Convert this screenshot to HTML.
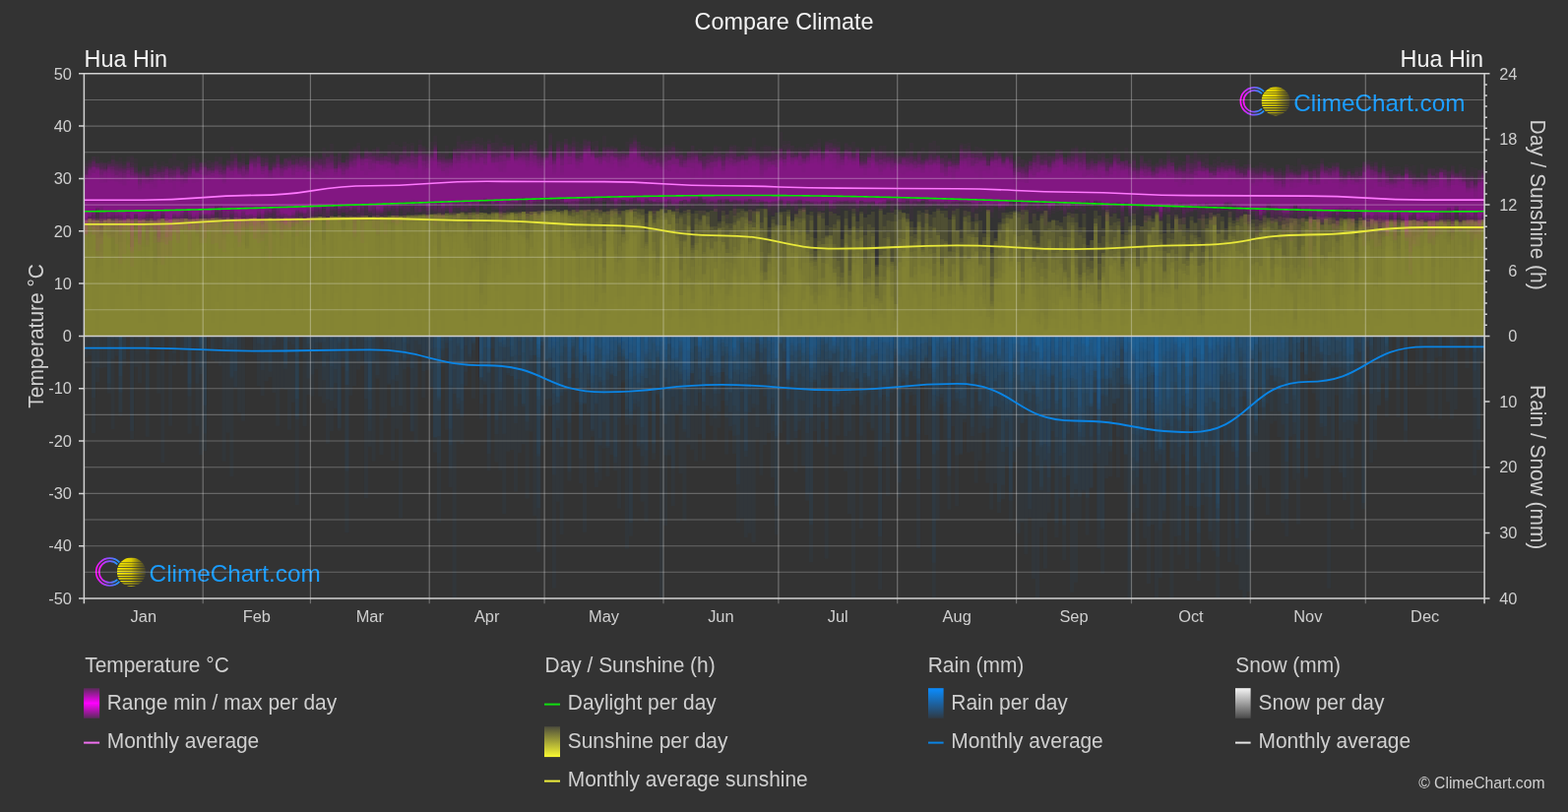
<!DOCTYPE html>
<html><head><meta charset="utf-8"><title>Compare Climate - Hua Hin</title>
<style>html,body{margin:0;padding:0;background:#333;width:1593px;height:825px;overflow:hidden}svg{display:block}</style>
</head><body>
<svg width="1593" height="825" viewBox="0 0 1593 825" font-family="'Liberation Sans', Arial, sans-serif">
<defs>
<clipPath id="pc"><rect x="85.4" y="74.8" width="1422.7" height="533.2"/></clipPath>
<linearGradient id="gRange" x1="0" y1="0" x2="0" y2="1"><stop offset="0" stop-color="#5a2a5a"/><stop offset="0.5" stop-color="#ff00ff"/><stop offset="1" stop-color="#5a2a5a"/></linearGradient>
<linearGradient id="gSun" x1="0" y1="0" x2="0" y2="1"><stop offset="0" stop-color="#4d4d3c"/><stop offset="1" stop-color="#fafa32"/></linearGradient>
<linearGradient id="gRain" x1="0" y1="0" x2="0" y2="1"><stop offset="0" stop-color="#0a8cff"/><stop offset="1" stop-color="#2f3a45"/></linearGradient>
<linearGradient id="gSnow" x1="0" y1="0" x2="0" y2="1"><stop offset="0" stop-color="#f4f4f4"/><stop offset="1" stop-color="#4a4a4a"/></linearGradient>
<linearGradient id="gRing" x1="0" y1="0" x2="1" y2="0"><stop offset="0" stop-color="#ff10ff"/><stop offset="0.5" stop-color="#8c50ff"/><stop offset="1" stop-color="#1a9cff"/></linearGradient>
<linearGradient id="gSunL" x1="0" y1="0" x2="1" y2="0"><stop offset="0" stop-color="#fff200"/><stop offset="0.5" stop-color="#d8c800"/><stop offset="1" stop-color="#b0a000" stop-opacity="0.15"/></linearGradient>
</defs>
<rect width="1593" height="825" fill="#333"/>
<g clip-path="url(#pc)">
<g fill="#8d8b36" fill-opacity="0.18">
<path d="M85.4 341.4V232h3.9V222h3.9V225h3.9V224h3.9V315h3.9V224h3.9V222h3.9V255h3.9V225h3.9V314h3.9V225h3.9V249h3.9V223h3.9V223h3.9V248h3.9V299h3.9V225h3.9V235h3.9V225h3.9V222h3.9V222h3.9V224h3.9V223h3.9V225h3.9V222h3.9V224h3.9V222h3.9V309h3.9V223h3.9V224h3.9V224h3.9V227h3.9V223h3.9V222h3.9V224h3.9V223h3.9V223h3.9V224h3.9V223h3.9V223h3.9V222h3.9V249h3.9V223h3.9V222h3.9V221h3.9V222h3.9V272h3.9V222h3.9V223h3.9V298h3.9V231h3.9V221h3.9V252h3.9V223h3.9V224h3.9V222h3.9V222h3.9V252h3.9V292h3.9V220h3.9V227h3.9V221h3.9V249h3.9V221h3.9V335h3.9V220h3.9V221h3.9V222h3.9V254h3.9V220h3.9V220h3.9V221h3.9V220h3.9V219h3.9V220h3.9V221h3.9V221h3.9V222h3.9V285h3.9V269h3.9V224h3.9V229h3.9V295h3.9V219h3.9V220h3.9V219h3.9V221h3.9V218h3.9V220h3.9V219h3.9V322h3.9V218h3.9V325h3.9V338h3.9V232h3.9V218h3.9V218h3.9V248h3.9V232h3.9V326h3.9V216h3.9V219h3.9V266h3.9V218h3.9V217h3.9V218h3.9V216h3.9V217h3.9V225h3.9V216h3.9V244h3.9V218h3.9V217h3.9V219h3.9V215h3.9V217h3.9V319h3.9V307h3.9V261h3.9V215h3.9V227h3.9V264h3.9V213h3.9V222h3.9V241h3.9V232h3.9V217h3.9V220h3.9V340h3.9V214h3.9V281h3.9V247h3.9V336h3.9V233h3.9V222h3.9V330h3.9V231h3.9V309h3.9V290h3.9V219h3.9V247h3.9V277h3.9V214h3.9V220h3.9V280h3.9V300h3.9V285h3.9V258h3.9V217h3.9V301h3.9V334h3.9V307h3.9V228h3.9V214h3.9V252h3.9V316h3.9V284h3.9V216h3.9V333h3.9V279h3.9V288h3.9V218h3.9V269h3.9V315h3.9V230h3.9V227h3.9V292h3.9V257h3.9V303h3.9V299h3.9V254h3.9V248h3.9V290h3.9V246h3.9V275h3.9V215h3.9V304h3.9V305h3.9V316h3.9V271h3.9V264h3.9V238h3.9V215h3.9V323h3.9V230h3.9V232h3.9V236h3.9V213h3.9V249h3.9V267h3.9V255h3.9V333h3.9V222h3.9V253h3.9V231h3.9V285h3.9V223h3.9V302h3.9V229h3.9V311h3.9V258h3.9V264h3.9V317h3.9V239h3.9V281h3.9V309h3.9V303h3.9V341h3.9V341h3.9V224h3.9V336h3.9V333h3.9V242h3.9V312h3.9V244h3.9V250h3.9V263h3.9V218h3.9V310h3.9V335h3.9V248h3.9V339h3.9V332h3.9V270h3.9V262h3.9V331h3.9V223h3.9V234h3.9V286h3.9V249h3.9V269h3.9V241h3.9V333h3.9V270h3.9V261h3.9V213h3.9V306h3.9V245h3.9V282h3.9V285h3.9V216h3.9V223h3.9V252h3.9V266h3.9V276h3.9V274h3.9V272h3.9V324h3.9V305h3.9V253h3.9V273h3.9V250h3.9V288h3.9V324h3.9V300h3.9V333h3.9V304h3.9V287h3.9V322h3.9V303h3.9V217h3.9V310h3.9V319h3.9V306h3.9V268h3.9V232h3.9V213h3.9V255h3.9V235h3.9V235h3.9V268h3.9V239h3.9V233h3.9V230h3.9V271h3.9V313h3.9V265h3.9V275h3.9V266h3.9V252h3.9V332h3.9V329h3.9V292h3.9V247h3.9V324h3.9V334h3.9V278h3.9V236h3.9V269h3.9V252h3.9V222h3.9V300h3.9V289h3.9V288h3.9V220h3.9V277h3.9V260h3.9V246h3.9V248h3.9V249h3.9V270h3.9V300h3.9V275h3.9V218h3.9V247h3.9V288h3.9V236h3.9V219h3.9V331h3.9V264h3.9V226h3.9V328h3.9V221h3.9V222h3.9V227h3.9V222h3.9V260h3.9V324h3.9V239h3.9V307h3.9V223h3.9V225h3.9V259h3.9V340h3.9V272h3.9V234h3.9V228h3.9V230h3.9V302h3.9V222h3.9V223h3.9V224h3.9V227h3.9V322h3.9V236h3.9V290h3.9V292h3.9V238h3.9V262h3.9V224h3.9V226h3.9V289h3.9V262h3.9V226h3.9V275h3.9V224h3.9V224h3.9V260h3.9V226h3.9V226h3.9V279h3.9V226h3.9V244h3.9V295h3.9V224h3.9V223h3.9V312h3.9V223h3.9V261h3.9V227h3.9V223h3.9V223h3.9V226h3.9V227h3.9V232h3.9V341.4Z"/>
<path d="M85.4 341.4V224h3.9V237h3.9V238h3.9V224h3.9V240h3.9V224h3.9V241h3.9V233h3.9V313h3.9V224h3.9V224h3.9V301h3.9V222h3.9V224h3.9V310h3.9V328h3.9V244h3.9V230h3.9V240h3.9V264h3.9V229h3.9V225h3.9V224h3.9V225h3.9V223h3.9V233h3.9V224h3.9V319h3.9V223h3.9V222h3.9V223h3.9V227h3.9V225h3.9V223h3.9V223h3.9V222h3.9V223h3.9V224h3.9V226h3.9V224h3.9V223h3.9V224h3.9V312h3.9V222h3.9V221h3.9V223h3.9V284h3.9V223h3.9V222h3.9V223h3.9V292h3.9V223h3.9V268h3.9V222h3.9V265h3.9V296h3.9V222h3.9V224h3.9V222h3.9V222h3.9V222h3.9V225h3.9V307h3.9V222h3.9V222h3.9V222h3.9V222h3.9V220h3.9V222h3.9V224h3.9V245h3.9V220h3.9V266h3.9V220h3.9V220h3.9V220h3.9V220h3.9V259h3.9V227h3.9V227h3.9V220h3.9V222h3.9V220h3.9V221h3.9V259h3.9V225h3.9V240h3.9V221h3.9V220h3.9V327h3.9V219h3.9V250h3.9V218h3.9V288h3.9V290h3.9V219h3.9V220h3.9V217h3.9V218h3.9V219h3.9V218h3.9V233h3.9V218h3.9V298h3.9V265h3.9V269h3.9V217h3.9V218h3.9V217h3.9V219h3.9V217h3.9V216h3.9V229h3.9V230h3.9V248h3.9V272h3.9V218h3.9V282h3.9V219h3.9V217h3.9V216h3.9V214h3.9V215h3.9V216h3.9V307h3.9V215h3.9V313h3.9V288h3.9V338h3.9V225h3.9V213h3.9V282h3.9V264h3.9V307h3.9V235h3.9V298h3.9V214h3.9V214h3.9V216h3.9V301h3.9V274h3.9V215h3.9V216h3.9V237h3.9V319h3.9V291h3.9V226h3.9V219h3.9V322h3.9V280h3.9V260h3.9V223h3.9V306h3.9V216h3.9V212h3.9V322h3.9V217h3.9V213h3.9V309h3.9V254h3.9V323h3.9V256h3.9V274h3.9V257h3.9V277h3.9V225h3.9V219h3.9V253h3.9V257h3.9V276h3.9V216h3.9V232h3.9V216h3.9V213h3.9V335h3.9V216h3.9V232h3.9V277h3.9V275h3.9V243h3.9V216h3.9V335h3.9V340h3.9V245h3.9V293h3.9V223h3.9V284h3.9V236h3.9V287h3.9V334h3.9V321h3.9V258h3.9V327h3.9V303h3.9V294h3.9V248h3.9V326h3.9V251h3.9V236h3.9V297h3.9V217h3.9V311h3.9V242h3.9V324h3.9V251h3.9V298h3.9V306h3.9V317h3.9V255h3.9V216h3.9V333h3.9V274h3.9V328h3.9V259h3.9V241h3.9V252h3.9V303h3.9V226h3.9V295h3.9V261h3.9V281h3.9V319h3.9V212h3.9V301h3.9V280h3.9V256h3.9V214h3.9V327h3.9V291h3.9V341h3.9V279h3.9V273h3.9V277h3.9V336h3.9V255h3.9V338h3.9V281h3.9V254h3.9V260h3.9V278h3.9V233h3.9V222h3.9V235h3.9V217h3.9V313h3.9V324h3.9V252h3.9V217h3.9V307h3.9V273h3.9V234h3.9V333h3.9V294h3.9V315h3.9V232h3.9V277h3.9V286h3.9V266h3.9V321h3.9V295h3.9V316h3.9V280h3.9V277h3.9V272h3.9V247h3.9V287h3.9V304h3.9V233h3.9V309h3.9V280h3.9V309h3.9V236h3.9V307h3.9V229h3.9V274h3.9V334h3.9V307h3.9V249h3.9V327h3.9V219h3.9V224h3.9V319h3.9V257h3.9V304h3.9V223h3.9V222h3.9V246h3.9V263h3.9V312h3.9V279h3.9V329h3.9V218h3.9V266h3.9V298h3.9V218h3.9V319h3.9V300h3.9V259h3.9V286h3.9V230h3.9V255h3.9V222h3.9V218h3.9V228h3.9V296h3.9V237h3.9V276h3.9V318h3.9V224h3.9V292h3.9V244h3.9V271h3.9V322h3.9V300h3.9V309h3.9V324h3.9V299h3.9V251h3.9V329h3.9V273h3.9V294h3.9V238h3.9V327h3.9V280h3.9V221h3.9V233h3.9V224h3.9V319h3.9V223h3.9V228h3.9V267h3.9V231h3.9V310h3.9V224h3.9V231h3.9V222h3.9V279h3.9V243h3.9V264h3.9V229h3.9V224h3.9V230h3.9V253h3.9V317h3.9V225h3.9V234h3.9V231h3.9V226h3.9V231h3.9V233h3.9V253h3.9V227h3.9V226h3.9V229h3.9V304h3.9V232h3.9V240h3.9V225h3.9V261h3.9V225h3.9V224h3.9V264h3.9V224h3.9V281h3.9V225h3.9V341.4Z"/>
<path d="M85.4 341.4V230h3.9V224h3.9V223h3.9V222h3.9V276h3.9V224h3.9V225h3.9V314h3.9V223h3.9V225h3.9V225h3.9V223h3.9V230h3.9V222h3.9V224h3.9V229h3.9V224h3.9V285h3.9V289h3.9V241h3.9V341h3.9V227h3.9V224h3.9V237h3.9V238h3.9V224h3.9V225h3.9V226h3.9V223h3.9V222h3.9V224h3.9V223h3.9V222h3.9V224h3.9V222h3.9V224h3.9V223h3.9V222h3.9V223h3.9V221h3.9V223h3.9V224h3.9V223h3.9V275h3.9V231h3.9V252h3.9V222h3.9V222h3.9V222h3.9V223h3.9V223h3.9V223h3.9V223h3.9V224h3.9V241h3.9V221h3.9V223h3.9V222h3.9V221h3.9V221h3.9V221h3.9V220h3.9V244h3.9V237h3.9V222h3.9V298h3.9V222h3.9V241h3.9V220h3.9V262h3.9V227h3.9V222h3.9V220h3.9V221h3.9V273h3.9V232h3.9V222h3.9V222h3.9V242h3.9V219h3.9V219h3.9V219h3.9V221h3.9V220h3.9V248h3.9V303h3.9V221h3.9V220h3.9V229h3.9V277h3.9V287h3.9V237h3.9V219h3.9V227h3.9V219h3.9V219h3.9V219h3.9V217h3.9V228h3.9V220h3.9V232h3.9V227h3.9V217h3.9V230h3.9V309h3.9V219h3.9V225h3.9V216h3.9V222h3.9V284h3.9V217h3.9V218h3.9V217h3.9V282h3.9V216h3.9V217h3.9V226h3.9V335h3.9V217h3.9V215h3.9V218h3.9V235h3.9V320h3.9V216h3.9V214h3.9V229h3.9V214h3.9V234h3.9V216h3.9V222h3.9V256h3.9V250h3.9V312h3.9V261h3.9V221h3.9V217h3.9V225h3.9V248h3.9V215h3.9V328h3.9V320h3.9V225h3.9V226h3.9V215h3.9V212h3.9V218h3.9V276h3.9V214h3.9V336h3.9V320h3.9V240h3.9V216h3.9V336h3.9V221h3.9V257h3.9V324h3.9V236h3.9V231h3.9V337h3.9V289h3.9V225h3.9V220h3.9V216h3.9V230h3.9V266h3.9V287h3.9V225h3.9V238h3.9V339h3.9V212h3.9V320h3.9V255h3.9V284h3.9V228h3.9V263h3.9V238h3.9V226h3.9V287h3.9V247h3.9V227h3.9V282h3.9V276h3.9V229h3.9V213h3.9V336h3.9V218h3.9V239h3.9V280h3.9V291h3.9V335h3.9V310h3.9V249h3.9V242h3.9V268h3.9V215h3.9V340h3.9V325h3.9V329h3.9V214h3.9V322h3.9V230h3.9V243h3.9V334h3.9V263h3.9V302h3.9V249h3.9V279h3.9V319h3.9V334h3.9V272h3.9V302h3.9V213h3.9V215h3.9V316h3.9V217h3.9V334h3.9V320h3.9V311h3.9V331h3.9V295h3.9V253h3.9V215h3.9V303h3.9V214h3.9V335h3.9V298h3.9V268h3.9V235h3.9V315h3.9V334h3.9V334h3.9V300h3.9V256h3.9V322h3.9V297h3.9V317h3.9V309h3.9V313h3.9V307h3.9V244h3.9V222h3.9V266h3.9V215h3.9V269h3.9V282h3.9V293h3.9V294h3.9V284h3.9V291h3.9V330h3.9V214h3.9V324h3.9V277h3.9V274h3.9V253h3.9V283h3.9V219h3.9V323h3.9V257h3.9V338h3.9V314h3.9V271h3.9V244h3.9V335h3.9V316h3.9V257h3.9V326h3.9V262h3.9V241h3.9V225h3.9V293h3.9V331h3.9V263h3.9V223h3.9V331h3.9V322h3.9V266h3.9V238h3.9V231h3.9V244h3.9V271h3.9V283h3.9V330h3.9V237h3.9V334h3.9V261h3.9V339h3.9V334h3.9V326h3.9V227h3.9V339h3.9V288h3.9V247h3.9V223h3.9V248h3.9V296h3.9V243h3.9V232h3.9V238h3.9V243h3.9V244h3.9V340h3.9V235h3.9V225h3.9V245h3.9V326h3.9V224h3.9V228h3.9V230h3.9V273h3.9V334h3.9V279h3.9V273h3.9V227h3.9V244h3.9V338h3.9V228h3.9V222h3.9V308h3.9V275h3.9V231h3.9V224h3.9V315h3.9V220h3.9V256h3.9V228h3.9V325h3.9V250h3.9V228h3.9V230h3.9V237h3.9V318h3.9V221h3.9V240h3.9V271h3.9V223h3.9V227h3.9V224h3.9V225h3.9V223h3.9V250h3.9V224h3.9V264h3.9V310h3.9V231h3.9V225h3.9V224h3.9V252h3.9V226h3.9V242h3.9V247h3.9V319h3.9V226h3.9V315h3.9V295h3.9V225h3.9V225h3.9V223h3.9V229h3.9V292h3.9V230h3.9V225h3.9V237h3.9V298h3.9V256h3.9V341.4Z"/>
<path d="M85.4 341.4V314h3.9V223h3.9V224h3.9V224h3.9V242h3.9V225h3.9V225h3.9V258h3.9V225h3.9V223h3.9V225h3.9V223h3.9V228h3.9V254h3.9V222h3.9V223h3.9V225h3.9V246h3.9V223h3.9V222h3.9V247h3.9V222h3.9V227h3.9V222h3.9V224h3.9V224h3.9V224h3.9V222h3.9V222h3.9V240h3.9V222h3.9V222h3.9V223h3.9V223h3.9V223h3.9V223h3.9V326h3.9V222h3.9V222h3.9V223h3.9V222h3.9V222h3.9V223h3.9V222h3.9V223h3.9V223h3.9V224h3.9V223h3.9V227h3.9V264h3.9V221h3.9V232h3.9V221h3.9V226h3.9V313h3.9V222h3.9V223h3.9V222h3.9V289h3.9V222h3.9V221h3.9V222h3.9V221h3.9V237h3.9V220h3.9V220h3.9V220h3.9V238h3.9V220h3.9V245h3.9V220h3.9V221h3.9V232h3.9V219h3.9V270h3.9V220h3.9V255h3.9V221h3.9V222h3.9V222h3.9V258h3.9V220h3.9V231h3.9V221h3.9V332h3.9V220h3.9V226h3.9V220h3.9V224h3.9V220h3.9V218h3.9V217h3.9V271h3.9V219h3.9V219h3.9V264h3.9V229h3.9V226h3.9V224h3.9V247h3.9V281h3.9V216h3.9V216h3.9V305h3.9V289h3.9V217h3.9V253h3.9V221h3.9V228h3.9V282h3.9V218h3.9V240h3.9V216h3.9V341h3.9V218h3.9V323h3.9V215h3.9V215h3.9V219h3.9V216h3.9V218h3.9V217h3.9V223h3.9V215h3.9V218h3.9V213h3.9V221h3.9V213h3.9V261h3.9V258h3.9V237h3.9V252h3.9V263h3.9V314h3.9V300h3.9V319h3.9V215h3.9V229h3.9V276h3.9V264h3.9V241h3.9V217h3.9V332h3.9V212h3.9V213h3.9V252h3.9V246h3.9V273h3.9V214h3.9V322h3.9V268h3.9V265h3.9V300h3.9V233h3.9V235h3.9V275h3.9V244h3.9V213h3.9V264h3.9V301h3.9V239h3.9V219h3.9V310h3.9V340h3.9V272h3.9V237h3.9V238h3.9V227h3.9V322h3.9V219h3.9V224h3.9V279h3.9V237h3.9V314h3.9V297h3.9V214h3.9V277h3.9V212h3.9V325h3.9V324h3.9V262h3.9V218h3.9V302h3.9V319h3.9V305h3.9V234h3.9V273h3.9V307h3.9V297h3.9V301h3.9V274h3.9V245h3.9V326h3.9V264h3.9V239h3.9V228h3.9V330h3.9V252h3.9V249h3.9V239h3.9V323h3.9V257h3.9V262h3.9V312h3.9V228h3.9V285h3.9V335h3.9V323h3.9V281h3.9V250h3.9V266h3.9V248h3.9V302h3.9V216h3.9V318h3.9V231h3.9V242h3.9V315h3.9V279h3.9V277h3.9V218h3.9V297h3.9V320h3.9V217h3.9V310h3.9V281h3.9V256h3.9V306h3.9V233h3.9V259h3.9V289h3.9V281h3.9V255h3.9V269h3.9V270h3.9V322h3.9V257h3.9V306h3.9V228h3.9V216h3.9V306h3.9V271h3.9V284h3.9V275h3.9V322h3.9V321h3.9V273h3.9V324h3.9V327h3.9V281h3.9V336h3.9V225h3.9V277h3.9V279h3.9V240h3.9V233h3.9V282h3.9V217h3.9V333h3.9V341h3.9V231h3.9V253h3.9V325h3.9V319h3.9V306h3.9V282h3.9V310h3.9V270h3.9V306h3.9V229h3.9V330h3.9V329h3.9V268h3.9V267h3.9V270h3.9V322h3.9V330h3.9V298h3.9V328h3.9V313h3.9V251h3.9V250h3.9V302h3.9V266h3.9V294h3.9V247h3.9V221h3.9V279h3.9V224h3.9V265h3.9V294h3.9V333h3.9V253h3.9V299h3.9V240h3.9V249h3.9V329h3.9V271h3.9V255h3.9V247h3.9V292h3.9V264h3.9V333h3.9V318h3.9V223h3.9V267h3.9V331h3.9V290h3.9V221h3.9V224h3.9V269h3.9V321h3.9V301h3.9V295h3.9V298h3.9V234h3.9V239h3.9V230h3.9V333h3.9V222h3.9V223h3.9V245h3.9V328h3.9V245h3.9V256h3.9V256h3.9V265h3.9V225h3.9V321h3.9V286h3.9V223h3.9V244h3.9V273h3.9V235h3.9V225h3.9V223h3.9V224h3.9V282h3.9V253h3.9V225h3.9V223h3.9V255h3.9V230h3.9V225h3.9V226h3.9V226h3.9V239h3.9V238h3.9V309h3.9V238h3.9V225h3.9V228h3.9V248h3.9V311h3.9V257h3.9V305h3.9V236h3.9V226h3.9V236h3.9V332h3.9V276h3.9V263h3.9V237h3.9V237h3.9V223h3.9V341.4Z"/>
<path d="M85.4 341.4V223h3.9V241h3.9V233h3.9V287h3.9V233h3.9V238h3.9V223h3.9V224h3.9V235h3.9V234h3.9V239h3.9V227h3.9V223h3.9V225h3.9V224h3.9V222h3.9V301h3.9V224h3.9V225h3.9V338h3.9V322h3.9V224h3.9V226h3.9V222h3.9V224h3.9V272h3.9V222h3.9V224h3.9V223h3.9V224h3.9V223h3.9V222h3.9V222h3.9V277h3.9V221h3.9V224h3.9V226h3.9V246h3.9V252h3.9V224h3.9V281h3.9V224h3.9V297h3.9V311h3.9V224h3.9V223h3.9V228h3.9V223h3.9V223h3.9V221h3.9V319h3.9V225h3.9V222h3.9V303h3.9V273h3.9V221h3.9V232h3.9V222h3.9V221h3.9V313h3.9V221h3.9V220h3.9V340h3.9V221h3.9V255h3.9V221h3.9V219h3.9V231h3.9V221h3.9V221h3.9V252h3.9V222h3.9V222h3.9V222h3.9V220h3.9V220h3.9V240h3.9V220h3.9V220h3.9V220h3.9V219h3.9V219h3.9V219h3.9V236h3.9V221h3.9V219h3.9V219h3.9V338h3.9V219h3.9V219h3.9V222h3.9V218h3.9V254h3.9V222h3.9V219h3.9V225h3.9V253h3.9V217h3.9V217h3.9V326h3.9V252h3.9V274h3.9V308h3.9V216h3.9V324h3.9V280h3.9V215h3.9V225h3.9V224h3.9V216h3.9V219h3.9V216h3.9V215h3.9V217h3.9V215h3.9V217h3.9V215h3.9V216h3.9V217h3.9V214h3.9V214h3.9V304h3.9V274h3.9V215h3.9V245h3.9V214h3.9V219h3.9V222h3.9V213h3.9V253h3.9V231h3.9V235h3.9V217h3.9V216h3.9V221h3.9V260h3.9V230h3.9V224h3.9V227h3.9V313h3.9V238h3.9V248h3.9V213h3.9V311h3.9V222h3.9V278h3.9V253h3.9V219h3.9V227h3.9V214h3.9V223h3.9V223h3.9V213h3.9V306h3.9V272h3.9V332h3.9V298h3.9V282h3.9V295h3.9V337h3.9V239h3.9V323h3.9V246h3.9V301h3.9V246h3.9V309h3.9V246h3.9V229h3.9V232h3.9V251h3.9V222h3.9V220h3.9V235h3.9V263h3.9V244h3.9V265h3.9V275h3.9V306h3.9V257h3.9V220h3.9V228h3.9V322h3.9V233h3.9V215h3.9V224h3.9V257h3.9V279h3.9V222h3.9V244h3.9V340h3.9V308h3.9V217h3.9V296h3.9V291h3.9V296h3.9V273h3.9V271h3.9V312h3.9V305h3.9V275h3.9V243h3.9V327h3.9V272h3.9V312h3.9V290h3.9V340h3.9V269h3.9V259h3.9V230h3.9V288h3.9V268h3.9V314h3.9V267h3.9V255h3.9V305h3.9V240h3.9V299h3.9V214h3.9V332h3.9V267h3.9V303h3.9V268h3.9V239h3.9V302h3.9V262h3.9V260h3.9V269h3.9V320h3.9V242h3.9V221h3.9V215h3.9V308h3.9V225h3.9V249h3.9V317h3.9V214h3.9V328h3.9V245h3.9V294h3.9V308h3.9V246h3.9V306h3.9V273h3.9V254h3.9V321h3.9V255h3.9V227h3.9V271h3.9V259h3.9V281h3.9V291h3.9V275h3.9V333h3.9V291h3.9V226h3.9V241h3.9V296h3.9V226h3.9V294h3.9V324h3.9V313h3.9V284h3.9V303h3.9V227h3.9V309h3.9V271h3.9V297h3.9V260h3.9V264h3.9V299h3.9V312h3.9V310h3.9V226h3.9V339h3.9V279h3.9V254h3.9V268h3.9V282h3.9V312h3.9V217h3.9V299h3.9V294h3.9V257h3.9V243h3.9V222h3.9V329h3.9V275h3.9V308h3.9V220h3.9V287h3.9V241h3.9V320h3.9V309h3.9V321h3.9V229h3.9V282h3.9V234h3.9V329h3.9V252h3.9V227h3.9V273h3.9V265h3.9V303h3.9V301h3.9V268h3.9V235h3.9V270h3.9V231h3.9V245h3.9V225h3.9V310h3.9V249h3.9V260h3.9V234h3.9V305h3.9V328h3.9V260h3.9V277h3.9V233h3.9V222h3.9V285h3.9V223h3.9V268h3.9V329h3.9V239h3.9V277h3.9V225h3.9V222h3.9V223h3.9V223h3.9V227h3.9V285h3.9V221h3.9V256h3.9V247h3.9V222h3.9V226h3.9V297h3.9V227h3.9V240h3.9V255h3.9V261h3.9V229h3.9V226h3.9V224h3.9V224h3.9V226h3.9V225h3.9V292h3.9V237h3.9V301h3.9V293h3.9V225h3.9V224h3.9V285h3.9V249h3.9V224h3.9V325h3.9V228h3.9V224h3.9V223h3.9V223h3.9V253h3.9V225h3.9V226h3.9V341.4Z"/>
<path d="M85.4 341.4V229h3.9V262h3.9V224h3.9V224h3.9V225h3.9V223h3.9V223h3.9V315h3.9V238h3.9V246h3.9V228h3.9V222h3.9V225h3.9V289h3.9V224h3.9V251h3.9V224h3.9V224h3.9V225h3.9V224h3.9V224h3.9V224h3.9V235h3.9V224h3.9V295h3.9V222h3.9V222h3.9V224h3.9V225h3.9V300h3.9V242h3.9V224h3.9V222h3.9V279h3.9V223h3.9V221h3.9V244h3.9V224h3.9V222h3.9V247h3.9V222h3.9V223h3.9V223h3.9V222h3.9V224h3.9V223h3.9V228h3.9V223h3.9V221h3.9V258h3.9V242h3.9V265h3.9V223h3.9V222h3.9V221h3.9V221h3.9V222h3.9V222h3.9V222h3.9V224h3.9V220h3.9V220h3.9V221h3.9V221h3.9V220h3.9V220h3.9V221h3.9V222h3.9V219h3.9V221h3.9V338h3.9V303h3.9V220h3.9V221h3.9V222h3.9V222h3.9V270h3.9V222h3.9V229h3.9V219h3.9V220h3.9V221h3.9V221h3.9V222h3.9V221h3.9V219h3.9V220h3.9V220h3.9V217h3.9V220h3.9V218h3.9V219h3.9V217h3.9V217h3.9V217h3.9V240h3.9V237h3.9V216h3.9V261h3.9V227h3.9V234h3.9V272h3.9V221h3.9V216h3.9V225h3.9V231h3.9V229h3.9V215h3.9V215h3.9V272h3.9V256h3.9V215h3.9V331h3.9V217h3.9V233h3.9V244h3.9V215h3.9V217h3.9V237h3.9V214h3.9V214h3.9V215h3.9V214h3.9V241h3.9V329h3.9V313h3.9V242h3.9V255h3.9V224h3.9V330h3.9V213h3.9V213h3.9V253h3.9V291h3.9V214h3.9V277h3.9V252h3.9V215h3.9V222h3.9V265h3.9V287h3.9V253h3.9V212h3.9V212h3.9V223h3.9V219h3.9V279h3.9V224h3.9V282h3.9V285h3.9V230h3.9V318h3.9V216h3.9V215h3.9V277h3.9V300h3.9V246h3.9V293h3.9V249h3.9V254h3.9V261h3.9V283h3.9V243h3.9V328h3.9V273h3.9V294h3.9V214h3.9V339h3.9V312h3.9V228h3.9V281h3.9V241h3.9V215h3.9V264h3.9V245h3.9V279h3.9V280h3.9V331h3.9V268h3.9V223h3.9V230h3.9V332h3.9V299h3.9V304h3.9V257h3.9V246h3.9V222h3.9V267h3.9V317h3.9V300h3.9V321h3.9V215h3.9V315h3.9V310h3.9V262h3.9V232h3.9V292h3.9V288h3.9V294h3.9V315h3.9V297h3.9V253h3.9V299h3.9V289h3.9V235h3.9V240h3.9V325h3.9V214h3.9V270h3.9V284h3.9V314h3.9V309h3.9V275h3.9V216h3.9V225h3.9V282h3.9V255h3.9V269h3.9V259h3.9V213h3.9V273h3.9V324h3.9V266h3.9V251h3.9V250h3.9V334h3.9V218h3.9V257h3.9V290h3.9V283h3.9V294h3.9V238h3.9V217h3.9V224h3.9V290h3.9V284h3.9V320h3.9V277h3.9V235h3.9V261h3.9V218h3.9V222h3.9V214h3.9V266h3.9V319h3.9V243h3.9V316h3.9V294h3.9V247h3.9V219h3.9V214h3.9V321h3.9V262h3.9V252h3.9V304h3.9V276h3.9V294h3.9V251h3.9V278h3.9V325h3.9V242h3.9V260h3.9V244h3.9V222h3.9V338h3.9V291h3.9V218h3.9V248h3.9V274h3.9V280h3.9V322h3.9V220h3.9V239h3.9V256h3.9V236h3.9V230h3.9V261h3.9V221h3.9V225h3.9V215h3.9V255h3.9V275h3.9V242h3.9V299h3.9V295h3.9V315h3.9V303h3.9V321h3.9V237h3.9V245h3.9V305h3.9V281h3.9V232h3.9V216h3.9V228h3.9V287h3.9V296h3.9V297h3.9V226h3.9V262h3.9V221h3.9V317h3.9V304h3.9V283h3.9V322h3.9V240h3.9V236h3.9V221h3.9V238h3.9V292h3.9V244h3.9V338h3.9V272h3.9V272h3.9V229h3.9V272h3.9V294h3.9V249h3.9V335h3.9V234h3.9V250h3.9V220h3.9V233h3.9V263h3.9V276h3.9V309h3.9V265h3.9V223h3.9V294h3.9V305h3.9V253h3.9V241h3.9V229h3.9V223h3.9V256h3.9V314h3.9V291h3.9V253h3.9V224h3.9V224h3.9V225h3.9V225h3.9V226h3.9V226h3.9V228h3.9V223h3.9V227h3.9V225h3.9V225h3.9V260h3.9V225h3.9V312h3.9V224h3.9V239h3.9V228h3.9V223h3.9V243h3.9V239h3.9V233h3.9V264h3.9V280h3.9V287h3.9V225h3.9V226h3.9V328h3.9V341.4Z"/>
<path d="M85.4 341.4V224h3.9V222h3.9V224h3.9V224h3.9V232h3.9V224h3.9V224h3.9V224h3.9V299h3.9V253h3.9V223h3.9V225h3.9V227h3.9V231h3.9V224h3.9V265h3.9V224h3.9V234h3.9V291h3.9V223h3.9V243h3.9V335h3.9V259h3.9V223h3.9V268h3.9V222h3.9V223h3.9V223h3.9V307h3.9V222h3.9V223h3.9V224h3.9V316h3.9V222h3.9V225h3.9V222h3.9V224h3.9V222h3.9V224h3.9V224h3.9V225h3.9V222h3.9V221h3.9V224h3.9V222h3.9V224h3.9V223h3.9V299h3.9V316h3.9V223h3.9V224h3.9V223h3.9V221h3.9V223h3.9V221h3.9V223h3.9V220h3.9V223h3.9V221h3.9V221h3.9V223h3.9V220h3.9V268h3.9V221h3.9V220h3.9V220h3.9V234h3.9V221h3.9V236h3.9V221h3.9V321h3.9V222h3.9V221h3.9V224h3.9V235h3.9V220h3.9V269h3.9V312h3.9V222h3.9V308h3.9V300h3.9V223h3.9V219h3.9V296h3.9V219h3.9V221h3.9V219h3.9V219h3.9V220h3.9V218h3.9V218h3.9V253h3.9V276h3.9V226h3.9V236h3.9V227h3.9V231h3.9V218h3.9V221h3.9V227h3.9V216h3.9V225h3.9V221h3.9V216h3.9V221h3.9V217h3.9V241h3.9V268h3.9V221h3.9V221h3.9V280h3.9V219h3.9V217h3.9V232h3.9V243h3.9V242h3.9V282h3.9V217h3.9V246h3.9V309h3.9V214h3.9V257h3.9V219h3.9V215h3.9V313h3.9V214h3.9V294h3.9V214h3.9V261h3.9V275h3.9V300h3.9V336h3.9V214h3.9V257h3.9V217h3.9V215h3.9V255h3.9V221h3.9V279h3.9V304h3.9V215h3.9V244h3.9V223h3.9V227h3.9V224h3.9V213h3.9V217h3.9V215h3.9V223h3.9V223h3.9V213h3.9V217h3.9V289h3.9V266h3.9V252h3.9V245h3.9V327h3.9V283h3.9V322h3.9V222h3.9V285h3.9V279h3.9V262h3.9V214h3.9V234h3.9V245h3.9V330h3.9V266h3.9V295h3.9V274h3.9V302h3.9V244h3.9V289h3.9V225h3.9V231h3.9V215h3.9V212h3.9V297h3.9V308h3.9V288h3.9V229h3.9V260h3.9V279h3.9V239h3.9V249h3.9V261h3.9V334h3.9V335h3.9V218h3.9V215h3.9V305h3.9V263h3.9V290h3.9V301h3.9V333h3.9V325h3.9V265h3.9V277h3.9V308h3.9V311h3.9V212h3.9V225h3.9V313h3.9V268h3.9V328h3.9V275h3.9V300h3.9V306h3.9V315h3.9V293h3.9V270h3.9V338h3.9V316h3.9V255h3.9V233h3.9V332h3.9V286h3.9V243h3.9V271h3.9V251h3.9V324h3.9V280h3.9V249h3.9V276h3.9V339h3.9V281h3.9V291h3.9V263h3.9V340h3.9V225h3.9V238h3.9V316h3.9V227h3.9V286h3.9V245h3.9V238h3.9V332h3.9V242h3.9V259h3.9V267h3.9V227h3.9V257h3.9V253h3.9V329h3.9V218h3.9V300h3.9V234h3.9V253h3.9V224h3.9V240h3.9V283h3.9V232h3.9V223h3.9V229h3.9V230h3.9V330h3.9V312h3.9V270h3.9V292h3.9V231h3.9V329h3.9V298h3.9V308h3.9V334h3.9V327h3.9V280h3.9V317h3.9V313h3.9V327h3.9V320h3.9V252h3.9V319h3.9V312h3.9V217h3.9V271h3.9V319h3.9V286h3.9V253h3.9V222h3.9V314h3.9V302h3.9V255h3.9V313h3.9V338h3.9V340h3.9V275h3.9V268h3.9V270h3.9V257h3.9V335h3.9V270h3.9V321h3.9V250h3.9V331h3.9V268h3.9V217h3.9V225h3.9V244h3.9V329h3.9V292h3.9V260h3.9V258h3.9V305h3.9V235h3.9V331h3.9V274h3.9V280h3.9V330h3.9V256h3.9V312h3.9V244h3.9V269h3.9V262h3.9V221h3.9V222h3.9V222h3.9V283h3.9V272h3.9V225h3.9V325h3.9V338h3.9V326h3.9V221h3.9V280h3.9V221h3.9V223h3.9V247h3.9V277h3.9V222h3.9V238h3.9V222h3.9V227h3.9V242h3.9V329h3.9V245h3.9V223h3.9V225h3.9V247h3.9V241h3.9V225h3.9V225h3.9V247h3.9V235h3.9V228h3.9V292h3.9V259h3.9V231h3.9V224h3.9V224h3.9V225h3.9V226h3.9V271h3.9V266h3.9V272h3.9V228h3.9V226h3.9V324h3.9V224h3.9V225h3.9V226h3.9V311h3.9V339h3.9V249h3.9V223h3.9V224h3.9V341.4Z"/>
<path d="M85.4 341.4V225h3.9V273h3.9V315h3.9V272h3.9V223h3.9V224h3.9V312h3.9V277h3.9V224h3.9V230h3.9V234h3.9V248h3.9V225h3.9V242h3.9V224h3.9V229h3.9V229h3.9V224h3.9V233h3.9V289h3.9V223h3.9V225h3.9V311h3.9V279h3.9V225h3.9V222h3.9V237h3.9V226h3.9V222h3.9V223h3.9V222h3.9V222h3.9V223h3.9V222h3.9V224h3.9V336h3.9V224h3.9V223h3.9V232h3.9V221h3.9V222h3.9V223h3.9V224h3.9V222h3.9V222h3.9V223h3.9V331h3.9V257h3.9V221h3.9V224h3.9V223h3.9V298h3.9V274h3.9V222h3.9V260h3.9V237h3.9V290h3.9V293h3.9V244h3.9V242h3.9V223h3.9V236h3.9V236h3.9V223h3.9V221h3.9V222h3.9V220h3.9V235h3.9V221h3.9V220h3.9V221h3.9V220h3.9V219h3.9V247h3.9V222h3.9V286h3.9V221h3.9V220h3.9V221h3.9V221h3.9V332h3.9V219h3.9V220h3.9V314h3.9V220h3.9V238h3.9V282h3.9V218h3.9V315h3.9V219h3.9V227h3.9V219h3.9V258h3.9V219h3.9V246h3.9V271h3.9V246h3.9V217h3.9V231h3.9V218h3.9V216h3.9V276h3.9V217h3.9V332h3.9V267h3.9V284h3.9V225h3.9V216h3.9V216h3.9V333h3.9V220h3.9V216h3.9V220h3.9V239h3.9V215h3.9V328h3.9V251h3.9V220h3.9V219h3.9V219h3.9V285h3.9V215h3.9V215h3.9V216h3.9V217h3.9V218h3.9V228h3.9V252h3.9V215h3.9V323h3.9V215h3.9V213h3.9V216h3.9V213h3.9V252h3.9V293h3.9V218h3.9V217h3.9V214h3.9V214h3.9V214h3.9V213h3.9V214h3.9V238h3.9V286h3.9V293h3.9V234h3.9V217h3.9V300h3.9V221h3.9V241h3.9V224h3.9V325h3.9V274h3.9V240h3.9V258h3.9V251h3.9V280h3.9V285h3.9V214h3.9V285h3.9V318h3.9V230h3.9V340h3.9V260h3.9V232h3.9V284h3.9V257h3.9V227h3.9V226h3.9V257h3.9V236h3.9V230h3.9V299h3.9V215h3.9V278h3.9V311h3.9V212h3.9V338h3.9V328h3.9V298h3.9V299h3.9V229h3.9V220h3.9V336h3.9V234h3.9V226h3.9V304h3.9V259h3.9V271h3.9V270h3.9V331h3.9V282h3.9V239h3.9V243h3.9V291h3.9V311h3.9V314h3.9V252h3.9V289h3.9V234h3.9V278h3.9V264h3.9V283h3.9V338h3.9V264h3.9V317h3.9V235h3.9V285h3.9V271h3.9V266h3.9V326h3.9V246h3.9V271h3.9V223h3.9V283h3.9V283h3.9V326h3.9V278h3.9V320h3.9V258h3.9V331h3.9V253h3.9V336h3.9V245h3.9V309h3.9V261h3.9V254h3.9V294h3.9V316h3.9V226h3.9V225h3.9V246h3.9V300h3.9V312h3.9V324h3.9V340h3.9V283h3.9V329h3.9V333h3.9V221h3.9V266h3.9V238h3.9V315h3.9V299h3.9V256h3.9V249h3.9V302h3.9V250h3.9V329h3.9V338h3.9V287h3.9V308h3.9V255h3.9V268h3.9V296h3.9V216h3.9V233h3.9V317h3.9V308h3.9V293h3.9V316h3.9V286h3.9V327h3.9V329h3.9V240h3.9V216h3.9V229h3.9V335h3.9V222h3.9V294h3.9V307h3.9V293h3.9V229h3.9V293h3.9V230h3.9V219h3.9V239h3.9V231h3.9V260h3.9V243h3.9V324h3.9V258h3.9V254h3.9V320h3.9V291h3.9V278h3.9V244h3.9V340h3.9V262h3.9V247h3.9V267h3.9V275h3.9V294h3.9V219h3.9V238h3.9V220h3.9V243h3.9V248h3.9V281h3.9V229h3.9V236h3.9V218h3.9V239h3.9V339h3.9V304h3.9V270h3.9V240h3.9V222h3.9V281h3.9V283h3.9V252h3.9V228h3.9V333h3.9V302h3.9V276h3.9V223h3.9V264h3.9V233h3.9V255h3.9V296h3.9V226h3.9V290h3.9V223h3.9V223h3.9V227h3.9V314h3.9V300h3.9V333h3.9V256h3.9V250h3.9V320h3.9V229h3.9V258h3.9V249h3.9V238h3.9V223h3.9V236h3.9V316h3.9V255h3.9V226h3.9V226h3.9V239h3.9V227h3.9V286h3.9V224h3.9V337h3.9V268h3.9V236h3.9V230h3.9V228h3.9V224h3.9V226h3.9V225h3.9V225h3.9V228h3.9V228h3.9V272h3.9V243h3.9V225h3.9V225h3.9V223h3.9V225h3.9V223h3.9V226h3.9V341.4Z"/>
<path d="M85.4 341.4V333h3.9V224h3.9V224h3.9V242h3.9V270h3.9V222h3.9V239h3.9V223h3.9V234h3.9V224h3.9V224h3.9V224h3.9V318h3.9V223h3.9V224h3.9V224h3.9V286h3.9V225h3.9V266h3.9V269h3.9V222h3.9V224h3.9V222h3.9V225h3.9V225h3.9V222h3.9V233h3.9V233h3.9V224h3.9V224h3.9V223h3.9V222h3.9V227h3.9V222h3.9V222h3.9V222h3.9V221h3.9V224h3.9V223h3.9V223h3.9V224h3.9V222h3.9V223h3.9V221h3.9V223h3.9V277h3.9V263h3.9V222h3.9V237h3.9V224h3.9V224h3.9V227h3.9V221h3.9V223h3.9V234h3.9V223h3.9V221h3.9V235h3.9V313h3.9V220h3.9V221h3.9V222h3.9V220h3.9V221h3.9V221h3.9V221h3.9V219h3.9V220h3.9V221h3.9V222h3.9V220h3.9V224h3.9V222h3.9V239h3.9V223h3.9V219h3.9V222h3.9V252h3.9V221h3.9V334h3.9V228h3.9V315h3.9V220h3.9V283h3.9V227h3.9V218h3.9V220h3.9V220h3.9V220h3.9V218h3.9V224h3.9V217h3.9V219h3.9V219h3.9V217h3.9V216h3.9V218h3.9V227h3.9V239h3.9V338h3.9V238h3.9V219h3.9V270h3.9V224h3.9V310h3.9V219h3.9V275h3.9V218h3.9V254h3.9V331h3.9V218h3.9V216h3.9V259h3.9V216h3.9V271h3.9V223h3.9V254h3.9V215h3.9V215h3.9V216h3.9V238h3.9V220h3.9V232h3.9V216h3.9V219h3.9V220h3.9V223h3.9V213h3.9V293h3.9V323h3.9V331h3.9V311h3.9V215h3.9V310h3.9V253h3.9V245h3.9V215h3.9V224h3.9V212h3.9V267h3.9V214h3.9V221h3.9V313h3.9V221h3.9V218h3.9V234h3.9V324h3.9V215h3.9V229h3.9V215h3.9V212h3.9V217h3.9V278h3.9V233h3.9V248h3.9V300h3.9V245h3.9V320h3.9V257h3.9V217h3.9V294h3.9V219h3.9V333h3.9V299h3.9V233h3.9V232h3.9V231h3.9V301h3.9V242h3.9V268h3.9V259h3.9V293h3.9V320h3.9V231h3.9V285h3.9V228h3.9V232h3.9V284h3.9V286h3.9V231h3.9V334h3.9V339h3.9V310h3.9V287h3.9V322h3.9V238h3.9V275h3.9V305h3.9V290h3.9V265h3.9V266h3.9V327h3.9V248h3.9V240h3.9V240h3.9V295h3.9V219h3.9V295h3.9V303h3.9V338h3.9V332h3.9V232h3.9V245h3.9V252h3.9V283h3.9V215h3.9V311h3.9V308h3.9V316h3.9V263h3.9V338h3.9V321h3.9V253h3.9V243h3.9V321h3.9V225h3.9V246h3.9V245h3.9V252h3.9V217h3.9V235h3.9V231h3.9V278h3.9V243h3.9V263h3.9V262h3.9V220h3.9V248h3.9V302h3.9V266h3.9V295h3.9V236h3.9V315h3.9V268h3.9V237h3.9V241h3.9V311h3.9V323h3.9V275h3.9V332h3.9V227h3.9V271h3.9V216h3.9V275h3.9V213h3.9V213h3.9V233h3.9V266h3.9V277h3.9V341h3.9V235h3.9V243h3.9V323h3.9V310h3.9V306h3.9V220h3.9V226h3.9V315h3.9V226h3.9V295h3.9V263h3.9V298h3.9V290h3.9V310h3.9V341h3.9V315h3.9V291h3.9V326h3.9V226h3.9V256h3.9V339h3.9V265h3.9V230h3.9V284h3.9V249h3.9V330h3.9V253h3.9V285h3.9V316h3.9V216h3.9V337h3.9V277h3.9V279h3.9V253h3.9V220h3.9V331h3.9V236h3.9V270h3.9V255h3.9V270h3.9V277h3.9V341h3.9V232h3.9V264h3.9V316h3.9V291h3.9V316h3.9V265h3.9V260h3.9V236h3.9V245h3.9V219h3.9V304h3.9V280h3.9V241h3.9V230h3.9V278h3.9V232h3.9V251h3.9V238h3.9V225h3.9V233h3.9V259h3.9V260h3.9V222h3.9V331h3.9V308h3.9V281h3.9V225h3.9V287h3.9V331h3.9V296h3.9V270h3.9V295h3.9V228h3.9V303h3.9V230h3.9V229h3.9V288h3.9V222h3.9V222h3.9V256h3.9V294h3.9V238h3.9V250h3.9V224h3.9V228h3.9V319h3.9V231h3.9V228h3.9V225h3.9V224h3.9V292h3.9V226h3.9V318h3.9V284h3.9V223h3.9V253h3.9V223h3.9V250h3.9V255h3.9V225h3.9V241h3.9V226h3.9V226h3.9V225h3.9V227h3.9V281h3.9V226h3.9V278h3.9V229h3.9V224h3.9V225h3.9V334h3.9V230h3.9V341.4Z"/>
<path d="M85.4 341.4V226h3.9V309h3.9V258h3.9V224h3.9V238h3.9V224h3.9V239h3.9V225h3.9V224h3.9V224h3.9V224h3.9V226h3.9V225h3.9V261h3.9V223h3.9V225h3.9V234h3.9V222h3.9V327h3.9V224h3.9V223h3.9V225h3.9V224h3.9V224h3.9V223h3.9V227h3.9V287h3.9V223h3.9V223h3.9V223h3.9V312h3.9V224h3.9V224h3.9V222h3.9V224h3.9V296h3.9V223h3.9V225h3.9V222h3.9V222h3.9V224h3.9V224h3.9V223h3.9V224h3.9V221h3.9V222h3.9V242h3.9V250h3.9V230h3.9V315h3.9V223h3.9V222h3.9V233h3.9V223h3.9V224h3.9V223h3.9V221h3.9V222h3.9V222h3.9V221h3.9V220h3.9V221h3.9V299h3.9V221h3.9V280h3.9V221h3.9V220h3.9V220h3.9V231h3.9V219h3.9V220h3.9V219h3.9V236h3.9V221h3.9V222h3.9V221h3.9V223h3.9V301h3.9V258h3.9V228h3.9V235h3.9V221h3.9V247h3.9V322h3.9V220h3.9V220h3.9V218h3.9V218h3.9V218h3.9V221h3.9V218h3.9V218h3.9V217h3.9V218h3.9V219h3.9V257h3.9V217h3.9V223h3.9V216h3.9V252h3.9V218h3.9V258h3.9V260h3.9V218h3.9V223h3.9V260h3.9V220h3.9V217h3.9V273h3.9V233h3.9V277h3.9V218h3.9V223h3.9V227h3.9V215h3.9V316h3.9V253h3.9V217h3.9V327h3.9V230h3.9V268h3.9V318h3.9V220h3.9V218h3.9V215h3.9V213h3.9V215h3.9V220h3.9V282h3.9V252h3.9V214h3.9V275h3.9V274h3.9V314h3.9V213h3.9V308h3.9V228h3.9V214h3.9V238h3.9V221h3.9V263h3.9V216h3.9V213h3.9V259h3.9V306h3.9V278h3.9V250h3.9V228h3.9V258h3.9V214h3.9V263h3.9V216h3.9V241h3.9V215h3.9V215h3.9V274h3.9V261h3.9V234h3.9V217h3.9V284h3.9V214h3.9V258h3.9V335h3.9V254h3.9V239h3.9V298h3.9V283h3.9V273h3.9V267h3.9V272h3.9V328h3.9V279h3.9V221h3.9V256h3.9V261h3.9V314h3.9V314h3.9V213h3.9V241h3.9V244h3.9V232h3.9V215h3.9V290h3.9V218h3.9V243h3.9V298h3.9V334h3.9V211h3.9V236h3.9V313h3.9V297h3.9V283h3.9V283h3.9V332h3.9V248h3.9V217h3.9V281h3.9V340h3.9V222h3.9V329h3.9V231h3.9V236h3.9V234h3.9V291h3.9V339h3.9V339h3.9V291h3.9V269h3.9V290h3.9V275h3.9V306h3.9V218h3.9V213h3.9V221h3.9V222h3.9V293h3.9V279h3.9V264h3.9V250h3.9V238h3.9V274h3.9V296h3.9V214h3.9V290h3.9V288h3.9V326h3.9V300h3.9V273h3.9V246h3.9V300h3.9V263h3.9V241h3.9V258h3.9V272h3.9V334h3.9V256h3.9V312h3.9V291h3.9V307h3.9V257h3.9V241h3.9V233h3.9V241h3.9V240h3.9V307h3.9V215h3.9V234h3.9V239h3.9V338h3.9V322h3.9V258h3.9V245h3.9V315h3.9V264h3.9V305h3.9V302h3.9V310h3.9V221h3.9V272h3.9V279h3.9V277h3.9V328h3.9V308h3.9V227h3.9V284h3.9V320h3.9V308h3.9V220h3.9V217h3.9V275h3.9V331h3.9V260h3.9V238h3.9V261h3.9V293h3.9V314h3.9V233h3.9V219h3.9V327h3.9V336h3.9V296h3.9V237h3.9V250h3.9V273h3.9V218h3.9V228h3.9V268h3.9V280h3.9V288h3.9V282h3.9V330h3.9V251h3.9V301h3.9V313h3.9V301h3.9V325h3.9V250h3.9V328h3.9V263h3.9V243h3.9V334h3.9V257h3.9V324h3.9V251h3.9V282h3.9V240h3.9V237h3.9V263h3.9V336h3.9V293h3.9V268h3.9V235h3.9V312h3.9V231h3.9V278h3.9V325h3.9V333h3.9V304h3.9V273h3.9V228h3.9V223h3.9V223h3.9V336h3.9V222h3.9V282h3.9V276h3.9V224h3.9V232h3.9V227h3.9V239h3.9V302h3.9V264h3.9V231h3.9V226h3.9V295h3.9V263h3.9V232h3.9V227h3.9V223h3.9V223h3.9V240h3.9V225h3.9V320h3.9V224h3.9V225h3.9V250h3.9V244h3.9V224h3.9V275h3.9V234h3.9V248h3.9V225h3.9V224h3.9V226h3.9V265h3.9V248h3.9V228h3.9V308h3.9V225h3.9V224h3.9V226h3.9V332h3.9V329h3.9V224h3.9V240h3.9V341.4Z"/>
<path d="M85.4 341.4V223h3.9V224h3.9V230h3.9V339h3.9V222h3.9V228h3.9V222h3.9V226h3.9V225h3.9V225h3.9V246h3.9V224h3.9V251h3.9V274h3.9V261h3.9V224h3.9V282h3.9V320h3.9V285h3.9V225h3.9V222h3.9V225h3.9V223h3.9V224h3.9V222h3.9V226h3.9V222h3.9V268h3.9V223h3.9V237h3.9V222h3.9V224h3.9V223h3.9V223h3.9V223h3.9V260h3.9V223h3.9V223h3.9V228h3.9V222h3.9V224h3.9V286h3.9V252h3.9V238h3.9V222h3.9V223h3.9V225h3.9V223h3.9V222h3.9V223h3.9V223h3.9V224h3.9V222h3.9V221h3.9V222h3.9V222h3.9V232h3.9V229h3.9V221h3.9V284h3.9V223h3.9V221h3.9V223h3.9V223h3.9V222h3.9V222h3.9V222h3.9V283h3.9V221h3.9V222h3.9V221h3.9V220h3.9V221h3.9V220h3.9V222h3.9V314h3.9V221h3.9V221h3.9V220h3.9V222h3.9V219h3.9V220h3.9V221h3.9V222h3.9V221h3.9V221h3.9V220h3.9V250h3.9V219h3.9V218h3.9V259h3.9V226h3.9V316h3.9V219h3.9V241h3.9V219h3.9V223h3.9V217h3.9V215h3.9V218h3.9V241h3.9V216h3.9V218h3.9V300h3.9V216h3.9V306h3.9V218h3.9V296h3.9V217h3.9V219h3.9V216h3.9V308h3.9V220h3.9V216h3.9V216h3.9V262h3.9V228h3.9V215h3.9V222h3.9V252h3.9V241h3.9V214h3.9V328h3.9V215h3.9V221h3.9V258h3.9V336h3.9V255h3.9V215h3.9V214h3.9V232h3.9V213h3.9V213h3.9V313h3.9V248h3.9V237h3.9V245h3.9V226h3.9V258h3.9V221h3.9V301h3.9V213h3.9V243h3.9V215h3.9V226h3.9V212h3.9V236h3.9V231h3.9V226h3.9V280h3.9V243h3.9V245h3.9V213h3.9V218h3.9V244h3.9V216h3.9V291h3.9V219h3.9V271h3.9V236h3.9V270h3.9V316h3.9V251h3.9V252h3.9V273h3.9V233h3.9V314h3.9V218h3.9V237h3.9V229h3.9V286h3.9V221h3.9V297h3.9V320h3.9V231h3.9V334h3.9V237h3.9V285h3.9V245h3.9V234h3.9V296h3.9V295h3.9V318h3.9V253h3.9V239h3.9V217h3.9V214h3.9V236h3.9V256h3.9V293h3.9V264h3.9V301h3.9V300h3.9V241h3.9V278h3.9V281h3.9V310h3.9V328h3.9V247h3.9V328h3.9V220h3.9V245h3.9V286h3.9V221h3.9V218h3.9V257h3.9V323h3.9V308h3.9V323h3.9V241h3.9V301h3.9V225h3.9V233h3.9V223h3.9V230h3.9V323h3.9V231h3.9V230h3.9V231h3.9V217h3.9V330h3.9V221h3.9V251h3.9V311h3.9V263h3.9V295h3.9V299h3.9V234h3.9V285h3.9V220h3.9V263h3.9V262h3.9V324h3.9V321h3.9V313h3.9V340h3.9V338h3.9V286h3.9V328h3.9V326h3.9V278h3.9V265h3.9V216h3.9V319h3.9V317h3.9V285h3.9V340h3.9V266h3.9V329h3.9V303h3.9V289h3.9V317h3.9V224h3.9V338h3.9V326h3.9V256h3.9V302h3.9V242h3.9V313h3.9V236h3.9V287h3.9V249h3.9V324h3.9V214h3.9V336h3.9V295h3.9V246h3.9V315h3.9V245h3.9V254h3.9V271h3.9V266h3.9V315h3.9V271h3.9V273h3.9V317h3.9V330h3.9V225h3.9V310h3.9V268h3.9V238h3.9V329h3.9V335h3.9V282h3.9V265h3.9V233h3.9V286h3.9V322h3.9V268h3.9V226h3.9V244h3.9V328h3.9V255h3.9V221h3.9V265h3.9V251h3.9V257h3.9V234h3.9V240h3.9V247h3.9V290h3.9V290h3.9V218h3.9V242h3.9V227h3.9V266h3.9V284h3.9V284h3.9V262h3.9V244h3.9V223h3.9V233h3.9V235h3.9V286h3.9V296h3.9V240h3.9V283h3.9V221h3.9V318h3.9V223h3.9V256h3.9V325h3.9V235h3.9V228h3.9V229h3.9V303h3.9V258h3.9V319h3.9V224h3.9V246h3.9V259h3.9V311h3.9V272h3.9V277h3.9V225h3.9V262h3.9V331h3.9V234h3.9V294h3.9V251h3.9V223h3.9V260h3.9V223h3.9V234h3.9V223h3.9V225h3.9V287h3.9V227h3.9V279h3.9V247h3.9V226h3.9V229h3.9V225h3.9V225h3.9V228h3.9V265h3.9V230h3.9V225h3.9V249h3.9V264h3.9V225h3.9V255h3.9V228h3.9V224h3.9V223h3.9V341.4Z"/>
<path d="M85.4 341.4V224h3.9V253h3.9V223h3.9V325h3.9V225h3.9V231h3.9V226h3.9V238h3.9V223h3.9V224h3.9V223h3.9V297h3.9V224h3.9V246h3.9V238h3.9V223h3.9V237h3.9V224h3.9V224h3.9V224h3.9V222h3.9V224h3.9V223h3.9V224h3.9V222h3.9V327h3.9V225h3.9V229h3.9V256h3.9V223h3.9V223h3.9V223h3.9V223h3.9V328h3.9V224h3.9V232h3.9V222h3.9V224h3.9V223h3.9V328h3.9V223h3.9V222h3.9V227h3.9V223h3.9V222h3.9V223h3.9V221h3.9V274h3.9V223h3.9V224h3.9V223h3.9V239h3.9V223h3.9V221h3.9V231h3.9V238h3.9V222h3.9V265h3.9V222h3.9V222h3.9V274h3.9V287h3.9V222h3.9V222h3.9V220h3.9V221h3.9V227h3.9V220h3.9V221h3.9V224h3.9V221h3.9V278h3.9V226h3.9V221h3.9V226h3.9V222h3.9V219h3.9V220h3.9V223h3.9V220h3.9V244h3.9V222h3.9V220h3.9V221h3.9V219h3.9V222h3.9V224h3.9V220h3.9V218h3.9V263h3.9V217h3.9V340h3.9V286h3.9V218h3.9V217h3.9V228h3.9V272h3.9V217h3.9V216h3.9V216h3.9V279h3.9V215h3.9V215h3.9V226h3.9V217h3.9V228h3.9V217h3.9V324h3.9V218h3.9V217h3.9V244h3.9V217h3.9V247h3.9V276h3.9V329h3.9V232h3.9V237h3.9V215h3.9V214h3.9V216h3.9V219h3.9V272h3.9V218h3.9V257h3.9V314h3.9V226h3.9V304h3.9V216h3.9V218h3.9V233h3.9V254h3.9V219h3.9V314h3.9V225h3.9V298h3.9V215h3.9V231h3.9V251h3.9V288h3.9V250h3.9V235h3.9V282h3.9V215h3.9V227h3.9V265h3.9V301h3.9V295h3.9V263h3.9V255h3.9V296h3.9V214h3.9V315h3.9V228h3.9V218h3.9V241h3.9V222h3.9V268h3.9V229h3.9V254h3.9V289h3.9V223h3.9V279h3.9V228h3.9V311h3.9V212h3.9V257h3.9V249h3.9V299h3.9V301h3.9V329h3.9V327h3.9V322h3.9V227h3.9V248h3.9V226h3.9V238h3.9V325h3.9V276h3.9V231h3.9V263h3.9V262h3.9V229h3.9V262h3.9V220h3.9V252h3.9V246h3.9V212h3.9V224h3.9V291h3.9V241h3.9V309h3.9V299h3.9V248h3.9V340h3.9V271h3.9V310h3.9V290h3.9V341h3.9V238h3.9V232h3.9V309h3.9V287h3.9V301h3.9V336h3.9V251h3.9V231h3.9V303h3.9V281h3.9V329h3.9V340h3.9V336h3.9V325h3.9V305h3.9V337h3.9V340h3.9V290h3.9V250h3.9V252h3.9V270h3.9V298h3.9V322h3.9V281h3.9V286h3.9V335h3.9V247h3.9V314h3.9V276h3.9V212h3.9V262h3.9V250h3.9V219h3.9V252h3.9V241h3.9V250h3.9V253h3.9V213h3.9V324h3.9V319h3.9V286h3.9V222h3.9V231h3.9V292h3.9V219h3.9V221h3.9V233h3.9V267h3.9V291h3.9V245h3.9V340h3.9V317h3.9V320h3.9V330h3.9V324h3.9V224h3.9V288h3.9V274h3.9V241h3.9V263h3.9V217h3.9V239h3.9V277h3.9V274h3.9V289h3.9V335h3.9V285h3.9V257h3.9V264h3.9V261h3.9V267h3.9V260h3.9V276h3.9V298h3.9V258h3.9V309h3.9V315h3.9V289h3.9V325h3.9V317h3.9V333h3.9V329h3.9V268h3.9V288h3.9V298h3.9V232h3.9V293h3.9V332h3.9V240h3.9V265h3.9V256h3.9V290h3.9V308h3.9V269h3.9V273h3.9V224h3.9V229h3.9V237h3.9V274h3.9V245h3.9V215h3.9V301h3.9V226h3.9V220h3.9V261h3.9V218h3.9V280h3.9V336h3.9V318h3.9V299h3.9V231h3.9V331h3.9V248h3.9V229h3.9V224h3.9V287h3.9V269h3.9V222h3.9V254h3.9V222h3.9V233h3.9V223h3.9V329h3.9V222h3.9V229h3.9V222h3.9V313h3.9V300h3.9V321h3.9V244h3.9V226h3.9V221h3.9V274h3.9V296h3.9V232h3.9V224h3.9V235h3.9V341h3.9V231h3.9V233h3.9V226h3.9V225h3.9V231h3.9V319h3.9V277h3.9V224h3.9V253h3.9V224h3.9V223h3.9V239h3.9V225h3.9V224h3.9V224h3.9V321h3.9V327h3.9V306h3.9V223h3.9V230h3.9V254h3.9V225h3.9V226h3.9V223h3.9V224h3.9V270h3.9V226h3.9V230h3.9V225h3.9V341.4Z"/>
<path d="M85.4 341.4V247h3.9V223h3.9V318h3.9V225h3.9V224h3.9V240h3.9V222h3.9V225h3.9V222h3.9V283h3.9V289h3.9V223h3.9V251h3.9V225h3.9V225h3.9V224h3.9V251h3.9V224h3.9V226h3.9V224h3.9V225h3.9V290h3.9V223h3.9V288h3.9V227h3.9V225h3.9V222h3.9V226h3.9V226h3.9V222h3.9V249h3.9V222h3.9V224h3.9V222h3.9V221h3.9V224h3.9V243h3.9V221h3.9V226h3.9V222h3.9V221h3.9V230h3.9V250h3.9V229h3.9V307h3.9V223h3.9V222h3.9V223h3.9V222h3.9V224h3.9V224h3.9V224h3.9V222h3.9V223h3.9V224h3.9V227h3.9V223h3.9V223h3.9V227h3.9V221h3.9V222h3.9V220h3.9V220h3.9V256h3.9V220h3.9V220h3.9V222h3.9V233h3.9V224h3.9V220h3.9V221h3.9V222h3.9V222h3.9V222h3.9V222h3.9V223h3.9V219h3.9V220h3.9V221h3.9V222h3.9V219h3.9V221h3.9V220h3.9V240h3.9V219h3.9V219h3.9V218h3.9V219h3.9V218h3.9V220h3.9V218h3.9V221h3.9V216h3.9V225h3.9V230h3.9V217h3.9V221h3.9V218h3.9V235h3.9V230h3.9V290h3.9V218h3.9V218h3.9V220h3.9V217h3.9V225h3.9V221h3.9V217h3.9V221h3.9V218h3.9V300h3.9V217h3.9V230h3.9V279h3.9V239h3.9V247h3.9V239h3.9V270h3.9V232h3.9V253h3.9V215h3.9V214h3.9V213h3.9V240h3.9V340h3.9V213h3.9V238h3.9V247h3.9V219h3.9V218h3.9V224h3.9V272h3.9V221h3.9V219h3.9V219h3.9V297h3.9V227h3.9V223h3.9V302h3.9V281h3.9V238h3.9V245h3.9V215h3.9V329h3.9V235h3.9V270h3.9V287h3.9V277h3.9V278h3.9V285h3.9V219h3.9V249h3.9V323h3.9V233h3.9V317h3.9V335h3.9V322h3.9V324h3.9V304h3.9V228h3.9V247h3.9V296h3.9V290h3.9V242h3.9V316h3.9V264h3.9V268h3.9V320h3.9V292h3.9V281h3.9V337h3.9V234h3.9V281h3.9V224h3.9V298h3.9V218h3.9V290h3.9V337h3.9V259h3.9V280h3.9V334h3.9V331h3.9V290h3.9V226h3.9V233h3.9V259h3.9V250h3.9V305h3.9V267h3.9V224h3.9V242h3.9V330h3.9V267h3.9V268h3.9V239h3.9V277h3.9V291h3.9V243h3.9V322h3.9V322h3.9V290h3.9V275h3.9V215h3.9V336h3.9V325h3.9V310h3.9V314h3.9V329h3.9V338h3.9V305h3.9V216h3.9V339h3.9V223h3.9V271h3.9V265h3.9V312h3.9V296h3.9V276h3.9V216h3.9V227h3.9V242h3.9V257h3.9V329h3.9V335h3.9V214h3.9V223h3.9V311h3.9V287h3.9V328h3.9V303h3.9V322h3.9V233h3.9V312h3.9V252h3.9V304h3.9V292h3.9V235h3.9V247h3.9V237h3.9V251h3.9V246h3.9V275h3.9V239h3.9V327h3.9V239h3.9V244h3.9V278h3.9V287h3.9V256h3.9V222h3.9V335h3.9V262h3.9V264h3.9V292h3.9V272h3.9V295h3.9V301h3.9V229h3.9V303h3.9V335h3.9V248h3.9V331h3.9V300h3.9V230h3.9V315h3.9V306h3.9V260h3.9V331h3.9V297h3.9V300h3.9V238h3.9V285h3.9V320h3.9V239h3.9V229h3.9V250h3.9V273h3.9V253h3.9V245h3.9V255h3.9V322h3.9V303h3.9V227h3.9V272h3.9V258h3.9V236h3.9V228h3.9V285h3.9V257h3.9V246h3.9V270h3.9V256h3.9V320h3.9V233h3.9V247h3.9V276h3.9V269h3.9V251h3.9V273h3.9V245h3.9V284h3.9V245h3.9V217h3.9V277h3.9V253h3.9V223h3.9V227h3.9V232h3.9V226h3.9V232h3.9V272h3.9V246h3.9V293h3.9V237h3.9V236h3.9V334h3.9V269h3.9V323h3.9V222h3.9V323h3.9V223h3.9V223h3.9V259h3.9V274h3.9V234h3.9V227h3.9V245h3.9V266h3.9V225h3.9V225h3.9V222h3.9V317h3.9V241h3.9V224h3.9V230h3.9V253h3.9V224h3.9V331h3.9V303h3.9V230h3.9V245h3.9V304h3.9V294h3.9V226h3.9V224h3.9V322h3.9V240h3.9V224h3.9V235h3.9V230h3.9V224h3.9V224h3.9V225h3.9V223h3.9V225h3.9V246h3.9V321h3.9V226h3.9V227h3.9V224h3.9V257h3.9V224h3.9V239h3.9V224h3.9V223h3.9V341.4Z"/>
<path d="M85.4 341.4V292h3.9V222h3.9V230h3.9V223h3.9V256h3.9V295h3.9V239h3.9V277h3.9V231h3.9V273h3.9V223h3.9V224h3.9V290h3.9V240h3.9V225h3.9V276h3.9V279h3.9V222h3.9V224h3.9V259h3.9V246h3.9V222h3.9V291h3.9V222h3.9V300h3.9V225h3.9V222h3.9V223h3.9V223h3.9V241h3.9V266h3.9V223h3.9V222h3.9V221h3.9V307h3.9V223h3.9V224h3.9V222h3.9V222h3.9V315h3.9V222h3.9V247h3.9V253h3.9V223h3.9V223h3.9V222h3.9V223h3.9V306h3.9V221h3.9V237h3.9V227h3.9V224h3.9V221h3.9V221h3.9V224h3.9V222h3.9V318h3.9V222h3.9V222h3.9V223h3.9V244h3.9V222h3.9V244h3.9V222h3.9V219h3.9V221h3.9V222h3.9V222h3.9V221h3.9V220h3.9V220h3.9V221h3.9V286h3.9V222h3.9V222h3.9V221h3.9V222h3.9V220h3.9V221h3.9V220h3.9V219h3.9V221h3.9V220h3.9V226h3.9V220h3.9V239h3.9V322h3.9V235h3.9V220h3.9V232h3.9V218h3.9V218h3.9V219h3.9V219h3.9V237h3.9V218h3.9V240h3.9V281h3.9V223h3.9V244h3.9V225h3.9V217h3.9V226h3.9V320h3.9V245h3.9V278h3.9V257h3.9V216h3.9V307h3.9V237h3.9V215h3.9V216h3.9V218h3.9V215h3.9V241h3.9V261h3.9V218h3.9V231h3.9V223h3.9V216h3.9V253h3.9V338h3.9V216h3.9V236h3.9V216h3.9V216h3.9V248h3.9V241h3.9V239h3.9V213h3.9V248h3.9V242h3.9V250h3.9V279h3.9V340h3.9V216h3.9V319h3.9V316h3.9V309h3.9V217h3.9V291h3.9V314h3.9V240h3.9V240h3.9V284h3.9V266h3.9V259h3.9V318h3.9V314h3.9V262h3.9V213h3.9V240h3.9V213h3.9V301h3.9V292h3.9V218h3.9V228h3.9V230h3.9V308h3.9V247h3.9V229h3.9V278h3.9V220h3.9V234h3.9V331h3.9V231h3.9V314h3.9V330h3.9V214h3.9V259h3.9V212h3.9V302h3.9V223h3.9V259h3.9V271h3.9V259h3.9V290h3.9V318h3.9V266h3.9V282h3.9V292h3.9V216h3.9V335h3.9V297h3.9V225h3.9V221h3.9V250h3.9V234h3.9V238h3.9V299h3.9V314h3.9V219h3.9V216h3.9V229h3.9V293h3.9V332h3.9V309h3.9V337h3.9V315h3.9V234h3.9V267h3.9V255h3.9V217h3.9V318h3.9V329h3.9V237h3.9V304h3.9V322h3.9V300h3.9V274h3.9V276h3.9V270h3.9V291h3.9V257h3.9V236h3.9V260h3.9V327h3.9V338h3.9V256h3.9V243h3.9V286h3.9V304h3.9V239h3.9V268h3.9V221h3.9V251h3.9V321h3.9V269h3.9V296h3.9V314h3.9V240h3.9V259h3.9V241h3.9V262h3.9V241h3.9V252h3.9V333h3.9V263h3.9V233h3.9V228h3.9V245h3.9V218h3.9V256h3.9V324h3.9V298h3.9V232h3.9V259h3.9V330h3.9V285h3.9V267h3.9V334h3.9V226h3.9V224h3.9V333h3.9V290h3.9V281h3.9V247h3.9V334h3.9V284h3.9V314h3.9V294h3.9V286h3.9V265h3.9V260h3.9V219h3.9V259h3.9V225h3.9V341h3.9V258h3.9V290h3.9V274h3.9V244h3.9V291h3.9V274h3.9V276h3.9V249h3.9V314h3.9V235h3.9V298h3.9V302h3.9V335h3.9V276h3.9V218h3.9V335h3.9V308h3.9V317h3.9V317h3.9V293h3.9V262h3.9V242h3.9V321h3.9V335h3.9V228h3.9V314h3.9V220h3.9V335h3.9V247h3.9V274h3.9V311h3.9V224h3.9V229h3.9V244h3.9V263h3.9V338h3.9V231h3.9V298h3.9V229h3.9V226h3.9V251h3.9V284h3.9V272h3.9V237h3.9V228h3.9V328h3.9V221h3.9V251h3.9V309h3.9V274h3.9V279h3.9V220h3.9V223h3.9V313h3.9V228h3.9V265h3.9V339h3.9V251h3.9V311h3.9V292h3.9V223h3.9V223h3.9V226h3.9V277h3.9V224h3.9V223h3.9V233h3.9V235h3.9V323h3.9V222h3.9V328h3.9V225h3.9V300h3.9V226h3.9V240h3.9V224h3.9V224h3.9V226h3.9V245h3.9V235h3.9V294h3.9V226h3.9V224h3.9V303h3.9V227h3.9V223h3.9V243h3.9V240h3.9V332h3.9V224h3.9V292h3.9V251h3.9V230h3.9V226h3.9V226h3.9V226h3.9V311h3.9V341.4Z"/>
<path d="M85.4 341.4V229h3.9V223h3.9V222h3.9V232h3.9V288h3.9V223h3.9V223h3.9V224h3.9V260h3.9V222h3.9V224h3.9V222h3.9V223h3.9V222h3.9V306h3.9V223h3.9V225h3.9V224h3.9V305h3.9V247h3.9V238h3.9V224h3.9V224h3.9V223h3.9V225h3.9V299h3.9V224h3.9V223h3.9V224h3.9V234h3.9V280h3.9V223h3.9V276h3.9V260h3.9V224h3.9V223h3.9V228h3.9V293h3.9V242h3.9V276h3.9V223h3.9V224h3.9V223h3.9V224h3.9V233h3.9V242h3.9V223h3.9V221h3.9V222h3.9V239h3.9V221h3.9V250h3.9V233h3.9V223h3.9V320h3.9V226h3.9V251h3.9V223h3.9V222h3.9V251h3.9V315h3.9V220h3.9V226h3.9V222h3.9V221h3.9V258h3.9V221h3.9V221h3.9V221h3.9V222h3.9V221h3.9V240h3.9V219h3.9V219h3.9V221h3.9V234h3.9V225h3.9V220h3.9V221h3.9V248h3.9V220h3.9V219h3.9V225h3.9V219h3.9V218h3.9V227h3.9V263h3.9V220h3.9V224h3.9V251h3.9V254h3.9V219h3.9V218h3.9V239h3.9V251h3.9V226h3.9V216h3.9V318h3.9V216h3.9V217h3.9V288h3.9V227h3.9V323h3.9V216h3.9V216h3.9V218h3.9V216h3.9V262h3.9V240h3.9V241h3.9V219h3.9V286h3.9V244h3.9V239h3.9V218h3.9V220h3.9V218h3.9V228h3.9V229h3.9V216h3.9V217h3.9V315h3.9V217h3.9V213h3.9V252h3.9V221h3.9V219h3.9V254h3.9V333h3.9V213h3.9V214h3.9V317h3.9V232h3.9V212h3.9V337h3.9V340h3.9V238h3.9V213h3.9V212h3.9V230h3.9V246h3.9V213h3.9V213h3.9V291h3.9V216h3.9V222h3.9V308h3.9V215h3.9V246h3.9V267h3.9V212h3.9V221h3.9V214h3.9V274h3.9V222h3.9V315h3.9V214h3.9V337h3.9V252h3.9V249h3.9V291h3.9V214h3.9V323h3.9V253h3.9V245h3.9V324h3.9V246h3.9V305h3.9V234h3.9V281h3.9V225h3.9V212h3.9V336h3.9V288h3.9V214h3.9V241h3.9V256h3.9V285h3.9V329h3.9V238h3.9V296h3.9V325h3.9V249h3.9V224h3.9V272h3.9V276h3.9V329h3.9V213h3.9V328h3.9V258h3.9V341h3.9V300h3.9V305h3.9V242h3.9V287h3.9V277h3.9V303h3.9V282h3.9V252h3.9V280h3.9V269h3.9V269h3.9V241h3.9V307h3.9V297h3.9V341h3.9V281h3.9V262h3.9V218h3.9V236h3.9V289h3.9V333h3.9V315h3.9V217h3.9V226h3.9V256h3.9V238h3.9V225h3.9V317h3.9V278h3.9V262h3.9V328h3.9V289h3.9V300h3.9V278h3.9V301h3.9V287h3.9V276h3.9V290h3.9V297h3.9V263h3.9V328h3.9V305h3.9V321h3.9V338h3.9V215h3.9V291h3.9V294h3.9V226h3.9V277h3.9V268h3.9V261h3.9V283h3.9V246h3.9V305h3.9V308h3.9V251h3.9V313h3.9V332h3.9V318h3.9V324h3.9V235h3.9V236h3.9V257h3.9V246h3.9V334h3.9V314h3.9V269h3.9V236h3.9V337h3.9V281h3.9V303h3.9V273h3.9V238h3.9V312h3.9V277h3.9V215h3.9V271h3.9V278h3.9V303h3.9V282h3.9V253h3.9V274h3.9V325h3.9V322h3.9V250h3.9V224h3.9V249h3.9V226h3.9V218h3.9V225h3.9V297h3.9V316h3.9V261h3.9V313h3.9V249h3.9V309h3.9V232h3.9V316h3.9V335h3.9V330h3.9V302h3.9V222h3.9V283h3.9V329h3.9V233h3.9V296h3.9V315h3.9V221h3.9V240h3.9V298h3.9V265h3.9V226h3.9V241h3.9V308h3.9V253h3.9V238h3.9V244h3.9V265h3.9V221h3.9V222h3.9V253h3.9V283h3.9V318h3.9V334h3.9V224h3.9V222h3.9V232h3.9V223h3.9V221h3.9V279h3.9V226h3.9V272h3.9V222h3.9V273h3.9V243h3.9V333h3.9V221h3.9V232h3.9V299h3.9V278h3.9V294h3.9V282h3.9V224h3.9V330h3.9V318h3.9V224h3.9V281h3.9V244h3.9V225h3.9V224h3.9V223h3.9V224h3.9V224h3.9V224h3.9V224h3.9V255h3.9V225h3.9V223h3.9V226h3.9V225h3.9V224h3.9V237h3.9V224h3.9V226h3.9V290h3.9V237h3.9V225h3.9V229h3.9V230h3.9V224h3.9V224h3.9V224h3.9V224h3.9V224h3.9V341.4Z"/>
<path d="M85.4 341.4V225h3.9V222h3.9V224h3.9V278h3.9V225h3.9V229h3.9V223h3.9V222h3.9V222h3.9V224h3.9V225h3.9V222h3.9V224h3.9V233h3.9V328h3.9V224h3.9V222h3.9V255h3.9V224h3.9V223h3.9V222h3.9V246h3.9V287h3.9V223h3.9V223h3.9V227h3.9V239h3.9V225h3.9V315h3.9V252h3.9V222h3.9V313h3.9V316h3.9V222h3.9V222h3.9V239h3.9V241h3.9V221h3.9V223h3.9V222h3.9V226h3.9V224h3.9V253h3.9V239h3.9V221h3.9V223h3.9V228h3.9V224h3.9V222h3.9V223h3.9V224h3.9V288h3.9V222h3.9V260h3.9V221h3.9V230h3.9V248h3.9V223h3.9V252h3.9V290h3.9V246h3.9V223h3.9V223h3.9V221h3.9V306h3.9V222h3.9V320h3.9V265h3.9V298h3.9V221h3.9V232h3.9V221h3.9V220h3.9V220h3.9V221h3.9V220h3.9V340h3.9V223h3.9V219h3.9V221h3.9V274h3.9V222h3.9V220h3.9V219h3.9V289h3.9V279h3.9V220h3.9V298h3.9V219h3.9V221h3.9V223h3.9V237h3.9V219h3.9V218h3.9V216h3.9V314h3.9V219h3.9V238h3.9V273h3.9V221h3.9V230h3.9V321h3.9V284h3.9V313h3.9V310h3.9V228h3.9V290h3.9V236h3.9V247h3.9V223h3.9V279h3.9V218h3.9V224h3.9V237h3.9V215h3.9V215h3.9V274h3.9V217h3.9V218h3.9V218h3.9V220h3.9V217h3.9V213h3.9V322h3.9V214h3.9V284h3.9V219h3.9V280h3.9V233h3.9V291h3.9V306h3.9V230h3.9V229h3.9V213h3.9V268h3.9V272h3.9V235h3.9V212h3.9V266h3.9V238h3.9V302h3.9V214h3.9V237h3.9V227h3.9V301h3.9V228h3.9V248h3.9V214h3.9V319h3.9V215h3.9V321h3.9V212h3.9V228h3.9V322h3.9V227h3.9V220h3.9V318h3.9V297h3.9V238h3.9V321h3.9V242h3.9V327h3.9V215h3.9V231h3.9V312h3.9V306h3.9V305h3.9V337h3.9V278h3.9V234h3.9V240h3.9V214h3.9V214h3.9V320h3.9V231h3.9V212h3.9V326h3.9V221h3.9V284h3.9V261h3.9V246h3.9V229h3.9V288h3.9V310h3.9V271h3.9V338h3.9V331h3.9V295h3.9V244h3.9V219h3.9V261h3.9V255h3.9V307h3.9V248h3.9V338h3.9V263h3.9V225h3.9V290h3.9V328h3.9V296h3.9V320h3.9V292h3.9V230h3.9V312h3.9V327h3.9V314h3.9V271h3.9V212h3.9V242h3.9V243h3.9V225h3.9V309h3.9V266h3.9V243h3.9V246h3.9V281h3.9V271h3.9V328h3.9V254h3.9V272h3.9V230h3.9V232h3.9V236h3.9V282h3.9V318h3.9V255h3.9V313h3.9V250h3.9V261h3.9V214h3.9V265h3.9V266h3.9V315h3.9V302h3.9V309h3.9V322h3.9V263h3.9V283h3.9V283h3.9V227h3.9V274h3.9V215h3.9V262h3.9V215h3.9V263h3.9V228h3.9V289h3.9V263h3.9V253h3.9V217h3.9V336h3.9V305h3.9V257h3.9V234h3.9V302h3.9V319h3.9V337h3.9V236h3.9V259h3.9V282h3.9V267h3.9V292h3.9V278h3.9V274h3.9V294h3.9V282h3.9V293h3.9V269h3.9V265h3.9V233h3.9V244h3.9V315h3.9V325h3.9V286h3.9V263h3.9V287h3.9V268h3.9V237h3.9V296h3.9V284h3.9V246h3.9V250h3.9V269h3.9V267h3.9V276h3.9V273h3.9V340h3.9V321h3.9V239h3.9V239h3.9V318h3.9V222h3.9V246h3.9V266h3.9V221h3.9V247h3.9V233h3.9V244h3.9V230h3.9V289h3.9V223h3.9V230h3.9V249h3.9V230h3.9V270h3.9V327h3.9V271h3.9V306h3.9V319h3.9V298h3.9V254h3.9V220h3.9V331h3.9V293h3.9V226h3.9V278h3.9V286h3.9V312h3.9V225h3.9V220h3.9V317h3.9V310h3.9V228h3.9V334h3.9V261h3.9V221h3.9V292h3.9V300h3.9V222h3.9V284h3.9V233h3.9V238h3.9V224h3.9V224h3.9V222h3.9V235h3.9V310h3.9V324h3.9V237h3.9V250h3.9V245h3.9V223h3.9V261h3.9V249h3.9V280h3.9V333h3.9V224h3.9V225h3.9V252h3.9V226h3.9V226h3.9V225h3.9V275h3.9V225h3.9V227h3.9V294h3.9V225h3.9V322h3.9V306h3.9V257h3.9V266h3.9V225h3.9V223h3.9V307h3.9V223h3.9V341.4Z"/>
</g>
<g fill="#ff00ff" fill-opacity="0.029">
<path d="M85.4 222V174h3.9V171h3.9V164h3.9V173h3.9V173h3.9V173h3.9V166h3.9V162h3.9V163h3.9V164h3.9V173h3.9V171h3.9V182h3.9V176h3.9V188h3.9V179h3.9V182h3.9V179h3.9V171h3.9V180h3.9V183h3.9V172h3.9V171h3.9V156h3.9V163h3.9V166h3.9V174h3.9V167h3.9V163h3.9V161h3.9V165h3.9V161h3.9V163h3.9V170h3.9V164h3.9V169h3.9V185h3.9V171h3.9V173h3.9V174h3.9V177h3.9V166h3.9V170h3.9V158h3.9V156h3.9V159h3.9V160h3.9V168h3.9V172h3.9V170h3.9V167h3.9V165h3.9V161h3.9V160h3.9V166h3.9V164h3.9V170h3.9V168h3.9V168h3.9V172h3.9V166h3.9V167h3.9V156h3.9V159h3.9V162h3.9V169h3.9V154h3.9V166h3.9V167h3.9V162h3.9V163h3.9V158h3.9V173h3.9V162h3.9V172h3.9V162h3.9V166h3.9V157h3.9V164h3.9V160h3.9V156h3.9V153h3.9V165h3.9V160h3.9V165h3.9V153h3.9V157h3.9V155h3.9V163h3.9V162h3.9V159h3.9V150h3.9V156h3.9V174h3.9V167h3.9V166h3.9V156h3.9V164h3.9V161h3.9V164h3.9V163h3.9V162h3.9V162h3.9V156h3.9V156h3.9V152h3.9V145h3.9V145h3.9V148h3.9V145h3.9V147h3.9V156h3.9V162h3.9V154h3.9V155h3.9V168h3.9V167h3.9V166h3.9V171h3.9V178h3.9V170h3.9V168h3.9V175h3.9V155h3.9V168h3.9V158h3.9V159h3.9V153h3.9V161h3.9V157h3.9V154h3.9V143h3.9V152h3.9V162h3.9V162h3.9V157h3.9V162h3.9V159h3.9V163h3.9V174h3.9V168h3.9V170h3.9V155h3.9V153h3.9V144h3.9V159h3.9V166h3.9V160h3.9V155h3.9V161h3.9V166h3.9V164h3.9V162h3.9V160h3.9V162h3.9V157h3.9V163h3.9V160h3.9V165h3.9V165h3.9V165h3.9V175h3.9V162h3.9V156h3.9V161h3.9V160h3.9V172h3.9V155h3.9V152h3.9V154h3.9V160h3.9V158h3.9V149h3.9V149h3.9V158h3.9V158h3.9V168h3.9V165h3.9V164h3.9V164h3.9V170h3.9V156h3.9V157h3.9V163h3.9V166h3.9V162h3.9V168h3.9V175h3.9V158h3.9V157h3.9V161h3.9V152h3.9V163h3.9V160h3.9V154h3.9V157h3.9V157h3.9V155h3.9V155h3.9V160h3.9V162h3.9V164h3.9V171h3.9V171h3.9V166h3.9V158h3.9V167h3.9V162h3.9V171h3.9V170h3.9V176h3.9V172h3.9V171h3.9V168h3.9V173h3.9V166h3.9V166h3.9V166h3.9V175h3.9V168h3.9V175h3.9V165h3.9V166h3.9V169h3.9V173h3.9V170h3.9V157h3.9V166h3.9V147h3.9V151h3.9V153h3.9V161h3.9V149h3.9V150h3.9V163h3.9V168h3.9V161h3.9V162h3.9V156h3.9V167h3.9V162h3.9V166h3.9V164h3.9V175h3.9V185h3.9V177h3.9V172h3.9V163h3.9V172h3.9V173h3.9V167h3.9V166h3.9V167h3.9V163h3.9V160h3.9V168h3.9V165h3.9V164h3.9V165h3.9V159h3.9V170h3.9V167h3.9V168h3.9V168h3.9V166h3.9V164h3.9V170h3.9V168h3.9V161h3.9V155h3.9V164h3.9V161h3.9V178h3.9V175h3.9V181h3.9V178h3.9V169h3.9V166h3.9V180h3.9V170h3.9V172h3.9V162h3.9V153h3.9V169h3.9V174h3.9V174h3.9V172h3.9V166h3.9V166h3.9V174h3.9V163h3.9V175h3.9V173h3.9V173h3.9V170h3.9V170h3.9V170h3.9V174h3.9V174h3.9V169h3.9V177h3.9V169h3.9V171h3.9V172h3.9V179h3.9V176h3.9V180h3.9V178h3.9V179h3.9V174h3.9V193h3.9V184h3.9V194h3.9V187h3.9V190h3.9V191h3.9V186h3.9V184h3.9V178h3.9V189h3.9V177h3.9V180h3.9V176h3.9V178h3.9V179h3.9V175h3.9V172h3.9V174h3.9V179h3.9V181h3.9V180h3.9V182h3.9V179h3.9V164h3.9V165h3.9V169h3.9V172h3.9V178h3.9V177h3.9V176h3.9V184h3.9V180h3.9V179h3.9V178h3.9V172h3.9V187h3.9V187h3.9V188h3.9V182h3.9V194h3.9V189h3.9V191h3.9V188h3.9V177h3.9V172h3.9V189h3.9V177h3.9V181h3.9V189h3.9V189h3.9V195h3.9V191h3.9V183h3.9V188h3.9V173h3.9V225h-3.9V238h-3.9V220h-3.9V216h-3.9V215h-3.9V211h-3.9V218h-3.9V216h-3.9V232h-3.9V211h-3.9V213h-3.9V221h-3.9V234h-3.9V226h-3.9V223h-3.9V222h-3.9V230h-3.9V231h-3.9V215h-3.9V214h-3.9V245h-3.9V221h-3.9V217h-3.9V232h-3.9V213h-3.9V236h-3.9V223h-3.9V232h-3.9V229h-3.9V230h-3.9V218h-3.9V221h-3.9V217h-3.9V212h-3.9V213h-3.9V214h-3.9V215h-3.9V219h-3.9V212h-3.9V215h-3.9V216h-3.9V215h-3.9V229h-3.9V232h-3.9V214h-3.9V236h-3.9V211h-3.9V215h-3.9V216h-3.9V217h-3.9V235h-3.9V217h-3.9V216h-3.9V219h-3.9V213h-3.9V213h-3.9V208h-3.9V212h-3.9V218h-3.9V240h-3.9V211h-3.9V211h-3.9V212h-3.9V212h-3.9V211h-3.9V208h-3.9V212h-3.9V205h-3.9V216h-3.9V208h-3.9V214h-3.9V207h-3.9V212h-3.9V207h-3.9V215h-3.9V209h-3.9V208h-3.9V209h-3.9V214h-3.9V208h-3.9V209h-3.9V209h-3.9V208h-3.9V207h-3.9V215h-3.9V209h-3.9V206h-3.9V209h-3.9V207h-3.9V209h-3.9V209h-3.9V208h-3.9V212h-3.9V206h-3.9V230h-3.9V210h-3.9V217h-3.9V206h-3.9V212h-3.9V206h-3.9V206h-3.9V214h-3.9V207h-3.9V203h-3.9V215h-3.9V215h-3.9V209h-3.9V206h-3.9V213h-3.9V221h-3.9V206h-3.9V207h-3.9V208h-3.9V218h-3.9V209h-3.9V204h-3.9V211h-3.9V210h-3.9V207h-3.9V210h-3.9V215h-3.9V204h-3.9V203h-3.9V205h-3.9V209h-3.9V211h-3.9V209h-3.9V206h-3.9V207h-3.9V207h-3.9V206h-3.9V206h-3.9V213h-3.9V205h-3.9V205h-3.9V204h-3.9V204h-3.9V208h-3.9V204h-3.9V204h-3.9V204h-3.9V206h-3.9V209h-3.9V206h-3.9V209h-3.9V222h-3.9V204h-3.9V204h-3.9V203h-3.9V223h-3.9V209h-3.9V213h-3.9V205h-3.9V204h-3.9V205h-3.9V202h-3.9V206h-3.9V207h-3.9V206h-3.9V205h-3.9V207h-3.9V208h-3.9V204h-3.9V211h-3.9V204h-3.9V204h-3.9V204h-3.9V205h-3.9V204h-3.9V212h-3.9V208h-3.9V205h-3.9V210h-3.9V208h-3.9V205h-3.9V207h-3.9V207h-3.9V210h-3.9V207h-3.9V203h-3.9V209h-3.9V206h-3.9V209h-3.9V203h-3.9V204h-3.9V210h-3.9V206h-3.9V212h-3.9V203h-3.9V206h-3.9V208h-3.9V202h-3.9V203h-3.9V208h-3.9V203h-3.9V214h-3.9V203h-3.9V203h-3.9V206h-3.9V202h-3.9V206h-3.9V202h-3.9V202h-3.9V202h-3.9V201h-3.9V202h-3.9V202h-3.9V204h-3.9V208h-3.9V204h-3.9V216h-3.9V207h-3.9V204h-3.9V204h-3.9V206h-3.9V205h-3.9V205h-3.9V206h-3.9V202h-3.9V211h-3.9V207h-3.9V203h-3.9V216h-3.9V205h-3.9V203h-3.9V205h-3.9V205h-3.9V204h-3.9V201h-3.9V201h-3.9V216h-3.9V203h-3.9V214h-3.9V202h-3.9V202h-3.9V202h-3.9V204h-3.9V205h-3.9V212h-3.9V209h-3.9V207h-3.9V203h-3.9V202h-3.9V201h-3.9V211h-3.9V202h-3.9V205h-3.9V206h-3.9V203h-3.9V202h-3.9V201h-3.9V203h-3.9V209h-3.9V207h-3.9V204h-3.9V206h-3.9V213h-3.9V213h-3.9V208h-3.9V204h-3.9V202h-3.9V204h-3.9V207h-3.9V205h-3.9V208h-3.9V206h-3.9V206h-3.9V212h-3.9V207h-3.9V208h-3.9V207h-3.9V207h-3.9V206h-3.9V229h-3.9V216h-3.9V214h-3.9V206h-3.9V216h-3.9V211h-3.9V208h-3.9V215h-3.9V207h-3.9V211h-3.9V207h-3.9V206h-3.9V213h-3.9V209h-3.9V213h-3.9V212h-3.9V213h-3.9V214h-3.9V209h-3.9V221h-3.9V216h-3.9V210h-3.9V213h-3.9V211h-3.9V209h-3.9V214h-3.9V208h-3.9V214h-3.9V209h-3.9V207h-3.9V213h-3.9V209h-3.9V214h-3.9V215h-3.9V221h-3.9V217h-3.9V227h-3.9V230h-3.9V219h-3.9V217h-3.9V219h-3.9V212h-3.9V217h-3.9V212h-3.9V219h-3.9V215h-3.9V213h-3.9V224h-3.9V225h-3.9V218h-3.9V215h-3.9V223h-3.9V216h-3.9V213h-3.9V224h-3.9V219h-3.9V217h-3.9V215h-3.9V214h-3.9V235h-3.9V218h-3.9V212h-3.9V223h-3.9V220h-3.9V230h-3.9V218h-3.9V216h-3.9V220h-3.9V220h-3.9V220h-3.9V228h-3.9V222h-3.9V225h-3.9V216h-3.9V216h-3.9V223h-3.9V229h-3.9V231h-3.9V225h-3.9V257h-3.9V227h-3.9V220h-3.9V231h-3.9V221h-3.9V215h-3.9V233h-3.9V216h-3.9V215h-3.9V211h-3.9V215h-3.9V219h-3.9V222Z"/>
<path d="M85.4 238V186h3.9V166h3.9V165h3.9V166h3.9V169h3.9V168h3.9V171h3.9V173h3.9V182h3.9V173h3.9V182h3.9V173h3.9V175h3.9V178h3.9V175h3.9V180h3.9V183h3.9V183h3.9V183h3.9V174h3.9V175h3.9V178h3.9V173h3.9V173h3.9V172h3.9V178h3.9V183h3.9V180h3.9V169h3.9V174h3.9V173h3.9V165h3.9V171h3.9V179h3.9V177h3.9V175h3.9V173h3.9V171h3.9V174h3.9V170h3.9V171h3.9V181h3.9V174h3.9V169h3.9V175h3.9V170h3.9V171h3.9V169h3.9V176h3.9V171h3.9V162h3.9V179h3.9V172h3.9V159h3.9V158h3.9V161h3.9V172h3.9V167h3.9V175h3.9V175h3.9V165h3.9V161h3.9V155h3.9V154h3.9V154h3.9V159h3.9V163h3.9V166h3.9V174h3.9V164h3.9V151h3.9V157h3.9V162h3.9V161h3.9V162h3.9V159h3.9V149h3.9V167h3.9V152h3.9V147h3.9V161h3.9V162h3.9V158h3.9V148h3.9V160h3.9V154h3.9V159h3.9V150h3.9V156h3.9V156h3.9V163h3.9V160h3.9V172h3.9V171h3.9V166h3.9V162h3.9V155h3.9V138h3.9V146h3.9V154h3.9V155h3.9V165h3.9V165h3.9V166h3.9V166h3.9V157h3.9V166h3.9V164h3.9V158h3.9V175h3.9V159h3.9V149h3.9V158h3.9V160h3.9V145h3.9V158h3.9V142h3.9V146h3.9V156h3.9V160h3.9V163h3.9V158h3.9V172h3.9V161h3.9V162h3.9V147h3.9V155h3.9V161h3.9V164h3.9V159h3.9V157h3.9V157h3.9V160h3.9V159h3.9V154h3.9V149h3.9V150h3.9V148h3.9V160h3.9V154h3.9V160h3.9V160h3.9V155h3.9V164h3.9V155h3.9V158h3.9V148h3.9V166h3.9V152h3.9V160h3.9V156h3.9V169h3.9V163h3.9V169h3.9V167h3.9V169h3.9V171h3.9V160h3.9V160h3.9V159h3.9V156h3.9V159h3.9V159h3.9V165h3.9V163h3.9V155h3.9V167h3.9V168h3.9V171h3.9V167h3.9V164h3.9V162h3.9V161h3.9V149h3.9V162h3.9V170h3.9V179h3.9V173h3.9V164h3.9V163h3.9V168h3.9V165h3.9V168h3.9V165h3.9V155h3.9V160h3.9V151h3.9V166h3.9V160h3.9V152h3.9V153h3.9V156h3.9V155h3.9V147h3.9V145h3.9V150h3.9V149h3.9V154h3.9V152h3.9V155h3.9V160h3.9V152h3.9V158h3.9V164h3.9V163h3.9V161h3.9V165h3.9V162h3.9V153h3.9V158h3.9V152h3.9V157h3.9V155h3.9V159h3.9V162h3.9V173h3.9V172h3.9V167h3.9V172h3.9V162h3.9V156h3.9V159h3.9V148h3.9V161h3.9V165h3.9V164h3.9V168h3.9V165h3.9V158h3.9V151h3.9V155h3.9V169h3.9V176h3.9V183h3.9V174h3.9V176h3.9V161h3.9V162h3.9V158h3.9V164h3.9V164h3.9V161h3.9V167h3.9V159h3.9V162h3.9V176h3.9V174h3.9V165h3.9V176h3.9V174h3.9V173h3.9V176h3.9V164h3.9V170h3.9V169h3.9V167h3.9V159h3.9V168h3.9V155h3.9V161h3.9V159h3.9V167h3.9V172h3.9V169h3.9V170h3.9V165h3.9V161h3.9V160h3.9V160h3.9V166h3.9V164h3.9V165h3.9V169h3.9V174h3.9V174h3.9V174h3.9V172h3.9V169h3.9V181h3.9V169h3.9V163h3.9V165h3.9V166h3.9V159h3.9V175h3.9V180h3.9V186h3.9V177h3.9V176h3.9V170h3.9V173h3.9V176h3.9V177h3.9V181h3.9V176h3.9V174h3.9V165h3.9V163h3.9V168h3.9V168h3.9V178h3.9V180h3.9V178h3.9V170h3.9V176h3.9V180h3.9V171h3.9V177h3.9V173h3.9V178h3.9V186h3.9V181h3.9V190h3.9V186h3.9V192h3.9V185h3.9V181h3.9V178h3.9V175h3.9V174h3.9V176h3.9V176h3.9V161h3.9V168h3.9V175h3.9V182h3.9V177h3.9V179h3.9V183h3.9V174h3.9V188h3.9V180h3.9V185h3.9V170h3.9V173h3.9V172h3.9V180h3.9V190h3.9V185h3.9V186h3.9V187h3.9V177h3.9V174h3.9V179h3.9V179h3.9V181h3.9V184h3.9V180h3.9V184h3.9V186h3.9V176h3.9V179h3.9V169h3.9V171h3.9V173h3.9V180h3.9V180h3.9V176h3.9V167h3.9V180h3.9V190h3.9V184h3.9V188h3.9V180h3.9V176h3.9V225h-3.9V234h-3.9V217h-3.9V217h-3.9V224h-3.9V216h-3.9V216h-3.9V220h-3.9V226h-3.9V221h-3.9V215h-3.9V238h-3.9V222h-3.9V221h-3.9V223h-3.9V225h-3.9V228h-3.9V223h-3.9V222h-3.9V220h-3.9V235h-3.9V232h-3.9V213h-3.9V225h-3.9V226h-3.9V220h-3.9V222h-3.9V216h-3.9V227h-3.9V220h-3.9V218h-3.9V250h-3.9V213h-3.9V211h-3.9V212h-3.9V234h-3.9V212h-3.9V217h-3.9V214h-3.9V214h-3.9V217h-3.9V224h-3.9V214h-3.9V219h-3.9V212h-3.9V212h-3.9V212h-3.9V213h-3.9V215h-3.9V213h-3.9V214h-3.9V217h-3.9V243h-3.9V213h-3.9V226h-3.9V208h-3.9V206h-3.9V212h-3.9V218h-3.9V213h-3.9V213h-3.9V214h-3.9V212h-3.9V210h-3.9V206h-3.9V217h-3.9V210h-3.9V205h-3.9V207h-3.9V208h-3.9V208h-3.9V222h-3.9V212h-3.9V211h-3.9V224h-3.9V215h-3.9V208h-3.9V215h-3.9V207h-3.9V215h-3.9V208h-3.9V207h-3.9V214h-3.9V210h-3.9V216h-3.9V212h-3.9V211h-3.9V210h-3.9V208h-3.9V207h-3.9V207h-3.9V213h-3.9V210h-3.9V209h-3.9V211h-3.9V205h-3.9V209h-3.9V207h-3.9V209h-3.9V214h-3.9V204h-3.9V204h-3.9V208h-3.9V205h-3.9V207h-3.9V205h-3.9V210h-3.9V206h-3.9V206h-3.9V207h-3.9V213h-3.9V205h-3.9V212h-3.9V210h-3.9V206h-3.9V205h-3.9V207h-3.9V205h-3.9V206h-3.9V210h-3.9V209h-3.9V206h-3.9V204h-3.9V205h-3.9V209h-3.9V213h-3.9V208h-3.9V208h-3.9V208h-3.9V214h-3.9V209h-3.9V206h-3.9V223h-3.9V221h-3.9V205h-3.9V205h-3.9V205h-3.9V204h-3.9V210h-3.9V206h-3.9V209h-3.9V204h-3.9V204h-3.9V211h-3.9V204h-3.9V203h-3.9V203h-3.9V205h-3.9V204h-3.9V203h-3.9V205h-3.9V213h-3.9V213h-3.9V202h-3.9V203h-3.9V205h-3.9V205h-3.9V214h-3.9V209h-3.9V205h-3.9V206h-3.9V205h-3.9V211h-3.9V205h-3.9V205h-3.9V204h-3.9V204h-3.9V205h-3.9V204h-3.9V203h-3.9V211h-3.9V203h-3.9V204h-3.9V207h-3.9V209h-3.9V206h-3.9V206h-3.9V215h-3.9V205h-3.9V214h-3.9V207h-3.9V204h-3.9V208h-3.9V204h-3.9V213h-3.9V204h-3.9V205h-3.9V208h-3.9V205h-3.9V203h-3.9V203h-3.9V208h-3.9V207h-3.9V203h-3.9V208h-3.9V204h-3.9V204h-3.9V202h-3.9V216h-3.9V204h-3.9V205h-3.9V203h-3.9V201h-3.9V207h-3.9V200h-3.9V202h-3.9V201h-3.9V204h-3.9V215h-3.9V205h-3.9V206h-3.9V209h-3.9V205h-3.9V204h-3.9V202h-3.9V205h-3.9V204h-3.9V214h-3.9V200h-3.9V205h-3.9V205h-3.9V207h-3.9V201h-3.9V206h-3.9V203h-3.9V206h-3.9V204h-3.9V203h-3.9V202h-3.9V200h-3.9V202h-3.9V201h-3.9V206h-3.9V204h-3.9V205h-3.9V201h-3.9V216h-3.9V204h-3.9V215h-3.9V205h-3.9V201h-3.9V202h-3.9V207h-3.9V201h-3.9V207h-3.9V201h-3.9V215h-3.9V208h-3.9V205h-3.9V222h-3.9V206h-3.9V206h-3.9V205h-3.9V205h-3.9V207h-3.9V206h-3.9V207h-3.9V208h-3.9V206h-3.9V205h-3.9V201h-3.9V206h-3.9V205h-3.9V205h-3.9V209h-3.9V214h-3.9V207h-3.9V208h-3.9V206h-3.9V206h-3.9V208h-3.9V212h-3.9V216h-3.9V212h-3.9V206h-3.9V208h-3.9V211h-3.9V205h-3.9V220h-3.9V205h-3.9V215h-3.9V205h-3.9V208h-3.9V208h-3.9V206h-3.9V208h-3.9V211h-3.9V212h-3.9V214h-3.9V209h-3.9V213h-3.9V218h-3.9V208h-3.9V223h-3.9V212h-3.9V212h-3.9V211h-3.9V208h-3.9V209h-3.9V216h-3.9V208h-3.9V228h-3.9V211h-3.9V209h-3.9V211h-3.9V212h-3.9V222h-3.9V230h-3.9V214h-3.9V219h-3.9V221h-3.9V226h-3.9V217h-3.9V221h-3.9V211h-3.9V215h-3.9V222h-3.9V213h-3.9V221h-3.9V215h-3.9V227h-3.9V230h-3.9V219h-3.9V214h-3.9V246h-3.9V233h-3.9V223h-3.9V218h-3.9V214h-3.9V209h-3.9V212h-3.9V248h-3.9V217h-3.9V217h-3.9V219h-3.9V219h-3.9V223h-3.9V213h-3.9V238h-3.9V214h-3.9V244h-3.9V228h-3.9V221h-3.9V248h-3.9V216h-3.9V246h-3.9V224h-3.9V228h-3.9V215h-3.9V218h-3.9V237h-3.9V220h-3.9V235h-3.9V226h-3.9V223h-3.9V220h-3.9V216h-3.9V214h-3.9V242h-3.9V220h-3.9V263h-3.9V216h-3.9V233h-3.9V236h-3.9V238Z"/>
<path d="M85.4 228V178h3.9V175h3.9V170h3.9V172h3.9V171h3.9V172h3.9V167h3.9V181h3.9V174h3.9V167h3.9V172h3.9V174h3.9V179h3.9V177h3.9V185h3.9V175h3.9V178h3.9V169h3.9V163h3.9V175h3.9V169h3.9V174h3.9V185h3.9V179h3.9V170h3.9V164h3.9V170h3.9V159h3.9V158h3.9V166h3.9V164h3.9V170h3.9V178h3.9V173h3.9V168h3.9V170h3.9V166h3.9V169h3.9V168h3.9V164h3.9V178h3.9V179h3.9V175h3.9V167h3.9V166h3.9V169h3.9V169h3.9V170h3.9V175h3.9V173h3.9V166h3.9V170h3.9V174h3.9V169h3.9V167h3.9V167h3.9V159h3.9V162h3.9V171h3.9V173h3.9V178h3.9V173h3.9V174h3.9V160h3.9V159h3.9V164h3.9V171h3.9V183h3.9V172h3.9V170h3.9V161h3.9V158h3.9V162h3.9V153h3.9V155h3.9V151h3.9V163h3.9V162h3.9V167h3.9V170h3.9V171h3.9V167h3.9V157h3.9V166h3.9V159h3.9V159h3.9V157h3.9V163h3.9V168h3.9V170h3.9V158h3.9V150h3.9V165h3.9V165h3.9V173h3.9V165h3.9V160h3.9V166h3.9V156h3.9V165h3.9V170h3.9V167h3.9V164h3.9V160h3.9V157h3.9V146h3.9V145h3.9V152h3.9V162h3.9V164h3.9V149h3.9V159h3.9V153h3.9V149h3.9V155h3.9V164h3.9V153h3.9V150h3.9V153h3.9V165h3.9V157h3.9V154h3.9V163h3.9V152h3.9V163h3.9V157h3.9V151h3.9V145h3.9V158h3.9V162h3.9V143h3.9V157h3.9V154h3.9V168h3.9V169h3.9V164h3.9V149h3.9V158h3.9V156h3.9V167h3.9V156h3.9V160h3.9V149h3.9V151h3.9V149h3.9V147h3.9V154h3.9V158h3.9V162h3.9V165h3.9V167h3.9V147h3.9V147h3.9V144h3.9V161h3.9V166h3.9V170h3.9V164h3.9V155h3.9V158h3.9V164h3.9V172h3.9V169h3.9V177h3.9V170h3.9V166h3.9V174h3.9V159h3.9V149h3.9V157h3.9V156h3.9V159h3.9V158h3.9V151h3.9V159h3.9V166h3.9V181h3.9V167h3.9V170h3.9V167h3.9V156h3.9V151h3.9V162h3.9V143h3.9V148h3.9V158h3.9V155h3.9V167h3.9V165h3.9V162h3.9V160h3.9V151h3.9V165h3.9V159h3.9V157h3.9V148h3.9V154h3.9V153h3.9V159h3.9V163h3.9V164h3.9V156h3.9V164h3.9V162h3.9V154h3.9V162h3.9V160h3.9V154h3.9V161h3.9V165h3.9V173h3.9V162h3.9V161h3.9V159h3.9V160h3.9V159h3.9V168h3.9V175h3.9V171h3.9V163h3.9V157h3.9V162h3.9V166h3.9V167h3.9V175h3.9V169h3.9V175h3.9V171h3.9V168h3.9V164h3.9V163h3.9V169h3.9V157h3.9V163h3.9V157h3.9V169h3.9V163h3.9V170h3.9V166h3.9V166h3.9V159h3.9V163h3.9V175h3.9V174h3.9V176h3.9V175h3.9V164h3.9V165h3.9V164h3.9V166h3.9V170h3.9V170h3.9V161h3.9V156h3.9V159h3.9V170h3.9V166h3.9V165h3.9V157h3.9V165h3.9V162h3.9V164h3.9V169h3.9V166h3.9V156h3.9V155h3.9V167h3.9V170h3.9V174h3.9V167h3.9V172h3.9V172h3.9V181h3.9V180h3.9V179h3.9V173h3.9V168h3.9V169h3.9V178h3.9V176h3.9V175h3.9V173h3.9V162h3.9V165h3.9V178h3.9V178h3.9V184h3.9V177h3.9V177h3.9V171h3.9V160h3.9V169h3.9V161h3.9V168h3.9V173h3.9V168h3.9V171h3.9V173h3.9V171h3.9V174h3.9V174h3.9V176h3.9V179h3.9V171h3.9V173h3.9V169h3.9V176h3.9V171h3.9V178h3.9V182h3.9V174h3.9V182h3.9V183h3.9V172h3.9V185h3.9V182h3.9V186h3.9V185h3.9V181h3.9V185h3.9V179h3.9V177h3.9V168h3.9V173h3.9V180h3.9V173h3.9V180h3.9V187h3.9V180h3.9V179h3.9V183h3.9V182h3.9V185h3.9V187h3.9V178h3.9V179h3.9V169h3.9V175h3.9V163h3.9V174h3.9V185h3.9V186h3.9V191h3.9V185h3.9V177h3.9V181h3.9V190h3.9V184h3.9V178h3.9V181h3.9V171h3.9V185h3.9V179h3.9V182h3.9V180h3.9V181h3.9V174h3.9V179h3.9V174h3.9V183h3.9V193h3.9V184h3.9V189h3.9V186h3.9V178h3.9V216h-3.9V231h-3.9V222h-3.9V220h-3.9V217h-3.9V220h-3.9V224h-3.9V210h-3.9V217h-3.9V222h-3.9V218h-3.9V217h-3.9V217h-3.9V223h-3.9V219h-3.9V219h-3.9V223h-3.9V220h-3.9V233h-3.9V223h-3.9V235h-3.9V224h-3.9V216h-3.9V223h-3.9V218h-3.9V219h-3.9V226h-3.9V224h-3.9V217h-3.9V227h-3.9V217h-3.9V231h-3.9V215h-3.9V213h-3.9V222h-3.9V222h-3.9V211h-3.9V216h-3.9V229h-3.9V216h-3.9V217h-3.9V221h-3.9V214h-3.9V222h-3.9V216h-3.9V213h-3.9V218h-3.9V215h-3.9V211h-3.9V209h-3.9V223h-3.9V215h-3.9V219h-3.9V218h-3.9V210h-3.9V227h-3.9V214h-3.9V210h-3.9V218h-3.9V212h-3.9V213h-3.9V208h-3.9V209h-3.9V209h-3.9V216h-3.9V209h-3.9V214h-3.9V207h-3.9V208h-3.9V210h-3.9V209h-3.9V209h-3.9V210h-3.9V211h-3.9V223h-3.9V213h-3.9V209h-3.9V212h-3.9V211h-3.9V210h-3.9V210h-3.9V209h-3.9V218h-3.9V211h-3.9V220h-3.9V212h-3.9V215h-3.9V208h-3.9V209h-3.9V211h-3.9V206h-3.9V215h-3.9V211h-3.9V208h-3.9V209h-3.9V208h-3.9V208h-3.9V210h-3.9V214h-3.9V209h-3.9V205h-3.9V207h-3.9V208h-3.9V205h-3.9V206h-3.9V206h-3.9V208h-3.9V206h-3.9V213h-3.9V208h-3.9V206h-3.9V210h-3.9V208h-3.9V215h-3.9V206h-3.9V207h-3.9V206h-3.9V205h-3.9V205h-3.9V205h-3.9V213h-3.9V215h-3.9V212h-3.9V205h-3.9V210h-3.9V210h-3.9V209h-3.9V206h-3.9V206h-3.9V208h-3.9V208h-3.9V205h-3.9V208h-3.9V213h-3.9V205h-3.9V205h-3.9V206h-3.9V205h-3.9V204h-3.9V208h-3.9V212h-3.9V205h-3.9V204h-3.9V205h-3.9V207h-3.9V203h-3.9V204h-3.9V207h-3.9V207h-3.9V204h-3.9V208h-3.9V202h-3.9V204h-3.9V208h-3.9V202h-3.9V202h-3.9V206h-3.9V205h-3.9V208h-3.9V204h-3.9V204h-3.9V205h-3.9V203h-3.9V205h-3.9V205h-3.9V205h-3.9V208h-3.9V207h-3.9V207h-3.9V206h-3.9V207h-3.9V212h-3.9V204h-3.9V205h-3.9V208h-3.9V206h-3.9V204h-3.9V206h-3.9V207h-3.9V204h-3.9V206h-3.9V204h-3.9V212h-3.9V203h-3.9V205h-3.9V207h-3.9V213h-3.9V204h-3.9V205h-3.9V217h-3.9V202h-3.9V203h-3.9V203h-3.9V207h-3.9V205h-3.9V203h-3.9V203h-3.9V203h-3.9V205h-3.9V203h-3.9V206h-3.9V205h-3.9V209h-3.9V206h-3.9V199h-3.9V203h-3.9V210h-3.9V204h-3.9V203h-3.9V204h-3.9V206h-3.9V208h-3.9V205h-3.9V206h-3.9V208h-3.9V205h-3.9V204h-3.9V207h-3.9V201h-3.9V205h-3.9V210h-3.9V202h-3.9V202h-3.9V204h-3.9V202h-3.9V218h-3.9V206h-3.9V201h-3.9V201h-3.9V201h-3.9V204h-3.9V201h-3.9V202h-3.9V203h-3.9V204h-3.9V205h-3.9V204h-3.9V204h-3.9V204h-3.9V206h-3.9V205h-3.9V201h-3.9V203h-3.9V201h-3.9V202h-3.9V200h-3.9V201h-3.9V203h-3.9V208h-3.9V206h-3.9V201h-3.9V202h-3.9V208h-3.9V211h-3.9V206h-3.9V206h-3.9V206h-3.9V205h-3.9V207h-3.9V203h-3.9V207h-3.9V209h-3.9V207h-3.9V207h-3.9V207h-3.9V206h-3.9V206h-3.9V205h-3.9V208h-3.9V216h-3.9V215h-3.9V220h-3.9V207h-3.9V207h-3.9V210h-3.9V210h-3.9V215h-3.9V206h-3.9V212h-3.9V217h-3.9V206h-3.9V205h-3.9V210h-3.9V229h-3.9V209h-3.9V208h-3.9V213h-3.9V214h-3.9V212h-3.9V212h-3.9V216h-3.9V207h-3.9V219h-3.9V211h-3.9V224h-3.9V214h-3.9V211h-3.9V209h-3.9V221h-3.9V207h-3.9V212h-3.9V209h-3.9V207h-3.9V218h-3.9V221h-3.9V219h-3.9V219h-3.9V219h-3.9V235h-3.9V214h-3.9V223h-3.9V222h-3.9V220h-3.9V218h-3.9V223h-3.9V222h-3.9V217h-3.9V216h-3.9V229h-3.9V216h-3.9V234h-3.9V222h-3.9V218h-3.9V231h-3.9V223h-3.9V237h-3.9V212h-3.9V218h-3.9V235h-3.9V253h-3.9V210h-3.9V217h-3.9V219h-3.9V235h-3.9V215h-3.9V237h-3.9V220h-3.9V234h-3.9V224h-3.9V223h-3.9V218h-3.9V216h-3.9V221h-3.9V223h-3.9V220h-3.9V262h-3.9V220h-3.9V220h-3.9V249h-3.9V221h-3.9V220h-3.9V217h-3.9V223h-3.9V219h-3.9V224h-3.9V224h-3.9V219h-3.9V222h-3.9V221h-3.9V224h-3.9V248h-3.9V212h-3.9V218h-3.9V219h-3.9V228Z"/>
<path d="M85.4 237V166h3.9V171h3.9V170h3.9V170h3.9V180h3.9V175h3.9V170h3.9V170h3.9V169h3.9V174h3.9V172h3.9V173h3.9V158h3.9V166h3.9V176h3.9V180h3.9V178h3.9V171h3.9V168h3.9V170h3.9V184h3.9V180h3.9V186h3.9V182h3.9V177h3.9V176h3.9V173h3.9V179h3.9V166h3.9V168h3.9V173h3.9V176h3.9V178h3.9V176h3.9V177h3.9V177h3.9V173h3.9V175h3.9V167h3.9V160h3.9V164h3.9V166h3.9V172h3.9V166h3.9V170h3.9V167h3.9V169h3.9V168h3.9V170h3.9V167h3.9V170h3.9V179h3.9V173h3.9V170h3.9V167h3.9V170h3.9V168h3.9V166h3.9V159h3.9V161h3.9V162h3.9V160h3.9V150h3.9V153h3.9V146h3.9V159h3.9V167h3.9V174h3.9V182h3.9V176h3.9V169h3.9V161h3.9V159h3.9V157h3.9V154h3.9V152h3.9V164h3.9V153h3.9V163h3.9V160h3.9V167h3.9V163h3.9V158h3.9V167h3.9V159h3.9V154h3.9V163h3.9V147h3.9V157h3.9V163h3.9V161h3.9V138h3.9V159h3.9V163h3.9V163h3.9V163h3.9V158h3.9V156h3.9V158h3.9V148h3.9V156h3.9V156h3.9V157h3.9V156h3.9V151h3.9V147h3.9V160h3.9V166h3.9V167h3.9V157h3.9V162h3.9V150h3.9V152h3.9V160h3.9V152h3.9V154h3.9V151h3.9V149h3.9V152h3.9V155h3.9V162h3.9V160h3.9V160h3.9V164h3.9V158h3.9V147h3.9V154h3.9V150h3.9V155h3.9V151h3.9V142h3.9V150h3.9V154h3.9V160h3.9V166h3.9V163h3.9V166h3.9V157h3.9V150h3.9V154h3.9V153h3.9V163h3.9V146h3.9V154h3.9V156h3.9V151h3.9V162h3.9V157h3.9V162h3.9V165h3.9V170h3.9V160h3.9V163h3.9V156h3.9V156h3.9V172h3.9V170h3.9V170h3.9V171h3.9V167h3.9V160h3.9V163h3.9V166h3.9V164h3.9V165h3.9V174h3.9V177h3.9V156h3.9V157h3.9V172h3.9V173h3.9V163h3.9V163h3.9V155h3.9V158h3.9V159h3.9V177h3.9V172h3.9V165h3.9V153h3.9V156h3.9V159h3.9V154h3.9V152h3.9V160h3.9V162h3.9V156h3.9V150h3.9V152h3.9V149h3.9V153h3.9V155h3.9V161h3.9V152h3.9V156h3.9V157h3.9V157h3.9V160h3.9V153h3.9V165h3.9V161h3.9V162h3.9V167h3.9V168h3.9V155h3.9V151h3.9V163h3.9V168h3.9V161h3.9V161h3.9V153h3.9V162h3.9V167h3.9V163h3.9V164h3.9V166h3.9V164h3.9V154h3.9V166h3.9V163h3.9V167h3.9V161h3.9V162h3.9V172h3.9V169h3.9V170h3.9V163h3.9V168h3.9V166h3.9V164h3.9V166h3.9V173h3.9V166h3.9V164h3.9V159h3.9V168h3.9V165h3.9V166h3.9V159h3.9V161h3.9V162h3.9V153h3.9V162h3.9V171h3.9V162h3.9V167h3.9V164h3.9V163h3.9V153h3.9V157h3.9V156h3.9V170h3.9V163h3.9V152h3.9V161h3.9V165h3.9V169h3.9V150h3.9V150h3.9V155h3.9V155h3.9V166h3.9V171h3.9V169h3.9V173h3.9V160h3.9V170h3.9V170h3.9V159h3.9V168h3.9V166h3.9V168h3.9V181h3.9V173h3.9V182h3.9V166h3.9V178h3.9V178h3.9V177h3.9V177h3.9V174h3.9V177h3.9V164h3.9V171h3.9V170h3.9V172h3.9V174h3.9V165h3.9V170h3.9V162h3.9V157h3.9V168h3.9V171h3.9V176h3.9V179h3.9V173h3.9V183h3.9V174h3.9V171h3.9V175h3.9V184h3.9V180h3.9V183h3.9V175h3.9V185h3.9V181h3.9V182h3.9V171h3.9V185h3.9V178h3.9V178h3.9V187h3.9V182h3.9V182h3.9V177h3.9V178h3.9V172h3.9V167h3.9V168h3.9V178h3.9V171h3.9V181h3.9V178h3.9V172h3.9V171h3.9V168h3.9V165h3.9V184h3.9V178h3.9V174h3.9V182h3.9V181h3.9V197h3.9V180h3.9V174h3.9V192h3.9V186h3.9V185h3.9V175h3.9V176h3.9V187h3.9V179h3.9V169h3.9V178h3.9V170h3.9V173h3.9V177h3.9V182h3.9V191h3.9V187h3.9V182h3.9V191h3.9V190h3.9V175h3.9V191h3.9V195h3.9V184h3.9V184h3.9V183h3.9V184h3.9V188h3.9V186h3.9V194h3.9V183h3.9V176h3.9V225h-3.9V220h-3.9V232h-3.9V227h-3.9V218h-3.9V220h-3.9V219h-3.9V222h-3.9V232h-3.9V214h-3.9V223h-3.9V214h-3.9V224h-3.9V241h-3.9V219h-3.9V225h-3.9V228h-3.9V233h-3.9V216h-3.9V218h-3.9V229h-3.9V229h-3.9V222h-3.9V221h-3.9V215h-3.9V240h-3.9V236h-3.9V222h-3.9V218h-3.9V221h-3.9V226h-3.9V223h-3.9V214h-3.9V222h-3.9V215h-3.9V221h-3.9V219h-3.9V215h-3.9V213h-3.9V217h-3.9V227h-3.9V226h-3.9V225h-3.9V223h-3.9V218h-3.9V216h-3.9V216h-3.9V215h-3.9V222h-3.9V236h-3.9V213h-3.9V222h-3.9V213h-3.9V212h-3.9V208h-3.9V208h-3.9V212h-3.9V217h-3.9V214h-3.9V214h-3.9V215h-3.9V212h-3.9V215h-3.9V222h-3.9V209h-3.9V208h-3.9V207h-3.9V206h-3.9V210h-3.9V207h-3.9V208h-3.9V209h-3.9V210h-3.9V211h-3.9V208h-3.9V209h-3.9V207h-3.9V207h-3.9V207h-3.9V207h-3.9V213h-3.9V207h-3.9V210h-3.9V209h-3.9V219h-3.9V212h-3.9V219h-3.9V208h-3.9V212h-3.9V207h-3.9V208h-3.9V210h-3.9V210h-3.9V205h-3.9V215h-3.9V205h-3.9V206h-3.9V210h-3.9V208h-3.9V209h-3.9V213h-3.9V203h-3.9V210h-3.9V203h-3.9V204h-3.9V208h-3.9V211h-3.9V207h-3.9V206h-3.9V214h-3.9V205h-3.9V209h-3.9V208h-3.9V212h-3.9V211h-3.9V214h-3.9V206h-3.9V205h-3.9V204h-3.9V208h-3.9V223h-3.9V214h-3.9V204h-3.9V205h-3.9V206h-3.9V208h-3.9V211h-3.9V207h-3.9V209h-3.9V208h-3.9V209h-3.9V210h-3.9V211h-3.9V206h-3.9V207h-3.9V206h-3.9V204h-3.9V203h-3.9V204h-3.9V205h-3.9V205h-3.9V206h-3.9V207h-3.9V207h-3.9V205h-3.9V203h-3.9V202h-3.9V204h-3.9V205h-3.9V206h-3.9V204h-3.9V204h-3.9V205h-3.9V207h-3.9V203h-3.9V203h-3.9V213h-3.9V211h-3.9V207h-3.9V204h-3.9V203h-3.9V209h-3.9V204h-3.9V208h-3.9V215h-3.9V212h-3.9V204h-3.9V210h-3.9V205h-3.9V205h-3.9V209h-3.9V204h-3.9V205h-3.9V211h-3.9V211h-3.9V204h-3.9V204h-3.9V208h-3.9V204h-3.9V202h-3.9V210h-3.9V206h-3.9V209h-3.9V204h-3.9V216h-3.9V207h-3.9V206h-3.9V205h-3.9V206h-3.9V209h-3.9V208h-3.9V202h-3.9V205h-3.9V203h-3.9V209h-3.9V202h-3.9V205h-3.9V202h-3.9V203h-3.9V210h-3.9V208h-3.9V203h-3.9V209h-3.9V206h-3.9V204h-3.9V203h-3.9V203h-3.9V205h-3.9V204h-3.9V203h-3.9V212h-3.9V207h-3.9V213h-3.9V205h-3.9V203h-3.9V205h-3.9V207h-3.9V204h-3.9V201h-3.9V203h-3.9V206h-3.9V201h-3.9V202h-3.9V204h-3.9V203h-3.9V206h-3.9V204h-3.9V201h-3.9V200h-3.9V205h-3.9V202h-3.9V203h-3.9V204h-3.9V202h-3.9V203h-3.9V201h-3.9V216h-3.9V208h-3.9V209h-3.9V204h-3.9V207h-3.9V204h-3.9V205h-3.9V201h-3.9V201h-3.9V200h-3.9V203h-3.9V203h-3.9V206h-3.9V203h-3.9V201h-3.9V201h-3.9V205h-3.9V209h-3.9V206h-3.9V208h-3.9V217h-3.9V205h-3.9V204h-3.9V205h-3.9V202h-3.9V210h-3.9V206h-3.9V207h-3.9V208h-3.9V205h-3.9V207h-3.9V222h-3.9V206h-3.9V215h-3.9V211h-3.9V221h-3.9V206h-3.9V214h-3.9V208h-3.9V221h-3.9V210h-3.9V209h-3.9V207h-3.9V204h-3.9V205h-3.9V205h-3.9V206h-3.9V207h-3.9V207h-3.9V207h-3.9V221h-3.9V214h-3.9V213h-3.9V220h-3.9V216h-3.9V226h-3.9V214h-3.9V210h-3.9V210h-3.9V213h-3.9V211h-3.9V211h-3.9V210h-3.9V213h-3.9V223h-3.9V221h-3.9V209h-3.9V214h-3.9V209h-3.9V225h-3.9V213h-3.9V215h-3.9V217h-3.9V225h-3.9V225h-3.9V234h-3.9V227h-3.9V225h-3.9V225h-3.9V215h-3.9V215h-3.9V218h-3.9V220h-3.9V232h-3.9V219h-3.9V223h-3.9V220h-3.9V229h-3.9V219h-3.9V228h-3.9V234h-3.9V220h-3.9V211h-3.9V219h-3.9V216h-3.9V218h-3.9V222h-3.9V218h-3.9V229h-3.9V224h-3.9V233h-3.9V230h-3.9V222h-3.9V233h-3.9V219h-3.9V216h-3.9V226h-3.9V228h-3.9V221h-3.9V222h-3.9V233h-3.9V227h-3.9V217h-3.9V225h-3.9V224h-3.9V226h-3.9V223h-3.9V219h-3.9V258h-3.9V218h-3.9V216h-3.9V215h-3.9V225h-3.9V214h-3.9V209h-3.9V217h-3.9V228h-3.9V217h-3.9V237Z"/>
<path d="M85.4 226V178h3.9V170h3.9V176h3.9V166h3.9V170h3.9V171h3.9V172h3.9V174h3.9V169h3.9V169h3.9V168h3.9V171h3.9V170h3.9V183h3.9V187h3.9V191h3.9V185h3.9V176h3.9V177h3.9V175h3.9V170h3.9V171h3.9V170h3.9V183h3.9V171h3.9V177h3.9V186h3.9V181h3.9V172h3.9V176h3.9V170h3.9V165h3.9V173h3.9V170h3.9V170h3.9V166h3.9V167h3.9V163h3.9V173h3.9V161h3.9V170h3.9V178h3.9V168h3.9V169h3.9V154h3.9V160h3.9V158h3.9V165h3.9V176h3.9V169h3.9V167h3.9V170h3.9V160h3.9V169h3.9V167h3.9V167h3.9V169h3.9V171h3.9V174h3.9V171h3.9V172h3.9V181h3.9V183h3.9V168h3.9V176h3.9V172h3.9V172h3.9V177h3.9V169h3.9V164h3.9V156h3.9V145h3.9V158h3.9V154h3.9V161h3.9V175h3.9V174h3.9V164h3.9V166h3.9V165h3.9V166h3.9V164h3.9V165h3.9V158h3.9V158h3.9V162h3.9V171h3.9V162h3.9V173h3.9V171h3.9V157h3.9V149h3.9V160h3.9V165h3.9V155h3.9V171h3.9V161h3.9V151h3.9V152h3.9V159h3.9V165h3.9V151h3.9V155h3.9V159h3.9V156h3.9V154h3.9V165h3.9V152h3.9V158h3.9V158h3.9V159h3.9V151h3.9V161h3.9V157h3.9V155h3.9V149h3.9V148h3.9V152h3.9V163h3.9V163h3.9V150h3.9V135h3.9V162h3.9V155h3.9V153h3.9V148h3.9V159h3.9V157h3.9V171h3.9V166h3.9V154h3.9V148h3.9V157h3.9V157h3.9V157h3.9V150h3.9V152h3.9V159h3.9V156h3.9V157h3.9V159h3.9V157h3.9V140h3.9V140h3.9V147h3.9V159h3.9V164h3.9V162h3.9V162h3.9V158h3.9V158h3.9V154h3.9V149h3.9V160h3.9V159h3.9V168h3.9V159h3.9V162h3.9V162h3.9V160h3.9V166h3.9V172h3.9V156h3.9V157h3.9V148h3.9V149h3.9V157h3.9V156h3.9V161h3.9V157h3.9V162h3.9V163h3.9V163h3.9V162h3.9V161h3.9V156h3.9V155h3.9V161h3.9V161h3.9V162h3.9V170h3.9V164h3.9V165h3.9V150h3.9V153h3.9V161h3.9V169h3.9V166h3.9V157h3.9V156h3.9V153h3.9V149h3.9V162h3.9V153h3.9V150h3.9V154h3.9V157h3.9V156h3.9V156h3.9V162h3.9V167h3.9V162h3.9V169h3.9V168h3.9V160h3.9V152h3.9V154h3.9V163h3.9V155h3.9V155h3.9V161h3.9V157h3.9V160h3.9V156h3.9V168h3.9V163h3.9V171h3.9V170h3.9V168h3.9V164h3.9V166h3.9V163h3.9V159h3.9V167h3.9V158h3.9V164h3.9V170h3.9V172h3.9V158h3.9V161h3.9V158h3.9V153h3.9V160h3.9V163h3.9V169h3.9V163h3.9V160h3.9V154h3.9V159h3.9V168h3.9V173h3.9V173h3.9V178h3.9V177h3.9V170h3.9V180h3.9V173h3.9V170h3.9V154h3.9V162h3.9V154h3.9V156h3.9V159h3.9V155h3.9V164h3.9V168h3.9V174h3.9V169h3.9V167h3.9V173h3.9V160h3.9V165h3.9V165h3.9V166h3.9V169h3.9V165h3.9V161h3.9V171h3.9V161h3.9V168h3.9V166h3.9V167h3.9V174h3.9V181h3.9V177h3.9V169h3.9V179h3.9V175h3.9V181h3.9V183h3.9V169h3.9V171h3.9V174h3.9V179h3.9V185h3.9V190h3.9V186h3.9V182h3.9V188h3.9V178h3.9V174h3.9V174h3.9V171h3.9V182h3.9V178h3.9V171h3.9V172h3.9V176h3.9V169h3.9V162h3.9V171h3.9V176h3.9V176h3.9V173h3.9V178h3.9V177h3.9V179h3.9V178h3.9V178h3.9V177h3.9V189h3.9V184h3.9V192h3.9V177h3.9V178h3.9V177h3.9V177h3.9V180h3.9V172h3.9V183h3.9V179h3.9V184h3.9V175h3.9V174h3.9V171h3.9V179h3.9V170h3.9V172h3.9V186h3.9V175h3.9V180h3.9V180h3.9V187h3.9V185h3.9V181h3.9V183h3.9V184h3.9V190h3.9V184h3.9V186h3.9V183h3.9V182h3.9V176h3.9V183h3.9V173h3.9V174h3.9V182h3.9V190h3.9V182h3.9V193h3.9V194h3.9V183h3.9V177h3.9V179h3.9V178h3.9V180h3.9V175h3.9V179h3.9V176h3.9V172h3.9V180h3.9V185h3.9V189h3.9V181h3.9V191h3.9V218h-3.9V221h-3.9V225h-3.9V219h-3.9V230h-3.9V217h-3.9V220h-3.9V209h-3.9V214h-3.9V224h-3.9V217h-3.9V222h-3.9V223h-3.9V224h-3.9V247h-3.9V226h-3.9V236h-3.9V231h-3.9V221h-3.9V219h-3.9V225h-3.9V224h-3.9V215h-3.9V221h-3.9V214h-3.9V238h-3.9V220h-3.9V218h-3.9V216h-3.9V222h-3.9V237h-3.9V219h-3.9V213h-3.9V212h-3.9V218h-3.9V211h-3.9V218h-3.9V216h-3.9V219h-3.9V213h-3.9V219h-3.9V231h-3.9V227h-3.9V215h-3.9V223h-3.9V226h-3.9V220h-3.9V212h-3.9V217h-3.9V208h-3.9V216h-3.9V214h-3.9V219h-3.9V212h-3.9V210h-3.9V210h-3.9V209h-3.9V213h-3.9V219h-3.9V223h-3.9V211h-3.9V214h-3.9V211h-3.9V214h-3.9V212h-3.9V214h-3.9V206h-3.9V215h-3.9V207h-3.9V209h-3.9V207h-3.9V206h-3.9V206h-3.9V232h-3.9V210h-3.9V208h-3.9V213h-3.9V207h-3.9V211h-3.9V206h-3.9V213h-3.9V206h-3.9V211h-3.9V210h-3.9V213h-3.9V210h-3.9V208h-3.9V209h-3.9V210h-3.9V207h-3.9V206h-3.9V208h-3.9V219h-3.9V205h-3.9V210h-3.9V205h-3.9V206h-3.9V211h-3.9V208h-3.9V207h-3.9V205h-3.9V203h-3.9V205h-3.9V204h-3.9V206h-3.9V209h-3.9V208h-3.9V205h-3.9V211h-3.9V213h-3.9V207h-3.9V206h-3.9V208h-3.9V208h-3.9V206h-3.9V206h-3.9V212h-3.9V204h-3.9V205h-3.9V207h-3.9V210h-3.9V202h-3.9V208h-3.9V204h-3.9V211h-3.9V208h-3.9V211h-3.9V207h-3.9V206h-3.9V208h-3.9V205h-3.9V215h-3.9V211h-3.9V210h-3.9V210h-3.9V208h-3.9V205h-3.9V213h-3.9V214h-3.9V207h-3.9V207h-3.9V206h-3.9V204h-3.9V204h-3.9V210h-3.9V210h-3.9V204h-3.9V205h-3.9V203h-3.9V208h-3.9V202h-3.9V201h-3.9V203h-3.9V203h-3.9V215h-3.9V205h-3.9V204h-3.9V206h-3.9V207h-3.9V204h-3.9V208h-3.9V206h-3.9V204h-3.9V211h-3.9V207h-3.9V205h-3.9V203h-3.9V204h-3.9V203h-3.9V206h-3.9V207h-3.9V209h-3.9V209h-3.9V207h-3.9V206h-3.9V206h-3.9V208h-3.9V207h-3.9V203h-3.9V207h-3.9V206h-3.9V206h-3.9V211h-3.9V208h-3.9V210h-3.9V210h-3.9V209h-3.9V204h-3.9V204h-3.9V209h-3.9V205h-3.9V207h-3.9V202h-3.9V204h-3.9V203h-3.9V203h-3.9V204h-3.9V204h-3.9V207h-3.9V207h-3.9V205h-3.9V206h-3.9V208h-3.9V206h-3.9V199h-3.9V207h-3.9V207h-3.9V204h-3.9V202h-3.9V204h-3.9V208h-3.9V206h-3.9V202h-3.9V207h-3.9V202h-3.9V203h-3.9V205h-3.9V207h-3.9V204h-3.9V203h-3.9V207h-3.9V201h-3.9V206h-3.9V205h-3.9V204h-3.9V202h-3.9V207h-3.9V201h-3.9V199h-3.9V200h-3.9V202h-3.9V203h-3.9V202h-3.9V202h-3.9V203h-3.9V202h-3.9V204h-3.9V211h-3.9V205h-3.9V207h-3.9V208h-3.9V207h-3.9V203h-3.9V201h-3.9V201h-3.9V205h-3.9V207h-3.9V203h-3.9V214h-3.9V205h-3.9V200h-3.9V201h-3.9V203h-3.9V205h-3.9V216h-3.9V209h-3.9V206h-3.9V205h-3.9V205h-3.9V210h-3.9V205h-3.9V205h-3.9V222h-3.9V205h-3.9V233h-3.9V207h-3.9V214h-3.9V206h-3.9V207h-3.9V216h-3.9V210h-3.9V211h-3.9V207h-3.9V212h-3.9V206h-3.9V209h-3.9V205h-3.9V208h-3.9V219h-3.9V206h-3.9V206h-3.9V205h-3.9V212h-3.9V215h-3.9V210h-3.9V215h-3.9V208h-3.9V212h-3.9V217h-3.9V209h-3.9V211h-3.9V210h-3.9V208h-3.9V208h-3.9V237h-3.9V211h-3.9V209h-3.9V208h-3.9V210h-3.9V206h-3.9V214h-3.9V216h-3.9V210h-3.9V213h-3.9V212h-3.9V212h-3.9V213h-3.9V222h-3.9V217h-3.9V217h-3.9V219h-3.9V222h-3.9V216h-3.9V218h-3.9V219h-3.9V210h-3.9V212h-3.9V216h-3.9V238h-3.9V226h-3.9V223h-3.9V230h-3.9V227h-3.9V223h-3.9V251h-3.9V225h-3.9V226h-3.9V214h-3.9V238h-3.9V222h-3.9V209h-3.9V223h-3.9V221h-3.9V218h-3.9V225h-3.9V222h-3.9V225h-3.9V220h-3.9V221h-3.9V216h-3.9V219h-3.9V236h-3.9V225h-3.9V224h-3.9V223h-3.9V224h-3.9V247h-3.9V222h-3.9V221h-3.9V222h-3.9V217h-3.9V217h-3.9V222h-3.9V216h-3.9V226h-3.9V218h-3.9V219h-3.9V226h-3.9V231h-3.9V218h-3.9V212h-3.9V214h-3.9V214h-3.9V228h-3.9V226Z"/>
<path d="M85.4 221V181h3.9V172h3.9V170h3.9V168h3.9V176h3.9V175h3.9V176h3.9V177h3.9V185h3.9V187h3.9V188h3.9V184h3.9V178h3.9V180h3.9V192h3.9V183h3.9V180h3.9V185h3.9V184h3.9V183h3.9V184h3.9V183h3.9V177h3.9V172h3.9V168h3.9V172h3.9V171h3.9V170h3.9V166h3.9V170h3.9V167h3.9V177h3.9V177h3.9V174h3.9V173h3.9V178h3.9V169h3.9V169h3.9V157h3.9V164h3.9V170h3.9V176h3.9V178h3.9V166h3.9V168h3.9V166h3.9V164h3.9V157h3.9V160h3.9V166h3.9V174h3.9V176h3.9V176h3.9V171h3.9V168h3.9V168h3.9V173h3.9V168h3.9V164h3.9V171h3.9V167h3.9V162h3.9V162h3.9V162h3.9V164h3.9V171h3.9V170h3.9V165h3.9V166h3.9V153h3.9V157h3.9V162h3.9V160h3.9V162h3.9V159h3.9V165h3.9V167h3.9V166h3.9V167h3.9V166h3.9V168h3.9V170h3.9V166h3.9V169h3.9V166h3.9V172h3.9V172h3.9V168h3.9V167h3.9V167h3.9V144h3.9V152h3.9V154h3.9V156h3.9V148h3.9V160h3.9V152h3.9V161h3.9V152h3.9V150h3.9V152h3.9V159h3.9V166h3.9V159h3.9V167h3.9V157h3.9V154h3.9V161h3.9V150h3.9V156h3.9V161h3.9V156h3.9V159h3.9V160h3.9V153h3.9V152h3.9V153h3.9V157h3.9V161h3.9V160h3.9V158h3.9V154h3.9V167h3.9V161h3.9V158h3.9V156h3.9V156h3.9V155h3.9V153h3.9V173h3.9V157h3.9V155h3.9V160h3.9V151h3.9V157h3.9V152h3.9V157h3.9V154h3.9V160h3.9V162h3.9V158h3.9V158h3.9V149h3.9V143h3.9V152h3.9V155h3.9V164h3.9V150h3.9V150h3.9V153h3.9V158h3.9V155h3.9V164h3.9V159h3.9V167h3.9V170h3.9V166h3.9V170h3.9V165h3.9V162h3.9V170h3.9V158h3.9V158h3.9V156h3.9V161h3.9V167h3.9V172h3.9V173h3.9V168h3.9V169h3.9V159h3.9V157h3.9V162h3.9V151h3.9V155h3.9V162h3.9V163h3.9V162h3.9V167h3.9V167h3.9V163h3.9V162h3.9V162h3.9V160h3.9V164h3.9V165h3.9V160h3.9V161h3.9V163h3.9V166h3.9V159h3.9V158h3.9V157h3.9V152h3.9V163h3.9V163h3.9V168h3.9V168h3.9V146h3.9V147h3.9V163h3.9V155h3.9V169h3.9V166h3.9V170h3.9V166h3.9V169h3.9V167h3.9V168h3.9V170h3.9V173h3.9V168h3.9V176h3.9V169h3.9V167h3.9V167h3.9V164h3.9V171h3.9V173h3.9V171h3.9V161h3.9V162h3.9V159h3.9V161h3.9V170h3.9V162h3.9V168h3.9V168h3.9V162h3.9V159h3.9V160h3.9V160h3.9V162h3.9V163h3.9V163h3.9V164h3.9V159h3.9V163h3.9V170h3.9V170h3.9V168h3.9V166h3.9V178h3.9V184h3.9V176h3.9V170h3.9V169h3.9V178h3.9V167h3.9V173h3.9V157h3.9V168h3.9V173h3.9V162h3.9V166h3.9V165h3.9V170h3.9V175h3.9V166h3.9V174h3.9V162h3.9V173h3.9V177h3.9V179h3.9V163h3.9V163h3.9V179h3.9V169h3.9V174h3.9V176h3.9V174h3.9V169h3.9V167h3.9V174h3.9V181h3.9V158h3.9V164h3.9V170h3.9V173h3.9V175h3.9V169h3.9V168h3.9V164h3.9V169h3.9V174h3.9V170h3.9V175h3.9V166h3.9V181h3.9V178h3.9V176h3.9V174h3.9V167h3.9V176h3.9V178h3.9V169h3.9V165h3.9V176h3.9V166h3.9V168h3.9V174h3.9V171h3.9V172h3.9V173h3.9V176h3.9V168h3.9V170h3.9V177h3.9V178h3.9V180h3.9V187h3.9V190h3.9V182h3.9V176h3.9V175h3.9V169h3.9V177h3.9V177h3.9V177h3.9V187h3.9V188h3.9V186h3.9V181h3.9V173h3.9V177h3.9V169h3.9V175h3.9V176h3.9V182h3.9V172h3.9V178h3.9V178h3.9V173h3.9V164h3.9V162h3.9V170h3.9V173h3.9V177h3.9V174h3.9V182h3.9V183h3.9V191h3.9V181h3.9V192h3.9V187h3.9V186h3.9V194h3.9V185h3.9V184h3.9V193h3.9V186h3.9V184h3.9V185h3.9V170h3.9V178h3.9V188h3.9V188h3.9V181h3.9V177h3.9V187h3.9V192h3.9V191h3.9V187h3.9V185h3.9V178h3.9V216h-3.9V224h-3.9V215h-3.9V216h-3.9V218h-3.9V231h-3.9V218h-3.9V208h-3.9V244h-3.9V217h-3.9V232h-3.9V226h-3.9V220h-3.9V221h-3.9V228h-3.9V217h-3.9V233h-3.9V221h-3.9V217h-3.9V241h-3.9V223h-3.9V218h-3.9V228h-3.9V219h-3.9V228h-3.9V218h-3.9V220h-3.9V238h-3.9V216h-3.9V234h-3.9V241h-3.9V220h-3.9V220h-3.9V215h-3.9V225h-3.9V216h-3.9V215h-3.9V213h-3.9V218h-3.9V216h-3.9V216h-3.9V222h-3.9V215h-3.9V221h-3.9V213h-3.9V216h-3.9V211h-3.9V220h-3.9V223h-3.9V215h-3.9V212h-3.9V215h-3.9V216h-3.9V219h-3.9V224h-3.9V209h-3.9V209h-3.9V219h-3.9V219h-3.9V210h-3.9V215h-3.9V236h-3.9V216h-3.9V212h-3.9V221h-3.9V208h-3.9V209h-3.9V214h-3.9V208h-3.9V215h-3.9V212h-3.9V212h-3.9V208h-3.9V207h-3.9V211h-3.9V213h-3.9V211h-3.9V206h-3.9V217h-3.9V207h-3.9V213h-3.9V209h-3.9V214h-3.9V208h-3.9V223h-3.9V219h-3.9V214h-3.9V214h-3.9V213h-3.9V208h-3.9V206h-3.9V207h-3.9V211h-3.9V207h-3.9V219h-3.9V207h-3.9V205h-3.9V207h-3.9V209h-3.9V206h-3.9V206h-3.9V204h-3.9V206h-3.9V207h-3.9V210h-3.9V205h-3.9V205h-3.9V205h-3.9V210h-3.9V206h-3.9V206h-3.9V206h-3.9V217h-3.9V209h-3.9V205h-3.9V206h-3.9V206h-3.9V210h-3.9V206h-3.9V208h-3.9V205h-3.9V203h-3.9V210h-3.9V204h-3.9V206h-3.9V207h-3.9V208h-3.9V206h-3.9V206h-3.9V217h-3.9V209h-3.9V206h-3.9V212h-3.9V206h-3.9V205h-3.9V205h-3.9V205h-3.9V204h-3.9V205h-3.9V211h-3.9V207h-3.9V204h-3.9V213h-3.9V204h-3.9V205h-3.9V201h-3.9V202h-3.9V206h-3.9V210h-3.9V207h-3.9V207h-3.9V202h-3.9V206h-3.9V202h-3.9V206h-3.9V204h-3.9V204h-3.9V207h-3.9V209h-3.9V213h-3.9V205h-3.9V205h-3.9V204h-3.9V207h-3.9V203h-3.9V206h-3.9V213h-3.9V204h-3.9V203h-3.9V205h-3.9V205h-3.9V211h-3.9V214h-3.9V208h-3.9V204h-3.9V208h-3.9V204h-3.9V215h-3.9V202h-3.9V204h-3.9V205h-3.9V208h-3.9V205h-3.9V206h-3.9V208h-3.9V204h-3.9V205h-3.9V205h-3.9V205h-3.9V206h-3.9V203h-3.9V203h-3.9V202h-3.9V205h-3.9V205h-3.9V204h-3.9V203h-3.9V203h-3.9V202h-3.9V223h-3.9V215h-3.9V208h-3.9V202h-3.9V202h-3.9V199h-3.9V213h-3.9V203h-3.9V206h-3.9V210h-3.9V204h-3.9V214h-3.9V205h-3.9V213h-3.9V210h-3.9V206h-3.9V203h-3.9V208h-3.9V204h-3.9V211h-3.9V206h-3.9V203h-3.9V203h-3.9V204h-3.9V209h-3.9V203h-3.9V202h-3.9V208h-3.9V203h-3.9V203h-3.9V202h-3.9V203h-3.9V213h-3.9V203h-3.9V203h-3.9V211h-3.9V200h-3.9V209h-3.9V204h-3.9V205h-3.9V209h-3.9V202h-3.9V202h-3.9V204h-3.9V203h-3.9V208h-3.9V201h-3.9V203h-3.9V202h-3.9V206h-3.9V203h-3.9V209h-3.9V202h-3.9V206h-3.9V206h-3.9V203h-3.9V206h-3.9V207h-3.9V212h-3.9V209h-3.9V211h-3.9V213h-3.9V204h-3.9V215h-3.9V212h-3.9V211h-3.9V209h-3.9V206h-3.9V211h-3.9V205h-3.9V207h-3.9V212h-3.9V209h-3.9V222h-3.9V208h-3.9V210h-3.9V219h-3.9V208h-3.9V216h-3.9V206h-3.9V211h-3.9V205h-3.9V208h-3.9V213h-3.9V227h-3.9V214h-3.9V211h-3.9V208h-3.9V210h-3.9V223h-3.9V209h-3.9V210h-3.9V206h-3.9V220h-3.9V221h-3.9V241h-3.9V209h-3.9V210h-3.9V211h-3.9V212h-3.9V209h-3.9V210h-3.9V218h-3.9V219h-3.9V212h-3.9V218h-3.9V214h-3.9V214h-3.9V226h-3.9V218h-3.9V214h-3.9V230h-3.9V231h-3.9V218h-3.9V216h-3.9V223h-3.9V227h-3.9V214h-3.9V234h-3.9V224h-3.9V220h-3.9V224h-3.9V227h-3.9V218h-3.9V218h-3.9V227h-3.9V221h-3.9V222h-3.9V213h-3.9V221h-3.9V211h-3.9V228h-3.9V218h-3.9V216h-3.9V219h-3.9V219h-3.9V224h-3.9V233h-3.9V222h-3.9V219h-3.9V216h-3.9V237h-3.9V223h-3.9V233h-3.9V224h-3.9V246h-3.9V246h-3.9V224h-3.9V218h-3.9V224h-3.9V229h-3.9V228h-3.9V217h-3.9V220h-3.9V231h-3.9V226h-3.9V239h-3.9V219h-3.9V218h-3.9V227h-3.9V222h-3.9V227h-3.9V210h-3.9V227h-3.9V217h-3.9V221Z"/>
<path d="M85.4 221V176h3.9V162h3.9V159h3.9V172h3.9V166h3.9V166h3.9V169h3.9V163h3.9V164h3.9V166h3.9V164h3.9V163h3.9V165h3.9V170h3.9V176h3.9V169h3.9V169h3.9V171h3.9V175h3.9V179h3.9V180h3.9V180h3.9V179h3.9V176h3.9V174h3.9V179h3.9V179h3.9V172h3.9V171h3.9V176h3.9V165h3.9V170h3.9V172h3.9V176h3.9V174h3.9V178h3.9V186h3.9V170h3.9V169h3.9V174h3.9V169h3.9V168h3.9V167h3.9V164h3.9V165h3.9V160h3.9V177h3.9V168h3.9V172h3.9V173h3.9V159h3.9V167h3.9V163h3.9V163h3.9V170h3.9V172h3.9V169h3.9V168h3.9V161h3.9V168h3.9V177h3.9V178h3.9V171h3.9V166h3.9V166h3.9V171h3.9V156h3.9V161h3.9V172h3.9V166h3.9V163h3.9V155h3.9V161h3.9V165h3.9V172h3.9V166h3.9V160h3.9V163h3.9V159h3.9V154h3.9V158h3.9V166h3.9V163h3.9V170h3.9V161h3.9V158h3.9V166h3.9V156h3.9V157h3.9V173h3.9V160h3.9V148h3.9V165h3.9V157h3.9V165h3.9V164h3.9V174h3.9V172h3.9V163h3.9V152h3.9V152h3.9V149h3.9V149h3.9V152h3.9V153h3.9V153h3.9V154h3.9V137h3.9V140h3.9V145h3.9V148h3.9V147h3.9V163h3.9V158h3.9V167h3.9V166h3.9V147h3.9V164h3.9V157h3.9V168h3.9V160h3.9V150h3.9V158h3.9V144h3.9V153h3.9V146h3.9V159h3.9V154h3.9V162h3.9V153h3.9V156h3.9V151h3.9V159h3.9V162h3.9V159h3.9V160h3.9V165h3.9V151h3.9V163h3.9V153h3.9V156h3.9V163h3.9V150h3.9V149h3.9V144h3.9V164h3.9V155h3.9V159h3.9V163h3.9V159h3.9V150h3.9V155h3.9V157h3.9V158h3.9V161h3.9V158h3.9V163h3.9V166h3.9V162h3.9V153h3.9V157h3.9V169h3.9V166h3.9V164h3.9V155h3.9V153h3.9V157h3.9V152h3.9V149h3.9V147h3.9V159h3.9V162h3.9V152h3.9V160h3.9V164h3.9V159h3.9V165h3.9V168h3.9V172h3.9V167h3.9V173h3.9V160h3.9V165h3.9V153h3.9V160h3.9V160h3.9V164h3.9V164h3.9V159h3.9V160h3.9V156h3.9V141h3.9V152h3.9V152h3.9V154h3.9V151h3.9V156h3.9V162h3.9V157h3.9V162h3.9V164h3.9V160h3.9V169h3.9V173h3.9V171h3.9V166h3.9V168h3.9V175h3.9V164h3.9V166h3.9V170h3.9V164h3.9V165h3.9V170h3.9V175h3.9V174h3.9V170h3.9V158h3.9V170h3.9V168h3.9V167h3.9V163h3.9V158h3.9V173h3.9V179h3.9V163h3.9V164h3.9V166h3.9V152h3.9V154h3.9V167h3.9V168h3.9V163h3.9V174h3.9V173h3.9V170h3.9V167h3.9V164h3.9V160h3.9V166h3.9V160h3.9V172h3.9V170h3.9V179h3.9V173h3.9V180h3.9V168h3.9V158h3.9V155h3.9V155h3.9V160h3.9V159h3.9V154h3.9V152h3.9V158h3.9V159h3.9V163h3.9V159h3.9V160h3.9V164h3.9V170h3.9V174h3.9V176h3.9V173h3.9V173h3.9V169h3.9V179h3.9V156h3.9V164h3.9V161h3.9V163h3.9V174h3.9V166h3.9V161h3.9V176h3.9V162h3.9V175h3.9V173h3.9V175h3.9V181h3.9V170h3.9V174h3.9V170h3.9V165h3.9V159h3.9V168h3.9V164h3.9V158h3.9V165h3.9V166h3.9V164h3.9V170h3.9V167h3.9V174h3.9V162h3.9V178h3.9V173h3.9V173h3.9V170h3.9V174h3.9V178h3.9V177h3.9V178h3.9V181h3.9V187h3.9V178h3.9V177h3.9V182h3.9V186h3.9V183h3.9V172h3.9V178h3.9V181h3.9V175h3.9V172h3.9V178h3.9V183h3.9V174h3.9V174h3.9V182h3.9V186h3.9V181h3.9V180h3.9V177h3.9V184h3.9V186h3.9V186h3.9V185h3.9V184h3.9V181h3.9V180h3.9V185h3.9V170h3.9V165h3.9V167h3.9V179h3.9V181h3.9V189h3.9V171h3.9V183h3.9V189h3.9V187h3.9V184h3.9V180h3.9V178h3.9V182h3.9V180h3.9V182h3.9V185h3.9V184h3.9V181h3.9V183h3.9V182h3.9V175h3.9V175h3.9V174h3.9V169h3.9V180h3.9V185h3.9V180h3.9V181h3.9V180h3.9V180h3.9V173h3.9V181h3.9V216h-3.9V222h-3.9V214h-3.9V236h-3.9V231h-3.9V215h-3.9V235h-3.9V212h-3.9V236h-3.9V214h-3.9V229h-3.9V216h-3.9V226h-3.9V222h-3.9V221h-3.9V225h-3.9V223h-3.9V241h-3.9V227h-3.9V220h-3.9V232h-3.9V228h-3.9V213h-3.9V231h-3.9V213h-3.9V234h-3.9V217h-3.9V217h-3.9V219h-3.9V223h-3.9V218h-3.9V221h-3.9V216h-3.9V217h-3.9V216h-3.9V221h-3.9V215h-3.9V213h-3.9V218h-3.9V215h-3.9V215h-3.9V215h-3.9V219h-3.9V215h-3.9V218h-3.9V212h-3.9V213h-3.9V216h-3.9V221h-3.9V210h-3.9V210h-3.9V218h-3.9V220h-3.9V212h-3.9V214h-3.9V210h-3.9V216h-3.9V215h-3.9V222h-3.9V215h-3.9V214h-3.9V211h-3.9V209h-3.9V212h-3.9V209h-3.9V207h-3.9V210h-3.9V206h-3.9V210h-3.9V221h-3.9V228h-3.9V206h-3.9V206h-3.9V211h-3.9V211h-3.9V213h-3.9V214h-3.9V207h-3.9V206h-3.9V206h-3.9V215h-3.9V210h-3.9V210h-3.9V215h-3.9V220h-3.9V210h-3.9V211h-3.9V208h-3.9V208h-3.9V207h-3.9V208h-3.9V211h-3.9V210h-3.9V210h-3.9V212h-3.9V206h-3.9V212h-3.9V207h-3.9V208h-3.9V206h-3.9V206h-3.9V203h-3.9V206h-3.9V211h-3.9V204h-3.9V209h-3.9V212h-3.9V206h-3.9V207h-3.9V206h-3.9V206h-3.9V207h-3.9V214h-3.9V211h-3.9V216h-3.9V203h-3.9V209h-3.9V206h-3.9V207h-3.9V209h-3.9V212h-3.9V207h-3.9V206h-3.9V204h-3.9V206h-3.9V207h-3.9V208h-3.9V210h-3.9V208h-3.9V209h-3.9V206h-3.9V205h-3.9V208h-3.9V206h-3.9V210h-3.9V209h-3.9V203h-3.9V208h-3.9V217h-3.9V206h-3.9V211h-3.9V208h-3.9V206h-3.9V207h-3.9V209h-3.9V201h-3.9V203h-3.9V210h-3.9V205h-3.9V203h-3.9V204h-3.9V205h-3.9V203h-3.9V203h-3.9V204h-3.9V202h-3.9V210h-3.9V213h-3.9V206h-3.9V205h-3.9V205h-3.9V210h-3.9V211h-3.9V212h-3.9V204h-3.9V204h-3.9V205h-3.9V205h-3.9V208h-3.9V208h-3.9V210h-3.9V205h-3.9V205h-3.9V205h-3.9V205h-3.9V205h-3.9V204h-3.9V207h-3.9V206h-3.9V212h-3.9V204h-3.9V204h-3.9V207h-3.9V209h-3.9V204h-3.9V205h-3.9V206h-3.9V208h-3.9V204h-3.9V205h-3.9V203h-3.9V203h-3.9V206h-3.9V208h-3.9V204h-3.9V202h-3.9V204h-3.9V202h-3.9V204h-3.9V203h-3.9V204h-3.9V203h-3.9V204h-3.9V203h-3.9V200h-3.9V201h-3.9V203h-3.9V206h-3.9V209h-3.9V204h-3.9V204h-3.9V206h-3.9V203h-3.9V210h-3.9V204h-3.9V209h-3.9V206h-3.9V203h-3.9V206h-3.9V206h-3.9V205h-3.9V214h-3.9V207h-3.9V209h-3.9V203h-3.9V202h-3.9V211h-3.9V211h-3.9V208h-3.9V199h-3.9V201h-3.9V205h-3.9V201h-3.9V202h-3.9V207h-3.9V209h-3.9V204h-3.9V208h-3.9V208h-3.9V209h-3.9V209h-3.9V201h-3.9V207h-3.9V204h-3.9V205h-3.9V201h-3.9V202h-3.9V223h-3.9V219h-3.9V211h-3.9V204h-3.9V201h-3.9V210h-3.9V205h-3.9V209h-3.9V222h-3.9V223h-3.9V206h-3.9V205h-3.9V209h-3.9V206h-3.9V205h-3.9V210h-3.9V208h-3.9V206h-3.9V210h-3.9V206h-3.9V206h-3.9V206h-3.9V207h-3.9V212h-3.9V216h-3.9V221h-3.9V210h-3.9V205h-3.9V208h-3.9V217h-3.9V210h-3.9V205h-3.9V211h-3.9V205h-3.9V210h-3.9V208h-3.9V211h-3.9V226h-3.9V210h-3.9V219h-3.9V226h-3.9V213h-3.9V210h-3.9V210h-3.9V209h-3.9V208h-3.9V208h-3.9V210h-3.9V220h-3.9V209h-3.9V212h-3.9V217h-3.9V218h-3.9V218h-3.9V233h-3.9V212h-3.9V211h-3.9V209h-3.9V210h-3.9V212h-3.9V224h-3.9V216h-3.9V215h-3.9V218h-3.9V220h-3.9V228h-3.9V243h-3.9V220h-3.9V229h-3.9V217h-3.9V237h-3.9V217h-3.9V218h-3.9V243h-3.9V222h-3.9V224h-3.9V216h-3.9V226h-3.9V215h-3.9V213h-3.9V213h-3.9V215h-3.9V214h-3.9V215h-3.9V219h-3.9V219h-3.9V217h-3.9V220h-3.9V223h-3.9V218h-3.9V219h-3.9V214h-3.9V228h-3.9V221h-3.9V220h-3.9V261h-3.9V218h-3.9V218h-3.9V232h-3.9V235h-3.9V232h-3.9V237h-3.9V220h-3.9V224h-3.9V218h-3.9V231h-3.9V216h-3.9V219h-3.9V219h-3.9V223h-3.9V220h-3.9V215h-3.9V231h-3.9V212h-3.9V212h-3.9V229h-3.9V217h-3.9V221Z"/>
<path d="M85.4 222V164h3.9V169h3.9V162h3.9V170h3.9V165h3.9V165h3.9V172h3.9V172h3.9V173h3.9V176h3.9V178h3.9V165h3.9V170h3.9V175h3.9V173h3.9V175h3.9V186h3.9V178h3.9V177h3.9V167h3.9V173h3.9V172h3.9V173h3.9V173h3.9V179h3.9V181h3.9V184h3.9V173h3.9V165h3.9V176h3.9V170h3.9V171h3.9V174h3.9V173h3.9V164h3.9V159h3.9V174h3.9V168h3.9V170h3.9V158h3.9V165h3.9V182h3.9V184h3.9V168h3.9V164h3.9V158h3.9V166h3.9V165h3.9V173h3.9V172h3.9V157h3.9V167h3.9V170h3.9V171h3.9V180h3.9V175h3.9V172h3.9V180h3.9V166h3.9V158h3.9V160h3.9V165h3.9V163h3.9V161h3.9V166h3.9V175h3.9V168h3.9V170h3.9V165h3.9V163h3.9V149h3.9V148h3.9V158h3.9V165h3.9V156h3.9V163h3.9V152h3.9V156h3.9V159h3.9V155h3.9V144h3.9V147h3.9V149h3.9V144h3.9V146h3.9V152h3.9V159h3.9V159h3.9V163h3.9V159h3.9V161h3.9V152h3.9V162h3.9V161h3.9V161h3.9V162h3.9V157h3.9V158h3.9V158h3.9V155h3.9V164h3.9V161h3.9V158h3.9V161h3.9V162h3.9V162h3.9V159h3.9V162h3.9V156h3.9V154h3.9V151h3.9V153h3.9V164h3.9V168h3.9V158h3.9V159h3.9V147h3.9V143h3.9V166h3.9V163h3.9V157h3.9V148h3.9V162h3.9V154h3.9V159h3.9V154h3.9V152h3.9V154h3.9V164h3.9V162h3.9V154h3.9V160h3.9V158h3.9V160h3.9V159h3.9V150h3.9V154h3.9V161h3.9V161h3.9V162h3.9V151h3.9V157h3.9V147h3.9V150h3.9V166h3.9V160h3.9V167h3.9V171h3.9V169h3.9V154h3.9V172h3.9V167h3.9V163h3.9V166h3.9V176h3.9V166h3.9V161h3.9V153h3.9V148h3.9V157h3.9V161h3.9V159h3.9V166h3.9V158h3.9V155h3.9V165h3.9V173h3.9V171h3.9V165h3.9V165h3.9V161h3.9V157h3.9V161h3.9V158h3.9V156h3.9V153h3.9V160h3.9V149h3.9V155h3.9V153h3.9V162h3.9V151h3.9V156h3.9V158h3.9V168h3.9V158h3.9V158h3.9V156h3.9V158h3.9V152h3.9V157h3.9V154h3.9V163h3.9V154h3.9V146h3.9V149h3.9V147h3.9V159h3.9V152h3.9V149h3.9V144h3.9V149h3.9V150h3.9V166h3.9V160h3.9V155h3.9V164h3.9V174h3.9V172h3.9V160h3.9V168h3.9V159h3.9V166h3.9V164h3.9V151h3.9V154h3.9V158h3.9V167h3.9V163h3.9V162h3.9V158h3.9V152h3.9V163h3.9V160h3.9V164h3.9V169h3.9V160h3.9V172h3.9V161h3.9V163h3.9V171h3.9V171h3.9V163h3.9V155h3.9V158h3.9V168h3.9V171h3.9V179h3.9V170h3.9V170h3.9V158h3.9V155h3.9V163h3.9V170h3.9V172h3.9V182h3.9V169h3.9V170h3.9V157h3.9V168h3.9V163h3.9V171h3.9V165h3.9V161h3.9V164h3.9V167h3.9V171h3.9V159h3.9V161h3.9V155h3.9V150h3.9V178h3.9V179h3.9V178h3.9V171h3.9V174h3.9V174h3.9V177h3.9V167h3.9V173h3.9V163h3.9V172h3.9V170h3.9V157h3.9V166h3.9V172h3.9V164h3.9V169h3.9V167h3.9V169h3.9V161h3.9V167h3.9V179h3.9V174h3.9V181h3.9V172h3.9V174h3.9V179h3.9V182h3.9V174h3.9V170h3.9V171h3.9V171h3.9V169h3.9V166h3.9V159h3.9V165h3.9V172h3.9V172h3.9V162h3.9V171h3.9V176h3.9V180h3.9V183h3.9V182h3.9V189h3.9V178h3.9V177h3.9V168h3.9V171h3.9V180h3.9V177h3.9V178h3.9V176h3.9V175h3.9V174h3.9V161h3.9V168h3.9V176h3.9V175h3.9V171h3.9V187h3.9V163h3.9V176h3.9V170h3.9V172h3.9V173h3.9V181h3.9V179h3.9V179h3.9V171h3.9V185h3.9V181h3.9V172h3.9V171h3.9V167h3.9V169h3.9V177h3.9V173h3.9V179h3.9V185h3.9V188h3.9V185h3.9V183h3.9V176h3.9V183h3.9V187h3.9V182h3.9V182h3.9V183h3.9V179h3.9V179h3.9V176h3.9V175h3.9V168h3.9V186h3.9V178h3.9V181h3.9V173h3.9V169h3.9V185h3.9V192h3.9V181h3.9V172h3.9V179h3.9V233h-3.9V220h-3.9V242h-3.9V224h-3.9V228h-3.9V217h-3.9V229h-3.9V212h-3.9V216h-3.9V224h-3.9V217h-3.9V216h-3.9V218h-3.9V230h-3.9V243h-3.9V217h-3.9V221h-3.9V220h-3.9V215h-3.9V225h-3.9V241h-3.9V223h-3.9V212h-3.9V244h-3.9V220h-3.9V218h-3.9V230h-3.9V225h-3.9V251h-3.9V225h-3.9V232h-3.9V221h-3.9V214h-3.9V214h-3.9V214h-3.9V217h-3.9V215h-3.9V213h-3.9V211h-3.9V218h-3.9V221h-3.9V215h-3.9V223h-3.9V215h-3.9V212h-3.9V214h-3.9V211h-3.9V211h-3.9V210h-3.9V208h-3.9V212h-3.9V216h-3.9V215h-3.9V229h-3.9V213h-3.9V222h-3.9V217h-3.9V211h-3.9V214h-3.9V224h-3.9V220h-3.9V217h-3.9V212h-3.9V213h-3.9V208h-3.9V209h-3.9V206h-3.9V211h-3.9V208h-3.9V211h-3.9V211h-3.9V215h-3.9V213h-3.9V207h-3.9V206h-3.9V214h-3.9V210h-3.9V206h-3.9V208h-3.9V213h-3.9V208h-3.9V206h-3.9V216h-3.9V217h-3.9V224h-3.9V215h-3.9V213h-3.9V218h-3.9V211h-3.9V210h-3.9V211h-3.9V219h-3.9V216h-3.9V206h-3.9V209h-3.9V208h-3.9V216h-3.9V206h-3.9V225h-3.9V209h-3.9V204h-3.9V204h-3.9V207h-3.9V203h-3.9V205h-3.9V206h-3.9V206h-3.9V206h-3.9V207h-3.9V207h-3.9V208h-3.9V205h-3.9V208h-3.9V207h-3.9V212h-3.9V205h-3.9V206h-3.9V206h-3.9V213h-3.9V205h-3.9V211h-3.9V207h-3.9V205h-3.9V209h-3.9V210h-3.9V207h-3.9V207h-3.9V210h-3.9V207h-3.9V207h-3.9V207h-3.9V207h-3.9V206h-3.9V208h-3.9V205h-3.9V206h-3.9V211h-3.9V205h-3.9V205h-3.9V204h-3.9V205h-3.9V205h-3.9V209h-3.9V204h-3.9V208h-3.9V202h-3.9V212h-3.9V204h-3.9V203h-3.9V207h-3.9V212h-3.9V207h-3.9V205h-3.9V209h-3.9V204h-3.9V203h-3.9V204h-3.9V205h-3.9V209h-3.9V204h-3.9V205h-3.9V205h-3.9V205h-3.9V207h-3.9V203h-3.9V206h-3.9V204h-3.9V209h-3.9V205h-3.9V203h-3.9V206h-3.9V204h-3.9V206h-3.9V206h-3.9V205h-3.9V204h-3.9V204h-3.9V204h-3.9V203h-3.9V203h-3.9V209h-3.9V204h-3.9V208h-3.9V202h-3.9V210h-3.9V209h-3.9V209h-3.9V208h-3.9V205h-3.9V205h-3.9V206h-3.9V206h-3.9V204h-3.9V203h-3.9V211h-3.9V210h-3.9V206h-3.9V209h-3.9V210h-3.9V203h-3.9V207h-3.9V204h-3.9V213h-3.9V217h-3.9V199h-3.9V201h-3.9V201h-3.9V207h-3.9V203h-3.9V204h-3.9V205h-3.9V209h-3.9V202h-3.9V213h-3.9V207h-3.9V206h-3.9V205h-3.9V206h-3.9V206h-3.9V212h-3.9V204h-3.9V212h-3.9V202h-3.9V205h-3.9V204h-3.9V203h-3.9V204h-3.9V205h-3.9V202h-3.9V200h-3.9V201h-3.9V204h-3.9V204h-3.9V202h-3.9V203h-3.9V205h-3.9V205h-3.9V204h-3.9V204h-3.9V210h-3.9V205h-3.9V201h-3.9V201h-3.9V204h-3.9V200h-3.9V206h-3.9V204h-3.9V214h-3.9V207h-3.9V217h-3.9V203h-3.9V206h-3.9V207h-3.9V207h-3.9V203h-3.9V205h-3.9V225h-3.9V206h-3.9V217h-3.9V204h-3.9V210h-3.9V204h-3.9V208h-3.9V209h-3.9V206h-3.9V205h-3.9V208h-3.9V214h-3.9V206h-3.9V217h-3.9V214h-3.9V209h-3.9V206h-3.9V206h-3.9V205h-3.9V210h-3.9V211h-3.9V206h-3.9V204h-3.9V205h-3.9V212h-3.9V206h-3.9V212h-3.9V208h-3.9V208h-3.9V207h-3.9V208h-3.9V213h-3.9V213h-3.9V222h-3.9V215h-3.9V209h-3.9V214h-3.9V216h-3.9V209h-3.9V211h-3.9V218h-3.9V213h-3.9V210h-3.9V204h-3.9V212h-3.9V212h-3.9V212h-3.9V209h-3.9V213h-3.9V227h-3.9V223h-3.9V221h-3.9V213h-3.9V215h-3.9V216h-3.9V221h-3.9V221h-3.9V233h-3.9V215h-3.9V214h-3.9V223h-3.9V225h-3.9V224h-3.9V213h-3.9V220h-3.9V218h-3.9V228h-3.9V220h-3.9V219h-3.9V230h-3.9V214h-3.9V237h-3.9V220h-3.9V209h-3.9V211h-3.9V214h-3.9V233h-3.9V222h-3.9V218h-3.9V233h-3.9V221h-3.9V233h-3.9V213h-3.9V216h-3.9V225h-3.9V218h-3.9V244h-3.9V249h-3.9V269h-3.9V219h-3.9V227h-3.9V215h-3.9V220h-3.9V221h-3.9V222h-3.9V225h-3.9V227h-3.9V216h-3.9V225h-3.9V222h-3.9V227h-3.9V215h-3.9V220h-3.9V225h-3.9V210h-3.9V233h-3.9V232h-3.9V225h-3.9V222Z"/>
<path d="M85.4 222V177h3.9V173h3.9V169h3.9V172h3.9V186h3.9V186h3.9V173h3.9V176h3.9V173h3.9V174h3.9V182h3.9V166h3.9V172h3.9V171h3.9V174h3.9V170h3.9V180h3.9V176h3.9V177h3.9V174h3.9V187h3.9V173h3.9V171h3.9V168h3.9V173h3.9V177h3.9V176h3.9V176h3.9V174h3.9V175h3.9V172h3.9V168h3.9V167h3.9V173h3.9V174h3.9V177h3.9V177h3.9V174h3.9V174h3.9V169h3.9V172h3.9V172h3.9V174h3.9V159h3.9V160h3.9V160h3.9V177h3.9V181h3.9V174h3.9V170h3.9V158h3.9V163h3.9V161h3.9V165h3.9V163h3.9V165h3.9V160h3.9V172h3.9V174h3.9V172h3.9V172h3.9V168h3.9V168h3.9V179h3.9V172h3.9V179h3.9V160h3.9V165h3.9V159h3.9V151h3.9V163h3.9V157h3.9V160h3.9V160h3.9V154h3.9V156h3.9V150h3.9V156h3.9V159h3.9V164h3.9V166h3.9V168h3.9V154h3.9V149h3.9V155h3.9V156h3.9V155h3.9V147h3.9V151h3.9V150h3.9V164h3.9V158h3.9V163h3.9V166h3.9V170h3.9V176h3.9V167h3.9V158h3.9V151h3.9V161h3.9V163h3.9V158h3.9V152h3.9V148h3.9V151h3.9V146h3.9V168h3.9V165h3.9V175h3.9V171h3.9V163h3.9V159h3.9V157h3.9V155h3.9V158h3.9V162h3.9V159h3.9V161h3.9V159h3.9V157h3.9V160h3.9V158h3.9V168h3.9V151h3.9V160h3.9V145h3.9V157h3.9V149h3.9V165h3.9V165h3.9V152h3.9V151h3.9V152h3.9V143h3.9V155h3.9V153h3.9V160h3.9V154h3.9V159h3.9V162h3.9V169h3.9V160h3.9V160h3.9V152h3.9V153h3.9V159h3.9V154h3.9V154h3.9V161h3.9V166h3.9V173h3.9V165h3.9V163h3.9V149h3.9V155h3.9V168h3.9V170h3.9V176h3.9V183h3.9V162h3.9V162h3.9V173h3.9V162h3.9V155h3.9V154h3.9V157h3.9V163h3.9V160h3.9V161h3.9V159h3.9V159h3.9V161h3.9V156h3.9V159h3.9V140h3.9V152h3.9V149h3.9V147h3.9V148h3.9V153h3.9V152h3.9V163h3.9V162h3.9V158h3.9V162h3.9V163h3.9V155h3.9V161h3.9V160h3.9V155h3.9V158h3.9V153h3.9V156h3.9V143h3.9V142h3.9V141h3.9V144h3.9V159h3.9V145h3.9V155h3.9V155h3.9V156h3.9V168h3.9V178h3.9V160h3.9V163h3.9V165h3.9V158h3.9V164h3.9V160h3.9V164h3.9V166h3.9V166h3.9V162h3.9V170h3.9V169h3.9V171h3.9V170h3.9V165h3.9V162h3.9V145h3.9V143h3.9V157h3.9V156h3.9V155h3.9V160h3.9V171h3.9V172h3.9V154h3.9V146h3.9V154h3.9V158h3.9V160h3.9V161h3.9V159h3.9V166h3.9V164h3.9V151h3.9V162h3.9V165h3.9V160h3.9V164h3.9V174h3.9V166h3.9V180h3.9V182h3.9V183h3.9V180h3.9V175h3.9V169h3.9V178h3.9V175h3.9V170h3.9V159h3.9V157h3.9V160h3.9V158h3.9V154h3.9V156h3.9V163h3.9V173h3.9V179h3.9V173h3.9V168h3.9V165h3.9V171h3.9V173h3.9V166h3.9V157h3.9V161h3.9V168h3.9V163h3.9V179h3.9V171h3.9V175h3.9V174h3.9V166h3.9V175h3.9V176h3.9V173h3.9V167h3.9V171h3.9V175h3.9V168h3.9V173h3.9V163h3.9V173h3.9V172h3.9V177h3.9V168h3.9V173h3.9V169h3.9V170h3.9V176h3.9V173h3.9V171h3.9V174h3.9V166h3.9V168h3.9V171h3.9V173h3.9V170h3.9V167h3.9V167h3.9V170h3.9V177h3.9V184h3.9V170h3.9V176h3.9V178h3.9V181h3.9V192h3.9V187h3.9V180h3.9V172h3.9V180h3.9V178h3.9V172h3.9V175h3.9V182h3.9V172h3.9V185h3.9V173h3.9V176h3.9V171h3.9V170h3.9V171h3.9V179h3.9V190h3.9V182h3.9V183h3.9V175h3.9V179h3.9V174h3.9V168h3.9V164h3.9V174h3.9V171h3.9V169h3.9V186h3.9V186h3.9V179h3.9V180h3.9V179h3.9V167h3.9V181h3.9V180h3.9V187h3.9V188h3.9V197h3.9V183h3.9V185h3.9V190h3.9V172h3.9V179h3.9V184h3.9V177h3.9V176h3.9V179h3.9V184h3.9V191h3.9V184h3.9V188h3.9V182h3.9V176h3.9V218h-3.9V227h-3.9V216h-3.9V217h-3.9V223h-3.9V214h-3.9V214h-3.9V213h-3.9V224h-3.9V209h-3.9V212h-3.9V218h-3.9V219h-3.9V223h-3.9V218h-3.9V219h-3.9V216h-3.9V234h-3.9V215h-3.9V214h-3.9V223h-3.9V226h-3.9V222h-3.9V228h-3.9V217h-3.9V226h-3.9V219h-3.9V226h-3.9V218h-3.9V219h-3.9V219h-3.9V222h-3.9V213h-3.9V212h-3.9V228h-3.9V216h-3.9V220h-3.9V218h-3.9V217h-3.9V216h-3.9V213h-3.9V223h-3.9V215h-3.9V214h-3.9V216h-3.9V221h-3.9V214h-3.9V216h-3.9V212h-3.9V209h-3.9V219h-3.9V215h-3.9V222h-3.9V213h-3.9V211h-3.9V227h-3.9V215h-3.9V216h-3.9V214h-3.9V211h-3.9V211h-3.9V212h-3.9V210h-3.9V219h-3.9V207h-3.9V207h-3.9V206h-3.9V207h-3.9V214h-3.9V209h-3.9V215h-3.9V209h-3.9V206h-3.9V208h-3.9V208h-3.9V211h-3.9V220h-3.9V207h-3.9V209h-3.9V206h-3.9V208h-3.9V208h-3.9V208h-3.9V207h-3.9V225h-3.9V209h-3.9V213h-3.9V223h-3.9V210h-3.9V208h-3.9V207h-3.9V210h-3.9V220h-3.9V211h-3.9V209h-3.9V208h-3.9V207h-3.9V206h-3.9V211h-3.9V208h-3.9V206h-3.9V205h-3.9V207h-3.9V209h-3.9V208h-3.9V206h-3.9V212h-3.9V205h-3.9V209h-3.9V207h-3.9V214h-3.9V206h-3.9V207h-3.9V213h-3.9V208h-3.9V204h-3.9V215h-3.9V213h-3.9V205h-3.9V212h-3.9V213h-3.9V206h-3.9V205h-3.9V207h-3.9V209h-3.9V207h-3.9V211h-3.9V210h-3.9V210h-3.9V207h-3.9V205h-3.9V209h-3.9V206h-3.9V206h-3.9V208h-3.9V205h-3.9V205h-3.9V205h-3.9V204h-3.9V205h-3.9V204h-3.9V204h-3.9V205h-3.9V205h-3.9V214h-3.9V211h-3.9V203h-3.9V206h-3.9V209h-3.9V203h-3.9V206h-3.9V206h-3.9V207h-3.9V203h-3.9V203h-3.9V203h-3.9V207h-3.9V213h-3.9V206h-3.9V206h-3.9V206h-3.9V207h-3.9V204h-3.9V206h-3.9V206h-3.9V203h-3.9V206h-3.9V207h-3.9V209h-3.9V212h-3.9V205h-3.9V206h-3.9V209h-3.9V221h-3.9V216h-3.9V214h-3.9V205h-3.9V204h-3.9V202h-3.9V205h-3.9V210h-3.9V203h-3.9V209h-3.9V202h-3.9V204h-3.9V218h-3.9V206h-3.9V205h-3.9V207h-3.9V203h-3.9V203h-3.9V202h-3.9V202h-3.9V207h-3.9V203h-3.9V205h-3.9V207h-3.9V202h-3.9V203h-3.9V215h-3.9V203h-3.9V205h-3.9V206h-3.9V203h-3.9V198h-3.9V202h-3.9V202h-3.9V205h-3.9V210h-3.9V204h-3.9V206h-3.9V214h-3.9V203h-3.9V211h-3.9V211h-3.9V206h-3.9V205h-3.9V203h-3.9V204h-3.9V205h-3.9V203h-3.9V201h-3.9V202h-3.9V212h-3.9V203h-3.9V202h-3.9V203h-3.9V200h-3.9V200h-3.9V204h-3.9V210h-3.9V201h-3.9V205h-3.9V202h-3.9V203h-3.9V201h-3.9V205h-3.9V204h-3.9V206h-3.9V205h-3.9V202h-3.9V208h-3.9V203h-3.9V206h-3.9V202h-3.9V206h-3.9V206h-3.9V203h-3.9V209h-3.9V203h-3.9V213h-3.9V202h-3.9V206h-3.9V205h-3.9V204h-3.9V209h-3.9V219h-3.9V210h-3.9V207h-3.9V204h-3.9V202h-3.9V205h-3.9V208h-3.9V211h-3.9V211h-3.9V215h-3.9V210h-3.9V207h-3.9V211h-3.9V216h-3.9V215h-3.9V214h-3.9V213h-3.9V206h-3.9V207h-3.9V215h-3.9V206h-3.9V205h-3.9V205h-3.9V205h-3.9V210h-3.9V209h-3.9V207h-3.9V210h-3.9V210h-3.9V211h-3.9V215h-3.9V216h-3.9V212h-3.9V217h-3.9V210h-3.9V210h-3.9V212h-3.9V214h-3.9V210h-3.9V211h-3.9V216h-3.9V212h-3.9V210h-3.9V207h-3.9V208h-3.9V210h-3.9V210h-3.9V215h-3.9V219h-3.9V214h-3.9V213h-3.9V216h-3.9V213h-3.9V227h-3.9V226h-3.9V217h-3.9V226h-3.9V215h-3.9V234h-3.9V212h-3.9V216h-3.9V237h-3.9V218h-3.9V230h-3.9V218h-3.9V220h-3.9V219h-3.9V223h-3.9V219h-3.9V219h-3.9V219h-3.9V216h-3.9V211h-3.9V209h-3.9V210h-3.9V218h-3.9V227h-3.9V216h-3.9V216h-3.9V233h-3.9V224h-3.9V233h-3.9V212h-3.9V226h-3.9V219h-3.9V220h-3.9V236h-3.9V241h-3.9V214h-3.9V222h-3.9V215h-3.9V216h-3.9V217h-3.9V231h-3.9V220h-3.9V216h-3.9V240h-3.9V224h-3.9V232h-3.9V268h-3.9V228h-3.9V221h-3.9V222h-3.9V213h-3.9V234h-3.9V260h-3.9V214h-3.9V225h-3.9V222Z"/>
<path d="M85.4 240V183h3.9V169h3.9V164h3.9V166h3.9V177h3.9V176h3.9V184h3.9V175h3.9V184h3.9V185h3.9V173h3.9V173h3.9V179h3.9V182h3.9V194h3.9V182h3.9V187h3.9V169h3.9V172h3.9V182h3.9V175h3.9V169h3.9V180h3.9V172h3.9V172h3.9V179h3.9V186h3.9V170h3.9V174h3.9V173h3.9V177h3.9V179h3.9V173h3.9V176h3.9V171h3.9V175h3.9V178h3.9V173h3.9V180h3.9V171h3.9V174h3.9V161h3.9V173h3.9V165h3.9V162h3.9V166h3.9V177h3.9V173h3.9V173h3.9V158h3.9V161h3.9V166h3.9V161h3.9V164h3.9V178h3.9V166h3.9V160h3.9V160h3.9V174h3.9V170h3.9V163h3.9V168h3.9V156h3.9V164h3.9V171h3.9V172h3.9V171h3.9V169h3.9V171h3.9V159h3.9V167h3.9V159h3.9V168h3.9V162h3.9V160h3.9V166h3.9V166h3.9V167h3.9V163h3.9V164h3.9V166h3.9V163h3.9V162h3.9V162h3.9V167h3.9V157h3.9V160h3.9V158h3.9V148h3.9V166h3.9V157h3.9V157h3.9V168h3.9V155h3.9V165h3.9V168h3.9V151h3.9V163h3.9V166h3.9V164h3.9V171h3.9V166h3.9V168h3.9V174h3.9V168h3.9V149h3.9V165h3.9V156h3.9V152h3.9V149h3.9V159h3.9V157h3.9V162h3.9V153h3.9V153h3.9V173h3.9V170h3.9V168h3.9V171h3.9V159h3.9V152h3.9V137h3.9V153h3.9V146h3.9V144h3.9V141h3.9V147h3.9V139h3.9V144h3.9V157h3.9V141h3.9V144h3.9V156h3.9V158h3.9V160h3.9V154h3.9V151h3.9V163h3.9V156h3.9V159h3.9V156h3.9V171h3.9V167h3.9V155h3.9V162h3.9V163h3.9V158h3.9V164h3.9V163h3.9V165h3.9V163h3.9V149h3.9V157h3.9V148h3.9V169h3.9V151h3.9V167h3.9V155h3.9V158h3.9V166h3.9V167h3.9V170h3.9V170h3.9V158h3.9V150h3.9V156h3.9V169h3.9V167h3.9V167h3.9V168h3.9V163h3.9V163h3.9V162h3.9V172h3.9V155h3.9V163h3.9V159h3.9V161h3.9V159h3.9V159h3.9V152h3.9V151h3.9V158h3.9V152h3.9V162h3.9V159h3.9V159h3.9V154h3.9V158h3.9V155h3.9V152h3.9V167h3.9V155h3.9V161h3.9V167h3.9V171h3.9V165h3.9V173h3.9V159h3.9V159h3.9V155h3.9V160h3.9V165h3.9V167h3.9V161h3.9V165h3.9V167h3.9V178h3.9V173h3.9V164h3.9V162h3.9V165h3.9V164h3.9V160h3.9V164h3.9V165h3.9V171h3.9V161h3.9V162h3.9V164h3.9V163h3.9V155h3.9V159h3.9V166h3.9V171h3.9V164h3.9V151h3.9V163h3.9V148h3.9V167h3.9V169h3.9V169h3.9V171h3.9V167h3.9V168h3.9V168h3.9V159h3.9V154h3.9V161h3.9V171h3.9V163h3.9V165h3.9V174h3.9V169h3.9V177h3.9V165h3.9V172h3.9V165h3.9V158h3.9V158h3.9V164h3.9V170h3.9V171h3.9V166h3.9V162h3.9V163h3.9V155h3.9V151h3.9V148h3.9V156h3.9V154h3.9V172h3.9V173h3.9V180h3.9V180h3.9V179h3.9V176h3.9V170h3.9V162h3.9V169h3.9V173h3.9V172h3.9V171h3.9V180h3.9V181h3.9V170h3.9V180h3.9V175h3.9V180h3.9V177h3.9V177h3.9V170h3.9V166h3.9V176h3.9V173h3.9V167h3.9V164h3.9V171h3.9V175h3.9V173h3.9V165h3.9V174h3.9V173h3.9V170h3.9V183h3.9V177h3.9V169h3.9V175h3.9V188h3.9V183h3.9V185h3.9V181h3.9V181h3.9V177h3.9V186h3.9V185h3.9V185h3.9V174h3.9V177h3.9V184h3.9V179h3.9V171h3.9V176h3.9V167h3.9V176h3.9V175h3.9V182h3.9V173h3.9V178h3.9V172h3.9V183h3.9V188h3.9V172h3.9V176h3.9V171h3.9V166h3.9V165h3.9V176h3.9V174h3.9V174h3.9V176h3.9V171h3.9V179h3.9V169h3.9V163h3.9V172h3.9V175h3.9V180h3.9V169h3.9V179h3.9V178h3.9V185h3.9V180h3.9V184h3.9V177h3.9V178h3.9V180h3.9V180h3.9V191h3.9V185h3.9V170h3.9V171h3.9V176h3.9V175h3.9V175h3.9V174h3.9V173h3.9V178h3.9V180h3.9V189h3.9V196h3.9V195h3.9V203h3.9V195h3.9V187h3.9V222h-3.9V227h-3.9V215h-3.9V223h-3.9V227h-3.9V219h-3.9V216h-3.9V223h-3.9V214h-3.9V220h-3.9V216h-3.9V214h-3.9V224h-3.9V249h-3.9V229h-3.9V221h-3.9V216h-3.9V223h-3.9V216h-3.9V228h-3.9V238h-3.9V220h-3.9V218h-3.9V219h-3.9V219h-3.9V222h-3.9V224h-3.9V219h-3.9V224h-3.9V228h-3.9V219h-3.9V231h-3.9V217h-3.9V217h-3.9V215h-3.9V216h-3.9V216h-3.9V211h-3.9V212h-3.9V221h-3.9V229h-3.9V215h-3.9V215h-3.9V236h-3.9V222h-3.9V230h-3.9V212h-3.9V225h-3.9V239h-3.9V219h-3.9V214h-3.9V229h-3.9V232h-3.9V215h-3.9V219h-3.9V213h-3.9V213h-3.9V224h-3.9V222h-3.9V212h-3.9V213h-3.9V215h-3.9V228h-3.9V212h-3.9V205h-3.9V212h-3.9V210h-3.9V208h-3.9V209h-3.9V213h-3.9V211h-3.9V208h-3.9V207h-3.9V209h-3.9V209h-3.9V209h-3.9V214h-3.9V211h-3.9V218h-3.9V213h-3.9V228h-3.9V208h-3.9V212h-3.9V208h-3.9V221h-3.9V211h-3.9V207h-3.9V210h-3.9V207h-3.9V208h-3.9V207h-3.9V210h-3.9V212h-3.9V206h-3.9V211h-3.9V211h-3.9V205h-3.9V205h-3.9V212h-3.9V211h-3.9V208h-3.9V206h-3.9V208h-3.9V206h-3.9V205h-3.9V205h-3.9V207h-3.9V205h-3.9V212h-3.9V207h-3.9V208h-3.9V206h-3.9V209h-3.9V208h-3.9V208h-3.9V210h-3.9V208h-3.9V206h-3.9V204h-3.9V207h-3.9V205h-3.9V204h-3.9V205h-3.9V208h-3.9V208h-3.9V209h-3.9V210h-3.9V210h-3.9V207h-3.9V210h-3.9V209h-3.9V205h-3.9V206h-3.9V208h-3.9V205h-3.9V204h-3.9V205h-3.9V210h-3.9V206h-3.9V221h-3.9V211h-3.9V211h-3.9V205h-3.9V204h-3.9V204h-3.9V203h-3.9V204h-3.9V205h-3.9V211h-3.9V203h-3.9V204h-3.9V206h-3.9V205h-3.9V211h-3.9V210h-3.9V204h-3.9V209h-3.9V206h-3.9V208h-3.9V206h-3.9V204h-3.9V204h-3.9V207h-3.9V209h-3.9V205h-3.9V206h-3.9V204h-3.9V203h-3.9V204h-3.9V216h-3.9V210h-3.9V204h-3.9V214h-3.9V206h-3.9V207h-3.9V214h-3.9V204h-3.9V209h-3.9V203h-3.9V206h-3.9V204h-3.9V206h-3.9V209h-3.9V205h-3.9V204h-3.9V204h-3.9V205h-3.9V205h-3.9V205h-3.9V202h-3.9V202h-3.9V203h-3.9V204h-3.9V204h-3.9V210h-3.9V203h-3.9V205h-3.9V203h-3.9V206h-3.9V203h-3.9V202h-3.9V205h-3.9V205h-3.9V204h-3.9V199h-3.9V204h-3.9V212h-3.9V203h-3.9V203h-3.9V206h-3.9V211h-3.9V209h-3.9V204h-3.9V205h-3.9V206h-3.9V203h-3.9V205h-3.9V203h-3.9V206h-3.9V210h-3.9V202h-3.9V203h-3.9V202h-3.9V206h-3.9V203h-3.9V202h-3.9V213h-3.9V205h-3.9V211h-3.9V203h-3.9V214h-3.9V204h-3.9V202h-3.9V207h-3.9V209h-3.9V213h-3.9V203h-3.9V212h-3.9V207h-3.9V204h-3.9V201h-3.9V201h-3.9V206h-3.9V212h-3.9V202h-3.9V203h-3.9V205h-3.9V205h-3.9V205h-3.9V208h-3.9V204h-3.9V210h-3.9V205h-3.9V214h-3.9V209h-3.9V208h-3.9V205h-3.9V205h-3.9V207h-3.9V205h-3.9V203h-3.9V204h-3.9V210h-3.9V205h-3.9V212h-3.9V208h-3.9V213h-3.9V210h-3.9V222h-3.9V215h-3.9V207h-3.9V211h-3.9V206h-3.9V208h-3.9V214h-3.9V209h-3.9V207h-3.9V206h-3.9V206h-3.9V202h-3.9V213h-3.9V224h-3.9V207h-3.9V209h-3.9V208h-3.9V214h-3.9V211h-3.9V209h-3.9V215h-3.9V220h-3.9V210h-3.9V213h-3.9V247h-3.9V224h-3.9V211h-3.9V224h-3.9V222h-3.9V208h-3.9V221h-3.9V205h-3.9V208h-3.9V220h-3.9V221h-3.9V216h-3.9V208h-3.9V224h-3.9V231h-3.9V215h-3.9V213h-3.9V213h-3.9V218h-3.9V219h-3.9V229h-3.9V217h-3.9V219h-3.9V212h-3.9V217h-3.9V214h-3.9V226h-3.9V215h-3.9V220h-3.9V217h-3.9V231h-3.9V214h-3.9V217h-3.9V227h-3.9V212h-3.9V212h-3.9V223h-3.9V215h-3.9V210h-3.9V213h-3.9V218h-3.9V217h-3.9V226h-3.9V229h-3.9V220h-3.9V222h-3.9V213h-3.9V233h-3.9V221h-3.9V217h-3.9V224h-3.9V223h-3.9V218h-3.9V223h-3.9V223h-3.9V216h-3.9V215h-3.9V225h-3.9V220h-3.9V218h-3.9V222h-3.9V235h-3.9V226h-3.9V232h-3.9V215h-3.9V222h-3.9V228h-3.9V216h-3.9V217h-3.9V216h-3.9V238h-3.9V220h-3.9V240Z"/>
<path d="M85.4 238V187h3.9V179h3.9V176h3.9V177h3.9V178h3.9V185h3.9V174h3.9V169h3.9V178h3.9V182h3.9V176h3.9V177h3.9V173h3.9V177h3.9V179h3.9V177h3.9V180h3.9V183h3.9V179h3.9V179h3.9V175h3.9V169h3.9V171h3.9V174h3.9V169h3.9V178h3.9V175h3.9V172h3.9V161h3.9V175h3.9V166h3.9V178h3.9V177h3.9V180h3.9V175h3.9V172h3.9V183h3.9V177h3.9V175h3.9V170h3.9V165h3.9V168h3.9V172h3.9V162h3.9V169h3.9V154h3.9V169h3.9V159h3.9V165h3.9V168h3.9V170h3.9V168h3.9V169h3.9V173h3.9V171h3.9V159h3.9V166h3.9V158h3.9V160h3.9V169h3.9V165h3.9V170h3.9V166h3.9V162h3.9V156h3.9V171h3.9V164h3.9V165h3.9V162h3.9V168h3.9V169h3.9V161h3.9V161h3.9V157h3.9V159h3.9V155h3.9V157h3.9V159h3.9V163h3.9V164h3.9V170h3.9V168h3.9V169h3.9V162h3.9V164h3.9V172h3.9V181h3.9V158h3.9V156h3.9V156h3.9V156h3.9V144h3.9V171h3.9V176h3.9V176h3.9V170h3.9V169h3.9V165h3.9V155h3.9V152h3.9V149h3.9V147h3.9V153h3.9V150h3.9V156h3.9V141h3.9V154h3.9V154h3.9V164h3.9V159h3.9V163h3.9V147h3.9V159h3.9V154h3.9V160h3.9V160h3.9V156h3.9V169h3.9V166h3.9V171h3.9V160h3.9V147h3.9V159h3.9V143h3.9V154h3.9V141h3.9V146h3.9V152h3.9V161h3.9V165h3.9V156h3.9V151h3.9V154h3.9V163h3.9V159h3.9V160h3.9V156h3.9V157h3.9V149h3.9V165h3.9V162h3.9V156h3.9V157h3.9V148h3.9V155h3.9V166h3.9V153h3.9V149h3.9V155h3.9V161h3.9V154h3.9V156h3.9V153h3.9V150h3.9V159h3.9V170h3.9V166h3.9V163h3.9V163h3.9V159h3.9V152h3.9V155h3.9V155h3.9V159h3.9V159h3.9V159h3.9V164h3.9V162h3.9V159h3.9V162h3.9V158h3.9V152h3.9V155h3.9V159h3.9V163h3.9V163h3.9V161h3.9V162h3.9V163h3.9V163h3.9V158h3.9V151h3.9V147h3.9V146h3.9V154h3.9V152h3.9V159h3.9V154h3.9V156h3.9V149h3.9V165h3.9V158h3.9V160h3.9V153h3.9V153h3.9V161h3.9V163h3.9V162h3.9V154h3.9V163h3.9V168h3.9V152h3.9V158h3.9V157h3.9V163h3.9V154h3.9V155h3.9V154h3.9V160h3.9V164h3.9V166h3.9V168h3.9V170h3.9V168h3.9V167h3.9V158h3.9V160h3.9V160h3.9V163h3.9V167h3.9V170h3.9V166h3.9V171h3.9V167h3.9V164h3.9V165h3.9V166h3.9V166h3.9V163h3.9V159h3.9V154h3.9V160h3.9V160h3.9V155h3.9V163h3.9V169h3.9V162h3.9V156h3.9V154h3.9V160h3.9V154h3.9V167h3.9V170h3.9V166h3.9V172h3.9V166h3.9V164h3.9V168h3.9V158h3.9V165h3.9V167h3.9V169h3.9V167h3.9V164h3.9V164h3.9V174h3.9V170h3.9V165h3.9V158h3.9V160h3.9V157h3.9V156h3.9V151h3.9V154h3.9V163h3.9V159h3.9V165h3.9V167h3.9V163h3.9V166h3.9V176h3.9V177h3.9V170h3.9V176h3.9V173h3.9V171h3.9V172h3.9V163h3.9V175h3.9V170h3.9V171h3.9V168h3.9V161h3.9V161h3.9V168h3.9V174h3.9V168h3.9V158h3.9V158h3.9V153h3.9V162h3.9V171h3.9V174h3.9V176h3.9V174h3.9V178h3.9V172h3.9V171h3.9V175h3.9V169h3.9V176h3.9V173h3.9V174h3.9V173h3.9V186h3.9V181h3.9V186h3.9V174h3.9V175h3.9V170h3.9V183h3.9V188h3.9V189h3.9V179h3.9V184h3.9V174h3.9V190h3.9V175h3.9V177h3.9V166h3.9V173h3.9V168h3.9V174h3.9V173h3.9V178h3.9V174h3.9V176h3.9V192h3.9V182h3.9V183h3.9V176h3.9V175h3.9V174h3.9V165h3.9V167h3.9V173h3.9V165h3.9V180h3.9V180h3.9V191h3.9V188h3.9V186h3.9V185h3.9V184h3.9V175h3.9V181h3.9V178h3.9V184h3.9V184h3.9V189h3.9V177h3.9V179h3.9V182h3.9V184h3.9V182h3.9V175h3.9V168h3.9V180h3.9V180h3.9V185h3.9V194h3.9V192h3.9V191h3.9V189h3.9V171h3.9V218h-3.9V219h-3.9V215h-3.9V226h-3.9V219h-3.9V217h-3.9V222h-3.9V209h-3.9V225h-3.9V217h-3.9V215h-3.9V226h-3.9V224h-3.9V239h-3.9V217h-3.9V218h-3.9V217h-3.9V222h-3.9V218h-3.9V220h-3.9V226h-3.9V226h-3.9V213h-3.9V218h-3.9V218h-3.9V232h-3.9V226h-3.9V231h-3.9V225h-3.9V219h-3.9V226h-3.9V222h-3.9V212h-3.9V219h-3.9V216h-3.9V218h-3.9V211h-3.9V209h-3.9V213h-3.9V212h-3.9V222h-3.9V224h-3.9V222h-3.9V226h-3.9V212h-3.9V214h-3.9V212h-3.9V220h-3.9V212h-3.9V210h-3.9V217h-3.9V213h-3.9V213h-3.9V225h-3.9V214h-3.9V214h-3.9V208h-3.9V216h-3.9V217h-3.9V215h-3.9V213h-3.9V212h-3.9V214h-3.9V217h-3.9V225h-3.9V210h-3.9V205h-3.9V214h-3.9V211h-3.9V208h-3.9V216h-3.9V218h-3.9V206h-3.9V208h-3.9V211h-3.9V211h-3.9V212h-3.9V211h-3.9V227h-3.9V207h-3.9V211h-3.9V206h-3.9V210h-3.9V207h-3.9V215h-3.9V209h-3.9V210h-3.9V210h-3.9V207h-3.9V211h-3.9V206h-3.9V210h-3.9V209h-3.9V206h-3.9V213h-3.9V207h-3.9V208h-3.9V206h-3.9V210h-3.9V220h-3.9V207h-3.9V205h-3.9V205h-3.9V203h-3.9V218h-3.9V207h-3.9V205h-3.9V206h-3.9V210h-3.9V217h-3.9V205h-3.9V207h-3.9V210h-3.9V210h-3.9V208h-3.9V204h-3.9V212h-3.9V206h-3.9V216h-3.9V205h-3.9V213h-3.9V203h-3.9V204h-3.9V212h-3.9V207h-3.9V209h-3.9V210h-3.9V206h-3.9V207h-3.9V208h-3.9V208h-3.9V205h-3.9V207h-3.9V206h-3.9V205h-3.9V206h-3.9V204h-3.9V203h-3.9V207h-3.9V204h-3.9V205h-3.9V206h-3.9V205h-3.9V204h-3.9V204h-3.9V207h-3.9V204h-3.9V205h-3.9V203h-3.9V210h-3.9V202h-3.9V206h-3.9V208h-3.9V204h-3.9V204h-3.9V209h-3.9V212h-3.9V205h-3.9V210h-3.9V204h-3.9V205h-3.9V209h-3.9V209h-3.9V207h-3.9V209h-3.9V207h-3.9V208h-3.9V203h-3.9V204h-3.9V206h-3.9V207h-3.9V206h-3.9V204h-3.9V204h-3.9V204h-3.9V205h-3.9V205h-3.9V203h-3.9V203h-3.9V203h-3.9V203h-3.9V204h-3.9V204h-3.9V202h-3.9V205h-3.9V204h-3.9V205h-3.9V205h-3.9V205h-3.9V203h-3.9V208h-3.9V202h-3.9V208h-3.9V210h-3.9V203h-3.9V217h-3.9V203h-3.9V202h-3.9V213h-3.9V204h-3.9V215h-3.9V209h-3.9V204h-3.9V202h-3.9V208h-3.9V206h-3.9V201h-3.9V207h-3.9V206h-3.9V209h-3.9V208h-3.9V210h-3.9V202h-3.9V214h-3.9V205h-3.9V203h-3.9V205h-3.9V204h-3.9V202h-3.9V204h-3.9V206h-3.9V204h-3.9V204h-3.9V203h-3.9V203h-3.9V203h-3.9V209h-3.9V208h-3.9V199h-3.9V201h-3.9V202h-3.9V216h-3.9V206h-3.9V208h-3.9V201h-3.9V204h-3.9V214h-3.9V216h-3.9V211h-3.9V206h-3.9V206h-3.9V200h-3.9V201h-3.9V204h-3.9V204h-3.9V209h-3.9V205h-3.9V209h-3.9V208h-3.9V204h-3.9V200h-3.9V204h-3.9V207h-3.9V204h-3.9V212h-3.9V210h-3.9V206h-3.9V204h-3.9V205h-3.9V203h-3.9V203h-3.9V203h-3.9V208h-3.9V209h-3.9V206h-3.9V216h-3.9V207h-3.9V211h-3.9V205h-3.9V208h-3.9V208h-3.9V222h-3.9V207h-3.9V216h-3.9V210h-3.9V211h-3.9V206h-3.9V215h-3.9V203h-3.9V204h-3.9V204h-3.9V213h-3.9V207h-3.9V212h-3.9V212h-3.9V212h-3.9V238h-3.9V214h-3.9V220h-3.9V210h-3.9V219h-3.9V207h-3.9V208h-3.9V208h-3.9V212h-3.9V209h-3.9V215h-3.9V217h-3.9V214h-3.9V208h-3.9V208h-3.9V214h-3.9V210h-3.9V221h-3.9V211h-3.9V218h-3.9V213h-3.9V216h-3.9V216h-3.9V240h-3.9V217h-3.9V218h-3.9V228h-3.9V220h-3.9V219h-3.9V225h-3.9V215h-3.9V213h-3.9V222h-3.9V212h-3.9V217h-3.9V220h-3.9V218h-3.9V214h-3.9V228h-3.9V214h-3.9V217h-3.9V212h-3.9V216h-3.9V209h-3.9V231h-3.9V231h-3.9V223h-3.9V217h-3.9V213h-3.9V226h-3.9V225h-3.9V214h-3.9V215h-3.9V229h-3.9V221h-3.9V234h-3.9V232h-3.9V260h-3.9V214h-3.9V218h-3.9V215h-3.9V231h-3.9V228h-3.9V217h-3.9V219h-3.9V218h-3.9V223h-3.9V236h-3.9V227h-3.9V225h-3.9V220h-3.9V219h-3.9V220h-3.9V237h-3.9V224h-3.9V214h-3.9V218h-3.9V223h-3.9V238Z"/>
<path d="M85.4 238V169h3.9V163h3.9V159h3.9V166h3.9V172h3.9V173h3.9V164h3.9V179h3.9V178h3.9V170h3.9V171h3.9V159h3.9V160h3.9V161h3.9V180h3.9V174h3.9V179h3.9V174h3.9V177h3.9V176h3.9V183h3.9V176h3.9V182h3.9V179h3.9V177h3.9V184h3.9V175h3.9V177h3.9V170h3.9V174h3.9V173h3.9V170h3.9V171h3.9V165h3.9V159h3.9V160h3.9V168h3.9V168h3.9V174h3.9V176h3.9V175h3.9V179h3.9V180h3.9V162h3.9V164h3.9V158h3.9V174h3.9V172h3.9V182h3.9V181h3.9V178h3.9V180h3.9V173h3.9V161h3.9V172h3.9V162h3.9V164h3.9V164h3.9V163h3.9V163h3.9V158h3.9V162h3.9V167h3.9V171h3.9V170h3.9V158h3.9V165h3.9V174h3.9V164h3.9V170h3.9V159h3.9V153h3.9V160h3.9V155h3.9V165h3.9V166h3.9V159h3.9V160h3.9V158h3.9V157h3.9V163h3.9V169h3.9V157h3.9V157h3.9V152h3.9V145h3.9V156h3.9V154h3.9V164h3.9V157h3.9V154h3.9V154h3.9V162h3.9V174h3.9V166h3.9V168h3.9V158h3.9V173h3.9V159h3.9V143h3.9V152h3.9V149h3.9V139h3.9V140h3.9V154h3.9V153h3.9V160h3.9V159h3.9V165h3.9V164h3.9V164h3.9V161h3.9V166h3.9V162h3.9V160h3.9V151h3.9V151h3.9V157h3.9V160h3.9V159h3.9V158h3.9V153h3.9V160h3.9V150h3.9V161h3.9V152h3.9V159h3.9V149h3.9V149h3.9V146h3.9V147h3.9V152h3.9V157h3.9V155h3.9V162h3.9V158h3.9V160h3.9V167h3.9V162h3.9V164h3.9V153h3.9V153h3.9V144h3.9V142h3.9V158h3.9V159h3.9V164h3.9V163h3.9V173h3.9V164h3.9V170h3.9V160h3.9V174h3.9V167h3.9V161h3.9V156h3.9V163h3.9V157h3.9V148h3.9V157h3.9V163h3.9V181h3.9V171h3.9V167h3.9V164h3.9V162h3.9V163h3.9V163h3.9V156h3.9V166h3.9V149h3.9V165h3.9V168h3.9V157h3.9V158h3.9V157h3.9V167h3.9V162h3.9V160h3.9V170h3.9V166h3.9V160h3.9V158h3.9V154h3.9V160h3.9V156h3.9V158h3.9V157h3.9V161h3.9V159h3.9V159h3.9V150h3.9V158h3.9V145h3.9V145h3.9V146h3.9V160h3.9V167h3.9V159h3.9V166h3.9V164h3.9V166h3.9V171h3.9V168h3.9V159h3.9V164h3.9V161h3.9V169h3.9V165h3.9V166h3.9V165h3.9V164h3.9V165h3.9V167h3.9V169h3.9V168h3.9V164h3.9V160h3.9V167h3.9V168h3.9V159h3.9V160h3.9V168h3.9V175h3.9V179h3.9V175h3.9V172h3.9V175h3.9V163h3.9V172h3.9V164h3.9V166h3.9V169h3.9V165h3.9V169h3.9V173h3.9V156h3.9V154h3.9V156h3.9V164h3.9V161h3.9V163h3.9V171h3.9V175h3.9V174h3.9V175h3.9V176h3.9V161h3.9V163h3.9V168h3.9V168h3.9V166h3.9V164h3.9V162h3.9V167h3.9V167h3.9V162h3.9V158h3.9V168h3.9V164h3.9V167h3.9V173h3.9V170h3.9V173h3.9V167h3.9V166h3.9V175h3.9V172h3.9V157h3.9V157h3.9V164h3.9V163h3.9V162h3.9V163h3.9V173h3.9V160h3.9V169h3.9V161h3.9V169h3.9V166h3.9V168h3.9V172h3.9V167h3.9V175h3.9V177h3.9V171h3.9V174h3.9V157h3.9V172h3.9V156h3.9V165h3.9V157h3.9V156h3.9V167h3.9V178h3.9V175h3.9V179h3.9V178h3.9V171h3.9V165h3.9V162h3.9V173h3.9V167h3.9V175h3.9V171h3.9V178h3.9V182h3.9V173h3.9V179h3.9V173h3.9V186h3.9V184h3.9V183h3.9V180h3.9V180h3.9V181h3.9V179h3.9V182h3.9V172h3.9V184h3.9V188h3.9V179h3.9V174h3.9V175h3.9V174h3.9V172h3.9V170h3.9V185h3.9V187h3.9V183h3.9V179h3.9V173h3.9V179h3.9V175h3.9V172h3.9V182h3.9V178h3.9V185h3.9V190h3.9V188h3.9V188h3.9V191h3.9V188h3.9V192h3.9V177h3.9V181h3.9V184h3.9V180h3.9V188h3.9V182h3.9V174h3.9V178h3.9V185h3.9V173h3.9V181h3.9V179h3.9V184h3.9V181h3.9V179h3.9V172h3.9V177h3.9V170h3.9V181h3.9V183h3.9V187h3.9V223h-3.9V220h-3.9V238h-3.9V221h-3.9V217h-3.9V224h-3.9V219h-3.9V213h-3.9V219h-3.9V210h-3.9V213h-3.9V223h-3.9V225h-3.9V225h-3.9V220h-3.9V220h-3.9V217h-3.9V224h-3.9V216h-3.9V218h-3.9V223h-3.9V218h-3.9V219h-3.9V222h-3.9V215h-3.9V229h-3.9V226h-3.9V250h-3.9V230h-3.9V222h-3.9V217h-3.9V219h-3.9V218h-3.9V213h-3.9V214h-3.9V210h-3.9V211h-3.9V211h-3.9V219h-3.9V215h-3.9V221h-3.9V214h-3.9V214h-3.9V220h-3.9V212h-3.9V213h-3.9V213h-3.9V212h-3.9V214h-3.9V207h-3.9V213h-3.9V217h-3.9V214h-3.9V213h-3.9V211h-3.9V210h-3.9V210h-3.9V219h-3.9V214h-3.9V214h-3.9V214h-3.9V212h-3.9V212h-3.9V209h-3.9V210h-3.9V206h-3.9V206h-3.9V207h-3.9V214h-3.9V211h-3.9V208h-3.9V212h-3.9V208h-3.9V211h-3.9V213h-3.9V212h-3.9V208h-3.9V207h-3.9V207h-3.9V205h-3.9V210h-3.9V206h-3.9V212h-3.9V210h-3.9V213h-3.9V214h-3.9V207h-3.9V208h-3.9V211h-3.9V206h-3.9V218h-3.9V210h-3.9V214h-3.9V211h-3.9V215h-3.9V214h-3.9V207h-3.9V217h-3.9V208h-3.9V205h-3.9V206h-3.9V204h-3.9V206h-3.9V204h-3.9V206h-3.9V208h-3.9V213h-3.9V207h-3.9V209h-3.9V218h-3.9V208h-3.9V207h-3.9V207h-3.9V213h-3.9V208h-3.9V206h-3.9V212h-3.9V206h-3.9V205h-3.9V213h-3.9V205h-3.9V205h-3.9V205h-3.9V204h-3.9V207h-3.9V209h-3.9V222h-3.9V209h-3.9V209h-3.9V211h-3.9V208h-3.9V205h-3.9V206h-3.9V216h-3.9V207h-3.9V209h-3.9V206h-3.9V205h-3.9V206h-3.9V207h-3.9V202h-3.9V209h-3.9V209h-3.9V204h-3.9V204h-3.9V203h-3.9V204h-3.9V207h-3.9V204h-3.9V209h-3.9V202h-3.9V201h-3.9V205h-3.9V205h-3.9V203h-3.9V203h-3.9V206h-3.9V209h-3.9V206h-3.9V206h-3.9V206h-3.9V204h-3.9V204h-3.9V205h-3.9V203h-3.9V203h-3.9V203h-3.9V203h-3.9V208h-3.9V203h-3.9V207h-3.9V205h-3.9V205h-3.9V209h-3.9V208h-3.9V205h-3.9V205h-3.9V206h-3.9V203h-3.9V204h-3.9V207h-3.9V207h-3.9V204h-3.9V202h-3.9V207h-3.9V205h-3.9V211h-3.9V205h-3.9V203h-3.9V209h-3.9V217h-3.9V202h-3.9V202h-3.9V211h-3.9V204h-3.9V203h-3.9V205h-3.9V204h-3.9V202h-3.9V203h-3.9V204h-3.9V205h-3.9V203h-3.9V206h-3.9V199h-3.9V201h-3.9V204h-3.9V204h-3.9V207h-3.9V204h-3.9V204h-3.9V204h-3.9V205h-3.9V210h-3.9V205h-3.9V207h-3.9V206h-3.9V204h-3.9V202h-3.9V204h-3.9V204h-3.9V204h-3.9V208h-3.9V204h-3.9V206h-3.9V206h-3.9V207h-3.9V220h-3.9V202h-3.9V205h-3.9V201h-3.9V208h-3.9V200h-3.9V207h-3.9V204h-3.9V211h-3.9V215h-3.9V207h-3.9V207h-3.9V206h-3.9V205h-3.9V213h-3.9V203h-3.9V204h-3.9V207h-3.9V208h-3.9V208h-3.9V204h-3.9V219h-3.9V207h-3.9V201h-3.9V210h-3.9V205h-3.9V208h-3.9V214h-3.9V207h-3.9V217h-3.9V205h-3.9V207h-3.9V205h-3.9V205h-3.9V209h-3.9V208h-3.9V208h-3.9V205h-3.9V205h-3.9V215h-3.9V206h-3.9V211h-3.9V214h-3.9V207h-3.9V207h-3.9V206h-3.9V208h-3.9V206h-3.9V208h-3.9V205h-3.9V206h-3.9V215h-3.9V208h-3.9V206h-3.9V209h-3.9V227h-3.9V209h-3.9V226h-3.9V216h-3.9V210h-3.9V216h-3.9V212h-3.9V232h-3.9V212h-3.9V208h-3.9V211h-3.9V213h-3.9V212h-3.9V209h-3.9V215h-3.9V216h-3.9V212h-3.9V213h-3.9V209h-3.9V211h-3.9V222h-3.9V211h-3.9V215h-3.9V211h-3.9V223h-3.9V214h-3.9V214h-3.9V213h-3.9V215h-3.9V219h-3.9V220h-3.9V234h-3.9V212h-3.9V211h-3.9V216h-3.9V218h-3.9V218h-3.9V217h-3.9V218h-3.9V219h-3.9V233h-3.9V216h-3.9V232h-3.9V224h-3.9V213h-3.9V238h-3.9V225h-3.9V225h-3.9V209h-3.9V219h-3.9V222h-3.9V219h-3.9V214h-3.9V224h-3.9V221h-3.9V254h-3.9V216h-3.9V218h-3.9V229h-3.9V233h-3.9V229h-3.9V231h-3.9V214h-3.9V219h-3.9V226h-3.9V215h-3.9V217h-3.9V219h-3.9V244h-3.9V222h-3.9V222h-3.9V218h-3.9V231h-3.9V223h-3.9V234h-3.9V241h-3.9V218h-3.9V223h-3.9V210h-3.9V211h-3.9V216h-3.9V228h-3.9V238Z"/>
<path d="M85.4 226V177h3.9V172h3.9V169h3.9V170h3.9V173h3.9V165h3.9V164h3.9V166h3.9V179h3.9V180h3.9V180h3.9V173h3.9V178h3.9V182h3.9V189h3.9V182h3.9V181h3.9V185h3.9V171h3.9V180h3.9V172h3.9V171h3.9V172h3.9V173h3.9V171h3.9V172h3.9V176h3.9V175h3.9V171h3.9V176h3.9V178h3.9V179h3.9V173h3.9V175h3.9V168h3.9V167h3.9V177h3.9V171h3.9V164h3.9V161h3.9V167h3.9V172h3.9V176h3.9V164h3.9V173h3.9V173h3.9V171h3.9V175h3.9V179h3.9V172h3.9V165h3.9V171h3.9V168h3.9V177h3.9V168h3.9V168h3.9V162h3.9V161h3.9V164h3.9V160h3.9V164h3.9V167h3.9V171h3.9V168h3.9V163h3.9V168h3.9V172h3.9V167h3.9V158h3.9V170h3.9V168h3.9V164h3.9V162h3.9V152h3.9V155h3.9V161h3.9V164h3.9V164h3.9V165h3.9V166h3.9V173h3.9V156h3.9V164h3.9V152h3.9V157h3.9V158h3.9V156h3.9V152h3.9V157h3.9V158h3.9V163h3.9V152h3.9V165h3.9V174h3.9V179h3.9V162h3.9V161h3.9V166h3.9V170h3.9V167h3.9V167h3.9V141h3.9V146h3.9V153h3.9V144h3.9V154h3.9V153h3.9V155h3.9V164h3.9V161h3.9V166h3.9V160h3.9V162h3.9V163h3.9V162h3.9V158h3.9V164h3.9V143h3.9V155h3.9V162h3.9V161h3.9V159h3.9V167h3.9V157h3.9V175h3.9V155h3.9V159h3.9V167h3.9V158h3.9V158h3.9V148h3.9V142h3.9V155h3.9V149h3.9V157h3.9V138h3.9V153h3.9V159h3.9V152h3.9V157h3.9V158h3.9V158h3.9V151h3.9V144h3.9V159h3.9V164h3.9V164h3.9V161h3.9V154h3.9V155h3.9V151h3.9V159h3.9V158h3.9V158h3.9V159h3.9V158h3.9V158h3.9V160h3.9V155h3.9V160h3.9V151h3.9V159h3.9V155h3.9V158h3.9V165h3.9V164h3.9V168h3.9V159h3.9V160h3.9V163h3.9V165h3.9V159h3.9V162h3.9V159h3.9V157h3.9V160h3.9V173h3.9V175h3.9V164h3.9V157h3.9V162h3.9V160h3.9V173h3.9V154h3.9V164h3.9V159h3.9V165h3.9V164h3.9V160h3.9V163h3.9V145h3.9V163h3.9V161h3.9V159h3.9V157h3.9V151h3.9V171h3.9V168h3.9V159h3.9V154h3.9V155h3.9V153h3.9V164h3.9V165h3.9V159h3.9V149h3.9V152h3.9V148h3.9V155h3.9V160h3.9V163h3.9V169h3.9V158h3.9V161h3.9V155h3.9V145h3.9V162h3.9V155h3.9V159h3.9V158h3.9V160h3.9V165h3.9V157h3.9V176h3.9V174h3.9V161h3.9V166h3.9V174h3.9V169h3.9V166h3.9V148h3.9V156h3.9V157h3.9V155h3.9V163h3.9V161h3.9V164h3.9V158h3.9V164h3.9V159h3.9V161h3.9V158h3.9V171h3.9V169h3.9V170h3.9V180h3.9V168h3.9V178h3.9V175h3.9V162h3.9V162h3.9V158h3.9V158h3.9V162h3.9V157h3.9V167h3.9V160h3.9V162h3.9V166h3.9V169h3.9V165h3.9V172h3.9V172h3.9V174h3.9V181h3.9V174h3.9V178h3.9V169h3.9V150h3.9V156h3.9V164h3.9V150h3.9V156h3.9V163h3.9V168h3.9V175h3.9V179h3.9V178h3.9V174h3.9V176h3.9V170h3.9V172h3.9V179h3.9V180h3.9V175h3.9V183h3.9V177h3.9V185h3.9V188h3.9V179h3.9V170h3.9V173h3.9V176h3.9V179h3.9V181h3.9V171h3.9V175h3.9V174h3.9V172h3.9V176h3.9V172h3.9V178h3.9V177h3.9V162h3.9V170h3.9V176h3.9V174h3.9V174h3.9V182h3.9V176h3.9V181h3.9V175h3.9V191h3.9V178h3.9V183h3.9V182h3.9V173h3.9V167h3.9V168h3.9V175h3.9V173h3.9V187h3.9V177h3.9V187h3.9V179h3.9V174h3.9V175h3.9V183h3.9V188h3.9V178h3.9V183h3.9V174h3.9V177h3.9V176h3.9V169h3.9V178h3.9V168h3.9V175h3.9V171h3.9V173h3.9V176h3.9V178h3.9V178h3.9V179h3.9V176h3.9V184h3.9V188h3.9V195h3.9V183h3.9V185h3.9V172h3.9V178h3.9V175h3.9V171h3.9V180h3.9V185h3.9V178h3.9V188h3.9V187h3.9V179h3.9V185h3.9V179h3.9V195h3.9V186h3.9V179h3.9V218h-3.9V227h-3.9V215h-3.9V228h-3.9V222h-3.9V216h-3.9V216h-3.9V216h-3.9V212h-3.9V211h-3.9V215h-3.9V215h-3.9V234h-3.9V230h-3.9V230h-3.9V218h-3.9V217h-3.9V223h-3.9V215h-3.9V215h-3.9V225h-3.9V221h-3.9V221h-3.9V222h-3.9V219h-3.9V223h-3.9V218h-3.9V219h-3.9V223h-3.9V243h-3.9V223h-3.9V220h-3.9V216h-3.9V212h-3.9V218h-3.9V217h-3.9V211h-3.9V224h-3.9V215h-3.9V212h-3.9V215h-3.9V216h-3.9V226h-3.9V234h-3.9V214h-3.9V271h-3.9V215h-3.9V219h-3.9V211h-3.9V210h-3.9V209h-3.9V218h-3.9V214h-3.9V212h-3.9V213h-3.9V219h-3.9V207h-3.9V212h-3.9V218h-3.9V220h-3.9V215h-3.9V212h-3.9V210h-3.9V214h-3.9V212h-3.9V215h-3.9V204h-3.9V206h-3.9V214h-3.9V208h-3.9V209h-3.9V208h-3.9V220h-3.9V212h-3.9V207h-3.9V213h-3.9V216h-3.9V205h-3.9V206h-3.9V209h-3.9V208h-3.9V223h-3.9V215h-3.9V209h-3.9V215h-3.9V210h-3.9V213h-3.9V224h-3.9V208h-3.9V208h-3.9V208h-3.9V208h-3.9V219h-3.9V213h-3.9V210h-3.9V206h-3.9V208h-3.9V221h-3.9V208h-3.9V213h-3.9V204h-3.9V205h-3.9V210h-3.9V204h-3.9V210h-3.9V207h-3.9V209h-3.9V205h-3.9V207h-3.9V208h-3.9V205h-3.9V209h-3.9V212h-3.9V209h-3.9V229h-3.9V203h-3.9V204h-3.9V213h-3.9V208h-3.9V210h-3.9V210h-3.9V209h-3.9V203h-3.9V210h-3.9V210h-3.9V214h-3.9V210h-3.9V206h-3.9V209h-3.9V205h-3.9V206h-3.9V206h-3.9V206h-3.9V205h-3.9V211h-3.9V205h-3.9V204h-3.9V212h-3.9V208h-3.9V208h-3.9V205h-3.9V205h-3.9V208h-3.9V207h-3.9V210h-3.9V211h-3.9V204h-3.9V205h-3.9V205h-3.9V212h-3.9V201h-3.9V205h-3.9V213h-3.9V206h-3.9V217h-3.9V209h-3.9V211h-3.9V206h-3.9V212h-3.9V210h-3.9V205h-3.9V205h-3.9V207h-3.9V206h-3.9V211h-3.9V203h-3.9V204h-3.9V205h-3.9V206h-3.9V208h-3.9V212h-3.9V207h-3.9V204h-3.9V205h-3.9V208h-3.9V208h-3.9V206h-3.9V205h-3.9V204h-3.9V206h-3.9V217h-3.9V203h-3.9V203h-3.9V203h-3.9V203h-3.9V205h-3.9V205h-3.9V212h-3.9V207h-3.9V207h-3.9V206h-3.9V202h-3.9V203h-3.9V204h-3.9V203h-3.9V203h-3.9V205h-3.9V204h-3.9V202h-3.9V204h-3.9V204h-3.9V204h-3.9V202h-3.9V203h-3.9V198h-3.9V202h-3.9V201h-3.9V203h-3.9V206h-3.9V205h-3.9V204h-3.9V204h-3.9V207h-3.9V204h-3.9V204h-3.9V208h-3.9V204h-3.9V203h-3.9V208h-3.9V209h-3.9V202h-3.9V201h-3.9V208h-3.9V208h-3.9V206h-3.9V202h-3.9V211h-3.9V203h-3.9V209h-3.9V205h-3.9V206h-3.9V205h-3.9V200h-3.9V215h-3.9V205h-3.9V200h-3.9V202h-3.9V205h-3.9V204h-3.9V205h-3.9V202h-3.9V204h-3.9V202h-3.9V203h-3.9V203h-3.9V204h-3.9V208h-3.9V205h-3.9V207h-3.9V209h-3.9V201h-3.9V209h-3.9V205h-3.9V203h-3.9V204h-3.9V208h-3.9V206h-3.9V209h-3.9V207h-3.9V207h-3.9V204h-3.9V208h-3.9V206h-3.9V209h-3.9V205h-3.9V208h-3.9V214h-3.9V205h-3.9V207h-3.9V207h-3.9V207h-3.9V208h-3.9V207h-3.9V212h-3.9V205h-3.9V222h-3.9V206h-3.9V215h-3.9V211h-3.9V210h-3.9V209h-3.9V211h-3.9V210h-3.9V208h-3.9V212h-3.9V215h-3.9V215h-3.9V215h-3.9V222h-3.9V210h-3.9V214h-3.9V210h-3.9V207h-3.9V216h-3.9V214h-3.9V218h-3.9V211h-3.9V210h-3.9V211h-3.9V215h-3.9V209h-3.9V225h-3.9V208h-3.9V211h-3.9V210h-3.9V210h-3.9V211h-3.9V214h-3.9V224h-3.9V217h-3.9V222h-3.9V219h-3.9V217h-3.9V219h-3.9V211h-3.9V211h-3.9V264h-3.9V222h-3.9V231h-3.9V226h-3.9V229h-3.9V222h-3.9V225h-3.9V225h-3.9V233h-3.9V214h-3.9V218h-3.9V224h-3.9V213h-3.9V209h-3.9V210h-3.9V214h-3.9V218h-3.9V223h-3.9V221h-3.9V216h-3.9V225h-3.9V218h-3.9V212h-3.9V222h-3.9V217h-3.9V218h-3.9V240h-3.9V219h-3.9V218h-3.9V217h-3.9V217h-3.9V236h-3.9V219h-3.9V224h-3.9V234h-3.9V217h-3.9V234h-3.9V228h-3.9V218h-3.9V218h-3.9V217h-3.9V231h-3.9V213h-3.9V225h-3.9V214h-3.9V255h-3.9V216h-3.9V216h-3.9V226Z"/>
<path d="M85.4 223V178h3.9V178h3.9V170h3.9V171h3.9V165h3.9V166h3.9V176h3.9V169h3.9V172h3.9V175h3.9V176h3.9V177h3.9V172h3.9V179h3.9V177h3.9V178h3.9V179h3.9V182h3.9V177h3.9V177h3.9V180h3.9V178h3.9V177h3.9V169h3.9V173h3.9V172h3.9V184h3.9V177h3.9V175h3.9V174h3.9V177h3.9V180h3.9V184h3.9V173h3.9V172h3.9V172h3.9V176h3.9V163h3.9V164h3.9V156h3.9V176h3.9V169h3.9V177h3.9V167h3.9V171h3.9V166h3.9V169h3.9V170h3.9V181h3.9V173h3.9V170h3.9V171h3.9V162h3.9V163h3.9V163h3.9V175h3.9V163h3.9V172h3.9V174h3.9V167h3.9V168h3.9V169h3.9V172h3.9V172h3.9V172h3.9V173h3.9V172h3.9V177h3.9V170h3.9V165h3.9V171h3.9V167h3.9V174h3.9V178h3.9V175h3.9V171h3.9V163h3.9V168h3.9V172h3.9V166h3.9V165h3.9V180h3.9V172h3.9V163h3.9V175h3.9V171h3.9V167h3.9V159h3.9V164h3.9V156h3.9V152h3.9V154h3.9V162h3.9V167h3.9V162h3.9V169h3.9V155h3.9V158h3.9V161h3.9V152h3.9V151h3.9V152h3.9V158h3.9V152h3.9V157h3.9V154h3.9V164h3.9V165h3.9V158h3.9V149h3.9V152h3.9V152h3.9V154h3.9V162h3.9V158h3.9V163h3.9V151h3.9V158h3.9V154h3.9V154h3.9V163h3.9V162h3.9V164h3.9V159h3.9V168h3.9V163h3.9V163h3.9V143h3.9V161h3.9V159h3.9V152h3.9V162h3.9V153h3.9V161h3.9V167h3.9V161h3.9V152h3.9V153h3.9V151h3.9V160h3.9V162h3.9V154h3.9V151h3.9V137h3.9V163h3.9V151h3.9V156h3.9V157h3.9V159h3.9V159h3.9V164h3.9V165h3.9V152h3.9V157h3.9V159h3.9V163h3.9V172h3.9V162h3.9V159h3.9V155h3.9V168h3.9V171h3.9V172h3.9V171h3.9V169h3.9V159h3.9V160h3.9V159h3.9V147h3.9V148h3.9V165h3.9V157h3.9V167h3.9V162h3.9V153h3.9V156h3.9V156h3.9V160h3.9V160h3.9V164h3.9V157h3.9V152h3.9V161h3.9V159h3.9V159h3.9V162h3.9V158h3.9V160h3.9V163h3.9V152h3.9V157h3.9V145h3.9V155h3.9V149h3.9V164h3.9V166h3.9V173h3.9V163h3.9V162h3.9V150h3.9V158h3.9V155h3.9V171h3.9V171h3.9V163h3.9V157h3.9V171h3.9V167h3.9V170h3.9V163h3.9V171h3.9V172h3.9V167h3.9V158h3.9V161h3.9V160h3.9V175h3.9V168h3.9V176h3.9V166h3.9V168h3.9V166h3.9V166h3.9V175h3.9V179h3.9V169h3.9V169h3.9V167h3.9V164h3.9V154h3.9V157h3.9V160h3.9V166h3.9V162h3.9V159h3.9V168h3.9V164h3.9V158h3.9V161h3.9V163h3.9V164h3.9V172h3.9V178h3.9V185h3.9V179h3.9V186h3.9V163h3.9V158h3.9V165h3.9V173h3.9V171h3.9V168h3.9V161h3.9V161h3.9V152h3.9V163h3.9V167h3.9V172h3.9V167h3.9V171h3.9V164h3.9V172h3.9V163h3.9V166h3.9V164h3.9V166h3.9V174h3.9V180h3.9V165h3.9V166h3.9V167h3.9V163h3.9V169h3.9V173h3.9V173h3.9V172h3.9V171h3.9V171h3.9V179h3.9V167h3.9V173h3.9V170h3.9V168h3.9V169h3.9V173h3.9V170h3.9V176h3.9V172h3.9V168h3.9V181h3.9V174h3.9V175h3.9V173h3.9V181h3.9V174h3.9V170h3.9V170h3.9V168h3.9V172h3.9V175h3.9V170h3.9V175h3.9V180h3.9V173h3.9V171h3.9V174h3.9V176h3.9V175h3.9V179h3.9V171h3.9V176h3.9V171h3.9V173h3.9V170h3.9V174h3.9V177h3.9V178h3.9V170h3.9V173h3.9V174h3.9V179h3.9V188h3.9V171h3.9V179h3.9V165h3.9V165h3.9V169h3.9V183h3.9V183h3.9V187h3.9V179h3.9V186h3.9V181h3.9V169h3.9V169h3.9V172h3.9V178h3.9V185h3.9V190h3.9V188h3.9V192h3.9V183h3.9V184h3.9V180h3.9V172h3.9V178h3.9V193h3.9V190h3.9V187h3.9V177h3.9V178h3.9V172h3.9V175h3.9V174h3.9V172h3.9V183h3.9V176h3.9V177h3.9V175h3.9V186h3.9V181h3.9V182h3.9V200h3.9V183h3.9V182h3.9V221h-3.9V230h-3.9V221h-3.9V220h-3.9V217h-3.9V220h-3.9V225h-3.9V210h-3.9V212h-3.9V211h-3.9V221h-3.9V215h-3.9V219h-3.9V222h-3.9V230h-3.9V225h-3.9V221h-3.9V221h-3.9V251h-3.9V230h-3.9V236h-3.9V222h-3.9V220h-3.9V244h-3.9V214h-3.9V219h-3.9V219h-3.9V225h-3.9V226h-3.9V219h-3.9V231h-3.9V217h-3.9V214h-3.9V216h-3.9V212h-3.9V211h-3.9V213h-3.9V214h-3.9V218h-3.9V213h-3.9V216h-3.9V214h-3.9V226h-3.9V216h-3.9V212h-3.9V212h-3.9V217h-3.9V211h-3.9V212h-3.9V229h-3.9V214h-3.9V225h-3.9V218h-3.9V214h-3.9V209h-3.9V220h-3.9V209h-3.9V216h-3.9V225h-3.9V219h-3.9V212h-3.9V217h-3.9V210h-3.9V219h-3.9V208h-3.9V210h-3.9V208h-3.9V213h-3.9V209h-3.9V216h-3.9V207h-3.9V208h-3.9V207h-3.9V224h-3.9V206h-3.9V212h-3.9V215h-3.9V213h-3.9V206h-3.9V206h-3.9V207h-3.9V207h-3.9V220h-3.9V213h-3.9V221h-3.9V209h-3.9V213h-3.9V214h-3.9V214h-3.9V210h-3.9V212h-3.9V209h-3.9V217h-3.9V211h-3.9V226h-3.9V216h-3.9V209h-3.9V206h-3.9V209h-3.9V206h-3.9V210h-3.9V205h-3.9V206h-3.9V210h-3.9V205h-3.9V207h-3.9V205h-3.9V215h-3.9V208h-3.9V210h-3.9V209h-3.9V215h-3.9V207h-3.9V207h-3.9V206h-3.9V204h-3.9V207h-3.9V204h-3.9V203h-3.9V209h-3.9V206h-3.9V202h-3.9V205h-3.9V210h-3.9V209h-3.9V216h-3.9V212h-3.9V208h-3.9V208h-3.9V208h-3.9V208h-3.9V209h-3.9V206h-3.9V206h-3.9V205h-3.9V204h-3.9V205h-3.9V204h-3.9V205h-3.9V207h-3.9V212h-3.9V205h-3.9V203h-3.9V209h-3.9V208h-3.9V205h-3.9V203h-3.9V204h-3.9V208h-3.9V204h-3.9V202h-3.9V203h-3.9V203h-3.9V202h-3.9V214h-3.9V202h-3.9V206h-3.9V207h-3.9V207h-3.9V205h-3.9V204h-3.9V210h-3.9V209h-3.9V215h-3.9V203h-3.9V204h-3.9V205h-3.9V204h-3.9V206h-3.9V203h-3.9V215h-3.9V206h-3.9V214h-3.9V205h-3.9V208h-3.9V206h-3.9V204h-3.9V207h-3.9V208h-3.9V209h-3.9V208h-3.9V204h-3.9V203h-3.9V207h-3.9V204h-3.9V204h-3.9V219h-3.9V209h-3.9V203h-3.9V210h-3.9V212h-3.9V202h-3.9V205h-3.9V204h-3.9V203h-3.9V202h-3.9V211h-3.9V202h-3.9V203h-3.9V203h-3.9V203h-3.9V204h-3.9V201h-3.9V202h-3.9V217h-3.9V206h-3.9V201h-3.9V207h-3.9V203h-3.9V211h-3.9V208h-3.9V208h-3.9V209h-3.9V205h-3.9V205h-3.9V211h-3.9V205h-3.9V204h-3.9V204h-3.9V207h-3.9V204h-3.9V201h-3.9V205h-3.9V209h-3.9V203h-3.9V207h-3.9V204h-3.9V204h-3.9V211h-3.9V205h-3.9V203h-3.9V202h-3.9V201h-3.9V206h-3.9V202h-3.9V204h-3.9V206h-3.9V209h-3.9V206h-3.9V206h-3.9V201h-3.9V204h-3.9V211h-3.9V202h-3.9V200h-3.9V202h-3.9V202h-3.9V205h-3.9V211h-3.9V204h-3.9V204h-3.9V220h-3.9V204h-3.9V212h-3.9V208h-3.9V215h-3.9V206h-3.9V211h-3.9V205h-3.9V203h-3.9V213h-3.9V205h-3.9V205h-3.9V208h-3.9V209h-3.9V205h-3.9V208h-3.9V206h-3.9V212h-3.9V208h-3.9V210h-3.9V210h-3.9V207h-3.9V208h-3.9V205h-3.9V214h-3.9V209h-3.9V215h-3.9V216h-3.9V208h-3.9V205h-3.9V218h-3.9V211h-3.9V208h-3.9V206h-3.9V207h-3.9V209h-3.9V217h-3.9V216h-3.9V210h-3.9V216h-3.9V223h-3.9V222h-3.9V213h-3.9V209h-3.9V213h-3.9V217h-3.9V216h-3.9V212h-3.9V204h-3.9V209h-3.9V214h-3.9V210h-3.9V212h-3.9V215h-3.9V210h-3.9V226h-3.9V235h-3.9V216h-3.9V224h-3.9V219h-3.9V222h-3.9V218h-3.9V217h-3.9V211h-3.9V212h-3.9V220h-3.9V213h-3.9V234h-3.9V219h-3.9V220h-3.9V218h-3.9V233h-3.9V214h-3.9V217h-3.9V240h-3.9V217h-3.9V222h-3.9V213h-3.9V225h-3.9V221h-3.9V217h-3.9V217h-3.9V220h-3.9V217h-3.9V219h-3.9V219h-3.9V216h-3.9V211h-3.9V220h-3.9V221h-3.9V222h-3.9V227h-3.9V225h-3.9V214h-3.9V221h-3.9V233h-3.9V222h-3.9V218h-3.9V219h-3.9V219h-3.9V217h-3.9V222h-3.9V219h-3.9V220h-3.9V217h-3.9V248h-3.9V215h-3.9V224h-3.9V217h-3.9V230h-3.9V211h-3.9V239h-3.9V220h-3.9V223Z"/>
<path d="M85.4 229V169h3.9V173h3.9V169h3.9V167h3.9V172h3.9V177h3.9V168h3.9V169h3.9V178h3.9V180h3.9V175h3.9V171h3.9V180h3.9V176h3.9V182h3.9V173h3.9V177h3.9V171h3.9V169h3.9V177h3.9V164h3.9V183h3.9V182h3.9V177h3.9V178h3.9V178h3.9V182h3.9V179h3.9V174h3.9V173h3.9V166h3.9V167h3.9V163h3.9V163h3.9V163h3.9V167h3.9V173h3.9V167h3.9V173h3.9V171h3.9V174h3.9V156h3.9V167h3.9V151h3.9V162h3.9V160h3.9V168h3.9V166h3.9V173h3.9V171h3.9V171h3.9V171h3.9V173h3.9V162h3.9V157h3.9V158h3.9V170h3.9V168h3.9V170h3.9V171h3.9V177h3.9V162h3.9V175h3.9V159h3.9V165h3.9V171h3.9V167h3.9V172h3.9V173h3.9V160h3.9V155h3.9V155h3.9V156h3.9V150h3.9V153h3.9V158h3.9V163h3.9V171h3.9V167h3.9V171h3.9V172h3.9V166h3.9V162h3.9V166h3.9V170h3.9V148h3.9V153h3.9V142h3.9V149h3.9V153h3.9V159h3.9V163h3.9V164h3.9V164h3.9V164h3.9V165h3.9V154h3.9V151h3.9V147h3.9V155h3.9V151h3.9V146h3.9V162h3.9V160h3.9V161h3.9V158h3.9V162h3.9V171h3.9V174h3.9V168h3.9V163h3.9V154h3.9V163h3.9V159h3.9V164h3.9V153h3.9V151h3.9V156h3.9V162h3.9V169h3.9V163h3.9V152h3.9V157h3.9V149h3.9V157h3.9V155h3.9V167h3.9V160h3.9V163h3.9V159h3.9V151h3.9V148h3.9V144h3.9V160h3.9V164h3.9V163h3.9V170h3.9V171h3.9V166h3.9V169h3.9V163h3.9V156h3.9V156h3.9V151h3.9V161h3.9V165h3.9V161h3.9V167h3.9V160h3.9V169h3.9V172h3.9V173h3.9V168h3.9V167h3.9V162h3.9V170h3.9V162h3.9V154h3.9V166h3.9V153h3.9V164h3.9V167h3.9V171h3.9V161h3.9V168h3.9V161h3.9V157h3.9V163h3.9V169h3.9V162h3.9V165h3.9V163h3.9V163h3.9V165h3.9V158h3.9V158h3.9V170h3.9V159h3.9V157h3.9V149h3.9V157h3.9V149h3.9V162h3.9V161h3.9V157h3.9V159h3.9V149h3.9V159h3.9V158h3.9V152h3.9V147h3.9V158h3.9V168h3.9V153h3.9V156h3.9V158h3.9V158h3.9V158h3.9V168h3.9V154h3.9V162h3.9V156h3.9V166h3.9V159h3.9V171h3.9V157h3.9V171h3.9V162h3.9V157h3.9V168h3.9V170h3.9V161h3.9V159h3.9V160h3.9V165h3.9V162h3.9V168h3.9V153h3.9V166h3.9V160h3.9V168h3.9V168h3.9V158h3.9V166h3.9V158h3.9V163h3.9V167h3.9V168h3.9V154h3.9V161h3.9V160h3.9V168h3.9V153h3.9V152h3.9V156h3.9V157h3.9V173h3.9V163h3.9V165h3.9V169h3.9V171h3.9V171h3.9V183h3.9V180h3.9V181h3.9V178h3.9V177h3.9V173h3.9V161h3.9V167h3.9V166h3.9V174h3.9V163h3.9V152h3.9V152h3.9V162h3.9V164h3.9V164h3.9V161h3.9V170h3.9V179h3.9V166h3.9V166h3.9V166h3.9V157h3.9V168h3.9V165h3.9V171h3.9V167h3.9V172h3.9V170h3.9V163h3.9V166h3.9V170h3.9V171h3.9V171h3.9V166h3.9V173h3.9V178h3.9V176h3.9V176h3.9V177h3.9V180h3.9V176h3.9V181h3.9V177h3.9V183h3.9V176h3.9V182h3.9V174h3.9V184h3.9V181h3.9V171h3.9V175h3.9V180h3.9V164h3.9V167h3.9V170h3.9V180h3.9V170h3.9V176h3.9V176h3.9V183h3.9V169h3.9V181h3.9V171h3.9V165h3.9V166h3.9V174h3.9V179h3.9V183h3.9V182h3.9V190h3.9V167h3.9V176h3.9V178h3.9V181h3.9V186h3.9V183h3.9V188h3.9V174h3.9V166h3.9V166h3.9V179h3.9V176h3.9V183h3.9V182h3.9V185h3.9V177h3.9V171h3.9V184h3.9V185h3.9V182h3.9V175h3.9V172h3.9V173h3.9V174h3.9V175h3.9V176h3.9V174h3.9V173h3.9V177h3.9V177h3.9V182h3.9V170h3.9V187h3.9V181h3.9V185h3.9V190h3.9V186h3.9V192h3.9V182h3.9V181h3.9V183h3.9V185h3.9V193h3.9V188h3.9V180h3.9V183h3.9V184h3.9V182h3.9V179h3.9V185h3.9V177h3.9V184h3.9V227h-3.9V222h-3.9V233h-3.9V221h-3.9V226h-3.9V212h-3.9V220h-3.9V217h-3.9V219h-3.9V237h-3.9V215h-3.9V223h-3.9V218h-3.9V232h-3.9V233h-3.9V228h-3.9V239h-3.9V250h-3.9V217h-3.9V218h-3.9V229h-3.9V220h-3.9V217h-3.9V218h-3.9V223h-3.9V240h-3.9V233h-3.9V228h-3.9V219h-3.9V227h-3.9V221h-3.9V230h-3.9V214h-3.9V212h-3.9V233h-3.9V211h-3.9V221h-3.9V220h-3.9V229h-3.9V220h-3.9V214h-3.9V221h-3.9V221h-3.9V215h-3.9V215h-3.9V215h-3.9V220h-3.9V226h-3.9V210h-3.9V209h-3.9V213h-3.9V236h-3.9V216h-3.9V216h-3.9V211h-3.9V209h-3.9V215h-3.9V233h-3.9V220h-3.9V213h-3.9V212h-3.9V225h-3.9V215h-3.9V209h-3.9V213h-3.9V208h-3.9V220h-3.9V205h-3.9V208h-3.9V211h-3.9V208h-3.9V213h-3.9V208h-3.9V209h-3.9V206h-3.9V209h-3.9V215h-3.9V214h-3.9V228h-3.9V210h-3.9V207h-3.9V219h-3.9V210h-3.9V218h-3.9V215h-3.9V211h-3.9V207h-3.9V213h-3.9V226h-3.9V211h-3.9V206h-3.9V217h-3.9V209h-3.9V206h-3.9V210h-3.9V209h-3.9V205h-3.9V206h-3.9V224h-3.9V205h-3.9V215h-3.9V207h-3.9V205h-3.9V206h-3.9V205h-3.9V210h-3.9V205h-3.9V205h-3.9V210h-3.9V207h-3.9V208h-3.9V205h-3.9V210h-3.9V211h-3.9V207h-3.9V219h-3.9V215h-3.9V208h-3.9V203h-3.9V205h-3.9V207h-3.9V208h-3.9V210h-3.9V205h-3.9V206h-3.9V207h-3.9V208h-3.9V208h-3.9V206h-3.9V210h-3.9V210h-3.9V208h-3.9V210h-3.9V206h-3.9V206h-3.9V211h-3.9V206h-3.9V205h-3.9V205h-3.9V205h-3.9V203h-3.9V207h-3.9V208h-3.9V207h-3.9V205h-3.9V208h-3.9V205h-3.9V205h-3.9V209h-3.9V205h-3.9V202h-3.9V202h-3.9V213h-3.9V203h-3.9V204h-3.9V207h-3.9V204h-3.9V205h-3.9V207h-3.9V205h-3.9V209h-3.9V209h-3.9V207h-3.9V209h-3.9V203h-3.9V205h-3.9V205h-3.9V204h-3.9V204h-3.9V204h-3.9V212h-3.9V204h-3.9V204h-3.9V209h-3.9V204h-3.9V204h-3.9V204h-3.9V204h-3.9V220h-3.9V205h-3.9V204h-3.9V205h-3.9V206h-3.9V204h-3.9V206h-3.9V205h-3.9V207h-3.9V204h-3.9V205h-3.9V206h-3.9V203h-3.9V202h-3.9V204h-3.9V206h-3.9V206h-3.9V204h-3.9V208h-3.9V205h-3.9V205h-3.9V202h-3.9V211h-3.9V205h-3.9V207h-3.9V204h-3.9V202h-3.9V204h-3.9V201h-3.9V205h-3.9V203h-3.9V203h-3.9V206h-3.9V203h-3.9V209h-3.9V210h-3.9V206h-3.9V206h-3.9V219h-3.9V203h-3.9V202h-3.9V205h-3.9V203h-3.9V200h-3.9V215h-3.9V203h-3.9V203h-3.9V209h-3.9V205h-3.9V205h-3.9V205h-3.9V203h-3.9V206h-3.9V204h-3.9V200h-3.9V207h-3.9V202h-3.9V202h-3.9V211h-3.9V207h-3.9V203h-3.9V205h-3.9V201h-3.9V202h-3.9V205h-3.9V200h-3.9V203h-3.9V200h-3.9V203h-3.9V209h-3.9V203h-3.9V208h-3.9V207h-3.9V206h-3.9V204h-3.9V204h-3.9V204h-3.9V206h-3.9V211h-3.9V205h-3.9V211h-3.9V206h-3.9V212h-3.9V208h-3.9V214h-3.9V204h-3.9V208h-3.9V206h-3.9V208h-3.9V205h-3.9V207h-3.9V209h-3.9V206h-3.9V212h-3.9V215h-3.9V207h-3.9V212h-3.9V210h-3.9V207h-3.9V205h-3.9V204h-3.9V225h-3.9V206h-3.9V206h-3.9V205h-3.9V212h-3.9V207h-3.9V208h-3.9V211h-3.9V222h-3.9V211h-3.9V213h-3.9V210h-3.9V209h-3.9V211h-3.9V210h-3.9V218h-3.9V223h-3.9V208h-3.9V216h-3.9V212h-3.9V208h-3.9V213h-3.9V211h-3.9V211h-3.9V218h-3.9V211h-3.9V215h-3.9V216h-3.9V217h-3.9V221h-3.9V213h-3.9V227h-3.9V219h-3.9V227h-3.9V223h-3.9V227h-3.9V210h-3.9V214h-3.9V218h-3.9V226h-3.9V247h-3.9V229h-3.9V217h-3.9V220h-3.9V224h-3.9V223h-3.9V233h-3.9V212h-3.9V221h-3.9V214h-3.9V215h-3.9V208h-3.9V213h-3.9V217h-3.9V247h-3.9V217h-3.9V218h-3.9V218h-3.9V234h-3.9V215h-3.9V218h-3.9V225h-3.9V217h-3.9V234h-3.9V225h-3.9V215h-3.9V223h-3.9V223h-3.9V215h-3.9V244h-3.9V222h-3.9V247h-3.9V224h-3.9V255h-3.9V224h-3.9V234h-3.9V218h-3.9V232h-3.9V214h-3.9V214h-3.9V225h-3.9V229h-3.9V235h-3.9V215h-3.9V220h-3.9V229Z"/>
<path d="M85.4 238V173h3.9V165h3.9V175h3.9V174h3.9V178h3.9V172h3.9V170h3.9V172h3.9V171h3.9V171h3.9V167h3.9V165h3.9V168h3.9V175h3.9V187h3.9V185h3.9V184h3.9V187h3.9V182h3.9V175h3.9V178h3.9V172h3.9V181h3.9V178h3.9V184h3.9V185h3.9V174h3.9V165h3.9V170h3.9V176h3.9V169h3.9V169h3.9V180h3.9V179h3.9V180h3.9V181h3.9V176h3.9V161h3.9V149h3.9V156h3.9V163h3.9V164h3.9V167h3.9V166h3.9V170h3.9V168h3.9V169h3.9V169h3.9V173h3.9V175h3.9V165h3.9V175h3.9V172h3.9V168h3.9V167h3.9V166h3.9V159h3.9V158h3.9V164h3.9V176h3.9V184h3.9V169h3.9V173h3.9V160h3.9V158h3.9V167h3.9V156h3.9V165h3.9V169h3.9V167h3.9V171h3.9V166h3.9V163h3.9V161h3.9V162h3.9V160h3.9V161h3.9V160h3.9V160h3.9V161h3.9V157h3.9V167h3.9V164h3.9V164h3.9V168h3.9V170h3.9V172h3.9V163h3.9V169h3.9V160h3.9V168h3.9V164h3.9V168h3.9V163h3.9V171h3.9V159h3.9V155h3.9V161h3.9V155h3.9V160h3.9V160h3.9V157h3.9V163h3.9V160h3.9V168h3.9V161h3.9V160h3.9V157h3.9V155h3.9V157h3.9V155h3.9V155h3.9V157h3.9V164h3.9V163h3.9V156h3.9V160h3.9V158h3.9V162h3.9V168h3.9V158h3.9V154h3.9V154h3.9V157h3.9V162h3.9V153h3.9V155h3.9V155h3.9V168h3.9V162h3.9V157h3.9V164h3.9V156h3.9V164h3.9V160h3.9V159h3.9V156h3.9V153h3.9V151h3.9V155h3.9V159h3.9V144h3.9V152h3.9V156h3.9V160h3.9V159h3.9V166h3.9V168h3.9V171h3.9V166h3.9V168h3.9V157h3.9V154h3.9V157h3.9V150h3.9V158h3.9V162h3.9V162h3.9V160h3.9V179h3.9V174h3.9V169h3.9V168h3.9V173h3.9V161h3.9V159h3.9V153h3.9V166h3.9V167h3.9V166h3.9V169h3.9V172h3.9V161h3.9V160h3.9V168h3.9V162h3.9V158h3.9V154h3.9V165h3.9V158h3.9V162h3.9V161h3.9V166h3.9V160h3.9V160h3.9V157h3.9V154h3.9V161h3.9V154h3.9V157h3.9V153h3.9V155h3.9V154h3.9V144h3.9V150h3.9V152h3.9V155h3.9V156h3.9V158h3.9V153h3.9V158h3.9V150h3.9V161h3.9V164h3.9V161h3.9V150h3.9V157h3.9V152h3.9V162h3.9V159h3.9V160h3.9V168h3.9V169h3.9V177h3.9V170h3.9V167h3.9V157h3.9V157h3.9V163h3.9V161h3.9V162h3.9V167h3.9V168h3.9V164h3.9V170h3.9V165h3.9V168h3.9V168h3.9V156h3.9V161h3.9V170h3.9V156h3.9V166h3.9V165h3.9V165h3.9V172h3.9V162h3.9V153h3.9V156h3.9V165h3.9V160h3.9V167h3.9V187h3.9V175h3.9V169h3.9V168h3.9V165h3.9V160h3.9V167h3.9V166h3.9V168h3.9V165h3.9V171h3.9V165h3.9V163h3.9V176h3.9V165h3.9V171h3.9V162h3.9V165h3.9V168h3.9V173h3.9V163h3.9V166h3.9V168h3.9V170h3.9V174h3.9V167h3.9V170h3.9V180h3.9V171h3.9V164h3.9V167h3.9V164h3.9V172h3.9V174h3.9V173h3.9V179h3.9V168h3.9V171h3.9V161h3.9V172h3.9V172h3.9V177h3.9V185h3.9V175h3.9V168h3.9V157h3.9V161h3.9V163h3.9V164h3.9V171h3.9V170h3.9V175h3.9V178h3.9V175h3.9V170h3.9V168h3.9V165h3.9V172h3.9V167h3.9V169h3.9V180h3.9V173h3.9V175h3.9V181h3.9V173h3.9V175h3.9V175h3.9V169h3.9V175h3.9V173h3.9V178h3.9V182h3.9V175h3.9V179h3.9V176h3.9V176h3.9V174h3.9V184h3.9V174h3.9V177h3.9V167h3.9V180h3.9V181h3.9V176h3.9V166h3.9V180h3.9V178h3.9V183h3.9V178h3.9V184h3.9V181h3.9V184h3.9V180h3.9V173h3.9V175h3.9V175h3.9V178h3.9V177h3.9V183h3.9V187h3.9V176h3.9V184h3.9V176h3.9V181h3.9V190h3.9V181h3.9V176h3.9V178h3.9V172h3.9V183h3.9V182h3.9V175h3.9V178h3.9V173h3.9V172h3.9V175h3.9V181h3.9V179h3.9V192h3.9V182h3.9V190h3.9V185h3.9V184h3.9V218h-3.9V222h-3.9V214h-3.9V231h-3.9V238h-3.9V222h-3.9V214h-3.9V211h-3.9V217h-3.9V219h-3.9V215h-3.9V220h-3.9V224h-3.9V225h-3.9V220h-3.9V221h-3.9V222h-3.9V223h-3.9V248h-3.9V219h-3.9V226h-3.9V223h-3.9V214h-3.9V240h-3.9V220h-3.9V229h-3.9V218h-3.9V223h-3.9V221h-3.9V219h-3.9V218h-3.9V227h-3.9V233h-3.9V212h-3.9V212h-3.9V211h-3.9V212h-3.9V222h-3.9V211h-3.9V214h-3.9V216h-3.9V217h-3.9V214h-3.9V220h-3.9V224h-3.9V219h-3.9V218h-3.9V214h-3.9V211h-3.9V214h-3.9V210h-3.9V216h-3.9V223h-3.9V212h-3.9V209h-3.9V211h-3.9V207h-3.9V218h-3.9V215h-3.9V214h-3.9V211h-3.9V215h-3.9V213h-3.9V213h-3.9V214h-3.9V213h-3.9V221h-3.9V207h-3.9V208h-3.9V214h-3.9V211h-3.9V213h-3.9V206h-3.9V210h-3.9V207h-3.9V210h-3.9V214h-3.9V216h-3.9V205h-3.9V206h-3.9V210h-3.9V210h-3.9V208h-3.9V209h-3.9V212h-3.9V211h-3.9V207h-3.9V219h-3.9V217h-3.9V209h-3.9V214h-3.9V207h-3.9V213h-3.9V206h-3.9V214h-3.9V209h-3.9V208h-3.9V207h-3.9V214h-3.9V210h-3.9V205h-3.9V205h-3.9V208h-3.9V203h-3.9V206h-3.9V212h-3.9V207h-3.9V207h-3.9V207h-3.9V215h-3.9V205h-3.9V205h-3.9V210h-3.9V211h-3.9V208h-3.9V207h-3.9V210h-3.9V209h-3.9V225h-3.9V206h-3.9V207h-3.9V211h-3.9V205h-3.9V204h-3.9V210h-3.9V208h-3.9V214h-3.9V210h-3.9V216h-3.9V209h-3.9V209h-3.9V205h-3.9V206h-3.9V209h-3.9V205h-3.9V206h-3.9V204h-3.9V209h-3.9V205h-3.9V210h-3.9V203h-3.9V211h-3.9V214h-3.9V205h-3.9V204h-3.9V205h-3.9V203h-3.9V204h-3.9V203h-3.9V204h-3.9V203h-3.9V208h-3.9V212h-3.9V203h-3.9V204h-3.9V204h-3.9V205h-3.9V210h-3.9V209h-3.9V213h-3.9V208h-3.9V206h-3.9V203h-3.9V207h-3.9V206h-3.9V214h-3.9V202h-3.9V212h-3.9V211h-3.9V206h-3.9V205h-3.9V203h-3.9V217h-3.9V214h-3.9V204h-3.9V204h-3.9V210h-3.9V207h-3.9V203h-3.9V204h-3.9V209h-3.9V207h-3.9V204h-3.9V212h-3.9V209h-3.9V207h-3.9V215h-3.9V204h-3.9V204h-3.9V205h-3.9V203h-3.9V227h-3.9V205h-3.9V203h-3.9V204h-3.9V204h-3.9V204h-3.9V205h-3.9V203h-3.9V204h-3.9V215h-3.9V203h-3.9V205h-3.9V202h-3.9V205h-3.9V207h-3.9V202h-3.9V216h-3.9V203h-3.9V204h-3.9V213h-3.9V207h-3.9V202h-3.9V207h-3.9V207h-3.9V208h-3.9V205h-3.9V205h-3.9V201h-3.9V205h-3.9V208h-3.9V204h-3.9V202h-3.9V202h-3.9V209h-3.9V204h-3.9V217h-3.9V202h-3.9V200h-3.9V203h-3.9V204h-3.9V201h-3.9V200h-3.9V205h-3.9V203h-3.9V206h-3.9V207h-3.9V204h-3.9V210h-3.9V205h-3.9V201h-3.9V203h-3.9V201h-3.9V208h-3.9V201h-3.9V200h-3.9V206h-3.9V206h-3.9V204h-3.9V203h-3.9V201h-3.9V208h-3.9V214h-3.9V205h-3.9V203h-3.9V206h-3.9V205h-3.9V213h-3.9V213h-3.9V207h-3.9V201h-3.9V203h-3.9V218h-3.9V211h-3.9V209h-3.9V206h-3.9V215h-3.9V206h-3.9V207h-3.9V206h-3.9V206h-3.9V213h-3.9V206h-3.9V206h-3.9V209h-3.9V214h-3.9V210h-3.9V210h-3.9V205h-3.9V204h-3.9V217h-3.9V214h-3.9V208h-3.9V211h-3.9V219h-3.9V211h-3.9V208h-3.9V220h-3.9V223h-3.9V214h-3.9V214h-3.9V211h-3.9V208h-3.9V217h-3.9V209h-3.9V209h-3.9V221h-3.9V215h-3.9V212h-3.9V210h-3.9V223h-3.9V210h-3.9V208h-3.9V217h-3.9V208h-3.9V217h-3.9V212h-3.9V216h-3.9V215h-3.9V213h-3.9V218h-3.9V223h-3.9V233h-3.9V226h-3.9V211h-3.9V212h-3.9V219h-3.9V213h-3.9V245h-3.9V219h-3.9V220h-3.9V217h-3.9V218h-3.9V239h-3.9V224h-3.9V215h-3.9V217h-3.9V227h-3.9V256h-3.9V214h-3.9V216h-3.9V223h-3.9V222h-3.9V231h-3.9V220h-3.9V219h-3.9V235h-3.9V215h-3.9V213h-3.9V216h-3.9V227h-3.9V218h-3.9V231h-3.9V221h-3.9V218h-3.9V244h-3.9V217h-3.9V216h-3.9V217h-3.9V221h-3.9V241h-3.9V220h-3.9V220h-3.9V222h-3.9V229h-3.9V216h-3.9V228h-3.9V219h-3.9V220h-3.9V214h-3.9V230h-3.9V216h-3.9V218h-3.9V220h-3.9V238Z"/>
<path d="M85.4 226V172h3.9V173h3.9V163h3.9V159h3.9V163h3.9V172h3.9V166h3.9V158h3.9V167h3.9V172h3.9V183h3.9V177h3.9V170h3.9V175h3.9V178h3.9V186h3.9V187h3.9V183h3.9V183h3.9V172h3.9V174h3.9V166h3.9V179h3.9V182h3.9V175h3.9V180h3.9V180h3.9V179h3.9V172h3.9V177h3.9V172h3.9V170h3.9V170h3.9V167h3.9V173h3.9V182h3.9V187h3.9V183h3.9V178h3.9V172h3.9V172h3.9V169h3.9V167h3.9V161h3.9V171h3.9V158h3.9V174h3.9V173h3.9V181h3.9V170h3.9V171h3.9V173h3.9V169h3.9V164h3.9V168h3.9V169h3.9V168h3.9V165h3.9V170h3.9V171h3.9V177h3.9V174h3.9V170h3.9V173h3.9V157h3.9V177h3.9V168h3.9V178h3.9V172h3.9V161h3.9V161h3.9V160h3.9V164h3.9V154h3.9V159h3.9V158h3.9V152h3.9V168h3.9V158h3.9V159h3.9V164h3.9V168h3.9V170h3.9V158h3.9V159h3.9V168h3.9V170h3.9V158h3.9V162h3.9V171h3.9V171h3.9V163h3.9V164h3.9V159h3.9V163h3.9V161h3.9V149h3.9V144h3.9V153h3.9V155h3.9V146h3.9V143h3.9V146h3.9V147h3.9V153h3.9V159h3.9V166h3.9V160h3.9V159h3.9V154h3.9V160h3.9V156h3.9V159h3.9V161h3.9V165h3.9V170h3.9V164h3.9V162h3.9V169h3.9V165h3.9V161h3.9V157h3.9V166h3.9V152h3.9V154h3.9V159h3.9V155h3.9V158h3.9V167h3.9V163h3.9V155h3.9V148h3.9V152h3.9V148h3.9V154h3.9V163h3.9V163h3.9V159h3.9V161h3.9V164h3.9V165h3.9V158h3.9V146h3.9V144h3.9V152h3.9V162h3.9V161h3.9V167h3.9V171h3.9V168h3.9V169h3.9V172h3.9V168h3.9V167h3.9V164h3.9V170h3.9V164h3.9V155h3.9V157h3.9V158h3.9V163h3.9V173h3.9V157h3.9V170h3.9V172h3.9V163h3.9V174h3.9V153h3.9V153h3.9V152h3.9V159h3.9V164h3.9V164h3.9V158h3.9V160h3.9V167h3.9V173h3.9V173h3.9V170h3.9V168h3.9V165h3.9V164h3.9V157h3.9V152h3.9V148h3.9V157h3.9V154h3.9V154h3.9V166h3.9V152h3.9V154h3.9V152h3.9V158h3.9V151h3.9V154h3.9V154h3.9V150h3.9V156h3.9V161h3.9V154h3.9V160h3.9V156h3.9V165h3.9V155h3.9V156h3.9V155h3.9V165h3.9V167h3.9V167h3.9V167h3.9V163h3.9V166h3.9V168h3.9V161h3.9V161h3.9V165h3.9V164h3.9V165h3.9V165h3.9V166h3.9V168h3.9V165h3.9V161h3.9V160h3.9V168h3.9V161h3.9V170h3.9V161h3.9V151h3.9V162h3.9V151h3.9V154h3.9V155h3.9V157h3.9V160h3.9V163h3.9V165h3.9V166h3.9V162h3.9V163h3.9V159h3.9V161h3.9V168h3.9V159h3.9V169h3.9V163h3.9V168h3.9V152h3.9V158h3.9V168h3.9V168h3.9V177h3.9V165h3.9V156h3.9V154h3.9V165h3.9V161h3.9V170h3.9V169h3.9V173h3.9V167h3.9V162h3.9V167h3.9V175h3.9V165h3.9V156h3.9V161h3.9V165h3.9V157h3.9V168h3.9V165h3.9V173h3.9V176h3.9V174h3.9V170h3.9V158h3.9V166h3.9V174h3.9V174h3.9V165h3.9V171h3.9V176h3.9V175h3.9V166h3.9V177h3.9V180h3.9V188h3.9V183h3.9V177h3.9V178h3.9V174h3.9V174h3.9V173h3.9V174h3.9V174h3.9V175h3.9V176h3.9V176h3.9V185h3.9V171h3.9V178h3.9V181h3.9V176h3.9V171h3.9V180h3.9V182h3.9V181h3.9V174h3.9V181h3.9V175h3.9V174h3.9V175h3.9V180h3.9V173h3.9V178h3.9V176h3.9V180h3.9V179h3.9V178h3.9V179h3.9V167h3.9V171h3.9V166h3.9V174h3.9V171h3.9V173h3.9V173h3.9V173h3.9V183h3.9V183h3.9V181h3.9V169h3.9V170h3.9V167h3.9V167h3.9V169h3.9V165h3.9V176h3.9V167h3.9V179h3.9V170h3.9V175h3.9V179h3.9V178h3.9V178h3.9V180h3.9V187h3.9V181h3.9V175h3.9V178h3.9V176h3.9V171h3.9V182h3.9V175h3.9V182h3.9V183h3.9V182h3.9V176h3.9V182h3.9V185h3.9V178h3.9V184h3.9V192h3.9V183h3.9V185h3.9V223h-3.9V227h-3.9V216h-3.9V221h-3.9V219h-3.9V212h-3.9V235h-3.9V210h-3.9V219h-3.9V211h-3.9V227h-3.9V223h-3.9V222h-3.9V222h-3.9V231h-3.9V224h-3.9V216h-3.9V226h-3.9V218h-3.9V218h-3.9V233h-3.9V223h-3.9V219h-3.9V218h-3.9V228h-3.9V218h-3.9V223h-3.9V220h-3.9V215h-3.9V221h-3.9V225h-3.9V221h-3.9V218h-3.9V218h-3.9V230h-3.9V214h-3.9V214h-3.9V212h-3.9V227h-3.9V232h-3.9V224h-3.9V215h-3.9V219h-3.9V214h-3.9V225h-3.9V215h-3.9V209h-3.9V216h-3.9V210h-3.9V208h-3.9V218h-3.9V215h-3.9V216h-3.9V213h-3.9V217h-3.9V215h-3.9V206h-3.9V210h-3.9V231h-3.9V213h-3.9V214h-3.9V213h-3.9V213h-3.9V212h-3.9V224h-3.9V209h-3.9V213h-3.9V205h-3.9V208h-3.9V208h-3.9V208h-3.9V208h-3.9V217h-3.9V220h-3.9V209h-3.9V213h-3.9V208h-3.9V220h-3.9V209h-3.9V210h-3.9V210h-3.9V208h-3.9V210h-3.9V215h-3.9V223h-3.9V209h-3.9V206h-3.9V212h-3.9V217h-3.9V207h-3.9V210h-3.9V208h-3.9V212h-3.9V206h-3.9V211h-3.9V205h-3.9V205h-3.9V211h-3.9V212h-3.9V206h-3.9V203h-3.9V204h-3.9V209h-3.9V208h-3.9V210h-3.9V207h-3.9V207h-3.9V208h-3.9V209h-3.9V209h-3.9V211h-3.9V205h-3.9V209h-3.9V221h-3.9V207h-3.9V206h-3.9V213h-3.9V207h-3.9V204h-3.9V208h-3.9V208h-3.9V204h-3.9V205h-3.9V211h-3.9V207h-3.9V208h-3.9V209h-3.9V206h-3.9V215h-3.9V214h-3.9V211h-3.9V206h-3.9V208h-3.9V209h-3.9V204h-3.9V219h-3.9V205h-3.9V209h-3.9V204h-3.9V204h-3.9V212h-3.9V204h-3.9V208h-3.9V206h-3.9V206h-3.9V206h-3.9V202h-3.9V211h-3.9V203h-3.9V206h-3.9V209h-3.9V211h-3.9V205h-3.9V210h-3.9V202h-3.9V202h-3.9V211h-3.9V207h-3.9V208h-3.9V204h-3.9V206h-3.9V206h-3.9V204h-3.9V205h-3.9V204h-3.9V203h-3.9V211h-3.9V205h-3.9V206h-3.9V217h-3.9V206h-3.9V207h-3.9V204h-3.9V214h-3.9V207h-3.9V206h-3.9V208h-3.9V216h-3.9V204h-3.9V214h-3.9V203h-3.9V207h-3.9V204h-3.9V203h-3.9V206h-3.9V205h-3.9V205h-3.9V205h-3.9V206h-3.9V206h-3.9V203h-3.9V209h-3.9V205h-3.9V205h-3.9V204h-3.9V206h-3.9V205h-3.9V222h-3.9V209h-3.9V202h-3.9V203h-3.9V204h-3.9V212h-3.9V203h-3.9V202h-3.9V201h-3.9V202h-3.9V207h-3.9V203h-3.9V206h-3.9V205h-3.9V208h-3.9V203h-3.9V211h-3.9V205h-3.9V214h-3.9V204h-3.9V206h-3.9V203h-3.9V206h-3.9V204h-3.9V201h-3.9V206h-3.9V204h-3.9V205h-3.9V211h-3.9V205h-3.9V202h-3.9V201h-3.9V200h-3.9V202h-3.9V205h-3.9V201h-3.9V204h-3.9V204h-3.9V202h-3.9V205h-3.9V204h-3.9V206h-3.9V207h-3.9V202h-3.9V212h-3.9V205h-3.9V201h-3.9V200h-3.9V218h-3.9V203h-3.9V207h-3.9V206h-3.9V203h-3.9V203h-3.9V205h-3.9V212h-3.9V209h-3.9V213h-3.9V217h-3.9V208h-3.9V205h-3.9V207h-3.9V203h-3.9V203h-3.9V204h-3.9V205h-3.9V205h-3.9V209h-3.9V206h-3.9V208h-3.9V207h-3.9V207h-3.9V210h-3.9V213h-3.9V211h-3.9V207h-3.9V220h-3.9V217h-3.9V211h-3.9V206h-3.9V208h-3.9V213h-3.9V204h-3.9V205h-3.9V221h-3.9V207h-3.9V215h-3.9V211h-3.9V214h-3.9V210h-3.9V215h-3.9V214h-3.9V211h-3.9V214h-3.9V209h-3.9V207h-3.9V216h-3.9V210h-3.9V209h-3.9V209h-3.9V210h-3.9V226h-3.9V214h-3.9V209h-3.9V216h-3.9V212h-3.9V212h-3.9V215h-3.9V226h-3.9V226h-3.9V225h-3.9V223h-3.9V212h-3.9V226h-3.9V221h-3.9V235h-3.9V227h-3.9V232h-3.9V217h-3.9V211h-3.9V213h-3.9V216h-3.9V233h-3.9V221h-3.9V218h-3.9V222h-3.9V215h-3.9V236h-3.9V239h-3.9V214h-3.9V230h-3.9V230h-3.9V210h-3.9V247h-3.9V223h-3.9V228h-3.9V224h-3.9V247h-3.9V217h-3.9V222h-3.9V215h-3.9V218h-3.9V219h-3.9V219h-3.9V218h-3.9V227h-3.9V224h-3.9V216h-3.9V242h-3.9V223h-3.9V216h-3.9V223h-3.9V219h-3.9V222h-3.9V235h-3.9V271h-3.9V221h-3.9V219h-3.9V230h-3.9V228h-3.9V232h-3.9V220h-3.9V233h-3.9V217h-3.9V213h-3.9V215h-3.9V220h-3.9V226Z"/>
<path d="M85.4 228V181h3.9V167h3.9V167h3.9V165h3.9V182h3.9V171h3.9V169h3.9V162h3.9V165h3.9V171h3.9V171h3.9V164h3.9V170h3.9V173h3.9V174h3.9V182h3.9V174h3.9V178h3.9V190h3.9V182h3.9V181h3.9V170h3.9V182h3.9V184h3.9V169h3.9V176h3.9V175h3.9V167h3.9V172h3.9V172h3.9V165h3.9V169h3.9V171h3.9V176h3.9V165h3.9V175h3.9V179h3.9V164h3.9V171h3.9V167h3.9V171h3.9V170h3.9V177h3.9V160h3.9V160h3.9V162h3.9V160h3.9V161h3.9V177h3.9V169h3.9V176h3.9V178h3.9V172h3.9V167h3.9V174h3.9V170h3.9V175h3.9V172h3.9V174h3.9V164h3.9V155h3.9V166h3.9V169h3.9V175h3.9V172h3.9V175h3.9V170h3.9V165h3.9V163h3.9V154h3.9V161h3.9V157h3.9V162h3.9V161h3.9V168h3.9V173h3.9V163h3.9V163h3.9V158h3.9V165h3.9V156h3.9V167h3.9V161h3.9V167h3.9V171h3.9V165h3.9V164h3.9V157h3.9V177h3.9V158h3.9V152h3.9V147h3.9V156h3.9V160h3.9V161h3.9V161h3.9V165h3.9V151h3.9V144h3.9V143h3.9V143h3.9V155h3.9V160h3.9V156h3.9V160h3.9V147h3.9V165h3.9V165h3.9V153h3.9V148h3.9V153h3.9V142h3.9V164h3.9V154h3.9V162h3.9V163h3.9V153h3.9V165h3.9V174h3.9V172h3.9V163h3.9V166h3.9V177h3.9V161h3.9V168h3.9V160h3.9V167h3.9V163h3.9V172h3.9V165h3.9V149h3.9V144h3.9V160h3.9V161h3.9V167h3.9V153h3.9V149h3.9V151h3.9V160h3.9V170h3.9V174h3.9V157h3.9V154h3.9V150h3.9V159h3.9V165h3.9V163h3.9V171h3.9V166h3.9V169h3.9V165h3.9V162h3.9V162h3.9V150h3.9V152h3.9V154h3.9V157h3.9V154h3.9V153h3.9V156h3.9V163h3.9V173h3.9V173h3.9V184h3.9V170h3.9V165h3.9V161h3.9V161h3.9V161h3.9V156h3.9V164h3.9V158h3.9V164h3.9V167h3.9V169h3.9V162h3.9V161h3.9V160h3.9V149h3.9V153h3.9V150h3.9V134h3.9V143h3.9V152h3.9V160h3.9V160h3.9V155h3.9V162h3.9V146h3.9V150h3.9V151h3.9V161h3.9V164h3.9V159h3.9V154h3.9V161h3.9V150h3.9V165h3.9V153h3.9V154h3.9V160h3.9V151h3.9V167h3.9V162h3.9V156h3.9V152h3.9V158h3.9V154h3.9V158h3.9V166h3.9V160h3.9V166h3.9V167h3.9V160h3.9V158h3.9V159h3.9V162h3.9V167h3.9V168h3.9V165h3.9V162h3.9V172h3.9V167h3.9V165h3.9V162h3.9V169h3.9V166h3.9V159h3.9V152h3.9V155h3.9V156h3.9V156h3.9V160h3.9V160h3.9V151h3.9V157h3.9V159h3.9V162h3.9V159h3.9V168h3.9V167h3.9V157h3.9V180h3.9V175h3.9V171h3.9V174h3.9V172h3.9V166h3.9V174h3.9V168h3.9V163h3.9V172h3.9V159h3.9V164h3.9V161h3.9V167h3.9V161h3.9V163h3.9V159h3.9V156h3.9V153h3.9V169h3.9V161h3.9V171h3.9V167h3.9V169h3.9V173h3.9V177h3.9V166h3.9V166h3.9V173h3.9V169h3.9V172h3.9V178h3.9V182h3.9V178h3.9V176h3.9V179h3.9V179h3.9V177h3.9V169h3.9V174h3.9V169h3.9V165h3.9V172h3.9V174h3.9V174h3.9V167h3.9V166h3.9V172h3.9V174h3.9V169h3.9V182h3.9V181h3.9V176h3.9V173h3.9V169h3.9V162h3.9V168h3.9V174h3.9V172h3.9V181h3.9V171h3.9V178h3.9V189h3.9V182h3.9V183h3.9V181h3.9V185h3.9V190h3.9V194h3.9V184h3.9V179h3.9V180h3.9V177h3.9V186h3.9V185h3.9V177h3.9V170h3.9V174h3.9V173h3.9V178h3.9V170h3.9V169h3.9V181h3.9V176h3.9V174h3.9V179h3.9V180h3.9V178h3.9V183h3.9V188h3.9V178h3.9V175h3.9V176h3.9V181h3.9V177h3.9V181h3.9V182h3.9V188h3.9V193h3.9V190h3.9V187h3.9V185h3.9V180h3.9V176h3.9V168h3.9V185h3.9V167h3.9V179h3.9V177h3.9V178h3.9V180h3.9V176h3.9V173h3.9V181h3.9V180h3.9V182h3.9V181h3.9V181h3.9V180h3.9V175h3.9V171h3.9V173h3.9V170h3.9V221h-3.9V234h-3.9V222h-3.9V219h-3.9V216h-3.9V234h-3.9V216h-3.9V218h-3.9V217h-3.9V211h-3.9V215h-3.9V213h-3.9V217h-3.9V233h-3.9V223h-3.9V223h-3.9V226h-3.9V226h-3.9V215h-3.9V256h-3.9V242h-3.9V219h-3.9V226h-3.9V229h-3.9V217h-3.9V236h-3.9V216h-3.9V216h-3.9V225h-3.9V222h-3.9V217h-3.9V219h-3.9V225h-3.9V224h-3.9V213h-3.9V211h-3.9V224h-3.9V209h-3.9V237h-3.9V213h-3.9V221h-3.9V219h-3.9V221h-3.9V222h-3.9V213h-3.9V226h-3.9V219h-3.9V214h-3.9V222h-3.9V208h-3.9V218h-3.9V223h-3.9V217h-3.9V218h-3.9V223h-3.9V217h-3.9V206h-3.9V211h-3.9V215h-3.9V211h-3.9V218h-3.9V227h-3.9V214h-3.9V211h-3.9V209h-3.9V210h-3.9V207h-3.9V207h-3.9V213h-3.9V216h-3.9V209h-3.9V207h-3.9V217h-3.9V211h-3.9V208h-3.9V210h-3.9V211h-3.9V206h-3.9V224h-3.9V235h-3.9V209h-3.9V210h-3.9V209h-3.9V213h-3.9V215h-3.9V213h-3.9V210h-3.9V210h-3.9V226h-3.9V213h-3.9V208h-3.9V209h-3.9V209h-3.9V210h-3.9V209h-3.9V205h-3.9V216h-3.9V211h-3.9V207h-3.9V212h-3.9V207h-3.9V208h-3.9V205h-3.9V204h-3.9V206h-3.9V206h-3.9V213h-3.9V212h-3.9V216h-3.9V210h-3.9V208h-3.9V213h-3.9V208h-3.9V206h-3.9V208h-3.9V209h-3.9V205h-3.9V205h-3.9V208h-3.9V208h-3.9V206h-3.9V204h-3.9V207h-3.9V204h-3.9V207h-3.9V207h-3.9V210h-3.9V206h-3.9V207h-3.9V207h-3.9V205h-3.9V211h-3.9V209h-3.9V215h-3.9V208h-3.9V205h-3.9V211h-3.9V203h-3.9V205h-3.9V208h-3.9V204h-3.9V206h-3.9V204h-3.9V204h-3.9V204h-3.9V207h-3.9V204h-3.9V204h-3.9V204h-3.9V207h-3.9V204h-3.9V209h-3.9V208h-3.9V207h-3.9V203h-3.9V205h-3.9V210h-3.9V205h-3.9V210h-3.9V207h-3.9V208h-3.9V205h-3.9V204h-3.9V205h-3.9V206h-3.9V212h-3.9V203h-3.9V203h-3.9V217h-3.9V208h-3.9V207h-3.9V204h-3.9V207h-3.9V206h-3.9V208h-3.9V204h-3.9V208h-3.9V203h-3.9V203h-3.9V203h-3.9V204h-3.9V204h-3.9V207h-3.9V203h-3.9V204h-3.9V219h-3.9V210h-3.9V206h-3.9V203h-3.9V203h-3.9V205h-3.9V202h-3.9V204h-3.9V209h-3.9V205h-3.9V220h-3.9V205h-3.9V202h-3.9V202h-3.9V206h-3.9V211h-3.9V213h-3.9V206h-3.9V202h-3.9V202h-3.9V205h-3.9V203h-3.9V206h-3.9V203h-3.9V212h-3.9V206h-3.9V203h-3.9V202h-3.9V205h-3.9V208h-3.9V203h-3.9V204h-3.9V203h-3.9V207h-3.9V207h-3.9V203h-3.9V201h-3.9V205h-3.9V204h-3.9V203h-3.9V203h-3.9V208h-3.9V200h-3.9V200h-3.9V199h-3.9V204h-3.9V202h-3.9V201h-3.9V202h-3.9V221h-3.9V201h-3.9V203h-3.9V210h-3.9V203h-3.9V205h-3.9V205h-3.9V206h-3.9V210h-3.9V212h-3.9V200h-3.9V201h-3.9V202h-3.9V203h-3.9V204h-3.9V203h-3.9V206h-3.9V201h-3.9V206h-3.9V203h-3.9V204h-3.9V214h-3.9V210h-3.9V208h-3.9V205h-3.9V204h-3.9V201h-3.9V209h-3.9V208h-3.9V204h-3.9V218h-3.9V207h-3.9V217h-3.9V209h-3.9V209h-3.9V218h-3.9V207h-3.9V208h-3.9V206h-3.9V207h-3.9V207h-3.9V221h-3.9V208h-3.9V207h-3.9V205h-3.9V206h-3.9V205h-3.9V205h-3.9V205h-3.9V219h-3.9V209h-3.9V213h-3.9V208h-3.9V210h-3.9V216h-3.9V209h-3.9V221h-3.9V207h-3.9V212h-3.9V208h-3.9V210h-3.9V214h-3.9V210h-3.9V208h-3.9V212h-3.9V208h-3.9V211h-3.9V209h-3.9V222h-3.9V223h-3.9V223h-3.9V216h-3.9V229h-3.9V217h-3.9V221h-3.9V214h-3.9V216h-3.9V218h-3.9V229h-3.9V215h-3.9V218h-3.9V211h-3.9V215h-3.9V214h-3.9V217h-3.9V218h-3.9V221h-3.9V224h-3.9V223h-3.9V222h-3.9V220h-3.9V217h-3.9V226h-3.9V212h-3.9V215h-3.9V223h-3.9V209h-3.9V223h-3.9V219h-3.9V218h-3.9V212h-3.9V222h-3.9V223h-3.9V218h-3.9V230h-3.9V225h-3.9V217h-3.9V239h-3.9V245h-3.9V220h-3.9V215h-3.9V240h-3.9V230h-3.9V223h-3.9V217h-3.9V231h-3.9V255h-3.9V218h-3.9V234h-3.9V215h-3.9V223h-3.9V235h-3.9V218h-3.9V221h-3.9V221h-3.9V226h-3.9V214h-3.9V211h-3.9V219h-3.9V220h-3.9V228Z"/>
<path d="M85.4 229V178h3.9V181h3.9V176h3.9V173h3.9V172h3.9V174h3.9V178h3.9V184h3.9V177h3.9V177h3.9V189h3.9V183h3.9V182h3.9V181h3.9V177h3.9V172h3.9V179h3.9V192h3.9V192h3.9V184h3.9V183h3.9V178h3.9V174h3.9V193h3.9V185h3.9V190h3.9V187h3.9V180h3.9V186h3.9V185h3.9V177h3.9V178h3.9V174h3.9V165h3.9V172h3.9V169h3.9V172h3.9V170h3.9V163h3.9V163h3.9V177h3.9V170h3.9V169h3.9V163h3.9V161h3.9V164h3.9V172h3.9V161h3.9V167h3.9V164h3.9V167h3.9V172h3.9V169h3.9V171h3.9V177h3.9V172h3.9V173h3.9V176h3.9V175h3.9V163h3.9V164h3.9V159h3.9V167h3.9V166h3.9V168h3.9V175h3.9V165h3.9V168h3.9V162h3.9V155h3.9V152h3.9V165h3.9V165h3.9V161h3.9V167h3.9V164h3.9V164h3.9V168h3.9V169h3.9V171h3.9V173h3.9V176h3.9V169h3.9V167h3.9V165h3.9V165h3.9V160h3.9V166h3.9V172h3.9V166h3.9V162h3.9V154h3.9V162h3.9V162h3.9V162h3.9V172h3.9V152h3.9V156h3.9V166h3.9V154h3.9V162h3.9V156h3.9V154h3.9V155h3.9V157h3.9V143h3.9V150h3.9V155h3.9V158h3.9V149h3.9V160h3.9V150h3.9V156h3.9V156h3.9V146h3.9V154h3.9V157h3.9V158h3.9V168h3.9V161h3.9V151h3.9V154h3.9V166h3.9V158h3.9V178h3.9V167h3.9V167h3.9V160h3.9V153h3.9V150h3.9V151h3.9V157h3.9V159h3.9V160h3.9V159h3.9V158h3.9V153h3.9V149h3.9V156h3.9V159h3.9V163h3.9V161h3.9V157h3.9V155h3.9V156h3.9V162h3.9V149h3.9V168h3.9V160h3.9V168h3.9V162h3.9V163h3.9V162h3.9V161h3.9V162h3.9V162h3.9V159h3.9V157h3.9V155h3.9V153h3.9V166h3.9V161h3.9V162h3.9V165h3.9V164h3.9V163h3.9V169h3.9V164h3.9V158h3.9V162h3.9V167h3.9V161h3.9V168h3.9V161h3.9V150h3.9V155h3.9V167h3.9V158h3.9V158h3.9V168h3.9V170h3.9V163h3.9V162h3.9V157h3.9V157h3.9V150h3.9V153h3.9V165h3.9V164h3.9V159h3.9V161h3.9V156h3.9V157h3.9V147h3.9V154h3.9V154h3.9V166h3.9V165h3.9V152h3.9V161h3.9V155h3.9V153h3.9V163h3.9V166h3.9V168h3.9V161h3.9V163h3.9V159h3.9V148h3.9V153h3.9V157h3.9V166h3.9V167h3.9V168h3.9V160h3.9V153h3.9V159h3.9V165h3.9V167h3.9V164h3.9V163h3.9V167h3.9V163h3.9V176h3.9V177h3.9V178h3.9V184h3.9V163h3.9V145h3.9V155h3.9V160h3.9V161h3.9V167h3.9V161h3.9V161h3.9V169h3.9V163h3.9V163h3.9V161h3.9V158h3.9V162h3.9V162h3.9V176h3.9V175h3.9V182h3.9V186h3.9V174h3.9V180h3.9V175h3.9V167h3.9V163h3.9V175h3.9V169h3.9V170h3.9V160h3.9V160h3.9V157h3.9V161h3.9V151h3.9V166h3.9V156h3.9V170h3.9V164h3.9V162h3.9V162h3.9V170h3.9V182h3.9V167h3.9V169h3.9V171h3.9V173h3.9V169h3.9V166h3.9V170h3.9V173h3.9V169h3.9V176h3.9V170h3.9V174h3.9V171h3.9V175h3.9V175h3.9V172h3.9V169h3.9V171h3.9V169h3.9V176h3.9V169h3.9V172h3.9V171h3.9V169h3.9V165h3.9V175h3.9V176h3.9V179h3.9V168h3.9V175h3.9V171h3.9V174h3.9V173h3.9V181h3.9V182h3.9V180h3.9V174h3.9V174h3.9V175h3.9V175h3.9V180h3.9V174h3.9V171h3.9V177h3.9V179h3.9V174h3.9V168h3.9V168h3.9V176h3.9V178h3.9V173h3.9V174h3.9V185h3.9V180h3.9V171h3.9V169h3.9V170h3.9V178h3.9V178h3.9V169h3.9V171h3.9V172h3.9V175h3.9V177h3.9V178h3.9V183h3.9V174h3.9V171h3.9V175h3.9V163h3.9V170h3.9V171h3.9V169h3.9V173h3.9V169h3.9V179h3.9V181h3.9V186h3.9V193h3.9V191h3.9V187h3.9V189h3.9V188h3.9V183h3.9V179h3.9V173h3.9V178h3.9V182h3.9V189h3.9V183h3.9V181h3.9V185h3.9V185h3.9V191h3.9V188h3.9V187h3.9V179h3.9V184h3.9V219h-3.9V232h-3.9V213h-3.9V219h-3.9V217h-3.9V213h-3.9V219h-3.9V209h-3.9V233h-3.9V223h-3.9V233h-3.9V225h-3.9V218h-3.9V222h-3.9V220h-3.9V223h-3.9V224h-3.9V223h-3.9V220h-3.9V218h-3.9V239h-3.9V219h-3.9V218h-3.9V225h-3.9V223h-3.9V225h-3.9V240h-3.9V217h-3.9V216h-3.9V236h-3.9V219h-3.9V219h-3.9V220h-3.9V223h-3.9V219h-3.9V219h-3.9V216h-3.9V214h-3.9V219h-3.9V212h-3.9V215h-3.9V219h-3.9V223h-3.9V214h-3.9V216h-3.9V217h-3.9V209h-3.9V220h-3.9V210h-3.9V208h-3.9V210h-3.9V221h-3.9V220h-3.9V212h-3.9V212h-3.9V210h-3.9V209h-3.9V217h-3.9V223h-3.9V214h-3.9V212h-3.9V220h-3.9V216h-3.9V212h-3.9V213h-3.9V208h-3.9V207h-3.9V210h-3.9V209h-3.9V214h-3.9V208h-3.9V228h-3.9V213h-3.9V217h-3.9V212h-3.9V208h-3.9V207h-3.9V208h-3.9V217h-3.9V210h-3.9V211h-3.9V206h-3.9V212h-3.9V211h-3.9V212h-3.9V217h-3.9V208h-3.9V211h-3.9V210h-3.9V208h-3.9V209h-3.9V207h-3.9V210h-3.9V210h-3.9V208h-3.9V209h-3.9V207h-3.9V215h-3.9V216h-3.9V213h-3.9V204h-3.9V204h-3.9V213h-3.9V206h-3.9V203h-3.9V207h-3.9V208h-3.9V205h-3.9V211h-3.9V207h-3.9V214h-3.9V205h-3.9V209h-3.9V209h-3.9V205h-3.9V204h-3.9V205h-3.9V220h-3.9V204h-3.9V205h-3.9V207h-3.9V203h-3.9V203h-3.9V205h-3.9V209h-3.9V210h-3.9V212h-3.9V207h-3.9V221h-3.9V206h-3.9V207h-3.9V206h-3.9V210h-3.9V207h-3.9V205h-3.9V205h-3.9V208h-3.9V211h-3.9V210h-3.9V208h-3.9V204h-3.9V205h-3.9V208h-3.9V205h-3.9V206h-3.9V202h-3.9V205h-3.9V207h-3.9V204h-3.9V208h-3.9V203h-3.9V206h-3.9V205h-3.9V208h-3.9V208h-3.9V205h-3.9V207h-3.9V207h-3.9V208h-3.9V210h-3.9V207h-3.9V217h-3.9V205h-3.9V219h-3.9V210h-3.9V208h-3.9V206h-3.9V208h-3.9V204h-3.9V212h-3.9V219h-3.9V203h-3.9V204h-3.9V208h-3.9V207h-3.9V210h-3.9V205h-3.9V204h-3.9V204h-3.9V206h-3.9V205h-3.9V212h-3.9V208h-3.9V204h-3.9V206h-3.9V209h-3.9V210h-3.9V204h-3.9V203h-3.9V205h-3.9V210h-3.9V215h-3.9V211h-3.9V208h-3.9V207h-3.9V203h-3.9V202h-3.9V203h-3.9V202h-3.9V202h-3.9V205h-3.9V213h-3.9V207h-3.9V202h-3.9V208h-3.9V201h-3.9V212h-3.9V208h-3.9V203h-3.9V204h-3.9V207h-3.9V204h-3.9V206h-3.9V204h-3.9V203h-3.9V203h-3.9V216h-3.9V204h-3.9V208h-3.9V204h-3.9V206h-3.9V206h-3.9V203h-3.9V203h-3.9V203h-3.9V210h-3.9V208h-3.9V207h-3.9V218h-3.9V199h-3.9V204h-3.9V202h-3.9V201h-3.9V214h-3.9V201h-3.9V205h-3.9V204h-3.9V211h-3.9V208h-3.9V206h-3.9V202h-3.9V201h-3.9V201h-3.9V201h-3.9V200h-3.9V200h-3.9V222h-3.9V203h-3.9V203h-3.9V211h-3.9V203h-3.9V202h-3.9V206h-3.9V204h-3.9V206h-3.9V205h-3.9V205h-3.9V204h-3.9V207h-3.9V207h-3.9V203h-3.9V204h-3.9V206h-3.9V208h-3.9V208h-3.9V207h-3.9V206h-3.9V211h-3.9V218h-3.9V207h-3.9V207h-3.9V209h-3.9V210h-3.9V214h-3.9V207h-3.9V208h-3.9V209h-3.9V217h-3.9V206h-3.9V205h-3.9V204h-3.9V205h-3.9V215h-3.9V222h-3.9V207h-3.9V210h-3.9V210h-3.9V217h-3.9V238h-3.9V216h-3.9V210h-3.9V214h-3.9V208h-3.9V214h-3.9V213h-3.9V214h-3.9V210h-3.9V212h-3.9V215h-3.9V208h-3.9V211h-3.9V211h-3.9V212h-3.9V211h-3.9V224h-3.9V220h-3.9V225h-3.9V217h-3.9V215h-3.9V216h-3.9V219h-3.9V234h-3.9V218h-3.9V217h-3.9V226h-3.9V211h-3.9V221h-3.9V213h-3.9V218h-3.9V219h-3.9V235h-3.9V236h-3.9V218h-3.9V220h-3.9V217h-3.9V216h-3.9V218h-3.9V229h-3.9V220h-3.9V209h-3.9V215h-3.9V227h-3.9V217h-3.9V242h-3.9V218h-3.9V235h-3.9V220h-3.9V217h-3.9V213h-3.9V215h-3.9V247h-3.9V219h-3.9V224h-3.9V241h-3.9V214h-3.9V220h-3.9V232h-3.9V219h-3.9V222h-3.9V228h-3.9V249h-3.9V221h-3.9V251h-3.9V215h-3.9V229h-3.9V216h-3.9V216h-3.9V215h-3.9V217h-3.9V213h-3.9V223h-3.9V211h-3.9V223h-3.9V230h-3.9V229Z"/>
<path d="M85.4 229V177h3.9V170h3.9V164h3.9V170h3.9V167h3.9V174h3.9V167h3.9V168h3.9V167h3.9V160h3.9V169h3.9V166h3.9V175h3.9V179h3.9V183h3.9V178h3.9V182h3.9V183h3.9V165h3.9V172h3.9V168h3.9V169h3.9V161h3.9V184h3.9V178h3.9V187h3.9V181h3.9V182h3.9V180h3.9V170h3.9V170h3.9V173h3.9V175h3.9V174h3.9V169h3.9V177h3.9V172h3.9V168h3.9V166h3.9V168h3.9V177h3.9V168h3.9V172h3.9V170h3.9V177h3.9V171h3.9V174h3.9V165h3.9V173h3.9V165h3.9V157h3.9V168h3.9V167h3.9V171h3.9V173h3.9V162h3.9V163h3.9V165h3.9V160h3.9V159h3.9V167h3.9V168h3.9V175h3.9V172h3.9V173h3.9V171h3.9V175h3.9V179h3.9V176h3.9V169h3.9V177h3.9V163h3.9V168h3.9V166h3.9V162h3.9V159h3.9V167h3.9V160h3.9V156h3.9V153h3.9V160h3.9V164h3.9V155h3.9V153h3.9V161h3.9V167h3.9V168h3.9V160h3.9V159h3.9V164h3.9V160h3.9V165h3.9V170h3.9V167h3.9V170h3.9V166h3.9V166h3.9V163h3.9V157h3.9V161h3.9V162h3.9V156h3.9V166h3.9V164h3.9V166h3.9V158h3.9V158h3.9V159h3.9V155h3.9V158h3.9V161h3.9V153h3.9V154h3.9V154h3.9V157h3.9V160h3.9V162h3.9V158h3.9V159h3.9V161h3.9V160h3.9V168h3.9V164h3.9V155h3.9V150h3.9V147h3.9V148h3.9V151h3.9V160h3.9V154h3.9V155h3.9V155h3.9V158h3.9V161h3.9V165h3.9V159h3.9V165h3.9V152h3.9V159h3.9V156h3.9V156h3.9V162h3.9V155h3.9V165h3.9V170h3.9V161h3.9V172h3.9V167h3.9V158h3.9V166h3.9V170h3.9V172h3.9V174h3.9V162h3.9V161h3.9V157h3.9V156h3.9V165h3.9V171h3.9V173h3.9V166h3.9V165h3.9V163h3.9V165h3.9V160h3.9V159h3.9V162h3.9V157h3.9V165h3.9V169h3.9V182h3.9V168h3.9V175h3.9V170h3.9V164h3.9V165h3.9V162h3.9V156h3.9V168h3.9V169h3.9V157h3.9V162h3.9V169h3.9V165h3.9V167h3.9V164h3.9V168h3.9V166h3.9V167h3.9V153h3.9V158h3.9V165h3.9V173h3.9V163h3.9V158h3.9V151h3.9V154h3.9V162h3.9V154h3.9V155h3.9V158h3.9V164h3.9V168h3.9V167h3.9V159h3.9V157h3.9V153h3.9V162h3.9V165h3.9V158h3.9V155h3.9V156h3.9V158h3.9V162h3.9V158h3.9V170h3.9V162h3.9V170h3.9V150h3.9V155h3.9V153h3.9V163h3.9V161h3.9V162h3.9V169h3.9V169h3.9V182h3.9V170h3.9V164h3.9V160h3.9V145h3.9V153h3.9V154h3.9V169h3.9V161h3.9V164h3.9V155h3.9V161h3.9V167h3.9V166h3.9V156h3.9V165h3.9V165h3.9V171h3.9V182h3.9V173h3.9V161h3.9V165h3.9V171h3.9V169h3.9V174h3.9V159h3.9V166h3.9V173h3.9V157h3.9V160h3.9V169h3.9V174h3.9V178h3.9V176h3.9V180h3.9V177h3.9V161h3.9V163h3.9V164h3.9V162h3.9V164h3.9V165h3.9V164h3.9V161h3.9V164h3.9V171h3.9V170h3.9V171h3.9V171h3.9V168h3.9V172h3.9V171h3.9V173h3.9V180h3.9V179h3.9V167h3.9V158h3.9V165h3.9V177h3.9V176h3.9V181h3.9V180h3.9V175h3.9V167h3.9V164h3.9V164h3.9V172h3.9V174h3.9V170h3.9V175h3.9V178h3.9V172h3.9V175h3.9V181h3.9V182h3.9V175h3.9V178h3.9V167h3.9V173h3.9V172h3.9V168h3.9V176h3.9V175h3.9V179h3.9V184h3.9V180h3.9V187h3.9V185h3.9V186h3.9V180h3.9V178h3.9V180h3.9V174h3.9V187h3.9V182h3.9V173h3.9V175h3.9V169h3.9V175h3.9V169h3.9V170h3.9V179h3.9V182h3.9V178h3.9V187h3.9V186h3.9V179h3.9V175h3.9V173h3.9V172h3.9V174h3.9V185h3.9V175h3.9V179h3.9V181h3.9V177h3.9V177h3.9V172h3.9V177h3.9V169h3.9V176h3.9V176h3.9V183h3.9V188h3.9V184h3.9V188h3.9V188h3.9V175h3.9V190h3.9V191h3.9V179h3.9V180h3.9V179h3.9V181h3.9V190h3.9V191h3.9V191h3.9V185h3.9V182h3.9V218h-3.9V244h-3.9V225h-3.9V245h-3.9V227h-3.9V228h-3.9V218h-3.9V209h-3.9V215h-3.9V212h-3.9V214h-3.9V213h-3.9V239h-3.9V231h-3.9V236h-3.9V225h-3.9V220h-3.9V222h-3.9V219h-3.9V279h-3.9V229h-3.9V221h-3.9V214h-3.9V227h-3.9V217h-3.9V229h-3.9V224h-3.9V221h-3.9V231h-3.9V219h-3.9V219h-3.9V220h-3.9V215h-3.9V214h-3.9V225h-3.9V235h-3.9V211h-3.9V211h-3.9V232h-3.9V237h-3.9V215h-3.9V214h-3.9V223h-3.9V222h-3.9V215h-3.9V227h-3.9V211h-3.9V211h-3.9V211h-3.9V209h-3.9V245h-3.9V214h-3.9V213h-3.9V225h-3.9V218h-3.9V223h-3.9V215h-3.9V212h-3.9V223h-3.9V211h-3.9V215h-3.9V210h-3.9V210h-3.9V216h-3.9V214h-3.9V210h-3.9V205h-3.9V206h-3.9V209h-3.9V207h-3.9V212h-3.9V209h-3.9V216h-3.9V209h-3.9V206h-3.9V208h-3.9V208h-3.9V216h-3.9V208h-3.9V206h-3.9V207h-3.9V207h-3.9V216h-3.9V208h-3.9V212h-3.9V210h-3.9V209h-3.9V210h-3.9V214h-3.9V207h-3.9V213h-3.9V209h-3.9V212h-3.9V208h-3.9V210h-3.9V206h-3.9V206h-3.9V207h-3.9V208h-3.9V213h-3.9V204h-3.9V207h-3.9V212h-3.9V208h-3.9V209h-3.9V212h-3.9V205h-3.9V221h-3.9V209h-3.9V209h-3.9V208h-3.9V205h-3.9V210h-3.9V209h-3.9V206h-3.9V214h-3.9V207h-3.9V210h-3.9V206h-3.9V215h-3.9V206h-3.9V205h-3.9V205h-3.9V205h-3.9V208h-3.9V210h-3.9V207h-3.9V208h-3.9V209h-3.9V208h-3.9V205h-3.9V208h-3.9V209h-3.9V206h-3.9V215h-3.9V208h-3.9V208h-3.9V205h-3.9V209h-3.9V205h-3.9V209h-3.9V207h-3.9V206h-3.9V209h-3.9V204h-3.9V202h-3.9V209h-3.9V204h-3.9V210h-3.9V205h-3.9V202h-3.9V205h-3.9V209h-3.9V202h-3.9V205h-3.9V203h-3.9V204h-3.9V208h-3.9V206h-3.9V207h-3.9V207h-3.9V204h-3.9V204h-3.9V207h-3.9V205h-3.9V206h-3.9V204h-3.9V205h-3.9V203h-3.9V205h-3.9V214h-3.9V205h-3.9V206h-3.9V207h-3.9V211h-3.9V206h-3.9V209h-3.9V204h-3.9V203h-3.9V220h-3.9V205h-3.9V207h-3.9V211h-3.9V204h-3.9V215h-3.9V206h-3.9V205h-3.9V211h-3.9V208h-3.9V203h-3.9V205h-3.9V205h-3.9V206h-3.9V207h-3.9V204h-3.9V206h-3.9V205h-3.9V202h-3.9V205h-3.9V203h-3.9V206h-3.9V209h-3.9V207h-3.9V206h-3.9V204h-3.9V202h-3.9V202h-3.9V205h-3.9V203h-3.9V206h-3.9V208h-3.9V209h-3.9V207h-3.9V204h-3.9V204h-3.9V203h-3.9V207h-3.9V206h-3.9V202h-3.9V209h-3.9V203h-3.9V207h-3.9V204h-3.9V203h-3.9V205h-3.9V203h-3.9V204h-3.9V203h-3.9V201h-3.9V203h-3.9V209h-3.9V206h-3.9V201h-3.9V204h-3.9V215h-3.9V204h-3.9V210h-3.9V203h-3.9V205h-3.9V207h-3.9V208h-3.9V203h-3.9V202h-3.9V203h-3.9V208h-3.9V206h-3.9V202h-3.9V204h-3.9V209h-3.9V205h-3.9V204h-3.9V209h-3.9V208h-3.9V212h-3.9V210h-3.9V208h-3.9V212h-3.9V205h-3.9V207h-3.9V206h-3.9V203h-3.9V204h-3.9V210h-3.9V207h-3.9V207h-3.9V215h-3.9V207h-3.9V209h-3.9V206h-3.9V218h-3.9V206h-3.9V210h-3.9V215h-3.9V206h-3.9V213h-3.9V211h-3.9V218h-3.9V211h-3.9V205h-3.9V210h-3.9V216h-3.9V205h-3.9V206h-3.9V208h-3.9V209h-3.9V208h-3.9V212h-3.9V216h-3.9V215h-3.9V217h-3.9V219h-3.9V210h-3.9V210h-3.9V213h-3.9V210h-3.9V214h-3.9V211h-3.9V209h-3.9V217h-3.9V208h-3.9V213h-3.9V213h-3.9V209h-3.9V210h-3.9V212h-3.9V211h-3.9V211h-3.9V217h-3.9V215h-3.9V228h-3.9V215h-3.9V231h-3.9V217h-3.9V220h-3.9V212h-3.9V210h-3.9V211h-3.9V215h-3.9V216h-3.9V214h-3.9V242h-3.9V218h-3.9V229h-3.9V231h-3.9V215h-3.9V217h-3.9V215h-3.9V220h-3.9V222h-3.9V223h-3.9V208h-3.9V220h-3.9V229h-3.9V217h-3.9V213h-3.9V222h-3.9V225h-3.9V216h-3.9V230h-3.9V231h-3.9V236h-3.9V222h-3.9V227h-3.9V226h-3.9V225h-3.9V220h-3.9V220h-3.9V224h-3.9V218h-3.9V228h-3.9V225h-3.9V218h-3.9V221h-3.9V225h-3.9V228h-3.9V220h-3.9V229h-3.9V228h-3.9V229h-3.9V226h-3.9V223h-3.9V213h-3.9V224h-3.9V222h-3.9V229Z"/>
</g>
<g fill="#1491ec" fill-opacity="0.044">
<path d="M171.2 341.4h3.9V432.7h-3.9zM206.2 341.4h3.9V411.7h-3.9zM214 341.4h3.9V356.3h-3.9zM276.4 341.4h3.9V399h-3.9zM299.8 341.4h3.9V513h-3.9zM311.5 341.4h3.9V348.9h-3.9zM319.3 341.4h3.9V347.8h-3.9zM366 341.4h3.9V371.6h-3.9zM377.7 341.4h3.9V468.5h-3.9zM381.6 341.4h3.9V381.3h-3.9zM432.3 341.4h3.9V363.3h-3.9zM455.7 341.4h3.9V476h-3.9zM475.2 341.4h3.9V368.1h-3.9zM502.5 341.4h3.9V469.6h-3.9zM510.3 341.4h3.9V440.8h-3.9zM525.9 341.4h3.9V400.3h-3.9zM529.8 341.4h3.9V450.9h-3.9zM545.3 341.4h3.9V360.1h-3.9zM560.9 341.4h3.9V411.1h-3.9zM564.8 341.4h3.9V358.6h-3.9zM592.1 341.4h3.9V360.4h-3.9zM596 341.4h3.9V356.9h-3.9zM607.7 341.4h3.9V388.2h-3.9zM611.6 341.4h3.9V400.6h-3.9zM619.4 341.4h3.9V368h-3.9zM627.2 341.4h3.9V352.4h-3.9zM631.1 341.4h3.9V354.3h-3.9zM646.7 341.4h3.9V407.4h-3.9zM658.4 341.4h3.9V344.5h-3.9zM662.3 341.4h3.9V375.6h-3.9zM670.1 341.4h3.9V360.2h-3.9zM674 341.4h3.9V534h-3.9zM685.7 341.4h3.9V363.1h-3.9zM689.6 341.4h3.9V384.9h-3.9zM705.2 341.4h3.9V412.1h-3.9zM724.6 341.4h3.9V360.9h-3.9zM732.4 341.4h3.9V351.9h-3.9zM736.3 341.4h3.9V461.6h-3.9zM740.2 341.4h3.9V399.1h-3.9zM744.1 341.4h3.9V357.5h-3.9zM748 341.4h3.9V441.7h-3.9zM751.9 341.4h3.9V377.9h-3.9zM759.7 341.4h3.9V400.7h-3.9zM763.6 341.4h3.9V364.9h-3.9zM767.5 341.4h3.9V357.3h-3.9zM783.1 341.4h3.9V390.2h-3.9zM787 341.4h3.9V383h-3.9zM794.8 341.4h3.9V369.3h-3.9zM798.7 341.4h3.9V385.2h-3.9zM818.2 341.4h3.9V364.7h-3.9zM822.1 341.4h3.9V369.7h-3.9zM826 341.4h3.9V369.8h-3.9zM837.7 341.4h3.9V435.9h-3.9zM841.6 341.4h3.9V367.3h-3.9zM853.3 341.4h3.9V377.9h-3.9zM865 341.4h3.9V364.6h-3.9zM868.9 341.4h3.9V362.8h-3.9zM880.6 341.4h3.9V381.5h-3.9zM884.5 341.4h3.9V346.4h-3.9zM888.3 341.4h3.9V361.7h-3.9zM892.2 341.4h3.9V369.6h-3.9zM903.9 341.4h3.9V364.8h-3.9zM907.8 341.4h3.9V364.1h-3.9zM915.6 341.4h3.9V365.7h-3.9zM927.3 341.4h3.9V369.2h-3.9zM931.2 341.4h3.9V370.9h-3.9zM939 341.4h3.9V363.3h-3.9zM946.8 341.4h3.9V372.9h-3.9zM954.6 341.4h3.9V344.4h-3.9zM958.5 341.4h3.9V376.2h-3.9zM970.2 341.4h3.9V514.2h-3.9zM974.1 341.4h3.9V419.3h-3.9zM985.8 341.4h3.9V370.2h-3.9zM1001.4 341.4h3.9V398.7h-3.9zM1013.1 341.4h3.9V413.7h-3.9zM1017 341.4h3.9V407.8h-3.9zM1020.9 341.4h3.9V378h-3.9zM1032.6 341.4h3.9V414.2h-3.9zM1040.4 341.4h3.9V563.2h-3.9zM1044.3 341.4h3.9V343.8h-3.9zM1048.2 341.4h3.9V400.8h-3.9zM1052.1 341.4h3.9V358.1h-3.9zM1063.7 341.4h3.9V378.7h-3.9zM1067.6 341.4h3.9V424.7h-3.9zM1071.5 341.4h3.9V364h-3.9zM1079.3 341.4h3.9V385.6h-3.9zM1083.2 341.4h3.9V430.4h-3.9zM1087.1 341.4h3.9V423.9h-3.9zM1094.9 341.4h3.9V352.2h-3.9zM1102.7 341.4h3.9V346.8h-3.9zM1114.4 341.4h3.9V369.6h-3.9zM1118.3 341.4h3.9V346.5h-3.9zM1122.2 341.4h3.9V485.9h-3.9zM1133.9 341.4h3.9V374.3h-3.9zM1141.7 341.4h3.9V358.6h-3.9zM1149.5 341.4h3.9V396.5h-3.9zM1157.3 341.4h3.9V347.3h-3.9zM1161.2 341.4h3.9V449.3h-3.9zM1169 341.4h3.9V533h-3.9zM1172.9 341.4h3.9V365h-3.9zM1176.8 341.4h3.9V538.6h-3.9zM1180.7 341.4h3.9V362.3h-3.9zM1188.5 341.4h3.9V423.7h-3.9zM1196.3 341.4h3.9V352.5h-3.9zM1204.1 341.4h3.9V468.8h-3.9zM1208 341.4h3.9V405.3h-3.9zM1211.9 341.4h3.9V344.6h-3.9zM1223.6 341.4h3.9V470.2h-3.9zM1227.5 341.4h3.9V391.6h-3.9zM1231.4 341.4h3.9V463.1h-3.9zM1235.3 341.4h3.9V346.6h-3.9zM1239.2 341.4h3.9V364.8h-3.9zM1246.9 341.4h3.9V571.1h-3.9zM1250.8 341.4h3.9V354.5h-3.9zM1262.5 341.4h3.9V402.7h-3.9zM1270.3 341.4h3.9V539.3h-3.9zM1282 341.4h3.9V421.6h-3.9zM1285.9 341.4h3.9V409.6h-3.9zM1297.6 341.4h3.9V382.5h-3.9zM1301.5 341.4h3.9V364.6h-3.9zM1313.2 341.4h3.9V364.8h-3.9zM1340.5 341.4h3.9V446.9h-3.9zM1356.1 341.4h3.9V346.1h-3.9zM1367.8 341.4h3.9V352.3h-3.9zM1375.6 341.4h3.9V344.7h-3.9zM1379.5 341.4h3.9V347.9h-3.9zM1426.2 341.4h3.9V376.3h-3.9zM1441.8 341.4h3.9V390.7h-3.9z"/>
<path d="M190.6 341.4h3.9V389.5h-3.9zM256.9 341.4h3.9V360h-3.9zM276.4 341.4h3.9V350.9h-3.9zM362.1 341.4h3.9V366.9h-3.9zM366 341.4h3.9V345.2h-3.9zM369.9 341.4h3.9V367.5h-3.9zM408.9 341.4h3.9V375.3h-3.9zM412.8 341.4h3.9V363.4h-3.9zM436.2 341.4h3.9V393h-3.9zM440.1 341.4h3.9V444h-3.9zM444 341.4h3.9V404.7h-3.9zM463.5 341.4h3.9V404h-3.9zM467.4 341.4h3.9V390.2h-3.9zM525.9 341.4h3.9V361.2h-3.9zM537.5 341.4h3.9V381.8h-3.9zM545.3 341.4h3.9V350h-3.9zM553.1 341.4h3.9V380h-3.9zM557 341.4h3.9V346.2h-3.9zM564.8 341.4h3.9V361.8h-3.9zM568.7 341.4h3.9V392.7h-3.9zM572.6 341.4h3.9V352.6h-3.9zM576.5 341.4h3.9V357.2h-3.9zM584.3 341.4h3.9V362.3h-3.9zM588.2 341.4h3.9V355.1h-3.9zM603.8 341.4h3.9V394.2h-3.9zM611.6 341.4h3.9V391.4h-3.9zM627.2 341.4h3.9V377h-3.9zM638.9 341.4h3.9V382.5h-3.9zM642.8 341.4h3.9V381.4h-3.9zM646.7 341.4h3.9V388.9h-3.9zM650.6 341.4h3.9V382.1h-3.9zM670.1 341.4h3.9V365.9h-3.9zM677.9 341.4h3.9V456.8h-3.9zM685.7 341.4h3.9V376.4h-3.9zM693.5 341.4h3.9V346.9h-3.9zM697.4 341.4h3.9V385.1h-3.9zM701.3 341.4h3.9V378.9h-3.9zM712.9 341.4h3.9V445.4h-3.9zM724.6 341.4h3.9V357.2h-3.9zM736.3 341.4h3.9V370.4h-3.9zM744.1 341.4h3.9V353.7h-3.9zM755.8 341.4h3.9V546.1h-3.9zM759.7 341.4h3.9V347.4h-3.9zM763.6 341.4h3.9V359.8h-3.9zM771.4 341.4h3.9V353.8h-3.9zM783.1 341.4h3.9V358.9h-3.9zM794.8 341.4h3.9V344.7h-3.9zM798.7 341.4h3.9V374.6h-3.9zM802.6 341.4h3.9V361.3h-3.9zM806.5 341.4h3.9V479.4h-3.9zM810.4 341.4h3.9V428.3h-3.9zM814.3 341.4h3.9V473.2h-3.9zM822.1 341.4h3.9V360.9h-3.9zM829.9 341.4h3.9V448.9h-3.9zM841.6 341.4h3.9V356.5h-3.9zM845.5 341.4h3.9V354.3h-3.9zM849.4 341.4h3.9V401.3h-3.9zM853.3 341.4h3.9V378.7h-3.9zM857.2 341.4h3.9V363.9h-3.9zM865 341.4h3.9V371.7h-3.9zM868.9 341.4h3.9V343.9h-3.9zM872.8 341.4h3.9V365.4h-3.9zM888.3 341.4h3.9V473.7h-3.9zM892.2 341.4h3.9V353.6h-3.9zM900 341.4h3.9V369h-3.9zM903.9 341.4h3.9V374.6h-3.9zM911.7 341.4h3.9V353h-3.9zM915.6 341.4h3.9V363.5h-3.9zM923.4 341.4h3.9V377.5h-3.9zM931.2 341.4h3.9V377h-3.9zM950.7 341.4h3.9V389h-3.9zM962.4 341.4h3.9V420h-3.9zM966.3 341.4h3.9V347.1h-3.9zM970.2 341.4h3.9V350h-3.9zM989.7 341.4h3.9V352.4h-3.9zM1005.3 341.4h3.9V415.5h-3.9zM1009.2 341.4h3.9V387.3h-3.9zM1024.8 341.4h3.9V367.6h-3.9zM1036.5 341.4h3.9V396.1h-3.9zM1040.4 341.4h3.9V373.3h-3.9zM1044.3 341.4h3.9V375.9h-3.9zM1056 341.4h3.9V452.3h-3.9zM1059.9 341.4h3.9V361.9h-3.9zM1067.6 341.4h3.9V358.5h-3.9zM1079.3 341.4h3.9V377.2h-3.9zM1087.1 341.4h3.9V384h-3.9zM1098.8 341.4h3.9V364.8h-3.9zM1102.7 341.4h3.9V381.7h-3.9zM1110.5 341.4h3.9V376.4h-3.9zM1118.3 341.4h3.9V359.5h-3.9zM1122.2 341.4h3.9V384.7h-3.9zM1126.1 341.4h3.9V371.2h-3.9zM1137.8 341.4h3.9V346.2h-3.9zM1141.7 341.4h3.9V347h-3.9zM1149.5 341.4h3.9V362.3h-3.9zM1153.4 341.4h3.9V420.1h-3.9zM1157.3 341.4h3.9V343.9h-3.9zM1165.1 341.4h3.9V371.8h-3.9zM1172.9 341.4h3.9V398.4h-3.9zM1184.6 341.4h3.9V396.7h-3.9zM1196.3 341.4h3.9V396.4h-3.9zM1200.2 341.4h3.9V371.3h-3.9zM1204.1 341.4h3.9V431.8h-3.9zM1208 341.4h3.9V414.6h-3.9zM1211.9 341.4h3.9V463.4h-3.9zM1215.8 341.4h3.9V367.8h-3.9zM1219.7 341.4h3.9V431.4h-3.9zM1235.3 341.4h3.9V375.5h-3.9zM1243 341.4h3.9V360h-3.9zM1270.3 341.4h3.9V352.8h-3.9zM1274.2 341.4h3.9V349h-3.9zM1289.8 341.4h3.9V349.5h-3.9zM1293.7 341.4h3.9V382.5h-3.9zM1340.5 341.4h3.9V360.3h-3.9zM1360 341.4h3.9V480.3h-3.9zM1371.7 341.4h3.9V465.5h-3.9zM1383.4 341.4h3.9V401h-3.9zM1422.3 341.4h3.9V345.4h-3.9zM1449.6 341.4h3.9V379.3h-3.9zM1469.1 341.4h3.9V408.3h-3.9z"/>
<path d="M108.8 341.4h3.9V399.6h-3.9zM194.5 341.4h3.9V356.4h-3.9zM221.8 341.4h3.9V371.4h-3.9zM268.6 341.4h3.9V367.7h-3.9zM292 341.4h3.9V436.7h-3.9zM295.9 341.4h3.9V408.8h-3.9zM299.8 341.4h3.9V404.9h-3.9zM327.1 341.4h3.9V385.9h-3.9zM338.8 341.4h3.9V389.2h-3.9zM342.7 341.4h3.9V348.7h-3.9zM346.6 341.4h3.9V372.4h-3.9zM401.1 341.4h3.9V380.9h-3.9zM405 341.4h3.9V361.4h-3.9zM420.6 341.4h3.9V449.8h-3.9zM455.7 341.4h3.9V435.4h-3.9zM459.6 341.4h3.9V344.2h-3.9zM479.1 341.4h3.9V346.3h-3.9zM486.9 341.4h3.9V383.8h-3.9zM510.3 341.4h3.9V350.3h-3.9zM529.8 341.4h3.9V376.8h-3.9zM549.2 341.4h3.9V411.5h-3.9zM553.1 341.4h3.9V365.6h-3.9zM560.9 341.4h3.9V399.7h-3.9zM580.4 341.4h3.9V419.1h-3.9zM588.2 341.4h3.9V371.5h-3.9zM596 341.4h3.9V359.7h-3.9zM603.8 341.4h3.9V351h-3.9zM611.6 341.4h3.9V399.3h-3.9zM615.5 341.4h3.9V377.6h-3.9zM623.3 341.4h3.9V360.1h-3.9zM627.2 341.4h3.9V362.2h-3.9zM638.9 341.4h3.9V344h-3.9zM642.8 341.4h3.9V359h-3.9zM646.7 341.4h3.9V361.5h-3.9zM650.6 341.4h3.9V509.5h-3.9zM654.5 341.4h3.9V349.3h-3.9zM658.4 341.4h3.9V391h-3.9zM662.3 341.4h3.9V450.6h-3.9zM666.2 341.4h3.9V362.3h-3.9zM674 341.4h3.9V350h-3.9zM681.8 341.4h3.9V353.7h-3.9zM693.5 341.4h3.9V392.8h-3.9zM697.4 341.4h3.9V378.4h-3.9zM712.9 341.4h3.9V416.9h-3.9zM716.8 341.4h3.9V376.1h-3.9zM724.6 341.4h3.9V397.1h-3.9zM728.5 341.4h3.9V434.4h-3.9zM732.4 341.4h3.9V356.6h-3.9zM736.3 341.4h3.9V381.6h-3.9zM740.2 341.4h3.9V356.9h-3.9zM751.9 341.4h3.9V348.8h-3.9zM755.8 341.4h3.9V353.4h-3.9zM759.7 341.4h3.9V375.4h-3.9zM763.6 341.4h3.9V551.2h-3.9zM767.5 341.4h3.9V446.5h-3.9zM783.1 341.4h3.9V348.5h-3.9zM790.9 341.4h3.9V349.4h-3.9zM814.3 341.4h3.9V370.2h-3.9zM818.2 341.4h3.9V360.8h-3.9zM822.1 341.4h3.9V383.2h-3.9zM826 341.4h3.9V353.7h-3.9zM849.4 341.4h3.9V413.2h-3.9zM853.3 341.4h3.9V378h-3.9zM861.1 341.4h3.9V351h-3.9zM865 341.4h3.9V346.8h-3.9zM868.9 341.4h3.9V372.7h-3.9zM872.8 341.4h3.9V360.4h-3.9zM876.7 341.4h3.9V362.9h-3.9zM892.2 341.4h3.9V376.8h-3.9zM896.1 341.4h3.9V346.7h-3.9zM903.9 341.4h3.9V418h-3.9zM911.7 341.4h3.9V359.1h-3.9zM923.4 341.4h3.9V355.1h-3.9zM927.3 341.4h3.9V381.9h-3.9zM935.1 341.4h3.9V349.3h-3.9zM939 341.4h3.9V386h-3.9zM946.8 341.4h3.9V401.2h-3.9zM958.5 341.4h3.9V354.3h-3.9zM970.2 341.4h3.9V407.5h-3.9zM985.8 341.4h3.9V379.8h-3.9zM1001.4 341.4h3.9V490.8h-3.9zM1005.3 341.4h3.9V424.9h-3.9zM1009.2 341.4h3.9V343.8h-3.9zM1013.1 341.4h3.9V345.6h-3.9zM1028.7 341.4h3.9V396.8h-3.9zM1032.6 341.4h3.9V357.3h-3.9zM1040.4 341.4h3.9V359.1h-3.9zM1044.3 341.4h3.9V361.1h-3.9zM1048.2 341.4h3.9V387.8h-3.9zM1052.1 341.4h3.9V344.4h-3.9zM1056 341.4h3.9V454.2h-3.9zM1063.7 341.4h3.9V390.9h-3.9zM1067.6 341.4h3.9V346.6h-3.9zM1071.5 341.4h3.9V360.2h-3.9zM1075.4 341.4h3.9V506.5h-3.9zM1079.3 341.4h3.9V413.6h-3.9zM1083.2 341.4h3.9V440.4h-3.9zM1094.9 341.4h3.9V448.7h-3.9zM1098.8 341.4h3.9V367.9h-3.9zM1102.7 341.4h3.9V360.8h-3.9zM1114.4 341.4h3.9V408.4h-3.9zM1118.3 341.4h3.9V582.8h-3.9zM1122.2 341.4h3.9V347.2h-3.9zM1126.1 341.4h3.9V458.7h-3.9zM1145.6 341.4h3.9V579.5h-3.9zM1149.5 341.4h3.9V354.6h-3.9zM1153.4 341.4h3.9V356.7h-3.9zM1157.3 341.4h3.9V440.1h-3.9zM1161.2 341.4h3.9V404h-3.9zM1184.6 341.4h3.9V403.8h-3.9zM1200.2 341.4h3.9V349.2h-3.9zM1204.1 341.4h3.9V412.5h-3.9zM1215.8 341.4h3.9V590.1h-3.9zM1219.7 341.4h3.9V365.4h-3.9zM1227.5 341.4h3.9V391.9h-3.9zM1231.4 341.4h3.9V368.8h-3.9zM1235.3 341.4h3.9V527h-3.9zM1243 341.4h3.9V448.1h-3.9zM1250.8 341.4h3.9V396.9h-3.9zM1258.6 341.4h3.9V349.3h-3.9zM1262.5 341.4h3.9V385.3h-3.9zM1270.3 341.4h3.9V355.5h-3.9zM1274.2 341.4h3.9V428.2h-3.9zM1278.1 341.4h3.9V369.7h-3.9zM1282 341.4h3.9V414.5h-3.9zM1289.8 341.4h3.9V372.4h-3.9zM1297.6 341.4h3.9V374h-3.9zM1336.6 341.4h3.9V369.6h-3.9zM1344.4 341.4h3.9V360.2h-3.9zM1356.1 341.4h3.9V359.8h-3.9zM1367.8 341.4h3.9V364.6h-3.9zM1391.2 341.4h3.9V350.6h-3.9zM1434 341.4h3.9V344.8h-3.9zM1473 341.4h3.9V363.6h-3.9z"/>
<path d="M124.4 341.4h3.9V371.6h-3.9zM233.5 341.4h3.9V349h-3.9zM315.4 341.4h3.9V402.5h-3.9zM334.9 341.4h3.9V345.7h-3.9zM358.2 341.4h3.9V392.2h-3.9zM397.2 341.4h3.9V347.6h-3.9zM401.1 341.4h3.9V387.2h-3.9zM405 341.4h3.9V412h-3.9zM408.9 341.4h3.9V419h-3.9zM479.1 341.4h3.9V349.5h-3.9zM490.8 341.4h3.9V401.3h-3.9zM506.4 341.4h3.9V352h-3.9zM522 341.4h3.9V499.6h-3.9zM529.8 341.4h3.9V410.3h-3.9zM537.5 341.4h3.9V364.7h-3.9zM545.3 341.4h3.9V379.4h-3.9zM564.8 341.4h3.9V435.2h-3.9zM568.7 341.4h3.9V543.1h-3.9zM572.6 341.4h3.9V344.7h-3.9zM576.5 341.4h3.9V370.6h-3.9zM599.9 341.4h3.9V388.4h-3.9zM603.8 341.4h3.9V351.5h-3.9zM611.6 341.4h3.9V348.1h-3.9zM623.3 341.4h3.9V382h-3.9zM631.1 341.4h3.9V359.1h-3.9zM635 341.4h3.9V415.5h-3.9zM638.9 341.4h3.9V377h-3.9zM650.6 341.4h3.9V375.5h-3.9zM654.5 341.4h3.9V364.8h-3.9zM658.4 341.4h3.9V396h-3.9zM670.1 341.4h3.9V351.8h-3.9zM677.9 341.4h3.9V349.1h-3.9zM681.8 341.4h3.9V352.7h-3.9zM689.6 341.4h3.9V347.7h-3.9zM705.2 341.4h3.9V416.7h-3.9zM709 341.4h3.9V388.9h-3.9zM724.6 341.4h3.9V448.3h-3.9zM732.4 341.4h3.9V374.3h-3.9zM744.1 341.4h3.9V355.5h-3.9zM755.8 341.4h3.9V374.3h-3.9zM763.6 341.4h3.9V382.3h-3.9zM783.1 341.4h3.9V437.9h-3.9zM787 341.4h3.9V391.2h-3.9zM790.9 341.4h3.9V372.5h-3.9zM794.8 341.4h3.9V392.7h-3.9zM826 341.4h3.9V359h-3.9zM833.8 341.4h3.9V386.1h-3.9zM841.6 341.4h3.9V371.1h-3.9zM845.5 341.4h3.9V356.8h-3.9zM865 341.4h3.9V388.6h-3.9zM876.7 341.4h3.9V401.5h-3.9zM880.6 341.4h3.9V429.3h-3.9zM903.9 341.4h3.9V353.6h-3.9zM919.5 341.4h3.9V393.6h-3.9zM923.4 341.4h3.9V360.1h-3.9zM927.3 341.4h3.9V385.6h-3.9zM939 341.4h3.9V363.9h-3.9zM946.8 341.4h3.9V356h-3.9zM962.4 341.4h3.9V517.6h-3.9zM981.9 341.4h3.9V359.5h-3.9zM997.5 341.4h3.9V385.8h-3.9zM1001.4 341.4h3.9V357.1h-3.9zM1009.2 341.4h3.9V413h-3.9zM1013.1 341.4h3.9V521h-3.9zM1040.4 341.4h3.9V397.6h-3.9zM1048.2 341.4h3.9V356.1h-3.9zM1059.9 341.4h3.9V394.7h-3.9zM1063.7 341.4h3.9V415h-3.9zM1071.5 341.4h3.9V406.5h-3.9zM1079.3 341.4h3.9V415.4h-3.9zM1083.2 341.4h3.9V375.1h-3.9zM1087.1 341.4h3.9V398.1h-3.9zM1098.8 341.4h3.9V349.3h-3.9zM1106.6 341.4h3.9V409.7h-3.9zM1114.4 341.4h3.9V366.5h-3.9zM1118.3 341.4h3.9V360.1h-3.9zM1122.2 341.4h3.9V385h-3.9zM1137.8 341.4h3.9V348.8h-3.9zM1141.7 341.4h3.9V357.7h-3.9zM1149.5 341.4h3.9V364.6h-3.9zM1153.4 341.4h3.9V398.1h-3.9zM1157.3 341.4h3.9V379.5h-3.9zM1176.8 341.4h3.9V461.7h-3.9zM1184.6 341.4h3.9V444.9h-3.9zM1188.5 341.4h3.9V449h-3.9zM1200.2 341.4h3.9V369.7h-3.9zM1204.1 341.4h3.9V362.5h-3.9zM1208 341.4h3.9V432.9h-3.9zM1219.7 341.4h3.9V513.1h-3.9zM1223.6 341.4h3.9V413.1h-3.9zM1235.3 341.4h3.9V611.3h-3.9zM1239.2 341.4h3.9V349.7h-3.9zM1243 341.4h3.9V449.6h-3.9zM1254.7 341.4h3.9V546.7h-3.9zM1266.4 341.4h3.9V405h-3.9zM1297.6 341.4h3.9V373.5h-3.9zM1305.4 341.4h3.9V347.6h-3.9zM1309.3 341.4h3.9V365.4h-3.9zM1332.7 341.4h3.9V377.4h-3.9zM1367.8 341.4h3.9V393.3h-3.9zM1371.7 341.4h3.9V360.3h-3.9zM1379.5 341.4h3.9V356.8h-3.9zM1395.1 341.4h3.9V426.5h-3.9zM1402.9 341.4h3.9V369.6h-3.9zM1453.5 341.4h3.9V425.2h-3.9zM1476.9 341.4h3.9V416h-3.9zM1496.4 341.4h3.9V483h-3.9z"/>
<path d="M124.4 341.4h3.9V365h-3.9zM140 341.4h3.9V344.8h-3.9zM190.6 341.4h3.9V402.4h-3.9zM237.4 341.4h3.9V358.6h-3.9zM264.7 341.4h3.9V375.9h-3.9zM268.6 341.4h3.9V387.3h-3.9zM288.1 341.4h3.9V370.2h-3.9zM315.4 341.4h3.9V355.7h-3.9zM327.1 341.4h3.9V347.5h-3.9zM366 341.4h3.9V353.5h-3.9zM369.9 341.4h3.9V505.9h-3.9zM408.9 341.4h3.9V347.7h-3.9zM444 341.4h3.9V369.3h-3.9zM455.7 341.4h3.9V346.1h-3.9zM467.4 341.4h3.9V407.3h-3.9zM475.2 341.4h3.9V362.6h-3.9zM479.1 341.4h3.9V355.7h-3.9zM490.8 341.4h3.9V387.5h-3.9zM494.7 341.4h3.9V379h-3.9zM502.5 341.4h3.9V365.8h-3.9zM506.4 341.4h3.9V347.5h-3.9zM533.6 341.4h3.9V367.3h-3.9zM537.5 341.4h3.9V385.9h-3.9zM545.3 341.4h3.9V463.4h-3.9zM549.2 341.4h3.9V351.1h-3.9zM553.1 341.4h3.9V364.6h-3.9zM564.8 341.4h3.9V427.1h-3.9zM596 341.4h3.9V392.1h-3.9zM607.7 341.4h3.9V445.3h-3.9zM623.3 341.4h3.9V373.5h-3.9zM642.8 341.4h3.9V344h-3.9zM654.5 341.4h3.9V362.4h-3.9zM674 341.4h3.9V374.4h-3.9zM677.9 341.4h3.9V462.4h-3.9zM693.5 341.4h3.9V529.1h-3.9zM701.3 341.4h3.9V366.5h-3.9zM709 341.4h3.9V389.7h-3.9zM712.9 341.4h3.9V401.4h-3.9zM724.6 341.4h3.9V425h-3.9zM728.5 341.4h3.9V383.6h-3.9zM732.4 341.4h3.9V347.9h-3.9zM740.2 341.4h3.9V397.9h-3.9zM744.1 341.4h3.9V377.8h-3.9zM751.9 341.4h3.9V388.8h-3.9zM755.8 341.4h3.9V421h-3.9zM767.5 341.4h3.9V344.6h-3.9zM771.4 341.4h3.9V357.4h-3.9zM775.3 341.4h3.9V349.3h-3.9zM783.1 341.4h3.9V485.2h-3.9zM798.7 341.4h3.9V351.9h-3.9zM814.3 341.4h3.9V361.1h-3.9zM818.2 341.4h3.9V356.5h-3.9zM822.1 341.4h3.9V374.2h-3.9zM829.9 341.4h3.9V450.4h-3.9zM833.8 341.4h3.9V394.3h-3.9zM837.7 341.4h3.9V357.3h-3.9zM845.5 341.4h3.9V347h-3.9zM876.7 341.4h3.9V353.9h-3.9zM892.2 341.4h3.9V396.6h-3.9zM896.1 341.4h3.9V369.5h-3.9zM900 341.4h3.9V403h-3.9zM907.8 341.4h3.9V360.9h-3.9zM915.6 341.4h3.9V387.8h-3.9zM923.4 341.4h3.9V401.4h-3.9zM927.3 341.4h3.9V400.7h-3.9zM946.8 341.4h3.9V611.3h-3.9zM950.7 341.4h3.9V346h-3.9zM958.5 341.4h3.9V408.6h-3.9zM962.4 341.4h3.9V369.1h-3.9zM974.1 341.4h3.9V409.5h-3.9zM978 341.4h3.9V393.3h-3.9zM985.8 341.4h3.9V347.7h-3.9zM989.7 341.4h3.9V384.6h-3.9zM997.5 341.4h3.9V356.7h-3.9zM1005.3 341.4h3.9V359.9h-3.9zM1013.1 341.4h3.9V347.4h-3.9zM1017 341.4h3.9V348.2h-3.9zM1024.8 341.4h3.9V409.5h-3.9zM1036.5 341.4h3.9V343.6h-3.9zM1048.2 341.4h3.9V347.6h-3.9zM1052.1 341.4h3.9V421.4h-3.9zM1059.9 341.4h3.9V415.4h-3.9zM1067.6 341.4h3.9V381.2h-3.9zM1071.5 341.4h3.9V353.2h-3.9zM1075.4 341.4h3.9V378.1h-3.9zM1083.2 341.4h3.9V365.2h-3.9zM1094.9 341.4h3.9V347.6h-3.9zM1102.7 341.4h3.9V422.2h-3.9zM1106.6 341.4h3.9V409.4h-3.9zM1110.5 341.4h3.9V398.9h-3.9zM1114.4 341.4h3.9V385.8h-3.9zM1118.3 341.4h3.9V399.9h-3.9zM1130 341.4h3.9V405.3h-3.9zM1133.9 341.4h3.9V405h-3.9zM1137.8 341.4h3.9V351.8h-3.9zM1145.6 341.4h3.9V347.5h-3.9zM1153.4 341.4h3.9V484.7h-3.9zM1157.3 341.4h3.9V348.6h-3.9zM1161.2 341.4h3.9V491.7h-3.9zM1165.1 341.4h3.9V356h-3.9zM1169 341.4h3.9V381.1h-3.9zM1172.9 341.4h3.9V457.9h-3.9zM1180.7 341.4h3.9V367.1h-3.9zM1188.5 341.4h3.9V403.5h-3.9zM1192.4 341.4h3.9V391.8h-3.9zM1196.3 341.4h3.9V435.3h-3.9zM1200.2 341.4h3.9V361.6h-3.9zM1204.1 341.4h3.9V422.7h-3.9zM1208 341.4h3.9V395.1h-3.9zM1211.9 341.4h3.9V370.4h-3.9zM1215.8 341.4h3.9V354.2h-3.9zM1219.7 341.4h3.9V406.1h-3.9zM1223.6 341.4h3.9V389.2h-3.9zM1231.4 341.4h3.9V380.1h-3.9zM1239.2 341.4h3.9V357.9h-3.9zM1246.9 341.4h3.9V435h-3.9zM1250.8 341.4h3.9V453.7h-3.9zM1274.2 341.4h3.9V414.7h-3.9zM1289.8 341.4h3.9V366.1h-3.9zM1293.7 341.4h3.9V373.9h-3.9zM1297.6 341.4h3.9V355h-3.9zM1301.5 341.4h3.9V385.5h-3.9zM1313.2 341.4h3.9V441.3h-3.9zM1321 341.4h3.9V346.3h-3.9zM1324.9 341.4h3.9V355.9h-3.9zM1336.6 341.4h3.9V406.6h-3.9zM1360 341.4h3.9V382.1h-3.9zM1371.7 341.4h3.9V368.5h-3.9zM1399 341.4h3.9V398.1h-3.9z"/>
<path d="M89.3 341.4h3.9V361.3h-3.9zM120.5 341.4h3.9V365.8h-3.9zM225.7 341.4h3.9V355.4h-3.9zM288.1 341.4h3.9V374.7h-3.9zM299.8 341.4h3.9V362.5h-3.9zM334.9 341.4h3.9V393.7h-3.9zM350.5 341.4h3.9V376.7h-3.9zM354.3 341.4h3.9V345.9h-3.9zM397.2 341.4h3.9V344.2h-3.9zM440.1 341.4h3.9V353.3h-3.9zM444 341.4h3.9V353.6h-3.9zM451.8 341.4h3.9V353.4h-3.9zM467.4 341.4h3.9V354.4h-3.9zM486.9 341.4h3.9V425.5h-3.9zM494.7 341.4h3.9V354.3h-3.9zM510.3 341.4h3.9V352.6h-3.9zM518.1 341.4h3.9V382.3h-3.9zM545.3 341.4h3.9V406.1h-3.9zM576.5 341.4h3.9V352.6h-3.9zM588.2 341.4h3.9V355.2h-3.9zM592.1 341.4h3.9V410.2h-3.9zM596 341.4h3.9V368.8h-3.9zM599.9 341.4h3.9V416.5h-3.9zM615.5 341.4h3.9V385.4h-3.9zM623.3 341.4h3.9V382.3h-3.9zM627.2 341.4h3.9V516.6h-3.9zM631.1 341.4h3.9V386.2h-3.9zM642.8 341.4h3.9V431.5h-3.9zM646.7 341.4h3.9V388.1h-3.9zM650.6 341.4h3.9V434h-3.9zM654.5 341.4h3.9V374.1h-3.9zM658.4 341.4h3.9V390.5h-3.9zM662.3 341.4h3.9V467h-3.9zM681.8 341.4h3.9V476.1h-3.9zM685.7 341.4h3.9V416.7h-3.9zM689.6 341.4h3.9V350.7h-3.9zM693.5 341.4h3.9V367.4h-3.9zM697.4 341.4h3.9V381.9h-3.9zM709 341.4h3.9V351.3h-3.9zM716.8 341.4h3.9V363.2h-3.9zM724.6 341.4h3.9V355.9h-3.9zM728.5 341.4h3.9V377.9h-3.9zM736.3 341.4h3.9V406.8h-3.9zM740.2 341.4h3.9V361.3h-3.9zM751.9 341.4h3.9V343.5h-3.9zM755.8 341.4h3.9V357.8h-3.9zM775.3 341.4h3.9V353h-3.9zM798.7 341.4h3.9V451.3h-3.9zM802.6 341.4h3.9V386.4h-3.9zM806.5 341.4h3.9V422.6h-3.9zM810.4 341.4h3.9V356.3h-3.9zM818.2 341.4h3.9V508.6h-3.9zM829.9 341.4h3.9V414.1h-3.9zM841.6 341.4h3.9V354.3h-3.9zM845.5 341.4h3.9V419.6h-3.9zM849.4 341.4h3.9V351.3h-3.9zM880.6 341.4h3.9V363.7h-3.9zM884.5 341.4h3.9V437.5h-3.9zM888.3 341.4h3.9V350.1h-3.9zM892.2 341.4h3.9V376.1h-3.9zM896.1 341.4h3.9V369.8h-3.9zM903.9 341.4h3.9V356.8h-3.9zM919.5 341.4h3.9V381.3h-3.9zM931.2 341.4h3.9V384.5h-3.9zM939 341.4h3.9V395.3h-3.9zM962.4 341.4h3.9V363h-3.9zM978 341.4h3.9V425.8h-3.9zM981.9 341.4h3.9V354.5h-3.9zM985.8 341.4h3.9V379.7h-3.9zM989.7 341.4h3.9V398h-3.9zM993.6 341.4h3.9V440h-3.9zM997.5 341.4h3.9V365.5h-3.9zM1005.3 341.4h3.9V434.5h-3.9zM1009.2 341.4h3.9V345.2h-3.9zM1020.9 341.4h3.9V473.3h-3.9zM1024.8 341.4h3.9V389.3h-3.9zM1036.5 341.4h3.9V373.7h-3.9zM1044.3 341.4h3.9V371.5h-3.9zM1052.1 341.4h3.9V370.6h-3.9zM1059.9 341.4h3.9V357.2h-3.9zM1063.7 341.4h3.9V485h-3.9zM1071.5 341.4h3.9V429.4h-3.9zM1075.4 341.4h3.9V359.5h-3.9zM1079.3 341.4h3.9V533.6h-3.9zM1087.1 341.4h3.9V362.3h-3.9zM1091 341.4h3.9V363.2h-3.9zM1098.8 341.4h3.9V371.6h-3.9zM1102.7 341.4h3.9V543.6h-3.9zM1106.6 341.4h3.9V413.7h-3.9zM1114.4 341.4h3.9V452.6h-3.9zM1122.2 341.4h3.9V403.2h-3.9zM1130 341.4h3.9V368.4h-3.9zM1145.6 341.4h3.9V384.1h-3.9zM1149.5 341.4h3.9V420.6h-3.9zM1153.4 341.4h3.9V350.3h-3.9zM1161.2 341.4h3.9V355.8h-3.9zM1172.9 341.4h3.9V419.9h-3.9zM1176.8 341.4h3.9V456.5h-3.9zM1180.7 341.4h3.9V415.5h-3.9zM1188.5 341.4h3.9V433h-3.9zM1192.4 341.4h3.9V347.8h-3.9zM1204.1 341.4h3.9V513.6h-3.9zM1215.8 341.4h3.9V541.6h-3.9zM1219.7 341.4h3.9V447.6h-3.9zM1223.6 341.4h3.9V391.6h-3.9zM1227.5 341.4h3.9V403.4h-3.9zM1231.4 341.4h3.9V398.6h-3.9zM1235.3 341.4h3.9V365.6h-3.9zM1243 341.4h3.9V498.1h-3.9zM1250.8 341.4h3.9V378.2h-3.9zM1270.3 341.4h3.9V364.6h-3.9zM1278.1 341.4h3.9V483.2h-3.9zM1289.8 341.4h3.9V365.7h-3.9zM1309.3 341.4h3.9V357.8h-3.9zM1313.2 341.4h3.9V349.5h-3.9zM1324.9 341.4h3.9V486.5h-3.9zM1344.4 341.4h3.9V375.4h-3.9zM1348.3 341.4h3.9V360.5h-3.9zM1352.2 341.4h3.9V472.9h-3.9zM1367.8 341.4h3.9V358.7h-3.9zM1371.7 341.4h3.9V373.6h-3.9zM1426.2 341.4h3.9V437.4h-3.9zM1441.8 341.4h3.9V352.1h-3.9z"/>
<path d="M93.2 341.4h3.9V440.3h-3.9zM155.6 341.4h3.9V354.2h-3.9zM159.5 341.4h3.9V399.8h-3.9zM299.8 341.4h3.9V422.9h-3.9zM307.6 341.4h3.9V363.4h-3.9zM323.2 341.4h3.9V402.7h-3.9zM338.8 341.4h3.9V364.8h-3.9zM408.9 341.4h3.9V364.7h-3.9zM463.5 341.4h3.9V348.7h-3.9zM467.4 341.4h3.9V369.9h-3.9zM510.3 341.4h3.9V522.2h-3.9zM518.1 341.4h3.9V457.1h-3.9zM529.8 341.4h3.9V413.3h-3.9zM545.3 341.4h3.9V355.2h-3.9zM560.9 341.4h3.9V353h-3.9zM564.8 341.4h3.9V391.3h-3.9zM568.7 341.4h3.9V361.7h-3.9zM572.6 341.4h3.9V349.4h-3.9zM588.2 341.4h3.9V344.9h-3.9zM592.1 341.4h3.9V358h-3.9zM596 341.4h3.9V372.2h-3.9zM615.5 341.4h3.9V453.2h-3.9zM623.3 341.4h3.9V345.6h-3.9zM635 341.4h3.9V403h-3.9zM646.7 341.4h3.9V368.1h-3.9zM654.5 341.4h3.9V384h-3.9zM670.1 341.4h3.9V414.9h-3.9zM674 341.4h3.9V355.3h-3.9zM685.7 341.4h3.9V420.7h-3.9zM689.6 341.4h3.9V380.3h-3.9zM693.5 341.4h3.9V397.7h-3.9zM697.4 341.4h3.9V395h-3.9zM701.3 341.4h3.9V358h-3.9zM709 341.4h3.9V347.8h-3.9zM712.9 341.4h3.9V467.6h-3.9zM724.6 341.4h3.9V379.3h-3.9zM744.1 341.4h3.9V363h-3.9zM763.6 341.4h3.9V349.8h-3.9zM775.3 341.4h3.9V402.8h-3.9zM779.2 341.4h3.9V372.3h-3.9zM783.1 341.4h3.9V366.1h-3.9zM787 341.4h3.9V513.8h-3.9zM802.6 341.4h3.9V382h-3.9zM814.3 341.4h3.9V353.4h-3.9zM822.1 341.4h3.9V376.5h-3.9zM826 341.4h3.9V351.5h-3.9zM833.8 341.4h3.9V355.8h-3.9zM837.7 341.4h3.9V348.4h-3.9zM853.3 341.4h3.9V356.2h-3.9zM857.2 341.4h3.9V401.4h-3.9zM865 341.4h3.9V371.1h-3.9zM868.9 341.4h3.9V389.7h-3.9zM880.6 341.4h3.9V351.2h-3.9zM884.5 341.4h3.9V434.9h-3.9zM888.3 341.4h3.9V396.2h-3.9zM892.2 341.4h3.9V403.4h-3.9zM896.1 341.4h3.9V359.7h-3.9zM903.9 341.4h3.9V393.7h-3.9zM915.6 341.4h3.9V399.5h-3.9zM927.3 341.4h3.9V357.7h-3.9zM935.1 341.4h3.9V354.6h-3.9zM950.7 341.4h3.9V358.4h-3.9zM962.4 341.4h3.9V346.8h-3.9zM966.3 341.4h3.9V353.9h-3.9zM974.1 341.4h3.9V379.8h-3.9zM978 341.4h3.9V429.1h-3.9zM985.8 341.4h3.9V443h-3.9zM993.6 341.4h3.9V408.2h-3.9zM1001.4 341.4h3.9V381.9h-3.9zM1005.3 341.4h3.9V349.4h-3.9zM1013.1 341.4h3.9V358.9h-3.9zM1017 341.4h3.9V344.9h-3.9zM1020.9 341.4h3.9V371.8h-3.9zM1028.7 341.4h3.9V384.1h-3.9zM1032.6 341.4h3.9V348.5h-3.9zM1052.1 341.4h3.9V353.8h-3.9zM1056 341.4h3.9V364.8h-3.9zM1059.9 341.4h3.9V374.7h-3.9zM1063.7 341.4h3.9V460.6h-3.9zM1071.5 341.4h3.9V545.9h-3.9zM1075.4 341.4h3.9V362.3h-3.9zM1083.2 341.4h3.9V414.2h-3.9zM1094.9 341.4h3.9V374.1h-3.9zM1102.7 341.4h3.9V367.7h-3.9zM1106.6 341.4h3.9V495.2h-3.9zM1110.5 341.4h3.9V386.5h-3.9zM1118.3 341.4h3.9V356.8h-3.9zM1122.2 341.4h3.9V350.7h-3.9zM1133.9 341.4h3.9V374.1h-3.9zM1153.4 341.4h3.9V384.7h-3.9zM1157.3 341.4h3.9V357.2h-3.9zM1169 341.4h3.9V348.1h-3.9zM1172.9 341.4h3.9V403.1h-3.9zM1180.7 341.4h3.9V457.2h-3.9zM1196.3 341.4h3.9V410.1h-3.9zM1200.2 341.4h3.9V358.5h-3.9zM1227.5 341.4h3.9V353.8h-3.9zM1235.3 341.4h3.9V565.8h-3.9zM1239.2 341.4h3.9V379.9h-3.9zM1243 341.4h3.9V363.5h-3.9zM1250.8 341.4h3.9V384.9h-3.9zM1258.6 341.4h3.9V599.2h-3.9zM1262.5 341.4h3.9V611.3h-3.9zM1274.2 341.4h3.9V440.3h-3.9zM1278.1 341.4h3.9V346.2h-3.9zM1282 341.4h3.9V390.6h-3.9zM1289.8 341.4h3.9V381.6h-3.9zM1324.9 341.4h3.9V484.5h-3.9zM1344.4 341.4h3.9V432.9h-3.9zM1363.9 341.4h3.9V508.3h-3.9zM1367.8 341.4h3.9V388h-3.9zM1383.4 341.4h3.9V389.7h-3.9zM1391.2 341.4h3.9V449.3h-3.9zM1402.9 341.4h3.9V372.8h-3.9z"/>
<path d="M116.6 341.4h3.9V361.5h-3.9zM229.6 341.4h3.9V439.4h-3.9zM233.5 341.4h3.9V382.5h-3.9zM295.9 341.4h3.9V350.3h-3.9zM342.7 341.4h3.9V435.1h-3.9zM350.5 341.4h3.9V478.4h-3.9zM358.2 341.4h3.9V358.4h-3.9zM393.3 341.4h3.9V389.5h-3.9zM408.9 341.4h3.9V363.1h-3.9zM416.7 341.4h3.9V438.4h-3.9zM440.1 341.4h3.9V444.8h-3.9zM467.4 341.4h3.9V423.5h-3.9zM479.1 341.4h3.9V404.7h-3.9zM494.7 341.4h3.9V478.2h-3.9zM518.1 341.4h3.9V362.2h-3.9zM545.3 341.4h3.9V516.1h-3.9zM549.2 341.4h3.9V347.5h-3.9zM557 341.4h3.9V352.6h-3.9zM564.8 341.4h3.9V509.6h-3.9zM576.5 341.4h3.9V384h-3.9zM588.2 341.4h3.9V408.7h-3.9zM599.9 341.4h3.9V394.7h-3.9zM603.8 341.4h3.9V495.1h-3.9zM611.6 341.4h3.9V455.4h-3.9zM619.4 341.4h3.9V355.7h-3.9zM631.1 341.4h3.9V366.6h-3.9zM638.9 341.4h3.9V420.9h-3.9zM642.8 341.4h3.9V366.1h-3.9zM654.5 341.4h3.9V473h-3.9zM674 341.4h3.9V383.7h-3.9zM681.8 341.4h3.9V364.4h-3.9zM697.4 341.4h3.9V354.2h-3.9zM705.2 341.4h3.9V389.8h-3.9zM709 341.4h3.9V370.6h-3.9zM716.8 341.4h3.9V361h-3.9zM740.2 341.4h3.9V418.6h-3.9zM744.1 341.4h3.9V412h-3.9zM755.8 341.4h3.9V418h-3.9zM759.7 341.4h3.9V419h-3.9zM771.4 341.4h3.9V347.1h-3.9zM779.2 341.4h3.9V346.2h-3.9zM787 341.4h3.9V442.9h-3.9zM794.8 341.4h3.9V354.2h-3.9zM802.6 341.4h3.9V350.9h-3.9zM806.5 341.4h3.9V363.4h-3.9zM810.4 341.4h3.9V379.7h-3.9zM818.2 341.4h3.9V386.5h-3.9zM822.1 341.4h3.9V388.2h-3.9zM829.9 341.4h3.9V355h-3.9zM837.7 341.4h3.9V567.5h-3.9zM841.6 341.4h3.9V373.4h-3.9zM853.3 341.4h3.9V377.2h-3.9zM880.6 341.4h3.9V382.3h-3.9zM892.2 341.4h3.9V359.6h-3.9zM896.1 341.4h3.9V385.8h-3.9zM900 341.4h3.9V354.3h-3.9zM903.9 341.4h3.9V350.5h-3.9zM915.6 341.4h3.9V352.9h-3.9zM919.5 341.4h3.9V443.6h-3.9zM935.1 341.4h3.9V387.9h-3.9zM942.9 341.4h3.9V446.8h-3.9zM950.7 341.4h3.9V402.5h-3.9zM958.5 341.4h3.9V368.4h-3.9zM962.4 341.4h3.9V348.2h-3.9zM966.3 341.4h3.9V373.2h-3.9zM970.2 341.4h3.9V346.6h-3.9zM974.1 341.4h3.9V366.9h-3.9zM981.9 341.4h3.9V366.5h-3.9zM985.8 341.4h3.9V414.5h-3.9zM989.7 341.4h3.9V346h-3.9zM993.6 341.4h3.9V468.3h-3.9zM1001.4 341.4h3.9V424.9h-3.9zM1013.1 341.4h3.9V350.1h-3.9zM1028.7 341.4h3.9V415.5h-3.9zM1036.5 341.4h3.9V351.3h-3.9zM1040.4 341.4h3.9V357.7h-3.9zM1044.3 341.4h3.9V387.8h-3.9zM1048.2 341.4h3.9V392.5h-3.9zM1052.1 341.4h3.9V395.7h-3.9zM1056 341.4h3.9V369.4h-3.9zM1059.9 341.4h3.9V348.6h-3.9zM1063.7 341.4h3.9V381.7h-3.9zM1071.5 341.4h3.9V416.1h-3.9zM1075.4 341.4h3.9V369.8h-3.9zM1083.2 341.4h3.9V483.1h-3.9zM1087.1 341.4h3.9V420.3h-3.9zM1091 341.4h3.9V391.4h-3.9zM1094.9 341.4h3.9V450.4h-3.9zM1102.7 341.4h3.9V360.9h-3.9zM1106.6 341.4h3.9V390h-3.9zM1114.4 341.4h3.9V346.5h-3.9zM1118.3 341.4h3.9V383.7h-3.9zM1133.9 341.4h3.9V403.9h-3.9zM1141.7 341.4h3.9V462.2h-3.9zM1145.6 341.4h3.9V611.3h-3.9zM1149.5 341.4h3.9V393.2h-3.9zM1153.4 341.4h3.9V441.8h-3.9zM1157.3 341.4h3.9V451h-3.9zM1161.2 341.4h3.9V418.9h-3.9zM1165.1 341.4h3.9V357h-3.9zM1169 341.4h3.9V397.5h-3.9zM1172.9 341.4h3.9V449.6h-3.9zM1176.8 341.4h3.9V448.2h-3.9zM1184.6 341.4h3.9V449.1h-3.9zM1192.4 341.4h3.9V373.2h-3.9zM1196.3 341.4h3.9V395.8h-3.9zM1200.2 341.4h3.9V411.7h-3.9zM1204.1 341.4h3.9V399.9h-3.9zM1211.9 341.4h3.9V362.2h-3.9zM1215.8 341.4h3.9V351.2h-3.9zM1219.7 341.4h3.9V368.2h-3.9zM1223.6 341.4h3.9V345.9h-3.9zM1231.4 341.4h3.9V408.1h-3.9zM1235.3 341.4h3.9V530.5h-3.9zM1246.9 341.4h3.9V388.3h-3.9zM1250.8 341.4h3.9V344.9h-3.9zM1258.6 341.4h3.9V418.2h-3.9zM1266.4 341.4h3.9V398.3h-3.9zM1278.1 341.4h3.9V356h-3.9zM1289.8 341.4h3.9V345.5h-3.9zM1293.7 341.4h3.9V380.8h-3.9zM1360 341.4h3.9V437.6h-3.9zM1363.9 341.4h3.9V354.3h-3.9zM1379.5 341.4h3.9V388.2h-3.9zM1387.3 341.4h3.9V352.6h-3.9zM1418.5 341.4h3.9V423.9h-3.9zM1500.3 341.4h3.9V436.2h-3.9z"/>
<path d="M101 341.4h3.9V374.2h-3.9zM237.4 341.4h3.9V393.2h-3.9zM272.5 341.4h3.9V377.4h-3.9zM311.5 341.4h3.9V401h-3.9zM334.9 341.4h3.9V372.3h-3.9zM350.5 341.4h3.9V391.1h-3.9zM362.1 341.4h3.9V375.4h-3.9zM397.2 341.4h3.9V413.5h-3.9zM412.8 341.4h3.9V349.5h-3.9zM432.3 341.4h3.9V369.8h-3.9zM463.5 341.4h3.9V351.4h-3.9zM479.1 341.4h3.9V348h-3.9zM486.9 341.4h3.9V410.3h-3.9zM502.5 341.4h3.9V372.5h-3.9zM506.4 341.4h3.9V388.1h-3.9zM518.1 341.4h3.9V355.6h-3.9zM568.7 341.4h3.9V454.1h-3.9zM576.5 341.4h3.9V387.4h-3.9zM584.3 341.4h3.9V392.2h-3.9zM592.1 341.4h3.9V409.1h-3.9zM599.9 341.4h3.9V393.7h-3.9zM607.7 341.4h3.9V383.1h-3.9zM611.6 341.4h3.9V386.2h-3.9zM615.5 341.4h3.9V353.9h-3.9zM631.1 341.4h3.9V388.6h-3.9zM638.9 341.4h3.9V358.7h-3.9zM642.8 341.4h3.9V405.6h-3.9zM646.7 341.4h3.9V453.3h-3.9zM654.5 341.4h3.9V358.9h-3.9zM658.4 341.4h3.9V358.3h-3.9zM662.3 341.4h3.9V349h-3.9zM666.2 341.4h3.9V358.8h-3.9zM670.1 341.4h3.9V393.8h-3.9zM681.8 341.4h3.9V365.9h-3.9zM685.7 341.4h3.9V372.1h-3.9zM689.6 341.4h3.9V368.9h-3.9zM705.2 341.4h3.9V351h-3.9zM720.7 341.4h3.9V359.4h-3.9zM740.2 341.4h3.9V437.4h-3.9zM744.1 341.4h3.9V353.1h-3.9zM759.7 341.4h3.9V348.5h-3.9zM779.2 341.4h3.9V349.4h-3.9zM787 341.4h3.9V364.5h-3.9zM798.7 341.4h3.9V407.2h-3.9zM802.6 341.4h3.9V356.4h-3.9zM810.4 341.4h3.9V375.6h-3.9zM814.3 341.4h3.9V396.9h-3.9zM818.2 341.4h3.9V353.1h-3.9zM826 341.4h3.9V386.3h-3.9zM829.9 341.4h3.9V390.8h-3.9zM849.4 341.4h3.9V367.1h-3.9zM853.3 341.4h3.9V372.1h-3.9zM861.1 341.4h3.9V398.7h-3.9zM865 341.4h3.9V378.1h-3.9zM872.8 341.4h3.9V411.4h-3.9zM876.7 341.4h3.9V464h-3.9zM880.6 341.4h3.9V354.6h-3.9zM911.7 341.4h3.9V371.4h-3.9zM919.5 341.4h3.9V379.9h-3.9zM923.4 341.4h3.9V354.4h-3.9zM927.3 341.4h3.9V411.9h-3.9zM946.8 341.4h3.9V359.4h-3.9zM950.7 341.4h3.9V349.2h-3.9zM954.6 341.4h3.9V361.9h-3.9zM962.4 341.4h3.9V347.8h-3.9zM985.8 341.4h3.9V388.4h-3.9zM1013.1 341.4h3.9V394h-3.9zM1020.9 341.4h3.9V359h-3.9zM1024.8 341.4h3.9V380.8h-3.9zM1028.7 341.4h3.9V345h-3.9zM1032.6 341.4h3.9V412.2h-3.9zM1036.5 341.4h3.9V358.9h-3.9zM1040.4 341.4h3.9V365.8h-3.9zM1048.2 341.4h3.9V343.8h-3.9zM1052.1 341.4h3.9V351.1h-3.9zM1056 341.4h3.9V386.2h-3.9zM1059.9 341.4h3.9V376.1h-3.9zM1071.5 341.4h3.9V444h-3.9zM1079.3 341.4h3.9V569.2h-3.9zM1083.2 341.4h3.9V346.9h-3.9zM1091 341.4h3.9V350.4h-3.9zM1094.9 341.4h3.9V433.6h-3.9zM1102.7 341.4h3.9V412.1h-3.9zM1106.6 341.4h3.9V413h-3.9zM1110.5 341.4h3.9V382.9h-3.9zM1114.4 341.4h3.9V416.2h-3.9zM1126.1 341.4h3.9V452.9h-3.9zM1130 341.4h3.9V391.7h-3.9zM1133.9 341.4h3.9V360.9h-3.9zM1137.8 341.4h3.9V353.6h-3.9zM1149.5 341.4h3.9V464.7h-3.9zM1153.4 341.4h3.9V358h-3.9zM1157.3 341.4h3.9V353.1h-3.9zM1161.2 341.4h3.9V383.3h-3.9zM1165.1 341.4h3.9V396.5h-3.9zM1169 341.4h3.9V350.2h-3.9zM1172.9 341.4h3.9V361h-3.9zM1184.6 341.4h3.9V417.6h-3.9zM1188.5 341.4h3.9V348.4h-3.9zM1192.4 341.4h3.9V472.4h-3.9zM1196.3 341.4h3.9V346.5h-3.9zM1200.2 341.4h3.9V407.6h-3.9zM1204.1 341.4h3.9V549.4h-3.9zM1215.8 341.4h3.9V367.3h-3.9zM1219.7 341.4h3.9V447.4h-3.9zM1231.4 341.4h3.9V408.5h-3.9zM1243 341.4h3.9V416h-3.9zM1246.9 341.4h3.9V380.3h-3.9zM1250.8 341.4h3.9V459h-3.9zM1270.3 341.4h3.9V346.5h-3.9zM1274.2 341.4h3.9V360.3h-3.9zM1285.9 341.4h3.9V344.9h-3.9zM1293.7 341.4h3.9V368.5h-3.9zM1297.6 341.4h3.9V362.8h-3.9zM1301.5 341.4h3.9V531.2h-3.9zM1305.4 341.4h3.9V507.2h-3.9zM1309.3 341.4h3.9V443.6h-3.9zM1317.1 341.4h3.9V421.3h-3.9zM1332.7 341.4h3.9V368.3h-3.9zM1340.5 341.4h3.9V429.9h-3.9zM1383.4 341.4h3.9V517.1h-3.9zM1437.9 341.4h3.9V392h-3.9zM1473 341.4h3.9V425.8h-3.9zM1496.4 341.4h3.9V404.1h-3.9z"/>
<path d="M97.1 341.4h3.9V373.3h-3.9zM163.4 341.4h3.9V370.9h-3.9zM175 341.4h3.9V358.9h-3.9zM190.6 341.4h3.9V393.7h-3.9zM284.2 341.4h3.9V344.4h-3.9zM342.7 341.4h3.9V437.5h-3.9zM373.8 341.4h3.9V346h-3.9zM377.7 341.4h3.9V369.5h-3.9zM389.4 341.4h3.9V346.9h-3.9zM424.5 341.4h3.9V356.6h-3.9zM432.3 341.4h3.9V376.2h-3.9zM440.1 341.4h3.9V395.4h-3.9zM444 341.4h3.9V402.5h-3.9zM459.6 341.4h3.9V375h-3.9zM475.2 341.4h3.9V359.5h-3.9zM486.9 341.4h3.9V359.4h-3.9zM533.6 341.4h3.9V437.5h-3.9zM549.2 341.4h3.9V343.7h-3.9zM560.9 341.4h3.9V373.1h-3.9zM564.8 341.4h3.9V402.7h-3.9zM576.5 341.4h3.9V343.7h-3.9zM580.4 341.4h3.9V345.2h-3.9zM607.7 341.4h3.9V488.2h-3.9zM615.5 341.4h3.9V361h-3.9zM619.4 341.4h3.9V381.1h-3.9zM623.3 341.4h3.9V464.3h-3.9zM631.1 341.4h3.9V366.2h-3.9zM635 341.4h3.9V431.6h-3.9zM638.9 341.4h3.9V358.5h-3.9zM646.7 341.4h3.9V378.8h-3.9zM662.3 341.4h3.9V381.3h-3.9zM666.2 341.4h3.9V375.9h-3.9zM670.1 341.4h3.9V346.4h-3.9zM677.9 341.4h3.9V397.1h-3.9zM681.8 341.4h3.9V366.8h-3.9zM685.7 341.4h3.9V365.7h-3.9zM689.6 341.4h3.9V481.2h-3.9zM693.5 341.4h3.9V355.8h-3.9zM705.2 341.4h3.9V364.9h-3.9zM716.8 341.4h3.9V354.7h-3.9zM724.6 341.4h3.9V348.8h-3.9zM728.5 341.4h3.9V393h-3.9zM736.3 341.4h3.9V359.2h-3.9zM740.2 341.4h3.9V433.1h-3.9zM748 341.4h3.9V374.9h-3.9zM767.5 341.4h3.9V434.2h-3.9zM779.2 341.4h3.9V356.3h-3.9zM783.1 341.4h3.9V364.4h-3.9zM790.9 341.4h3.9V439.9h-3.9zM794.8 341.4h3.9V364h-3.9zM802.6 341.4h3.9V360h-3.9zM814.3 341.4h3.9V382.6h-3.9zM822.1 341.4h3.9V571.3h-3.9zM833.8 341.4h3.9V343.7h-3.9zM841.6 341.4h3.9V378.8h-3.9zM845.5 341.4h3.9V412.9h-3.9zM849.4 341.4h3.9V348.2h-3.9zM861.1 341.4h3.9V355.2h-3.9zM868.9 341.4h3.9V358.4h-3.9zM872.8 341.4h3.9V351.4h-3.9zM884.5 341.4h3.9V397.6h-3.9zM900 341.4h3.9V360.6h-3.9zM903.9 341.4h3.9V383.4h-3.9zM911.7 341.4h3.9V490.2h-3.9zM919.5 341.4h3.9V349.5h-3.9zM927.3 341.4h3.9V365.3h-3.9zM931.2 341.4h3.9V486.9h-3.9zM935.1 341.4h3.9V367h-3.9zM950.7 341.4h3.9V407.4h-3.9zM958.5 341.4h3.9V357.1h-3.9zM978 341.4h3.9V404.2h-3.9zM981.9 341.4h3.9V459.5h-3.9zM989.7 341.4h3.9V351.4h-3.9zM997.5 341.4h3.9V362.4h-3.9zM1001.4 341.4h3.9V347h-3.9zM1005.3 341.4h3.9V368h-3.9zM1009.2 341.4h3.9V349.5h-3.9zM1013.1 341.4h3.9V377.7h-3.9zM1020.9 341.4h3.9V454h-3.9zM1024.8 341.4h3.9V476h-3.9zM1028.7 341.4h3.9V363.5h-3.9zM1036.5 341.4h3.9V530.5h-3.9zM1040.4 341.4h3.9V426.3h-3.9zM1056 341.4h3.9V375.6h-3.9zM1067.6 341.4h3.9V370.2h-3.9zM1071.5 341.4h3.9V366.7h-3.9zM1075.4 341.4h3.9V419.9h-3.9zM1079.3 341.4h3.9V485.1h-3.9zM1083.2 341.4h3.9V383.5h-3.9zM1087.1 341.4h3.9V423.4h-3.9zM1091 341.4h3.9V424.4h-3.9zM1094.9 341.4h3.9V443.6h-3.9zM1098.8 341.4h3.9V419.5h-3.9zM1106.6 341.4h3.9V381.3h-3.9zM1110.5 341.4h3.9V470.6h-3.9zM1114.4 341.4h3.9V363.1h-3.9zM1122.2 341.4h3.9V381.1h-3.9zM1126.1 341.4h3.9V352.7h-3.9zM1130 341.4h3.9V396.1h-3.9zM1141.7 341.4h3.9V390h-3.9zM1145.6 341.4h3.9V393.8h-3.9zM1149.5 341.4h3.9V492.6h-3.9zM1172.9 341.4h3.9V393.1h-3.9zM1176.8 341.4h3.9V456.7h-3.9zM1184.6 341.4h3.9V353.7h-3.9zM1192.4 341.4h3.9V544.9h-3.9zM1200.2 341.4h3.9V418.4h-3.9zM1204.1 341.4h3.9V382h-3.9zM1208 341.4h3.9V514h-3.9zM1215.8 341.4h3.9V426.7h-3.9zM1219.7 341.4h3.9V376.6h-3.9zM1235.3 341.4h3.9V422.6h-3.9zM1239.2 341.4h3.9V452h-3.9zM1246.9 341.4h3.9V371.6h-3.9zM1262.5 341.4h3.9V396.9h-3.9zM1270.3 341.4h3.9V354.7h-3.9zM1278.1 341.4h3.9V414h-3.9zM1285.9 341.4h3.9V385.7h-3.9zM1293.7 341.4h3.9V387.8h-3.9zM1301.5 341.4h3.9V376.1h-3.9zM1313.2 341.4h3.9V345.4h-3.9zM1317.1 341.4h3.9V348.3h-3.9zM1336.6 341.4h3.9V346.8h-3.9zM1340.5 341.4h3.9V357.1h-3.9zM1363.9 341.4h3.9V484.9h-3.9zM1391.2 341.4h3.9V400h-3.9zM1461.3 341.4h3.9V361.9h-3.9zM1496.4 341.4h3.9V357.8h-3.9z"/>
<path d="M112.7 341.4h3.9V436h-3.9zM120.5 341.4h3.9V381.9h-3.9zM136.1 341.4h3.9V372.8h-3.9zM280.3 341.4h3.9V432.7h-3.9zM307.6 341.4h3.9V433.3h-3.9zM311.5 341.4h3.9V352.7h-3.9zM331 341.4h3.9V450.6h-3.9zM338.8 341.4h3.9V374.9h-3.9zM408.9 341.4h3.9V366.8h-3.9zM451.8 341.4h3.9V345.7h-3.9zM471.3 341.4h3.9V351.3h-3.9zM506.4 341.4h3.9V406.7h-3.9zM529.8 341.4h3.9V358.1h-3.9zM533.6 341.4h3.9V391.9h-3.9zM545.3 341.4h3.9V354.3h-3.9zM557 341.4h3.9V388.2h-3.9zM560.9 341.4h3.9V365.4h-3.9zM568.7 341.4h3.9V401.9h-3.9zM584.3 341.4h3.9V384.3h-3.9zM592.1 341.4h3.9V361h-3.9zM596 341.4h3.9V368.3h-3.9zM599.9 341.4h3.9V359.4h-3.9zM611.6 341.4h3.9V367.6h-3.9zM619.4 341.4h3.9V371.9h-3.9zM631.1 341.4h3.9V362.7h-3.9zM638.9 341.4h3.9V418.3h-3.9zM650.6 341.4h3.9V376.5h-3.9zM654.5 341.4h3.9V392h-3.9zM658.4 341.4h3.9V365.2h-3.9zM666.2 341.4h3.9V363.3h-3.9zM670.1 341.4h3.9V369.4h-3.9zM674 341.4h3.9V366.7h-3.9zM681.8 341.4h3.9V514.1h-3.9zM685.7 341.4h3.9V354h-3.9zM689.6 341.4h3.9V411.2h-3.9zM693.5 341.4h3.9V375.7h-3.9zM697.4 341.4h3.9V444.8h-3.9zM716.8 341.4h3.9V373.4h-3.9zM732.4 341.4h3.9V344.9h-3.9zM755.8 341.4h3.9V379.2h-3.9zM759.7 341.4h3.9V388.4h-3.9zM763.6 341.4h3.9V363.8h-3.9zM779.2 341.4h3.9V346.1h-3.9zM798.7 341.4h3.9V386.2h-3.9zM806.5 341.4h3.9V390.9h-3.9zM814.3 341.4h3.9V343.7h-3.9zM822.1 341.4h3.9V424.5h-3.9zM826 341.4h3.9V438h-3.9zM829.9 341.4h3.9V363h-3.9zM833.8 341.4h3.9V350.5h-3.9zM849.4 341.4h3.9V442.5h-3.9zM857.2 341.4h3.9V376.4h-3.9zM861.1 341.4h3.9V377.8h-3.9zM865 341.4h3.9V378.8h-3.9zM868.9 341.4h3.9V345.3h-3.9zM872.8 341.4h3.9V442.5h-3.9zM876.7 341.4h3.9V422.9h-3.9zM884.5 341.4h3.9V388h-3.9zM888.3 341.4h3.9V377.2h-3.9zM900 341.4h3.9V439.9h-3.9zM903.9 341.4h3.9V385.6h-3.9zM911.7 341.4h3.9V382.9h-3.9zM931.2 341.4h3.9V350.2h-3.9zM935.1 341.4h3.9V390.6h-3.9zM939 341.4h3.9V347.5h-3.9zM946.8 341.4h3.9V461.6h-3.9zM954.6 341.4h3.9V363h-3.9zM958.5 341.4h3.9V356.1h-3.9zM962.4 341.4h3.9V413.5h-3.9zM974.1 341.4h3.9V460.4h-3.9zM981.9 341.4h3.9V378.6h-3.9zM989.7 341.4h3.9V364.6h-3.9zM997.5 341.4h3.9V377.8h-3.9zM1009.2 341.4h3.9V490.9h-3.9zM1013.1 341.4h3.9V381h-3.9zM1020.9 341.4h3.9V416.6h-3.9zM1028.7 341.4h3.9V364.6h-3.9zM1040.4 341.4h3.9V414.4h-3.9zM1044.3 341.4h3.9V526h-3.9zM1052.1 341.4h3.9V399.6h-3.9zM1059.9 341.4h3.9V343.5h-3.9zM1071.5 341.4h3.9V383.8h-3.9zM1079.3 341.4h3.9V445.1h-3.9zM1087.1 341.4h3.9V361.8h-3.9zM1091 341.4h3.9V432.4h-3.9zM1094.9 341.4h3.9V390.8h-3.9zM1098.8 341.4h3.9V444.3h-3.9zM1102.7 341.4h3.9V394.9h-3.9zM1106.6 341.4h3.9V447.2h-3.9zM1114.4 341.4h3.9V416.1h-3.9zM1122.2 341.4h3.9V390.9h-3.9zM1126.1 341.4h3.9V384.2h-3.9zM1141.7 341.4h3.9V356.7h-3.9zM1145.6 341.4h3.9V386.1h-3.9zM1157.3 341.4h3.9V406.6h-3.9zM1161.2 341.4h3.9V425.4h-3.9zM1165.1 341.4h3.9V416.4h-3.9zM1169 341.4h3.9V372.2h-3.9zM1176.8 341.4h3.9V410.9h-3.9zM1180.7 341.4h3.9V377.7h-3.9zM1184.6 341.4h3.9V430.3h-3.9zM1188.5 341.4h3.9V437.7h-3.9zM1192.4 341.4h3.9V425.5h-3.9zM1196.3 341.4h3.9V543.9h-3.9zM1200.2 341.4h3.9V452.3h-3.9zM1215.8 341.4h3.9V359.2h-3.9zM1227.5 341.4h3.9V505.3h-3.9zM1231.4 341.4h3.9V453.3h-3.9zM1235.3 341.4h3.9V516.5h-3.9zM1243 341.4h3.9V386.3h-3.9zM1246.9 341.4h3.9V447.5h-3.9zM1250.8 341.4h3.9V412.9h-3.9zM1254.7 341.4h3.9V417.9h-3.9zM1270.3 341.4h3.9V365.3h-3.9zM1278.1 341.4h3.9V358h-3.9zM1289.8 341.4h3.9V345.6h-3.9zM1293.7 341.4h3.9V347.9h-3.9zM1305.4 341.4h3.9V394.6h-3.9zM1313.2 341.4h3.9V401.5h-3.9zM1332.7 341.4h3.9V361.9h-3.9zM1336.6 341.4h3.9V465.4h-3.9zM1340.5 341.4h3.9V364.2h-3.9zM1371.7 341.4h3.9V427.6h-3.9zM1399 341.4h3.9V412.1h-3.9zM1457.4 341.4h3.9V363.5h-3.9zM1504.2 341.4h3.9V358.3h-3.9z"/>
<path d="M147.8 341.4h3.9V359.6h-3.9zM217.9 341.4h3.9V367.5h-3.9zM331 341.4h3.9V405.7h-3.9zM338.8 341.4h3.9V414.8h-3.9zM444 341.4h3.9V344.8h-3.9zM486.9 341.4h3.9V375.2h-3.9zM490.8 341.4h3.9V365.4h-3.9zM518.1 341.4h3.9V362.8h-3.9zM537.5 341.4h3.9V346.7h-3.9zM545.3 341.4h3.9V420.1h-3.9zM557 341.4h3.9V372.7h-3.9zM560.9 341.4h3.9V347h-3.9zM568.7 341.4h3.9V358.2h-3.9zM588.2 341.4h3.9V411.2h-3.9zM596 341.4h3.9V448.7h-3.9zM611.6 341.4h3.9V374h-3.9zM615.5 341.4h3.9V364.9h-3.9zM627.2 341.4h3.9V348h-3.9zM631.1 341.4h3.9V347.5h-3.9zM635 341.4h3.9V364.4h-3.9zM646.7 341.4h3.9V370.5h-3.9zM670.1 341.4h3.9V347.2h-3.9zM674 341.4h3.9V430.8h-3.9zM677.9 341.4h3.9V418.2h-3.9zM685.7 341.4h3.9V393h-3.9zM693.5 341.4h3.9V375.9h-3.9zM697.4 341.4h3.9V387.2h-3.9zM701.3 341.4h3.9V379.5h-3.9zM720.7 341.4h3.9V381.8h-3.9zM728.5 341.4h3.9V388.7h-3.9zM732.4 341.4h3.9V362.2h-3.9zM736.3 341.4h3.9V352.2h-3.9zM744.1 341.4h3.9V442.8h-3.9zM748 341.4h3.9V345.7h-3.9zM751.9 341.4h3.9V397.9h-3.9zM763.6 341.4h3.9V356.4h-3.9zM787 341.4h3.9V359.2h-3.9zM790.9 341.4h3.9V367.1h-3.9zM798.7 341.4h3.9V381.1h-3.9zM806.5 341.4h3.9V351.9h-3.9zM829.9 341.4h3.9V345.7h-3.9zM833.8 341.4h3.9V344.5h-3.9zM845.5 341.4h3.9V351h-3.9zM853.3 341.4h3.9V391.6h-3.9zM865 341.4h3.9V362.5h-3.9zM868.9 341.4h3.9V385.1h-3.9zM872.8 341.4h3.9V388.2h-3.9zM880.6 341.4h3.9V392.8h-3.9zM884.5 341.4h3.9V361.9h-3.9zM892.2 341.4h3.9V599h-3.9zM896.1 341.4h3.9V395.2h-3.9zM900 341.4h3.9V348h-3.9zM907.8 341.4h3.9V471.5h-3.9zM911.7 341.4h3.9V413.7h-3.9zM915.6 341.4h3.9V360.7h-3.9zM931.2 341.4h3.9V384.6h-3.9zM939 341.4h3.9V361.8h-3.9zM954.6 341.4h3.9V389h-3.9zM966.3 341.4h3.9V350.6h-3.9zM978 341.4h3.9V360.4h-3.9zM985.8 341.4h3.9V356.8h-3.9zM989.7 341.4h3.9V490.8h-3.9zM993.6 341.4h3.9V379.9h-3.9zM1001.4 341.4h3.9V460.5h-3.9zM1005.3 341.4h3.9V361.4h-3.9zM1013.1 341.4h3.9V361.5h-3.9zM1017 341.4h3.9V374.4h-3.9zM1020.9 341.4h3.9V410.7h-3.9zM1024.8 341.4h3.9V387h-3.9zM1032.6 341.4h3.9V350.3h-3.9zM1040.4 341.4h3.9V356.4h-3.9zM1044.3 341.4h3.9V459.2h-3.9zM1048.2 341.4h3.9V367.6h-3.9zM1052.1 341.4h3.9V350.1h-3.9zM1056 341.4h3.9V407.7h-3.9zM1059.9 341.4h3.9V577.4h-3.9zM1063.7 341.4h3.9V355.4h-3.9zM1071.5 341.4h3.9V361.1h-3.9zM1079.3 341.4h3.9V474.9h-3.9zM1083.2 341.4h3.9V372.7h-3.9zM1091 341.4h3.9V358.7h-3.9zM1094.9 341.4h3.9V504.5h-3.9zM1098.8 341.4h3.9V452.4h-3.9zM1102.7 341.4h3.9V352.6h-3.9zM1110.5 341.4h3.9V369.5h-3.9zM1114.4 341.4h3.9V372.8h-3.9zM1118.3 341.4h3.9V537.4h-3.9zM1126.1 341.4h3.9V345.4h-3.9zM1130 341.4h3.9V355.6h-3.9zM1141.7 341.4h3.9V369.6h-3.9zM1145.6 341.4h3.9V396.9h-3.9zM1157.3 341.4h3.9V443.4h-3.9zM1165.1 341.4h3.9V388.1h-3.9zM1169 341.4h3.9V345.5h-3.9zM1172.9 341.4h3.9V427.9h-3.9zM1176.8 341.4h3.9V587.1h-3.9zM1180.7 341.4h3.9V433.8h-3.9zM1188.5 341.4h3.9V366.4h-3.9zM1192.4 341.4h3.9V388.1h-3.9zM1196.3 341.4h3.9V563.7h-3.9zM1200.2 341.4h3.9V348.9h-3.9zM1204.1 341.4h3.9V406.3h-3.9zM1211.9 341.4h3.9V362.9h-3.9zM1215.8 341.4h3.9V343.5h-3.9zM1219.7 341.4h3.9V439.6h-3.9zM1223.6 341.4h3.9V504.8h-3.9zM1227.5 341.4h3.9V354h-3.9zM1231.4 341.4h3.9V392.8h-3.9zM1239.2 341.4h3.9V366.8h-3.9zM1258.6 341.4h3.9V356.5h-3.9zM1262.5 341.4h3.9V397.6h-3.9zM1266.4 341.4h3.9V601h-3.9zM1285.9 341.4h3.9V523.3h-3.9zM1293.7 341.4h3.9V398.3h-3.9zM1297.6 341.4h3.9V444.3h-3.9zM1305.4 341.4h3.9V468.9h-3.9zM1317.1 341.4h3.9V480.5h-3.9zM1324.9 341.4h3.9V380.1h-3.9zM1328.8 341.4h3.9V344.2h-3.9zM1332.7 341.4h3.9V369.9h-3.9zM1352.2 341.4h3.9V357.6h-3.9zM1383.4 341.4h3.9V355.9h-3.9zM1402.9 341.4h3.9V368h-3.9zM1418.5 341.4h3.9V385.7h-3.9zM1449.6 341.4h3.9V348.8h-3.9zM1480.8 341.4h3.9V354.3h-3.9zM1504.2 341.4h3.9V366.4h-3.9z"/>
<path d="M108.8 341.4h3.9V389.5h-3.9zM112.7 341.4h3.9V364.7h-3.9zM147.8 341.4h3.9V351.6h-3.9zM233.5 341.4h3.9V484.2h-3.9zM237.4 341.4h3.9V377h-3.9zM260.8 341.4h3.9V348.5h-3.9zM323.2 341.4h3.9V348.4h-3.9zM331 341.4h3.9V361.8h-3.9zM428.4 341.4h3.9V357.9h-3.9zM440.1 341.4h3.9V459.6h-3.9zM447.9 341.4h3.9V356.3h-3.9zM471.3 341.4h3.9V377.8h-3.9zM486.9 341.4h3.9V365.3h-3.9zM490.8 341.4h3.9V390.8h-3.9zM494.7 341.4h3.9V377.7h-3.9zM529.8 341.4h3.9V346.8h-3.9zM541.4 341.4h3.9V376h-3.9zM545.3 341.4h3.9V349.7h-3.9zM560.9 341.4h3.9V354.2h-3.9zM580.4 341.4h3.9V351.3h-3.9zM584.3 341.4h3.9V396.9h-3.9zM596 341.4h3.9V385.7h-3.9zM599.9 341.4h3.9V347.4h-3.9zM603.8 341.4h3.9V479.9h-3.9zM611.6 341.4h3.9V370.9h-3.9zM627.2 341.4h3.9V344.2h-3.9zM638.9 341.4h3.9V544.5h-3.9zM642.8 341.4h3.9V375.7h-3.9zM650.6 341.4h3.9V463.5h-3.9zM658.4 341.4h3.9V367.8h-3.9zM662.3 341.4h3.9V418.2h-3.9zM666.2 341.4h3.9V351.7h-3.9zM674 341.4h3.9V365.8h-3.9zM677.9 341.4h3.9V390.3h-3.9zM681.8 341.4h3.9V369.4h-3.9zM697.4 341.4h3.9V356h-3.9zM701.3 341.4h3.9V378.9h-3.9zM709 341.4h3.9V351.2h-3.9zM712.9 341.4h3.9V354.9h-3.9zM724.6 341.4h3.9V351.6h-3.9zM732.4 341.4h3.9V348.1h-3.9zM755.8 341.4h3.9V347.2h-3.9zM759.7 341.4h3.9V541.4h-3.9zM763.6 341.4h3.9V377.4h-3.9zM771.4 341.4h3.9V349.4h-3.9zM779.2 341.4h3.9V416.3h-3.9zM787 341.4h3.9V445.5h-3.9zM802.6 341.4h3.9V348.2h-3.9zM806.5 341.4h3.9V445.1h-3.9zM810.4 341.4h3.9V436.8h-3.9zM818.2 341.4h3.9V440h-3.9zM822.1 341.4h3.9V360.1h-3.9zM826 341.4h3.9V388.3h-3.9zM841.6 341.4h3.9V355.9h-3.9zM845.5 341.4h3.9V359.3h-3.9zM849.4 341.4h3.9V410.1h-3.9zM857.2 341.4h3.9V360h-3.9zM861.1 341.4h3.9V356.3h-3.9zM865 341.4h3.9V373.4h-3.9zM876.7 341.4h3.9V352.2h-3.9zM892.2 341.4h3.9V406.5h-3.9zM900 341.4h3.9V351.4h-3.9zM903.9 341.4h3.9V346.8h-3.9zM907.8 341.4h3.9V354h-3.9zM911.7 341.4h3.9V360.3h-3.9zM915.6 341.4h3.9V375.7h-3.9zM919.5 341.4h3.9V352.8h-3.9zM931.2 341.4h3.9V361h-3.9zM935.1 341.4h3.9V364.2h-3.9zM939 341.4h3.9V345.2h-3.9zM946.8 341.4h3.9V345.4h-3.9zM958.5 341.4h3.9V447.6h-3.9zM962.4 341.4h3.9V483.6h-3.9zM970.2 341.4h3.9V398.9h-3.9zM978 341.4h3.9V368.8h-3.9zM985.8 341.4h3.9V395.7h-3.9zM989.7 341.4h3.9V367.6h-3.9zM997.5 341.4h3.9V422.5h-3.9zM1017 341.4h3.9V344.8h-3.9zM1024.8 341.4h3.9V349.3h-3.9zM1028.7 341.4h3.9V360.2h-3.9zM1032.6 341.4h3.9V454.2h-3.9zM1036.5 341.4h3.9V357.1h-3.9zM1040.4 341.4h3.9V372.6h-3.9zM1048.2 341.4h3.9V376.2h-3.9zM1052.1 341.4h3.9V424.4h-3.9zM1056 341.4h3.9V374h-3.9zM1063.7 341.4h3.9V365.5h-3.9zM1071.5 341.4h3.9V355.4h-3.9zM1075.4 341.4h3.9V475.9h-3.9zM1079.3 341.4h3.9V372.3h-3.9zM1087.1 341.4h3.9V601.8h-3.9zM1094.9 341.4h3.9V417.3h-3.9zM1098.8 341.4h3.9V500.4h-3.9zM1102.7 341.4h3.9V344.8h-3.9zM1106.6 341.4h3.9V345.2h-3.9zM1110.5 341.4h3.9V375.3h-3.9zM1122.2 341.4h3.9V401.2h-3.9zM1126.1 341.4h3.9V362.5h-3.9zM1145.6 341.4h3.9V410.2h-3.9zM1157.3 341.4h3.9V384.2h-3.9zM1165.1 341.4h3.9V592.9h-3.9zM1169 341.4h3.9V409.1h-3.9zM1172.9 341.4h3.9V403.2h-3.9zM1176.8 341.4h3.9V378.6h-3.9zM1180.7 341.4h3.9V503.3h-3.9zM1184.6 341.4h3.9V426.2h-3.9zM1188.5 341.4h3.9V357.5h-3.9zM1200.2 341.4h3.9V357.2h-3.9zM1204.1 341.4h3.9V578.3h-3.9zM1208 341.4h3.9V355.9h-3.9zM1211.9 341.4h3.9V410h-3.9zM1219.7 341.4h3.9V440.4h-3.9zM1227.5 341.4h3.9V548.4h-3.9zM1235.3 341.4h3.9V350.3h-3.9zM1239.2 341.4h3.9V387.6h-3.9zM1243 341.4h3.9V422.7h-3.9zM1246.9 341.4h3.9V348.3h-3.9zM1250.8 341.4h3.9V376.5h-3.9zM1254.7 341.4h3.9V404.5h-3.9zM1266.4 341.4h3.9V373.7h-3.9zM1270.3 341.4h3.9V459.3h-3.9zM1289.8 341.4h3.9V374.7h-3.9zM1301.5 341.4h3.9V386.8h-3.9zM1317.1 341.4h3.9V354.7h-3.9zM1328.8 341.4h3.9V367.2h-3.9zM1363.9 341.4h3.9V428.9h-3.9zM1367.8 341.4h3.9V426.8h-3.9zM1371.7 341.4h3.9V359.9h-3.9zM1391.2 341.4h3.9V470h-3.9zM1410.7 341.4h3.9V386.4h-3.9zM1426.2 341.4h3.9V448.9h-3.9z"/>
<path d="M120.5 341.4h3.9V423.3h-3.9zM186.7 341.4h3.9V352.9h-3.9zM202.3 341.4h3.9V349.7h-3.9zM206.2 341.4h3.9V458.2h-3.9zM229.6 341.4h3.9V358.6h-3.9zM245.2 341.4h3.9V427.8h-3.9zM256.9 341.4h3.9V356.2h-3.9zM311.5 341.4h3.9V384.4h-3.9zM389.4 341.4h3.9V425.3h-3.9zM397.2 341.4h3.9V385.5h-3.9zM428.4 341.4h3.9V377.2h-3.9zM444 341.4h3.9V470.3h-3.9zM486.9 341.4h3.9V383.4h-3.9zM494.7 341.4h3.9V370.6h-3.9zM502.5 341.4h3.9V426.7h-3.9zM510.3 341.4h3.9V345.9h-3.9zM553.1 341.4h3.9V420.6h-3.9zM564.8 341.4h3.9V403.5h-3.9zM576.5 341.4h3.9V394.8h-3.9zM588.2 341.4h3.9V378.6h-3.9zM599.9 341.4h3.9V379.5h-3.9zM603.8 341.4h3.9V410.6h-3.9zM607.7 341.4h3.9V386.6h-3.9zM611.6 341.4h3.9V369.8h-3.9zM619.4 341.4h3.9V379.7h-3.9zM631.1 341.4h3.9V376.3h-3.9zM635 341.4h3.9V349.5h-3.9zM638.9 341.4h3.9V346.2h-3.9zM658.4 341.4h3.9V365.4h-3.9zM662.3 341.4h3.9V368.2h-3.9zM666.2 341.4h3.9V356.6h-3.9zM670.1 341.4h3.9V405.7h-3.9zM674 341.4h3.9V355.2h-3.9zM681.8 341.4h3.9V392.8h-3.9zM685.7 341.4h3.9V363.7h-3.9zM689.6 341.4h3.9V345.8h-3.9zM693.5 341.4h3.9V407.2h-3.9zM697.4 341.4h3.9V375.3h-3.9zM709 341.4h3.9V357.9h-3.9zM716.8 341.4h3.9V344.4h-3.9zM720.7 341.4h3.9V415h-3.9zM724.6 341.4h3.9V369.7h-3.9zM728.5 341.4h3.9V371.8h-3.9zM736.3 341.4h3.9V412.3h-3.9zM740.2 341.4h3.9V344.5h-3.9zM744.1 341.4h3.9V361.6h-3.9zM751.9 341.4h3.9V388.4h-3.9zM755.8 341.4h3.9V464h-3.9zM763.6 341.4h3.9V414.6h-3.9zM767.5 341.4h3.9V344.7h-3.9zM771.4 341.4h3.9V373.7h-3.9zM779.2 341.4h3.9V420.8h-3.9zM787 341.4h3.9V375.3h-3.9zM790.9 341.4h3.9V388.3h-3.9zM794.8 341.4h3.9V344.5h-3.9zM798.7 341.4h3.9V356h-3.9zM806.5 341.4h3.9V355.4h-3.9zM814.3 341.4h3.9V372.5h-3.9zM818.2 341.4h3.9V370.7h-3.9zM826 341.4h3.9V356.2h-3.9zM829.9 341.4h3.9V366h-3.9zM837.7 341.4h3.9V453.8h-3.9zM845.5 341.4h3.9V461.8h-3.9zM857.2 341.4h3.9V346.6h-3.9zM868.9 341.4h3.9V343.9h-3.9zM880.6 341.4h3.9V370.7h-3.9zM896.1 341.4h3.9V378.2h-3.9zM907.8 341.4h3.9V395h-3.9zM911.7 341.4h3.9V447.1h-3.9zM923.4 341.4h3.9V355.1h-3.9zM935.1 341.4h3.9V366.3h-3.9zM942.9 341.4h3.9V379.7h-3.9zM946.8 341.4h3.9V385.8h-3.9zM950.7 341.4h3.9V527.9h-3.9zM966.3 341.4h3.9V406.5h-3.9zM970.2 341.4h3.9V344.8h-3.9zM974.1 341.4h3.9V462.1h-3.9zM981.9 341.4h3.9V421.8h-3.9zM985.8 341.4h3.9V381.1h-3.9zM989.7 341.4h3.9V346h-3.9zM997.5 341.4h3.9V374.8h-3.9zM1001.4 341.4h3.9V355.3h-3.9zM1009.2 341.4h3.9V387.4h-3.9zM1013.1 341.4h3.9V402.7h-3.9zM1017 341.4h3.9V377.7h-3.9zM1020.9 341.4h3.9V377.6h-3.9zM1024.8 341.4h3.9V508.7h-3.9zM1028.7 341.4h3.9V411.5h-3.9zM1032.6 341.4h3.9V381h-3.9zM1036.5 341.4h3.9V350.5h-3.9zM1040.4 341.4h3.9V396.5h-3.9zM1052.1 341.4h3.9V462.7h-3.9zM1056 341.4h3.9V343.8h-3.9zM1059.9 341.4h3.9V380.1h-3.9zM1063.7 341.4h3.9V520.8h-3.9zM1067.6 341.4h3.9V380.3h-3.9zM1102.7 341.4h3.9V350.1h-3.9zM1106.6 341.4h3.9V411.7h-3.9zM1110.5 341.4h3.9V362.3h-3.9zM1114.4 341.4h3.9V414.2h-3.9zM1122.2 341.4h3.9V382.2h-3.9zM1126.1 341.4h3.9V374.3h-3.9zM1130 341.4h3.9V343.8h-3.9zM1137.8 341.4h3.9V391.1h-3.9zM1141.7 341.4h3.9V375.6h-3.9zM1149.5 341.4h3.9V356.3h-3.9zM1153.4 341.4h3.9V470.1h-3.9zM1157.3 341.4h3.9V394.9h-3.9zM1161.2 341.4h3.9V367.6h-3.9zM1165.1 341.4h3.9V534.7h-3.9zM1172.9 341.4h3.9V611.3h-3.9zM1176.8 341.4h3.9V367.4h-3.9zM1188.5 341.4h3.9V363.8h-3.9zM1196.3 341.4h3.9V508.4h-3.9zM1211.9 341.4h3.9V365h-3.9zM1215.8 341.4h3.9V571.6h-3.9zM1219.7 341.4h3.9V365.3h-3.9zM1223.6 341.4h3.9V394.5h-3.9zM1227.5 341.4h3.9V358.2h-3.9zM1231.4 341.4h3.9V406.7h-3.9zM1239.2 341.4h3.9V381.8h-3.9zM1243 341.4h3.9V351.1h-3.9zM1246.9 341.4h3.9V400h-3.9zM1266.4 341.4h3.9V463.6h-3.9zM1270.3 341.4h3.9V356.6h-3.9zM1274.2 341.4h3.9V350h-3.9zM1278.1 341.4h3.9V393.2h-3.9zM1293.7 341.4h3.9V427.7h-3.9zM1340.5 341.4h3.9V434h-3.9zM1344.4 341.4h3.9V346.6h-3.9zM1348.3 341.4h3.9V367.7h-3.9zM1352.2 341.4h3.9V371.2h-3.9zM1356.1 341.4h3.9V369.4h-3.9zM1367.8 341.4h3.9V361.4h-3.9zM1383.4 341.4h3.9V369.6h-3.9zM1391.2 341.4h3.9V355.7h-3.9zM1406.8 341.4h3.9V348.6h-3.9z"/>
<path d="M104.9 341.4h3.9V373.1h-3.9zM132.2 341.4h3.9V437.9h-3.9zM198.4 341.4h3.9V389.4h-3.9zM206.2 341.4h3.9V355.4h-3.9zM284.2 341.4h3.9V394.6h-3.9zM323.2 341.4h3.9V347.4h-3.9zM327.1 341.4h3.9V409.6h-3.9zM350.5 341.4h3.9V541.2h-3.9zM428.4 341.4h3.9V404.3h-3.9zM471.3 341.4h3.9V392.1h-3.9zM494.7 341.4h3.9V367h-3.9zM514.2 341.4h3.9V381.3h-3.9zM518.1 341.4h3.9V351h-3.9zM522 341.4h3.9V384.9h-3.9zM525.9 341.4h3.9V385h-3.9zM541.4 341.4h3.9V360.9h-3.9zM549.2 341.4h3.9V452.4h-3.9zM557 341.4h3.9V364.1h-3.9zM560.9 341.4h3.9V351.1h-3.9zM568.7 341.4h3.9V371.6h-3.9zM584.3 341.4h3.9V368h-3.9zM588.2 341.4h3.9V465.7h-3.9zM596 341.4h3.9V419.8h-3.9zM599.9 341.4h3.9V436.3h-3.9zM607.7 341.4h3.9V353.1h-3.9zM615.5 341.4h3.9V374.5h-3.9zM635 341.4h3.9V364.9h-3.9zM642.8 341.4h3.9V366.9h-3.9zM646.7 341.4h3.9V395.5h-3.9zM654.5 341.4h3.9V354.7h-3.9zM685.7 341.4h3.9V420.8h-3.9zM689.6 341.4h3.9V377.8h-3.9zM693.5 341.4h3.9V386.1h-3.9zM697.4 341.4h3.9V391.5h-3.9zM709 341.4h3.9V346.5h-3.9zM712.9 341.4h3.9V368.9h-3.9zM728.5 341.4h3.9V417.9h-3.9zM732.4 341.4h3.9V344.4h-3.9zM771.4 341.4h3.9V358.7h-3.9zM775.3 341.4h3.9V354.6h-3.9zM779.2 341.4h3.9V421.8h-3.9zM783.1 341.4h3.9V404.3h-3.9zM818.2 341.4h3.9V502.2h-3.9zM826 341.4h3.9V410.8h-3.9zM829.9 341.4h3.9V350.3h-3.9zM841.6 341.4h3.9V407.2h-3.9zM861.1 341.4h3.9V373.6h-3.9zM868.9 341.4h3.9V384h-3.9zM876.7 341.4h3.9V383.4h-3.9zM880.6 341.4h3.9V354.5h-3.9zM884.5 341.4h3.9V345.8h-3.9zM888.3 341.4h3.9V371.2h-3.9zM900 341.4h3.9V407.6h-3.9zM903.9 341.4h3.9V373.7h-3.9zM907.8 341.4h3.9V349.5h-3.9zM915.6 341.4h3.9V375.6h-3.9zM919.5 341.4h3.9V449.8h-3.9zM935.1 341.4h3.9V374.2h-3.9zM954.6 341.4h3.9V365.6h-3.9zM958.5 341.4h3.9V362.3h-3.9zM966.3 341.4h3.9V433.1h-3.9zM978 341.4h3.9V373.1h-3.9zM981.9 341.4h3.9V370.6h-3.9zM997.5 341.4h3.9V347.9h-3.9zM1001.4 341.4h3.9V362.8h-3.9zM1009.2 341.4h3.9V357h-3.9zM1013.1 341.4h3.9V360.5h-3.9zM1017 341.4h3.9V458.9h-3.9zM1020.9 341.4h3.9V346.9h-3.9zM1024.8 341.4h3.9V363.9h-3.9zM1036.5 341.4h3.9V429.4h-3.9zM1048.2 341.4h3.9V357.1h-3.9zM1052.1 341.4h3.9V478h-3.9zM1056 341.4h3.9V371.1h-3.9zM1059.9 341.4h3.9V353.6h-3.9zM1067.6 341.4h3.9V437.9h-3.9zM1079.3 341.4h3.9V423.8h-3.9zM1087.1 341.4h3.9V376.1h-3.9zM1098.8 341.4h3.9V372.3h-3.9zM1102.7 341.4h3.9V395.5h-3.9zM1110.5 341.4h3.9V359.9h-3.9zM1130 341.4h3.9V357h-3.9zM1133.9 341.4h3.9V373.1h-3.9zM1137.8 341.4h3.9V383.1h-3.9zM1141.7 341.4h3.9V425.2h-3.9zM1145.6 341.4h3.9V349.8h-3.9zM1149.5 341.4h3.9V352.5h-3.9zM1153.4 341.4h3.9V437.7h-3.9zM1161.2 341.4h3.9V405.2h-3.9zM1165.1 341.4h3.9V380.4h-3.9zM1169 341.4h3.9V372.6h-3.9zM1172.9 341.4h3.9V444.2h-3.9zM1180.7 341.4h3.9V360.3h-3.9zM1188.5 341.4h3.9V611.3h-3.9zM1192.4 341.4h3.9V366.1h-3.9zM1196.3 341.4h3.9V363.3h-3.9zM1204.1 341.4h3.9V368.3h-3.9zM1208 341.4h3.9V415h-3.9zM1215.8 341.4h3.9V350h-3.9zM1219.7 341.4h3.9V432.7h-3.9zM1223.6 341.4h3.9V351.6h-3.9zM1227.5 341.4h3.9V420.4h-3.9zM1235.3 341.4h3.9V511.7h-3.9zM1254.7 341.4h3.9V497.6h-3.9zM1258.6 341.4h3.9V365.6h-3.9zM1274.2 341.4h3.9V347.1h-3.9zM1282 341.4h3.9V408.5h-3.9zM1285.9 341.4h3.9V343.8h-3.9zM1301.5 341.4h3.9V348.1h-3.9zM1305.4 341.4h3.9V410.2h-3.9zM1317.1 341.4h3.9V371.3h-3.9zM1321 341.4h3.9V437.2h-3.9zM1371.7 341.4h3.9V537.8h-3.9zM1375.6 341.4h3.9V354h-3.9zM1379.5 341.4h3.9V393.2h-3.9zM1383.4 341.4h3.9V511.1h-3.9zM1406.8 341.4h3.9V351.8h-3.9zM1426.2 341.4h3.9V369.8h-3.9zM1449.6 341.4h3.9V421.9h-3.9z"/>
<path d="M85.4 341.4h3.9V363.2h-3.9zM108.8 341.4h3.9V395.9h-3.9zM120.5 341.4h3.9V418.8h-3.9zM147.8 341.4h3.9V396.1h-3.9zM202.3 341.4h3.9V354.9h-3.9zM288.1 341.4h3.9V367.2h-3.9zM319.3 341.4h3.9V358.6h-3.9zM412.8 341.4h3.9V373.1h-3.9zM444 341.4h3.9V406.9h-3.9zM447.9 341.4h3.9V353.9h-3.9zM451.8 341.4h3.9V436.6h-3.9zM463.5 341.4h3.9V410.2h-3.9zM467.4 341.4h3.9V451.1h-3.9zM486.9 341.4h3.9V386h-3.9zM490.8 341.4h3.9V370.5h-3.9zM494.7 341.4h3.9V352.7h-3.9zM522 341.4h3.9V430h-3.9zM549.2 341.4h3.9V426.3h-3.9zM553.1 341.4h3.9V366.8h-3.9zM564.8 341.4h3.9V409h-3.9zM588.2 341.4h3.9V491.2h-3.9zM592.1 341.4h3.9V410.4h-3.9zM599.9 341.4h3.9V348.9h-3.9zM607.7 341.4h3.9V355h-3.9zM619.4 341.4h3.9V379.6h-3.9zM627.2 341.4h3.9V350h-3.9zM635 341.4h3.9V364h-3.9zM646.7 341.4h3.9V455.8h-3.9zM650.6 341.4h3.9V356h-3.9zM654.5 341.4h3.9V360.8h-3.9zM662.3 341.4h3.9V367.6h-3.9zM666.2 341.4h3.9V391.1h-3.9zM677.9 341.4h3.9V348.9h-3.9zM685.7 341.4h3.9V388h-3.9zM697.4 341.4h3.9V370.6h-3.9zM701.3 341.4h3.9V354.3h-3.9zM709 341.4h3.9V374.3h-3.9zM724.6 341.4h3.9V412.7h-3.9zM732.4 341.4h3.9V378.1h-3.9zM736.3 341.4h3.9V424.2h-3.9zM740.2 341.4h3.9V384.9h-3.9zM744.1 341.4h3.9V431.5h-3.9zM748 341.4h3.9V358.9h-3.9zM755.8 341.4h3.9V458.3h-3.9zM763.6 341.4h3.9V410h-3.9zM783.1 341.4h3.9V410.8h-3.9zM787 341.4h3.9V363.4h-3.9zM790.9 341.4h3.9V344.2h-3.9zM798.7 341.4h3.9V405h-3.9zM802.6 341.4h3.9V346h-3.9zM806.5 341.4h3.9V438.3h-3.9zM822.1 341.4h3.9V352.5h-3.9zM837.7 341.4h3.9V381.2h-3.9zM841.6 341.4h3.9V364.3h-3.9zM845.5 341.4h3.9V426h-3.9zM872.8 341.4h3.9V345.2h-3.9zM876.7 341.4h3.9V346.7h-3.9zM884.5 341.4h3.9V390.6h-3.9zM888.3 341.4h3.9V411.7h-3.9zM896.1 341.4h3.9V381.9h-3.9zM900 341.4h3.9V448h-3.9zM903.9 341.4h3.9V346.7h-3.9zM915.6 341.4h3.9V379.4h-3.9zM919.5 341.4h3.9V359.3h-3.9zM923.4 341.4h3.9V375.1h-3.9zM931.2 341.4h3.9V351.9h-3.9zM939 341.4h3.9V360h-3.9zM942.9 341.4h3.9V352.8h-3.9zM946.8 341.4h3.9V383.7h-3.9zM950.7 341.4h3.9V373.1h-3.9zM962.4 341.4h3.9V475.7h-3.9zM978 341.4h3.9V419.9h-3.9zM985.8 341.4h3.9V349.3h-3.9zM989.7 341.4h3.9V367.4h-3.9zM993.6 341.4h3.9V355.7h-3.9zM1005.3 341.4h3.9V412.9h-3.9zM1013.1 341.4h3.9V421h-3.9zM1017 341.4h3.9V449.3h-3.9zM1020.9 341.4h3.9V365.7h-3.9zM1024.8 341.4h3.9V499.7h-3.9zM1028.7 341.4h3.9V357.4h-3.9zM1036.5 341.4h3.9V430.2h-3.9zM1040.4 341.4h3.9V351.3h-3.9zM1044.3 341.4h3.9V398.9h-3.9zM1048.2 341.4h3.9V437.8h-3.9zM1056 341.4h3.9V358h-3.9zM1059.9 341.4h3.9V467.5h-3.9zM1063.7 341.4h3.9V351.8h-3.9zM1067.6 341.4h3.9V382.1h-3.9zM1075.4 341.4h3.9V387.6h-3.9zM1079.3 341.4h3.9V361.1h-3.9zM1083.2 341.4h3.9V422.4h-3.9zM1087.1 341.4h3.9V381.8h-3.9zM1091 341.4h3.9V497.2h-3.9zM1094.9 341.4h3.9V412.2h-3.9zM1098.8 341.4h3.9V375.5h-3.9zM1102.7 341.4h3.9V425.6h-3.9zM1110.5 341.4h3.9V377h-3.9zM1114.4 341.4h3.9V460.6h-3.9zM1118.3 341.4h3.9V402h-3.9zM1126.1 341.4h3.9V385.7h-3.9zM1130 341.4h3.9V363.7h-3.9zM1141.7 341.4h3.9V384.2h-3.9zM1145.6 341.4h3.9V374.6h-3.9zM1149.5 341.4h3.9V359.4h-3.9zM1153.4 341.4h3.9V415.7h-3.9zM1169 341.4h3.9V425.5h-3.9zM1184.6 341.4h3.9V440.1h-3.9zM1188.5 341.4h3.9V353.2h-3.9zM1192.4 341.4h3.9V373.1h-3.9zM1196.3 341.4h3.9V427.8h-3.9zM1200.2 341.4h3.9V353.5h-3.9zM1204.1 341.4h3.9V482.6h-3.9zM1208 341.4h3.9V420.3h-3.9zM1211.9 341.4h3.9V445.8h-3.9zM1223.6 341.4h3.9V450.2h-3.9zM1227.5 341.4h3.9V404.6h-3.9zM1231.4 341.4h3.9V350.4h-3.9zM1239.2 341.4h3.9V430.1h-3.9zM1250.8 341.4h3.9V379.3h-3.9zM1254.7 341.4h3.9V388.8h-3.9zM1258.6 341.4h3.9V353.3h-3.9zM1270.3 341.4h3.9V356.3h-3.9zM1285.9 341.4h3.9V356.9h-3.9zM1293.7 341.4h3.9V345.1h-3.9zM1305.4 341.4h3.9V409.9h-3.9zM1313.2 341.4h3.9V429h-3.9zM1336.6 341.4h3.9V359.5h-3.9zM1360 341.4h3.9V357.1h-3.9zM1383.4 341.4h3.9V366.5h-3.9zM1406.8 341.4h3.9V358.9h-3.9zM1418.5 341.4h3.9V395.1h-3.9z"/>
<path d="M116.6 341.4h3.9V345.1h-3.9zM147.8 341.4h3.9V443.7h-3.9zM190.6 341.4h3.9V440.7h-3.9zM206.2 341.4h3.9V440.5h-3.9zM229.6 341.4h3.9V347.4h-3.9zM358.2 341.4h3.9V350.7h-3.9zM369.9 341.4h3.9V346h-3.9zM373.8 341.4h3.9V438.1h-3.9zM393.3 341.4h3.9V362.4h-3.9zM405 341.4h3.9V526.5h-3.9zM444 341.4h3.9V443.2h-3.9zM447.9 341.4h3.9V346.1h-3.9zM459.6 341.4h3.9V400.1h-3.9zM498.6 341.4h3.9V399.7h-3.9zM514.2 341.4h3.9V379h-3.9zM529.8 341.4h3.9V410.7h-3.9zM545.3 341.4h3.9V560.8h-3.9zM557 341.4h3.9V358.5h-3.9zM572.6 341.4h3.9V378.5h-3.9zM576.5 341.4h3.9V362.8h-3.9zM588.2 341.4h3.9V352.5h-3.9zM596 341.4h3.9V379.5h-3.9zM611.6 341.4h3.9V428.8h-3.9zM615.5 341.4h3.9V484.3h-3.9zM619.4 341.4h3.9V356.1h-3.9zM631.1 341.4h3.9V346.1h-3.9zM635 341.4h3.9V345.1h-3.9zM638.9 341.4h3.9V422.1h-3.9zM642.8 341.4h3.9V364.2h-3.9zM646.7 341.4h3.9V367.9h-3.9zM666.2 341.4h3.9V401.4h-3.9zM670.1 341.4h3.9V365.6h-3.9zM685.7 341.4h3.9V358.7h-3.9zM689.6 341.4h3.9V346.3h-3.9zM693.5 341.4h3.9V436h-3.9zM697.4 341.4h3.9V356.3h-3.9zM709 341.4h3.9V352.4h-3.9zM712.9 341.4h3.9V407.9h-3.9zM716.8 341.4h3.9V370.5h-3.9zM724.6 341.4h3.9V399.9h-3.9zM736.3 341.4h3.9V348.9h-3.9zM744.1 341.4h3.9V366.5h-3.9zM759.7 341.4h3.9V355.8h-3.9zM775.3 341.4h3.9V365.5h-3.9zM783.1 341.4h3.9V380.8h-3.9zM787 341.4h3.9V343.8h-3.9zM790.9 341.4h3.9V348.4h-3.9zM794.8 341.4h3.9V427.7h-3.9zM798.7 341.4h3.9V384.8h-3.9zM806.5 341.4h3.9V388.2h-3.9zM810.4 341.4h3.9V362.4h-3.9zM814.3 341.4h3.9V358.1h-3.9zM818.2 341.4h3.9V394.9h-3.9zM826 341.4h3.9V367.9h-3.9zM833.8 341.4h3.9V428.5h-3.9zM837.7 341.4h3.9V350.4h-3.9zM845.5 341.4h3.9V346.1h-3.9zM853.3 341.4h3.9V366.5h-3.9zM865 341.4h3.9V411.3h-3.9zM872.8 341.4h3.9V537.2h-3.9zM880.6 341.4h3.9V351.7h-3.9zM884.5 341.4h3.9V360.3h-3.9zM888.3 341.4h3.9V355.6h-3.9zM900 341.4h3.9V349.8h-3.9zM911.7 341.4h3.9V451.7h-3.9zM915.6 341.4h3.9V388.2h-3.9zM923.4 341.4h3.9V365.4h-3.9zM939 341.4h3.9V348.5h-3.9zM942.9 341.4h3.9V374.3h-3.9zM946.8 341.4h3.9V417.8h-3.9zM950.7 341.4h3.9V344.2h-3.9zM954.6 341.4h3.9V404.2h-3.9zM958.5 341.4h3.9V364.1h-3.9zM966.3 341.4h3.9V385.1h-3.9zM970.2 341.4h3.9V372.5h-3.9zM981.9 341.4h3.9V382.8h-3.9zM993.6 341.4h3.9V411.6h-3.9zM1005.3 341.4h3.9V343.9h-3.9zM1009.2 341.4h3.9V384h-3.9zM1013.1 341.4h3.9V350.9h-3.9zM1017 341.4h3.9V380.6h-3.9zM1020.9 341.4h3.9V428.2h-3.9zM1024.8 341.4h3.9V376h-3.9zM1028.7 341.4h3.9V353.5h-3.9zM1032.6 341.4h3.9V358h-3.9zM1036.5 341.4h3.9V378.8h-3.9zM1044.3 341.4h3.9V343.4h-3.9zM1048.2 341.4h3.9V374.9h-3.9zM1052.1 341.4h3.9V390h-3.9zM1056 341.4h3.9V380.7h-3.9zM1059.9 341.4h3.9V387.3h-3.9zM1063.7 341.4h3.9V453.5h-3.9zM1071.5 341.4h3.9V366h-3.9zM1075.4 341.4h3.9V372h-3.9zM1087.1 341.4h3.9V505.4h-3.9zM1091 341.4h3.9V491.4h-3.9zM1094.9 341.4h3.9V343.9h-3.9zM1098.8 341.4h3.9V351.6h-3.9zM1102.7 341.4h3.9V505.7h-3.9zM1106.6 341.4h3.9V361.4h-3.9zM1110.5 341.4h3.9V357.5h-3.9zM1114.4 341.4h3.9V410.2h-3.9zM1122.2 341.4h3.9V347.8h-3.9zM1126.1 341.4h3.9V367.9h-3.9zM1130 341.4h3.9V424.4h-3.9zM1133.9 341.4h3.9V370.1h-3.9zM1137.8 341.4h3.9V445.5h-3.9zM1145.6 341.4h3.9V390.9h-3.9zM1153.4 341.4h3.9V516.2h-3.9zM1157.3 341.4h3.9V455.3h-3.9zM1161.2 341.4h3.9V370.2h-3.9zM1165.1 341.4h3.9V382.8h-3.9zM1172.9 341.4h3.9V432.6h-3.9zM1180.7 341.4h3.9V373.1h-3.9zM1184.6 341.4h3.9V410.8h-3.9zM1196.3 341.4h3.9V377.4h-3.9zM1208 341.4h3.9V358.8h-3.9zM1215.8 341.4h3.9V514.8h-3.9zM1219.7 341.4h3.9V360h-3.9zM1227.5 341.4h3.9V387h-3.9zM1235.3 341.4h3.9V415.6h-3.9zM1239.2 341.4h3.9V354.3h-3.9zM1246.9 341.4h3.9V393.1h-3.9zM1258.6 341.4h3.9V403.2h-3.9zM1274.2 341.4h3.9V378.5h-3.9zM1282 341.4h3.9V495.7h-3.9zM1293.7 341.4h3.9V361.8h-3.9zM1344.4 341.4h3.9V386.4h-3.9zM1356.1 341.4h3.9V401.4h-3.9zM1363.9 341.4h3.9V374.7h-3.9zM1371.7 341.4h3.9V368.2h-3.9zM1383.4 341.4h3.9V375.4h-3.9zM1453.5 341.4h3.9V368h-3.9zM1476.9 341.4h3.9V392.6h-3.9z"/>
<path d="M241.3 341.4h3.9V419.6h-3.9zM264.7 341.4h3.9V401.9h-3.9zM272.5 341.4h3.9V368h-3.9zM315.4 341.4h3.9V380.5h-3.9zM377.7 341.4h3.9V344.1h-3.9zM416.7 341.4h3.9V437.9h-3.9zM440.1 341.4h3.9V361.2h-3.9zM444 341.4h3.9V372h-3.9zM455.7 341.4h3.9V494.9h-3.9zM459.6 341.4h3.9V359.4h-3.9zM494.7 341.4h3.9V460.9h-3.9zM506.4 341.4h3.9V395.6h-3.9zM510.3 341.4h3.9V372.7h-3.9zM514.2 341.4h3.9V372h-3.9zM545.3 341.4h3.9V363h-3.9zM560.9 341.4h3.9V447.8h-3.9zM564.8 341.4h3.9V343.4h-3.9zM572.6 341.4h3.9V397.4h-3.9zM576.5 341.4h3.9V366.6h-3.9zM580.4 341.4h3.9V379.8h-3.9zM596 341.4h3.9V367.5h-3.9zM599.9 341.4h3.9V443.6h-3.9zM603.8 341.4h3.9V364.8h-3.9zM607.7 341.4h3.9V452.6h-3.9zM615.5 341.4h3.9V368.7h-3.9zM623.3 341.4h3.9V478.3h-3.9zM627.2 341.4h3.9V424h-3.9zM635 341.4h3.9V361.1h-3.9zM638.9 341.4h3.9V358.1h-3.9zM646.7 341.4h3.9V393.5h-3.9zM654.5 341.4h3.9V529.7h-3.9zM666.2 341.4h3.9V365.6h-3.9zM674 341.4h3.9V362.9h-3.9zM689.6 341.4h3.9V352.9h-3.9zM693.5 341.4h3.9V419.9h-3.9zM701.3 341.4h3.9V456.7h-3.9zM709 341.4h3.9V441.3h-3.9zM720.7 341.4h3.9V382.3h-3.9zM728.5 341.4h3.9V400.3h-3.9zM732.4 341.4h3.9V344.3h-3.9zM736.3 341.4h3.9V352.3h-3.9zM771.4 341.4h3.9V482.7h-3.9zM775.3 341.4h3.9V366.7h-3.9zM779.2 341.4h3.9V377.7h-3.9zM783.1 341.4h3.9V346.9h-3.9zM787 341.4h3.9V432.3h-3.9zM794.8 341.4h3.9V356.9h-3.9zM798.7 341.4h3.9V452h-3.9zM802.6 341.4h3.9V370h-3.9zM806.5 341.4h3.9V357.5h-3.9zM810.4 341.4h3.9V349h-3.9zM822.1 341.4h3.9V533.2h-3.9zM837.7 341.4h3.9V344.8h-3.9zM845.5 341.4h3.9V343.5h-3.9zM849.4 341.4h3.9V357.4h-3.9zM853.3 341.4h3.9V344.4h-3.9zM857.2 341.4h3.9V478.8h-3.9zM861.1 341.4h3.9V381.7h-3.9zM865 341.4h3.9V396.3h-3.9zM868.9 341.4h3.9V378.2h-3.9zM872.8 341.4h3.9V358.3h-3.9zM880.6 341.4h3.9V383.6h-3.9zM884.5 341.4h3.9V347.3h-3.9zM888.3 341.4h3.9V358.7h-3.9zM892.2 341.4h3.9V345.2h-3.9zM896.1 341.4h3.9V348.2h-3.9zM907.8 341.4h3.9V376.1h-3.9zM911.7 341.4h3.9V371.6h-3.9zM919.5 341.4h3.9V354h-3.9zM923.4 341.4h3.9V398.3h-3.9zM942.9 341.4h3.9V416.6h-3.9zM950.7 341.4h3.9V351.9h-3.9zM962.4 341.4h3.9V345.9h-3.9zM966.3 341.4h3.9V362.3h-3.9zM970.2 341.4h3.9V380.1h-3.9zM985.8 341.4h3.9V377.5h-3.9zM989.7 341.4h3.9V377.9h-3.9zM993.6 341.4h3.9V353.1h-3.9zM997.5 341.4h3.9V439.6h-3.9zM1001.4 341.4h3.9V348.5h-3.9zM1005.3 341.4h3.9V359h-3.9zM1009.2 341.4h3.9V416.8h-3.9zM1020.9 341.4h3.9V394h-3.9zM1024.8 341.4h3.9V529.6h-3.9zM1028.7 341.4h3.9V469.7h-3.9zM1032.6 341.4h3.9V380.6h-3.9zM1036.5 341.4h3.9V412h-3.9zM1044.3 341.4h3.9V381.8h-3.9zM1052.1 341.4h3.9V609.5h-3.9zM1056 341.4h3.9V494.5h-3.9zM1063.7 341.4h3.9V499.9h-3.9zM1071.5 341.4h3.9V471h-3.9zM1075.4 341.4h3.9V352h-3.9zM1083.2 341.4h3.9V476.5h-3.9zM1102.7 341.4h3.9V430.7h-3.9zM1110.5 341.4h3.9V376.6h-3.9zM1114.4 341.4h3.9V431h-3.9zM1126.1 341.4h3.9V394.9h-3.9zM1130 341.4h3.9V410.2h-3.9zM1133.9 341.4h3.9V443.4h-3.9zM1141.7 341.4h3.9V381.5h-3.9zM1145.6 341.4h3.9V356.8h-3.9zM1153.4 341.4h3.9V365.3h-3.9zM1157.3 341.4h3.9V476.7h-3.9zM1161.2 341.4h3.9V357.8h-3.9zM1165.1 341.4h3.9V368h-3.9zM1169 341.4h3.9V431.7h-3.9zM1172.9 341.4h3.9V381.3h-3.9zM1176.8 341.4h3.9V420.1h-3.9zM1180.7 341.4h3.9V518.7h-3.9zM1196.3 341.4h3.9V352.2h-3.9zM1200.2 341.4h3.9V359.4h-3.9zM1204.1 341.4h3.9V345.8h-3.9zM1211.9 341.4h3.9V446.9h-3.9zM1215.8 341.4h3.9V364.4h-3.9zM1223.6 341.4h3.9V454h-3.9zM1231.4 341.4h3.9V404.2h-3.9zM1235.3 341.4h3.9V347.7h-3.9zM1250.8 341.4h3.9V414.4h-3.9zM1254.7 341.4h3.9V457.7h-3.9zM1266.4 341.4h3.9V364.4h-3.9zM1270.3 341.4h3.9V422.7h-3.9zM1282 341.4h3.9V370.6h-3.9zM1289.8 341.4h3.9V381.2h-3.9zM1301.5 341.4h3.9V357.8h-3.9zM1324.9 341.4h3.9V376.6h-3.9zM1332.7 341.4h3.9V351.4h-3.9zM1360 341.4h3.9V347h-3.9zM1367.8 341.4h3.9V404.6h-3.9zM1402.9 341.4h3.9V389.6h-3.9zM1461.3 341.4h3.9V425.8h-3.9z"/>
<path d="M97.1 341.4h3.9V387.9h-3.9zM132.2 341.4h3.9V446.3h-3.9zM202.3 341.4h3.9V462h-3.9zM225.7 341.4h3.9V468.5h-3.9zM241.3 341.4h3.9V357.2h-3.9zM264.7 341.4h3.9V349.7h-3.9zM288.1 341.4h3.9V359.9h-3.9zM292 341.4h3.9V347.3h-3.9zM299.8 341.4h3.9V426.2h-3.9zM319.3 341.4h3.9V375.2h-3.9zM342.7 341.4h3.9V420.6h-3.9zM373.8 341.4h3.9V393.4h-3.9zM401.1 341.4h3.9V371.5h-3.9zM494.7 341.4h3.9V369.9h-3.9zM518.1 341.4h3.9V344.4h-3.9zM525.9 341.4h3.9V459.9h-3.9zM557 341.4h3.9V354.9h-3.9zM572.6 341.4h3.9V366.7h-3.9zM576.5 341.4h3.9V384.3h-3.9zM580.4 341.4h3.9V370.1h-3.9zM588.2 341.4h3.9V423.3h-3.9zM592.1 341.4h3.9V362.4h-3.9zM627.2 341.4h3.9V358.1h-3.9zM635 341.4h3.9V557.4h-3.9zM654.5 341.4h3.9V357h-3.9zM658.4 341.4h3.9V374.3h-3.9zM674 341.4h3.9V387.8h-3.9zM681.8 341.4h3.9V388.1h-3.9zM689.6 341.4h3.9V394.9h-3.9zM697.4 341.4h3.9V389.4h-3.9zM716.8 341.4h3.9V364.1h-3.9zM720.7 341.4h3.9V378h-3.9zM728.5 341.4h3.9V349.5h-3.9zM732.4 341.4h3.9V407.1h-3.9zM736.3 341.4h3.9V356.4h-3.9zM744.1 341.4h3.9V461h-3.9zM748 341.4h3.9V387.1h-3.9zM751.9 341.4h3.9V344.3h-3.9zM755.8 341.4h3.9V385.6h-3.9zM759.7 341.4h3.9V356.9h-3.9zM771.4 341.4h3.9V368.1h-3.9zM779.2 341.4h3.9V439.9h-3.9zM790.9 341.4h3.9V347.6h-3.9zM802.6 341.4h3.9V378.2h-3.9zM806.5 341.4h3.9V356.3h-3.9zM829.9 341.4h3.9V396.5h-3.9zM833.8 341.4h3.9V377.8h-3.9zM849.4 341.4h3.9V352.4h-3.9zM853.3 341.4h3.9V357.5h-3.9zM857.2 341.4h3.9V373.2h-3.9zM868.9 341.4h3.9V403.2h-3.9zM884.5 341.4h3.9V420.2h-3.9zM892.2 341.4h3.9V458.4h-3.9zM896.1 341.4h3.9V347.5h-3.9zM900 341.4h3.9V503.7h-3.9zM903.9 341.4h3.9V399.3h-3.9zM911.7 341.4h3.9V346.3h-3.9zM915.6 341.4h3.9V361.7h-3.9zM927.3 341.4h3.9V360.4h-3.9zM942.9 341.4h3.9V344.3h-3.9zM946.8 341.4h3.9V390.1h-3.9zM950.7 341.4h3.9V457.5h-3.9zM954.6 341.4h3.9V367.3h-3.9zM962.4 341.4h3.9V382.8h-3.9zM970.2 341.4h3.9V381.1h-3.9zM989.7 341.4h3.9V361.9h-3.9zM993.6 341.4h3.9V407h-3.9zM1001.4 341.4h3.9V388.5h-3.9zM1009.2 341.4h3.9V412.3h-3.9zM1017 341.4h3.9V492.8h-3.9zM1028.7 341.4h3.9V458.6h-3.9zM1032.6 341.4h3.9V386.3h-3.9zM1036.5 341.4h3.9V386.4h-3.9zM1044.3 341.4h3.9V348.7h-3.9zM1059.9 341.4h3.9V473h-3.9zM1063.7 341.4h3.9V406.3h-3.9zM1071.5 341.4h3.9V347.1h-3.9zM1075.4 341.4h3.9V392.8h-3.9zM1091 341.4h3.9V420.2h-3.9zM1094.9 341.4h3.9V439h-3.9zM1098.8 341.4h3.9V384.6h-3.9zM1102.7 341.4h3.9V399.7h-3.9zM1106.6 341.4h3.9V345h-3.9zM1110.5 341.4h3.9V364.6h-3.9zM1114.4 341.4h3.9V416h-3.9zM1118.3 341.4h3.9V362h-3.9zM1122.2 341.4h3.9V371h-3.9zM1130 341.4h3.9V372.6h-3.9zM1153.4 341.4h3.9V468.1h-3.9zM1172.9 341.4h3.9V467.9h-3.9zM1176.8 341.4h3.9V359.8h-3.9zM1184.6 341.4h3.9V346.9h-3.9zM1192.4 341.4h3.9V349.6h-3.9zM1196.3 341.4h3.9V378.9h-3.9zM1200.2 341.4h3.9V366.2h-3.9zM1208 341.4h3.9V368.5h-3.9zM1211.9 341.4h3.9V352h-3.9zM1215.8 341.4h3.9V479.3h-3.9zM1219.7 341.4h3.9V449.5h-3.9zM1223.6 341.4h3.9V409.6h-3.9zM1227.5 341.4h3.9V359.2h-3.9zM1239.2 341.4h3.9V414.4h-3.9zM1243 341.4h3.9V373.4h-3.9zM1246.9 341.4h3.9V376.6h-3.9zM1250.8 341.4h3.9V500.4h-3.9zM1258.6 341.4h3.9V417.5h-3.9zM1262.5 341.4h3.9V368.8h-3.9zM1266.4 341.4h3.9V558h-3.9zM1270.3 341.4h3.9V364h-3.9zM1274.2 341.4h3.9V426.1h-3.9zM1282 341.4h3.9V413.2h-3.9zM1285.9 341.4h3.9V368.9h-3.9zM1289.8 341.4h3.9V367h-3.9zM1297.6 341.4h3.9V399.7h-3.9zM1301.5 341.4h3.9V420.9h-3.9zM1317.1 341.4h3.9V532.5h-3.9zM1321 341.4h3.9V357.8h-3.9zM1332.7 341.4h3.9V399.4h-3.9zM1340.5 341.4h3.9V348.4h-3.9zM1344.4 341.4h3.9V371.6h-3.9zM1348.3 341.4h3.9V351.3h-3.9zM1356.1 341.4h3.9V344.5h-3.9zM1406.8 341.4h3.9V407.3h-3.9zM1488.6 341.4h3.9V355.9h-3.9z"/>
<path d="M120.5 341.4h3.9V343.7h-3.9zM140 341.4h3.9V389.2h-3.9zM143.9 341.4h3.9V368.7h-3.9zM175 341.4h3.9V371.2h-3.9zM260.8 341.4h3.9V392.3h-3.9zM264.7 341.4h3.9V359.2h-3.9zM288.1 341.4h3.9V395.6h-3.9zM405 341.4h3.9V358.6h-3.9zM420.6 341.4h3.9V345.7h-3.9zM424.5 341.4h3.9V349.9h-3.9zM436.2 341.4h3.9V354.5h-3.9zM451.8 341.4h3.9V348.5h-3.9zM455.7 341.4h3.9V391.6h-3.9zM459.6 341.4h3.9V611.3h-3.9zM490.8 341.4h3.9V353.2h-3.9zM502.5 341.4h3.9V441.3h-3.9zM506.4 341.4h3.9V417.6h-3.9zM518.1 341.4h3.9V368.1h-3.9zM537.5 341.4h3.9V356h-3.9zM557 341.4h3.9V375.5h-3.9zM560.9 341.4h3.9V597.6h-3.9zM576.5 341.4h3.9V488.6h-3.9zM580.4 341.4h3.9V347.9h-3.9zM596 341.4h3.9V364h-3.9zM611.6 341.4h3.9V351.5h-3.9zM615.5 341.4h3.9V366.4h-3.9zM623.3 341.4h3.9V346.5h-3.9zM627.2 341.4h3.9V392.2h-3.9zM635 341.4h3.9V423.4h-3.9zM638.9 341.4h3.9V350.2h-3.9zM642.8 341.4h3.9V356.4h-3.9zM650.6 341.4h3.9V450.8h-3.9zM658.4 341.4h3.9V355.3h-3.9zM662.3 341.4h3.9V347.3h-3.9zM670.1 341.4h3.9V366.4h-3.9zM681.8 341.4h3.9V376.2h-3.9zM685.7 341.4h3.9V365.7h-3.9zM709 341.4h3.9V353h-3.9zM712.9 341.4h3.9V393.3h-3.9zM716.8 341.4h3.9V392.2h-3.9zM720.7 341.4h3.9V350.4h-3.9zM744.1 341.4h3.9V390.8h-3.9zM748 341.4h3.9V417.4h-3.9zM751.9 341.4h3.9V347.8h-3.9zM771.4 341.4h3.9V350.1h-3.9zM783.1 341.4h3.9V389.5h-3.9zM787 341.4h3.9V543.2h-3.9zM798.7 341.4h3.9V376.7h-3.9zM802.6 341.4h3.9V349.6h-3.9zM814.3 341.4h3.9V407.2h-3.9zM822.1 341.4h3.9V423.3h-3.9zM837.7 341.4h3.9V346.5h-3.9zM841.6 341.4h3.9V366.3h-3.9zM845.5 341.4h3.9V359.8h-3.9zM857.2 341.4h3.9V395.3h-3.9zM872.8 341.4h3.9V346h-3.9zM876.7 341.4h3.9V378.9h-3.9zM880.6 341.4h3.9V399.5h-3.9zM888.3 341.4h3.9V355h-3.9zM896.1 341.4h3.9V380.5h-3.9zM915.6 341.4h3.9V384.8h-3.9zM919.5 341.4h3.9V393.4h-3.9zM931.2 341.4h3.9V358.7h-3.9zM935.1 341.4h3.9V348.4h-3.9zM942.9 341.4h3.9V366.3h-3.9zM970.2 341.4h3.9V359.7h-3.9zM974.1 341.4h3.9V357.9h-3.9zM985.8 341.4h3.9V390h-3.9zM1001.4 341.4h3.9V435.6h-3.9zM1009.2 341.4h3.9V349h-3.9zM1017 341.4h3.9V371.9h-3.9zM1020.9 341.4h3.9V424.5h-3.9zM1024.8 341.4h3.9V419.5h-3.9zM1028.7 341.4h3.9V348.9h-3.9zM1036.5 341.4h3.9V391.3h-3.9zM1052.1 341.4h3.9V368.2h-3.9zM1056 341.4h3.9V365.8h-3.9zM1067.6 341.4h3.9V362.7h-3.9zM1079.3 341.4h3.9V384.3h-3.9zM1083.2 341.4h3.9V376h-3.9zM1087.1 341.4h3.9V392.4h-3.9zM1091 341.4h3.9V591.7h-3.9zM1094.9 341.4h3.9V528.9h-3.9zM1098.8 341.4h3.9V432h-3.9zM1102.7 341.4h3.9V389.2h-3.9zM1114.4 341.4h3.9V557.2h-3.9zM1130 341.4h3.9V377.2h-3.9zM1133.9 341.4h3.9V346.5h-3.9zM1141.7 341.4h3.9V369.7h-3.9zM1145.6 341.4h3.9V347.7h-3.9zM1149.5 341.4h3.9V370.8h-3.9zM1153.4 341.4h3.9V424.1h-3.9zM1161.2 341.4h3.9V391.8h-3.9zM1165.1 341.4h3.9V349.8h-3.9zM1169 341.4h3.9V378.3h-3.9zM1172.9 341.4h3.9V411.4h-3.9zM1180.7 341.4h3.9V531.7h-3.9zM1188.5 341.4h3.9V475.7h-3.9zM1192.4 341.4h3.9V355.7h-3.9zM1200.2 341.4h3.9V461.7h-3.9zM1204.1 341.4h3.9V399h-3.9zM1208 341.4h3.9V371.4h-3.9zM1254.7 341.4h3.9V573.8h-3.9zM1258.6 341.4h3.9V381.7h-3.9zM1262.5 341.4h3.9V359.7h-3.9zM1266.4 341.4h3.9V446.5h-3.9zM1274.2 341.4h3.9V350.2h-3.9zM1278.1 341.4h3.9V353.6h-3.9zM1301.5 341.4h3.9V353.7h-3.9zM1305.4 341.4h3.9V363.4h-3.9zM1344.4 341.4h3.9V501h-3.9zM1348.3 341.4h3.9V597.7h-3.9zM1352.2 341.4h3.9V373.6h-3.9zM1356.1 341.4h3.9V344.6h-3.9zM1360 341.4h3.9V367.6h-3.9zM1371.7 341.4h3.9V400.5h-3.9zM1375.6 341.4h3.9V431.2h-3.9zM1488.6 341.4h3.9V374.1h-3.9z"/>
<path d="M182.8 341.4h3.9V370.9h-3.9zM186.7 341.4h3.9V356.7h-3.9zM202.3 341.4h3.9V373.1h-3.9zM233.5 341.4h3.9V384.6h-3.9zM334.9 341.4h3.9V407h-3.9zM346.6 341.4h3.9V347.6h-3.9zM354.3 341.4h3.9V401.7h-3.9zM385.5 341.4h3.9V461.9h-3.9zM416.7 341.4h3.9V374.1h-3.9zM420.6 341.4h3.9V392.8h-3.9zM447.9 341.4h3.9V372.6h-3.9zM455.7 341.4h3.9V372.8h-3.9zM533.6 341.4h3.9V428.4h-3.9zM557 341.4h3.9V363.2h-3.9zM560.9 341.4h3.9V374.1h-3.9zM568.7 341.4h3.9V398.4h-3.9zM572.6 341.4h3.9V370h-3.9zM576.5 341.4h3.9V344.6h-3.9zM584.3 341.4h3.9V408.6h-3.9zM596 341.4h3.9V365.9h-3.9zM599.9 341.4h3.9V437.9h-3.9zM607.7 341.4h3.9V369.6h-3.9zM611.6 341.4h3.9V426.2h-3.9zM615.5 341.4h3.9V365.9h-3.9zM631.1 341.4h3.9V354.5h-3.9zM638.9 341.4h3.9V425.4h-3.9zM642.8 341.4h3.9V397.1h-3.9zM650.6 341.4h3.9V391.3h-3.9zM666.2 341.4h3.9V370.7h-3.9zM674 341.4h3.9V375.5h-3.9zM693.5 341.4h3.9V393.3h-3.9zM709 341.4h3.9V399.3h-3.9zM712.9 341.4h3.9V390.8h-3.9zM724.6 341.4h3.9V381.7h-3.9zM736.3 341.4h3.9V344.8h-3.9zM740.2 341.4h3.9V376.5h-3.9zM748 341.4h3.9V531.1h-3.9zM767.5 341.4h3.9V348.6h-3.9zM771.4 341.4h3.9V346.1h-3.9zM775.3 341.4h3.9V452.1h-3.9zM779.2 341.4h3.9V380.9h-3.9zM798.7 341.4h3.9V389.1h-3.9zM806.5 341.4h3.9V367h-3.9zM814.3 341.4h3.9V358.9h-3.9zM826 341.4h3.9V373.8h-3.9zM833.8 341.4h3.9V344.5h-3.9zM837.7 341.4h3.9V349h-3.9zM861.1 341.4h3.9V354.5h-3.9zM872.8 341.4h3.9V406.4h-3.9zM892.2 341.4h3.9V348.1h-3.9zM896.1 341.4h3.9V391.5h-3.9zM900 341.4h3.9V375.7h-3.9zM903.9 341.4h3.9V379.7h-3.9zM919.5 341.4h3.9V357.2h-3.9zM927.3 341.4h3.9V345.7h-3.9zM931.2 341.4h3.9V440.4h-3.9zM954.6 341.4h3.9V410.4h-3.9zM962.4 341.4h3.9V359.8h-3.9zM970.2 341.4h3.9V355.3h-3.9zM978 341.4h3.9V412.3h-3.9zM985.8 341.4h3.9V434.2h-3.9zM1001.4 341.4h3.9V371.5h-3.9zM1005.3 341.4h3.9V403.1h-3.9zM1020.9 341.4h3.9V353.3h-3.9zM1024.8 341.4h3.9V402.2h-3.9zM1028.7 341.4h3.9V369.6h-3.9zM1036.5 341.4h3.9V378.3h-3.9zM1040.4 341.4h3.9V350.3h-3.9zM1052.1 341.4h3.9V352.4h-3.9zM1059.9 341.4h3.9V367.8h-3.9zM1063.7 341.4h3.9V375.8h-3.9zM1075.4 341.4h3.9V346.6h-3.9zM1083.2 341.4h3.9V393.2h-3.9zM1091 341.4h3.9V378.7h-3.9zM1098.8 341.4h3.9V349.3h-3.9zM1106.6 341.4h3.9V376h-3.9zM1114.4 341.4h3.9V442h-3.9zM1118.3 341.4h3.9V423.3h-3.9zM1122.2 341.4h3.9V366.9h-3.9zM1130 341.4h3.9V409.7h-3.9zM1137.8 341.4h3.9V431h-3.9zM1141.7 341.4h3.9V419.1h-3.9zM1149.5 341.4h3.9V431.1h-3.9zM1153.4 341.4h3.9V558.7h-3.9zM1161.2 341.4h3.9V458.7h-3.9zM1165.1 341.4h3.9V365.1h-3.9zM1169 341.4h3.9V417.4h-3.9zM1172.9 341.4h3.9V374.5h-3.9zM1176.8 341.4h3.9V348.2h-3.9zM1180.7 341.4h3.9V356.8h-3.9zM1184.6 341.4h3.9V405.6h-3.9zM1192.4 341.4h3.9V347.8h-3.9zM1200.2 341.4h3.9V347.9h-3.9zM1204.1 341.4h3.9V372.7h-3.9zM1208 341.4h3.9V381.7h-3.9zM1211.9 341.4h3.9V363.5h-3.9zM1215.8 341.4h3.9V439.1h-3.9zM1219.7 341.4h3.9V384.7h-3.9zM1227.5 341.4h3.9V418.5h-3.9zM1231.4 341.4h3.9V355.2h-3.9zM1239.2 341.4h3.9V394.4h-3.9zM1243 341.4h3.9V352.6h-3.9zM1246.9 341.4h3.9V346.8h-3.9zM1250.8 341.4h3.9V358.9h-3.9zM1254.7 341.4h3.9V464.7h-3.9zM1258.6 341.4h3.9V353.8h-3.9zM1262.5 341.4h3.9V394.1h-3.9zM1282 341.4h3.9V395.3h-3.9zM1285.9 341.4h3.9V370.5h-3.9zM1293.7 341.4h3.9V373.5h-3.9zM1297.6 341.4h3.9V417.7h-3.9zM1301.5 341.4h3.9V431.5h-3.9zM1313.2 341.4h3.9V385.4h-3.9zM1344.4 341.4h3.9V344.6h-3.9zM1356.1 341.4h3.9V373.4h-3.9zM1360 341.4h3.9V372.9h-3.9zM1363.9 341.4h3.9V361.7h-3.9zM1367.8 341.4h3.9V499.5h-3.9zM1371.7 341.4h3.9V369.5h-3.9zM1387.3 341.4h3.9V364h-3.9zM1395.1 341.4h3.9V457.1h-3.9zM1406.8 341.4h3.9V423.8h-3.9zM1473 341.4h3.9V350.4h-3.9z"/>
<path d="M116.6 341.4h3.9V344.5h-3.9zM225.7 341.4h3.9V363.1h-3.9zM276.4 341.4h3.9V346.5h-3.9zM327.1 341.4h3.9V372.6h-3.9zM334.9 341.4h3.9V437.9h-3.9zM350.5 341.4h3.9V391.1h-3.9zM369.9 341.4h3.9V405.3h-3.9zM373.8 341.4h3.9V453.7h-3.9zM389.4 341.4h3.9V361.5h-3.9zM463.5 341.4h3.9V415.8h-3.9zM502.5 341.4h3.9V363.6h-3.9zM514.2 341.4h3.9V458.4h-3.9zM525.9 341.4h3.9V346.5h-3.9zM533.6 341.4h3.9V344.4h-3.9zM537.5 341.4h3.9V361.3h-3.9zM545.3 341.4h3.9V363.2h-3.9zM560.9 341.4h3.9V482.4h-3.9zM564.8 341.4h3.9V347.3h-3.9zM568.7 341.4h3.9V351.6h-3.9zM572.6 341.4h3.9V426.3h-3.9zM588.2 341.4h3.9V367.6h-3.9zM599.9 341.4h3.9V364.1h-3.9zM611.6 341.4h3.9V360.7h-3.9zM615.5 341.4h3.9V455.2h-3.9zM619.4 341.4h3.9V346.3h-3.9zM623.3 341.4h3.9V470.5h-3.9zM631.1 341.4h3.9V356h-3.9zM635 341.4h3.9V369.5h-3.9zM638.9 341.4h3.9V393h-3.9zM642.8 341.4h3.9V351.6h-3.9zM646.7 341.4h3.9V379.8h-3.9zM662.3 341.4h3.9V460.4h-3.9zM666.2 341.4h3.9V400.1h-3.9zM674 341.4h3.9V369.3h-3.9zM677.9 341.4h3.9V371.1h-3.9zM693.5 341.4h3.9V372.2h-3.9zM697.4 341.4h3.9V451.7h-3.9zM701.3 341.4h3.9V421.8h-3.9zM705.2 341.4h3.9V352.3h-3.9zM709 341.4h3.9V385.2h-3.9zM712.9 341.4h3.9V378h-3.9zM716.8 341.4h3.9V346.2h-3.9zM728.5 341.4h3.9V344.7h-3.9zM744.1 341.4h3.9V366.9h-3.9zM748 341.4h3.9V375.9h-3.9zM751.9 341.4h3.9V425.1h-3.9zM755.8 341.4h3.9V347.9h-3.9zM759.7 341.4h3.9V360.7h-3.9zM767.5 341.4h3.9V349h-3.9zM771.4 341.4h3.9V369.1h-3.9zM787 341.4h3.9V345.8h-3.9zM790.9 341.4h3.9V420.9h-3.9zM798.7 341.4h3.9V386.5h-3.9zM806.5 341.4h3.9V350.4h-3.9zM810.4 341.4h3.9V355.7h-3.9zM814.3 341.4h3.9V349.8h-3.9zM837.7 341.4h3.9V364.9h-3.9zM845.5 341.4h3.9V352.1h-3.9zM853.3 341.4h3.9V405.8h-3.9zM857.2 341.4h3.9V443.2h-3.9zM865 341.4h3.9V386.4h-3.9zM868.9 341.4h3.9V356.5h-3.9zM880.6 341.4h3.9V348.9h-3.9zM888.3 341.4h3.9V358.9h-3.9zM892.2 341.4h3.9V343.8h-3.9zM900 341.4h3.9V388.4h-3.9zM911.7 341.4h3.9V361.6h-3.9zM919.5 341.4h3.9V409.6h-3.9zM923.4 341.4h3.9V361.2h-3.9zM931.2 341.4h3.9V557.1h-3.9zM946.8 341.4h3.9V571.7h-3.9zM950.7 341.4h3.9V397.2h-3.9zM954.6 341.4h3.9V354.6h-3.9zM958.5 341.4h3.9V352.5h-3.9zM962.4 341.4h3.9V444.9h-3.9zM970.2 341.4h3.9V348.4h-3.9zM978 341.4h3.9V361.6h-3.9zM981.9 341.4h3.9V344h-3.9zM989.7 341.4h3.9V345.8h-3.9zM997.5 341.4h3.9V364.1h-3.9zM1001.4 341.4h3.9V360.2h-3.9zM1005.3 341.4h3.9V517.4h-3.9zM1024.8 341.4h3.9V367.8h-3.9zM1028.7 341.4h3.9V343.8h-3.9zM1036.5 341.4h3.9V344h-3.9zM1040.4 341.4h3.9V400.3h-3.9zM1044.3 341.4h3.9V517.2h-3.9zM1048.2 341.4h3.9V391.6h-3.9zM1052.1 341.4h3.9V351h-3.9zM1056 341.4h3.9V363.6h-3.9zM1063.7 341.4h3.9V375.8h-3.9zM1067.6 341.4h3.9V356.5h-3.9zM1075.4 341.4h3.9V462.9h-3.9zM1079.3 341.4h3.9V361.5h-3.9zM1087.1 341.4h3.9V387h-3.9zM1091 341.4h3.9V385h-3.9zM1102.7 341.4h3.9V351.1h-3.9zM1106.6 341.4h3.9V348.5h-3.9zM1110.5 341.4h3.9V365.5h-3.9zM1114.4 341.4h3.9V446.9h-3.9zM1118.3 341.4h3.9V362.4h-3.9zM1122.2 341.4h3.9V423.7h-3.9zM1130 341.4h3.9V346.5h-3.9zM1145.6 341.4h3.9V390.5h-3.9zM1149.5 341.4h3.9V376.8h-3.9zM1153.4 341.4h3.9V408.9h-3.9zM1157.3 341.4h3.9V392h-3.9zM1161.2 341.4h3.9V354.1h-3.9zM1165.1 341.4h3.9V368h-3.9zM1169 341.4h3.9V378.5h-3.9zM1172.9 341.4h3.9V382.1h-3.9zM1176.8 341.4h3.9V382.7h-3.9zM1180.7 341.4h3.9V423.5h-3.9zM1184.6 341.4h3.9V357h-3.9zM1192.4 341.4h3.9V423.3h-3.9zM1196.3 341.4h3.9V381.1h-3.9zM1208 341.4h3.9V371.4h-3.9zM1211.9 341.4h3.9V515.9h-3.9zM1219.7 341.4h3.9V396.7h-3.9zM1223.6 341.4h3.9V527.2h-3.9zM1227.5 341.4h3.9V367.2h-3.9zM1231.4 341.4h3.9V345.6h-3.9zM1243 341.4h3.9V347.1h-3.9zM1250.8 341.4h3.9V346.8h-3.9zM1270.3 341.4h3.9V360.7h-3.9zM1282 341.4h3.9V350.5h-3.9zM1285.9 341.4h3.9V374.8h-3.9zM1289.8 341.4h3.9V430.5h-3.9zM1293.7 341.4h3.9V386.8h-3.9zM1321 341.4h3.9V357.7h-3.9zM1348.3 341.4h3.9V380.1h-3.9zM1356.1 341.4h3.9V377.8h-3.9zM1367.8 341.4h3.9V372.2h-3.9zM1445.7 341.4h3.9V353.5h-3.9zM1461.3 341.4h3.9V350.3h-3.9z"/>
<path d="M202.3 341.4h3.9V355.6h-3.9zM237.4 341.4h3.9V394.6h-3.9zM342.7 341.4h3.9V346.7h-3.9zM373.8 341.4h3.9V416.1h-3.9zM381.6 341.4h3.9V384.5h-3.9zM385.5 341.4h3.9V344.2h-3.9zM401.1 341.4h3.9V435.5h-3.9zM436.2 341.4h3.9V374.7h-3.9zM444 341.4h3.9V530.8h-3.9zM455.7 341.4h3.9V452.1h-3.9zM463.5 341.4h3.9V447.9h-3.9zM475.2 341.4h3.9V365.7h-3.9zM486.9 341.4h3.9V383.1h-3.9zM506.4 341.4h3.9V477.7h-3.9zM510.3 341.4h3.9V364.7h-3.9zM514.2 341.4h3.9V352.4h-3.9zM537.5 341.4h3.9V438.5h-3.9zM553.1 341.4h3.9V366.9h-3.9zM557 341.4h3.9V412.7h-3.9zM576.5 341.4h3.9V479.6h-3.9zM580.4 341.4h3.9V352.6h-3.9zM588.2 341.4h3.9V359.1h-3.9zM592.1 341.4h3.9V357.8h-3.9zM599.9 341.4h3.9V371.4h-3.9zM603.8 341.4h3.9V409.4h-3.9zM607.7 341.4h3.9V353.8h-3.9zM619.4 341.4h3.9V462h-3.9zM623.3 341.4h3.9V356.1h-3.9zM627.2 341.4h3.9V351.3h-3.9zM638.9 341.4h3.9V385.3h-3.9zM642.8 341.4h3.9V410.2h-3.9zM646.7 341.4h3.9V413.4h-3.9zM650.6 341.4h3.9V379.6h-3.9zM662.3 341.4h3.9V373.9h-3.9zM681.8 341.4h3.9V403.3h-3.9zM697.4 341.4h3.9V412.3h-3.9zM716.8 341.4h3.9V412.1h-3.9zM720.7 341.4h3.9V355.9h-3.9zM732.4 341.4h3.9V378.3h-3.9zM740.2 341.4h3.9V393.1h-3.9zM748 341.4h3.9V380.6h-3.9zM751.9 341.4h3.9V526.8h-3.9zM755.8 341.4h3.9V352.6h-3.9zM759.7 341.4h3.9V344.1h-3.9zM771.4 341.4h3.9V395.9h-3.9zM787 341.4h3.9V364.5h-3.9zM798.7 341.4h3.9V343.5h-3.9zM802.6 341.4h3.9V449.1h-3.9zM810.4 341.4h3.9V351.4h-3.9zM822.1 341.4h3.9V373.4h-3.9zM829.9 341.4h3.9V343.6h-3.9zM833.8 341.4h3.9V381.8h-3.9zM845.5 341.4h3.9V358.5h-3.9zM849.4 341.4h3.9V355.1h-3.9zM861.1 341.4h3.9V437.9h-3.9zM872.8 341.4h3.9V357.4h-3.9zM876.7 341.4h3.9V379h-3.9zM880.6 341.4h3.9V390.7h-3.9zM884.5 341.4h3.9V367.1h-3.9zM888.3 341.4h3.9V385h-3.9zM896.1 341.4h3.9V453.9h-3.9zM911.7 341.4h3.9V366.8h-3.9zM935.1 341.4h3.9V369.1h-3.9zM942.9 341.4h3.9V346.4h-3.9zM946.8 341.4h3.9V362.2h-3.9zM958.5 341.4h3.9V425.7h-3.9zM970.2 341.4h3.9V404.8h-3.9zM974.1 341.4h3.9V396.9h-3.9zM978 341.4h3.9V388.9h-3.9zM981.9 341.4h3.9V347.4h-3.9zM985.8 341.4h3.9V366.8h-3.9zM989.7 341.4h3.9V371.5h-3.9zM997.5 341.4h3.9V432.7h-3.9zM1001.4 341.4h3.9V343.4h-3.9zM1013.1 341.4h3.9V509.9h-3.9zM1028.7 341.4h3.9V378h-3.9zM1032.6 341.4h3.9V366.5h-3.9zM1036.5 341.4h3.9V415.9h-3.9zM1040.4 341.4h3.9V348.1h-3.9zM1048.2 341.4h3.9V357.8h-3.9zM1052.1 341.4h3.9V357.8h-3.9zM1056 341.4h3.9V535.8h-3.9zM1071.5 341.4h3.9V407.3h-3.9zM1079.3 341.4h3.9V421.7h-3.9zM1083.2 341.4h3.9V394.9h-3.9zM1087.1 341.4h3.9V366.5h-3.9zM1091 341.4h3.9V349.7h-3.9zM1098.8 341.4h3.9V399.4h-3.9zM1102.7 341.4h3.9V358h-3.9zM1106.6 341.4h3.9V443.6h-3.9zM1110.5 341.4h3.9V421.9h-3.9zM1118.3 341.4h3.9V385.2h-3.9zM1122.2 341.4h3.9V472.7h-3.9zM1126.1 341.4h3.9V383.5h-3.9zM1137.8 341.4h3.9V365.3h-3.9zM1141.7 341.4h3.9V354.6h-3.9zM1145.6 341.4h3.9V389.8h-3.9zM1149.5 341.4h3.9V359.5h-3.9zM1153.4 341.4h3.9V365.3h-3.9zM1157.3 341.4h3.9V373.4h-3.9zM1161.2 341.4h3.9V347.9h-3.9zM1169 341.4h3.9V373.1h-3.9zM1172.9 341.4h3.9V350h-3.9zM1176.8 341.4h3.9V373.6h-3.9zM1184.6 341.4h3.9V424.3h-3.9zM1192.4 341.4h3.9V449.9h-3.9zM1196.3 341.4h3.9V392.9h-3.9zM1200.2 341.4h3.9V346.1h-3.9zM1204.1 341.4h3.9V447.4h-3.9zM1208 341.4h3.9V435h-3.9zM1211.9 341.4h3.9V353.9h-3.9zM1215.8 341.4h3.9V418.6h-3.9zM1219.7 341.4h3.9V359.7h-3.9zM1227.5 341.4h3.9V540h-3.9zM1231.4 341.4h3.9V355.9h-3.9zM1243 341.4h3.9V358.3h-3.9zM1246.9 341.4h3.9V351h-3.9zM1262.5 341.4h3.9V373.8h-3.9zM1266.4 341.4h3.9V492.5h-3.9zM1274.2 341.4h3.9V442.5h-3.9zM1282 341.4h3.9V426.4h-3.9zM1285.9 341.4h3.9V349.5h-3.9zM1309.3 341.4h3.9V418.5h-3.9zM1313.2 341.4h3.9V406.2h-3.9zM1317.1 341.4h3.9V348.3h-3.9zM1324.9 341.4h3.9V380.9h-3.9zM1340.5 341.4h3.9V358.1h-3.9zM1344.4 341.4h3.9V442.9h-3.9zM1352.2 341.4h3.9V447.5h-3.9zM1363.9 341.4h3.9V369.5h-3.9z"/>
<path d="M120.5 341.4h3.9V345.1h-3.9zM163.4 341.4h3.9V470h-3.9zM202.3 341.4h3.9V379.9h-3.9zM229.6 341.4h3.9V351.9h-3.9zM346.6 341.4h3.9V363.8h-3.9zM377.7 341.4h3.9V344.7h-3.9zM397.2 341.4h3.9V468h-3.9zM424.5 341.4h3.9V355.6h-3.9zM522 341.4h3.9V412.7h-3.9zM541.4 341.4h3.9V524h-3.9zM545.3 341.4h3.9V402.6h-3.9zM557 341.4h3.9V404.8h-3.9zM580.4 341.4h3.9V345.1h-3.9zM588.2 341.4h3.9V368h-3.9zM599.9 341.4h3.9V366.6h-3.9zM603.8 341.4h3.9V360.6h-3.9zM607.7 341.4h3.9V359.7h-3.9zM619.4 341.4h3.9V365.8h-3.9zM627.2 341.4h3.9V348.6h-3.9zM635 341.4h3.9V365.8h-3.9zM642.8 341.4h3.9V416.6h-3.9zM646.7 341.4h3.9V363h-3.9zM654.5 341.4h3.9V457.6h-3.9zM670.1 341.4h3.9V611.3h-3.9zM674 341.4h3.9V462.4h-3.9zM677.9 341.4h3.9V350.4h-3.9zM689.6 341.4h3.9V393.9h-3.9zM693.5 341.4h3.9V365.8h-3.9zM697.4 341.4h3.9V363.9h-3.9zM701.3 341.4h3.9V376.7h-3.9zM709 341.4h3.9V357.2h-3.9zM712.9 341.4h3.9V363.9h-3.9zM716.8 341.4h3.9V345.9h-3.9zM724.6 341.4h3.9V376.1h-3.9zM728.5 341.4h3.9V346.3h-3.9zM732.4 341.4h3.9V361.3h-3.9zM740.2 341.4h3.9V383.9h-3.9zM744.1 341.4h3.9V375.7h-3.9zM748 341.4h3.9V492h-3.9zM787 341.4h3.9V384.8h-3.9zM790.9 341.4h3.9V348.7h-3.9zM798.7 341.4h3.9V370.2h-3.9zM802.6 341.4h3.9V422.5h-3.9zM810.4 341.4h3.9V348.4h-3.9zM814.3 341.4h3.9V366h-3.9zM822.1 341.4h3.9V397.1h-3.9zM826 341.4h3.9V385.4h-3.9zM837.7 341.4h3.9V377.5h-3.9zM853.3 341.4h3.9V416.6h-3.9zM872.8 341.4h3.9V399.3h-3.9zM880.6 341.4h3.9V386h-3.9zM907.8 341.4h3.9V357.8h-3.9zM911.7 341.4h3.9V505.7h-3.9zM919.5 341.4h3.9V383.6h-3.9zM946.8 341.4h3.9V377.9h-3.9zM950.7 341.4h3.9V370.6h-3.9zM954.6 341.4h3.9V400.2h-3.9zM958.5 341.4h3.9V348.1h-3.9zM962.4 341.4h3.9V381.7h-3.9zM989.7 341.4h3.9V379.8h-3.9zM997.5 341.4h3.9V382.3h-3.9zM1001.4 341.4h3.9V358.1h-3.9zM1005.3 341.4h3.9V420.5h-3.9zM1009.2 341.4h3.9V373.5h-3.9zM1013.1 341.4h3.9V364.6h-3.9zM1017 341.4h3.9V354h-3.9zM1028.7 341.4h3.9V349.8h-3.9zM1032.6 341.4h3.9V423.9h-3.9zM1036.5 341.4h3.9V387.4h-3.9zM1040.4 341.4h3.9V397.3h-3.9zM1044.3 341.4h3.9V407.8h-3.9zM1048.2 341.4h3.9V587.9h-3.9zM1052.1 341.4h3.9V410.7h-3.9zM1059.9 341.4h3.9V345.5h-3.9zM1067.6 341.4h3.9V389h-3.9zM1071.5 341.4h3.9V531.3h-3.9zM1083.2 341.4h3.9V346.4h-3.9zM1087.1 341.4h3.9V354.8h-3.9zM1098.8 341.4h3.9V497.7h-3.9zM1102.7 341.4h3.9V378.5h-3.9zM1106.6 341.4h3.9V496.1h-3.9zM1110.5 341.4h3.9V398.6h-3.9zM1114.4 341.4h3.9V384.7h-3.9zM1122.2 341.4h3.9V412.5h-3.9zM1126.1 341.4h3.9V389.7h-3.9zM1133.9 341.4h3.9V388.7h-3.9zM1141.7 341.4h3.9V389.9h-3.9zM1149.5 341.4h3.9V520.9h-3.9zM1165.1 341.4h3.9V405.1h-3.9zM1169 341.4h3.9V364.4h-3.9zM1172.9 341.4h3.9V372.5h-3.9zM1184.6 341.4h3.9V356.6h-3.9zM1188.5 341.4h3.9V387.5h-3.9zM1192.4 341.4h3.9V357.5h-3.9zM1196.3 341.4h3.9V426.6h-3.9zM1200.2 341.4h3.9V347.5h-3.9zM1208 341.4h3.9V383.6h-3.9zM1211.9 341.4h3.9V354.5h-3.9zM1215.8 341.4h3.9V389h-3.9zM1227.5 341.4h3.9V430.4h-3.9zM1235.3 341.4h3.9V350.9h-3.9zM1246.9 341.4h3.9V343.5h-3.9zM1258.6 341.4h3.9V362.5h-3.9zM1262.5 341.4h3.9V344.6h-3.9zM1266.4 341.4h3.9V425.4h-3.9zM1270.3 341.4h3.9V391.7h-3.9zM1289.8 341.4h3.9V418.1h-3.9zM1297.6 341.4h3.9V389.7h-3.9zM1301.5 341.4h3.9V383.7h-3.9zM1305.4 341.4h3.9V545h-3.9zM1313.2 341.4h3.9V487.5h-3.9zM1324.9 341.4h3.9V359.9h-3.9zM1348.3 341.4h3.9V361.2h-3.9zM1375.6 341.4h3.9V428.6h-3.9zM1387.3 341.4h3.9V346.8h-3.9zM1406.8 341.4h3.9V404h-3.9zM1496.4 341.4h3.9V376.5h-3.9z"/>
<path d="M93.2 341.4h3.9V403.9h-3.9zM112.7 341.4h3.9V344h-3.9zM120.5 341.4h3.9V398.8h-3.9zM186.7 341.4h3.9V356h-3.9zM198.4 341.4h3.9V432.8h-3.9zM260.8 341.4h3.9V366.5h-3.9zM369.9 341.4h3.9V369.5h-3.9zM393.3 341.4h3.9V390.9h-3.9zM436.2 341.4h3.9V394.2h-3.9zM447.9 341.4h3.9V363.5h-3.9zM459.6 341.4h3.9V393.8h-3.9zM498.6 341.4h3.9V354.1h-3.9zM510.3 341.4h3.9V353.3h-3.9zM514.2 341.4h3.9V344.3h-3.9zM518.1 341.4h3.9V382.2h-3.9zM522 341.4h3.9V360.5h-3.9zM529.8 341.4h3.9V373.7h-3.9zM541.4 341.4h3.9V360.8h-3.9zM545.3 341.4h3.9V461.1h-3.9zM549.2 341.4h3.9V346.7h-3.9zM553.1 341.4h3.9V405.7h-3.9zM564.8 341.4h3.9V409.7h-3.9zM568.7 341.4h3.9V345.3h-3.9zM580.4 341.4h3.9V363.7h-3.9zM584.3 341.4h3.9V364.4h-3.9zM588.2 341.4h3.9V446h-3.9zM592.1 341.4h3.9V540.8h-3.9zM599.9 341.4h3.9V381.5h-3.9zM603.8 341.4h3.9V381.2h-3.9zM619.4 341.4h3.9V365.4h-3.9zM623.3 341.4h3.9V363.1h-3.9zM631.1 341.4h3.9V361.8h-3.9zM635 341.4h3.9V385.5h-3.9zM638.9 341.4h3.9V530.9h-3.9zM646.7 341.4h3.9V365.7h-3.9zM650.6 341.4h3.9V396.6h-3.9zM654.5 341.4h3.9V384.3h-3.9zM658.4 341.4h3.9V417.9h-3.9zM666.2 341.4h3.9V350.7h-3.9zM670.1 341.4h3.9V444.6h-3.9zM677.9 341.4h3.9V360.7h-3.9zM689.6 341.4h3.9V357.2h-3.9zM693.5 341.4h3.9V438.7h-3.9zM709 341.4h3.9V362.8h-3.9zM716.8 341.4h3.9V420.3h-3.9zM720.7 341.4h3.9V432.6h-3.9zM748 341.4h3.9V360.5h-3.9zM767.5 341.4h3.9V411.6h-3.9zM771.4 341.4h3.9V343.6h-3.9zM775.3 341.4h3.9V380.4h-3.9zM814.3 341.4h3.9V348h-3.9zM829.9 341.4h3.9V360.1h-3.9zM833.8 341.4h3.9V346.8h-3.9zM841.6 341.4h3.9V346.1h-3.9zM845.5 341.4h3.9V350.5h-3.9zM857.2 341.4h3.9V350.9h-3.9zM861.1 341.4h3.9V399.9h-3.9zM865 341.4h3.9V611.3h-3.9zM880.6 341.4h3.9V375h-3.9zM884.5 341.4h3.9V360.4h-3.9zM892.2 341.4h3.9V386.4h-3.9zM919.5 341.4h3.9V366.9h-3.9zM923.4 341.4h3.9V376.9h-3.9zM931.2 341.4h3.9V471.2h-3.9zM939 341.4h3.9V442.1h-3.9zM942.9 341.4h3.9V351.3h-3.9zM946.8 341.4h3.9V375.1h-3.9zM950.7 341.4h3.9V347.6h-3.9zM954.6 341.4h3.9V392.7h-3.9zM958.5 341.4h3.9V349.3h-3.9zM966.3 341.4h3.9V364.3h-3.9zM974.1 341.4h3.9V405.1h-3.9zM985.8 341.4h3.9V458.4h-3.9zM993.6 341.4h3.9V354.1h-3.9zM997.5 341.4h3.9V351h-3.9zM1005.3 341.4h3.9V358h-3.9zM1017 341.4h3.9V507.3h-3.9zM1024.8 341.4h3.9V407.4h-3.9zM1028.7 341.4h3.9V347.7h-3.9zM1036.5 341.4h3.9V344.6h-3.9zM1048.2 341.4h3.9V373.9h-3.9zM1052.1 341.4h3.9V403.1h-3.9zM1056 341.4h3.9V498.3h-3.9zM1059.9 341.4h3.9V451.1h-3.9zM1063.7 341.4h3.9V383.1h-3.9zM1067.6 341.4h3.9V372h-3.9zM1079.3 341.4h3.9V460.2h-3.9zM1087.1 341.4h3.9V384h-3.9zM1091 341.4h3.9V385.9h-3.9zM1094.9 341.4h3.9V365.9h-3.9zM1098.8 341.4h3.9V361.9h-3.9zM1102.7 341.4h3.9V378.7h-3.9zM1106.6 341.4h3.9V373.9h-3.9zM1114.4 341.4h3.9V528.7h-3.9zM1118.3 341.4h3.9V375.2h-3.9zM1122.2 341.4h3.9V352.5h-3.9zM1126.1 341.4h3.9V484.2h-3.9zM1130 341.4h3.9V350.8h-3.9zM1133.9 341.4h3.9V361.8h-3.9zM1137.8 341.4h3.9V354.9h-3.9zM1141.7 341.4h3.9V460.9h-3.9zM1149.5 341.4h3.9V441h-3.9zM1153.4 341.4h3.9V387.1h-3.9zM1157.3 341.4h3.9V385.7h-3.9zM1161.2 341.4h3.9V546.8h-3.9zM1172.9 341.4h3.9V418.5h-3.9zM1176.8 341.4h3.9V454.2h-3.9zM1180.7 341.4h3.9V345.1h-3.9zM1184.6 341.4h3.9V363.9h-3.9zM1192.4 341.4h3.9V350.3h-3.9zM1196.3 341.4h3.9V354.8h-3.9zM1200.2 341.4h3.9V401.9h-3.9zM1204.1 341.4h3.9V372.5h-3.9zM1211.9 341.4h3.9V380.6h-3.9zM1215.8 341.4h3.9V477.3h-3.9zM1219.7 341.4h3.9V446.1h-3.9zM1223.6 341.4h3.9V350.6h-3.9zM1227.5 341.4h3.9V351.4h-3.9zM1231.4 341.4h3.9V559.7h-3.9zM1239.2 341.4h3.9V363.5h-3.9zM1243 341.4h3.9V344.4h-3.9zM1250.8 341.4h3.9V366.6h-3.9zM1254.7 341.4h3.9V532.3h-3.9zM1266.4 341.4h3.9V441.4h-3.9zM1274.2 341.4h3.9V459.1h-3.9zM1305.4 341.4h3.9V392.5h-3.9zM1309.3 341.4h3.9V360.6h-3.9zM1328.8 341.4h3.9V384.3h-3.9zM1336.6 341.4h3.9V352.4h-3.9zM1340.5 341.4h3.9V357.8h-3.9zM1356.1 341.4h3.9V358.3h-3.9zM1360 341.4h3.9V344.4h-3.9zM1367.8 341.4h3.9V445.2h-3.9zM1379.5 341.4h3.9V358.2h-3.9zM1399 341.4h3.9V411.5h-3.9zM1500.3 341.4h3.9V456.9h-3.9z"/>
<path d="M214 341.4h3.9V366h-3.9zM229.6 341.4h3.9V355.3h-3.9zM272.5 341.4h3.9V383.1h-3.9zM373.8 341.4h3.9V397h-3.9zM377.7 341.4h3.9V366.5h-3.9zM467.4 341.4h3.9V420.7h-3.9zM494.7 341.4h3.9V423.3h-3.9zM506.4 341.4h3.9V347.6h-3.9zM510.3 341.4h3.9V345h-3.9zM522 341.4h3.9V391.8h-3.9zM533.6 341.4h3.9V506.4h-3.9zM576.5 341.4h3.9V429.8h-3.9zM580.4 341.4h3.9V354.6h-3.9zM592.1 341.4h3.9V393.1h-3.9zM599.9 341.4h3.9V365.7h-3.9zM615.5 341.4h3.9V358.9h-3.9zM619.4 341.4h3.9V397.3h-3.9zM623.3 341.4h3.9V394.8h-3.9zM631.1 341.4h3.9V346.6h-3.9zM646.7 341.4h3.9V348h-3.9zM654.5 341.4h3.9V347.2h-3.9zM666.2 341.4h3.9V356.3h-3.9zM670.1 341.4h3.9V404.2h-3.9zM681.8 341.4h3.9V364h-3.9zM685.7 341.4h3.9V373.4h-3.9zM705.2 341.4h3.9V468.6h-3.9zM728.5 341.4h3.9V378.5h-3.9zM748 341.4h3.9V346.6h-3.9zM759.7 341.4h3.9V383.3h-3.9zM779.2 341.4h3.9V379.9h-3.9zM810.4 341.4h3.9V405.7h-3.9zM814.3 341.4h3.9V425.1h-3.9zM826 341.4h3.9V378.8h-3.9zM845.5 341.4h3.9V382.2h-3.9zM849.4 341.4h3.9V393.7h-3.9zM861.1 341.4h3.9V522.3h-3.9zM865 341.4h3.9V355.9h-3.9zM872.8 341.4h3.9V346.5h-3.9zM892.2 341.4h3.9V545h-3.9zM896.1 341.4h3.9V401h-3.9zM900 341.4h3.9V347h-3.9zM907.8 341.4h3.9V354.7h-3.9zM919.5 341.4h3.9V349.8h-3.9zM927.3 341.4h3.9V352.8h-3.9zM935.1 341.4h3.9V368.4h-3.9zM939 341.4h3.9V367.6h-3.9zM946.8 341.4h3.9V412.8h-3.9zM950.7 341.4h3.9V375.8h-3.9zM962.4 341.4h3.9V370.3h-3.9zM970.2 341.4h3.9V462.6h-3.9zM989.7 341.4h3.9V344.1h-3.9zM1001.4 341.4h3.9V391.1h-3.9zM1013.1 341.4h3.9V364.2h-3.9zM1032.6 341.4h3.9V541.7h-3.9zM1036.5 341.4h3.9V423.9h-3.9zM1040.4 341.4h3.9V362h-3.9zM1044.3 341.4h3.9V500.6h-3.9zM1048.2 341.4h3.9V446.5h-3.9zM1056 341.4h3.9V417.5h-3.9zM1063.7 341.4h3.9V346.8h-3.9zM1067.6 341.4h3.9V473.2h-3.9zM1071.5 341.4h3.9V410h-3.9zM1075.4 341.4h3.9V405.1h-3.9zM1087.1 341.4h3.9V362.5h-3.9zM1091 341.4h3.9V404.3h-3.9zM1094.9 341.4h3.9V413.9h-3.9zM1102.7 341.4h3.9V352h-3.9zM1114.4 341.4h3.9V354.2h-3.9zM1133.9 341.4h3.9V485.2h-3.9zM1141.7 341.4h3.9V500.1h-3.9zM1145.6 341.4h3.9V385.6h-3.9zM1149.5 341.4h3.9V477.9h-3.9zM1157.3 341.4h3.9V378.2h-3.9zM1161.2 341.4h3.9V445.7h-3.9zM1169 341.4h3.9V365.7h-3.9zM1172.9 341.4h3.9V470.5h-3.9zM1176.8 341.4h3.9V407.3h-3.9zM1180.7 341.4h3.9V394.7h-3.9zM1188.5 341.4h3.9V465.7h-3.9zM1196.3 341.4h3.9V453.9h-3.9zM1200.2 341.4h3.9V385.6h-3.9zM1204.1 341.4h3.9V413.8h-3.9zM1215.8 341.4h3.9V424.4h-3.9zM1219.7 341.4h3.9V490.7h-3.9zM1231.4 341.4h3.9V477h-3.9zM1235.3 341.4h3.9V409.1h-3.9zM1239.2 341.4h3.9V370h-3.9zM1250.8 341.4h3.9V352.4h-3.9zM1262.5 341.4h3.9V355.6h-3.9zM1266.4 341.4h3.9V351.7h-3.9zM1270.3 341.4h3.9V385h-3.9zM1274.2 341.4h3.9V497.6h-3.9zM1278.1 341.4h3.9V393.8h-3.9zM1285.9 341.4h3.9V394.7h-3.9zM1317.1 341.4h3.9V455.6h-3.9zM1328.8 341.4h3.9V369.6h-3.9zM1348.3 341.4h3.9V413.2h-3.9zM1352.2 341.4h3.9V366.5h-3.9zM1375.6 341.4h3.9V372.6h-3.9zM1406.8 341.4h3.9V373.9h-3.9zM1441.8 341.4h3.9V366.8h-3.9zM1504.2 341.4h3.9V365.2h-3.9z"/>
</g>
</g>
<path d="M1284.1,93.0A13.9,13.9 0 1,0 1284.1,112.6" fill="none" stroke="url(#gRing)" stroke-width="1.7"/><path d="M1282.0,95.1A10.9,10.9 0 1,0 1282.0,110.5" fill="none" stroke="url(#gRing)" stroke-width="1.7"/><clipPath id="sc1259"><circle cx="1296.1" cy="102.8" r="14.6"/></clipPath><path d="M1281.5,88.20h29.2v2.39h-29.2zM1281.5,90.80h29.2v2.26h-29.2zM1281.5,93.40h29.2v2.14h-29.2zM1281.5,96.00h29.2v2.01h-29.2zM1281.5,98.60h29.2v1.88h-29.2zM1281.5,101.20h29.2v1.76h-29.2zM1281.5,103.80h29.2v1.63h-29.2zM1281.5,106.40h29.2v1.50h-29.2zM1281.5,109.00h29.2v1.37h-29.2zM1281.5,111.60h29.2v1.25h-29.2zM1281.5,114.20h29.2v1.12h-29.2zM1281.5,116.80h29.2v0.99h-29.2z" fill="url(#gSunL)" clip-path="url(#sc1259)"/><text x="1314.3" y="112.5" font-size="24.3" fill="#1a9cff">ClimeChart.com</text>
<path d="M121.4,571.3A13.9,13.9 0 1,0 121.4,590.9" fill="none" stroke="url(#gRing)" stroke-width="1.7"/><path d="M119.3,573.4A10.9,10.9 0 1,0 119.3,588.8" fill="none" stroke="url(#gRing)" stroke-width="1.7"/><clipPath id="sc96"><circle cx="133.4" cy="581.1" r="14.6"/></clipPath><path d="M118.8,566.50h29.2v2.39h-29.2zM118.8,569.10h29.2v2.26h-29.2zM118.8,571.70h29.2v2.14h-29.2zM118.8,574.30h29.2v2.01h-29.2zM118.8,576.90h29.2v1.88h-29.2zM118.8,579.50h29.2v1.76h-29.2zM118.8,582.10h29.2v1.63h-29.2zM118.8,584.70h29.2v1.50h-29.2zM118.8,587.30h29.2v1.37h-29.2zM118.8,589.90h29.2v1.25h-29.2zM118.8,592.50h29.2v1.12h-29.2zM118.8,595.10h29.2v0.99h-29.2z" fill="url(#gSunL)" clip-path="url(#sc96)"/><text x="151.6" y="590.8" font-size="24.3" fill="#1a9cff">ClimeChart.com</text>
<path d="M85.4 581.3H1508.1M85.4 554.7H1508.1M85.4 528.0H1508.1M85.4 501.4H1508.1M85.4 474.7H1508.1M85.4 448.0H1508.1M85.4 421.4H1508.1M85.4 394.7H1508.1M85.4 368.1H1508.1M85.4 314.7H1508.1M85.4 288.1H1508.1M85.4 261.4H1508.1M85.4 234.8H1508.1M85.4 208.1H1508.1M85.4 181.4H1508.1M85.4 154.8H1508.1M85.4 128.1H1508.1M85.4 101.5H1508.1" stroke="#fff" stroke-opacity="0.26" stroke-width="1.1" fill="none"/>
<path d="M206.2 74.8V613.3M315.4 74.8V613.3M436.2 74.8V613.3M553.1 74.8V613.3M674.0 74.8V613.3M790.9 74.8V613.3M911.7 74.8V613.3M1032.6 74.8V613.3M1149.5 74.8V613.3M1270.3 74.8V613.3M1387.3 74.8V613.3" stroke="#fff" stroke-opacity="0.3" stroke-width="1.2" fill="none"/>
<g clip-path="url(#pc)" fill="none" stroke-width="1.9">
<path d="M85.4,214.78L87.3,214.77L89.3,214.75L91.2,214.74L93.2,214.72L95.1,214.70L97.1,214.68L99.0,214.67L101.0,214.65L102.9,214.63L104.9,214.61L106.8,214.59L108.8,214.57L110.7,214.54L112.7,214.52L114.6,214.50L116.6,214.47L118.5,214.45L120.5,214.42L122.4,214.40L124.4,214.37L126.3,214.35L128.3,214.32L130.2,214.29L132.2,214.26L134.1,214.23L136.1,214.20L138.0,214.17L140.0,214.14L141.9,214.11L143.9,214.08L145.8,214.05L147.8,214.01L149.7,213.98L151.7,213.95L153.6,213.91L155.6,213.88L157.5,213.84L159.5,213.80L161.4,213.77L163.4,213.73L165.3,213.69L167.3,213.66L169.2,213.62L171.2,213.58L173.1,213.54L175.0,213.50L177.0,213.46L178.9,213.42L180.9,213.37L182.8,213.33L184.8,213.29L186.7,213.25L188.7,213.20L190.6,213.16L192.6,213.12L194.5,213.07L196.5,213.03L198.4,212.98L200.4,212.93L202.3,212.89L204.3,212.84L206.2,212.79L208.2,212.75L210.1,212.70L212.1,212.65L214.0,212.60L216.0,212.55L217.9,212.50L219.9,212.45L221.8,212.40L223.8,212.35L225.7,212.30L227.7,212.25L229.6,212.20L231.6,212.15L233.5,212.09L235.5,212.04L237.4,211.99L239.4,211.93L241.3,211.88L243.3,211.83L245.2,211.77L247.2,211.72L249.1,211.66L251.1,211.61L253.0,211.55L255.0,211.50L256.9,211.44L258.9,211.38L260.8,211.33L262.8,211.27L264.7,211.21L266.6,211.15L268.6,211.10L270.5,211.04L272.5,210.98L274.4,210.92L276.4,210.86L278.3,210.80L280.3,210.74L282.2,210.69L284.2,210.63L286.1,210.57L288.1,210.51L290.0,210.45L292.0,210.38L293.9,210.32L295.9,210.26L297.8,210.20L299.8,210.14L301.7,210.08L303.7,210.02L305.6,209.96L307.6,209.89L309.5,209.83L311.5,209.77L313.4,209.71L315.4,209.64L317.3,209.58L319.3,209.52L321.2,209.45L323.2,209.39L325.1,209.33L327.1,209.26L329.0,209.20L331.0,209.13L332.9,209.07L334.9,209.01L336.8,208.94L338.8,208.88L340.7,208.81L342.7,208.75L344.6,208.68L346.6,208.62L348.5,208.55L350.5,208.49L352.4,208.42L354.3,208.36L356.3,208.29L358.2,208.23L360.2,208.16L362.1,208.10L364.1,208.03L366.0,207.96L368.0,207.90L369.9,207.83L371.9,207.77L373.8,207.70L375.8,207.63L377.7,207.57L379.7,207.50L381.6,207.43L383.6,207.37L385.5,207.30L387.5,207.24L389.4,207.17L391.4,207.10L393.3,207.04L395.3,206.97L397.2,206.90L399.2,206.84L401.1,206.77L403.1,206.70L405.0,206.64L407.0,206.57L408.9,206.50L410.9,206.44L412.8,206.37L414.8,206.30L416.7,206.24L418.7,206.17L420.6,206.10L422.6,206.04L424.5,205.97L426.5,205.90L428.4,205.84L430.4,205.77L432.3,205.70L434.3,205.64L436.2,205.57L438.2,205.50L440.1,205.44L442.0,205.37L444.0,205.31L445.9,205.24L447.9,205.17L449.8,205.11L451.8,205.04L453.7,204.98L455.7,204.91L457.6,204.84L459.6,204.78L461.5,204.71L463.5,204.65L465.4,204.58L467.4,204.52L469.3,204.45L471.3,204.39L473.2,204.32L475.2,204.26L477.1,204.19L479.1,204.13L481.0,204.06L483.0,204.00L484.9,203.94L486.9,203.87L488.8,203.81L490.8,203.74L492.7,203.68L494.7,203.62L496.6,203.55L498.6,203.49L500.5,203.43L502.5,203.37L504.4,203.30L506.4,203.24L508.3,203.18L510.3,203.12L512.2,203.05L514.2,202.99L516.1,202.93L518.1,202.87L520.0,202.81L522.0,202.75L523.9,202.69L525.9,202.63L527.8,202.57L529.8,202.51L531.7,202.45L533.6,202.39L535.6,202.33L537.5,202.27L539.5,202.21L541.4,202.15L543.4,202.10L545.3,202.04L547.3,201.98L549.2,201.92L551.2,201.87L553.1,201.81L555.1,201.75L557.0,201.70L559.0,201.64L560.9,201.59L562.9,201.53L564.8,201.48L566.8,201.42L568.7,201.37L570.7,201.31L572.6,201.26L574.6,201.21L576.5,201.15L578.5,201.10L580.4,201.05L582.4,201.00L584.3,200.95L586.3,200.90L588.2,200.85L590.2,200.80L592.1,200.75L594.1,200.70L596.0,200.65L598.0,200.60L599.9,200.55L601.9,200.50L603.8,200.46L605.8,200.41L607.7,200.36L609.7,200.32L611.6,200.27L613.6,200.23L615.5,200.18L617.5,200.14L619.4,200.10L621.3,200.05L623.3,200.01L625.2,199.97L627.2,199.93L629.1,199.89L631.1,199.85L633.0,199.81L635.0,199.77L636.9,199.73L638.9,199.69L640.8,199.65L642.8,199.61L644.7,199.58L646.7,199.54L648.6,199.50L650.6,199.47L652.5,199.43L654.5,199.40L656.4,199.37L658.4,199.33L660.3,199.30L662.3,199.27L664.2,199.24L666.2,199.21L668.1,199.18L670.1,199.15L672.0,199.12L674.0,199.09L675.9,199.06L677.9,199.04L679.8,199.01L681.8,198.98L683.7,198.96L685.7,198.93L687.6,198.91L689.6,198.89L691.5,198.86L693.5,198.84L695.4,198.82L697.4,198.80L699.3,198.78L701.3,198.76L703.2,198.74L705.2,198.72L707.1,198.71L709.0,198.69L711.0,198.67L712.9,198.66L714.9,198.64L716.8,198.63L718.8,198.62L720.7,198.61L722.7,198.59L724.6,198.58L726.6,198.57L728.5,198.56L730.5,198.55L732.4,198.54L734.4,198.54L736.3,198.53L738.3,198.52L740.2,198.52L742.2,198.51L744.1,198.51L746.1,198.50L748.0,198.50L750.0,198.50L751.9,198.50L753.9,198.50L755.8,198.50L757.8,198.50L759.7,198.50L761.7,198.50L763.6,198.50L765.6,198.51L767.5,198.51L769.5,198.52L771.4,198.52L773.4,198.53L775.3,198.54L777.3,198.54L779.2,198.55L781.2,198.56L783.1,198.57L785.1,198.58L787.0,198.59L789.0,198.61L790.9,198.62L792.9,198.63L794.8,198.64L796.7,198.66L798.7,198.67L800.6,198.69L802.6,198.71L804.5,198.72L806.5,198.74L808.4,198.76L810.4,198.78L812.3,198.80L814.3,198.82L816.2,198.84L818.2,198.86L820.1,198.89L822.1,198.91L824.0,198.93L826.0,198.96L827.9,198.98L829.9,199.01L831.8,199.04L833.8,199.06L835.7,199.09L837.7,199.12L839.6,199.15L841.6,199.18L843.5,199.21L845.5,199.24L847.4,199.27L849.4,199.30L851.3,199.33L853.3,199.37L855.2,199.40L857.2,199.43L859.1,199.47L861.1,199.50L863.0,199.54L865.0,199.58L866.9,199.61L868.9,199.65L870.8,199.69L872.8,199.73L874.7,199.77L876.7,199.81L878.6,199.85L880.6,199.89L882.5,199.93L884.5,199.97L886.4,200.01L888.3,200.05L890.3,200.10L892.2,200.14L894.2,200.18L896.1,200.23L898.1,200.27L900.0,200.32L902.0,200.36L903.9,200.41L905.9,200.46L907.8,200.50L909.8,200.55L911.7,200.60L913.7,200.65L915.6,200.70L917.6,200.75L919.5,200.80L921.5,200.85L923.4,200.90L925.4,200.95L927.3,201.00L929.3,201.05L931.2,201.10L933.2,201.15L935.1,201.21L937.1,201.26L939.0,201.31L941.0,201.37L942.9,201.42L944.9,201.48L946.8,201.53L948.8,201.59L950.7,201.64L952.7,201.70L954.6,201.75L956.6,201.81L958.5,201.87L960.5,201.92L962.4,201.98L964.4,202.04L966.3,202.10L968.3,202.15L970.2,202.21L972.2,202.27L974.1,202.33L976.0,202.39L978.0,202.45L979.9,202.51L981.9,202.57L983.8,202.63L985.8,202.69L987.7,202.75L989.7,202.81L991.6,202.87L993.6,202.93L995.5,202.99L997.5,203.05L999.4,203.12L1001.4,203.18L1003.3,203.24L1005.3,203.30L1007.2,203.37L1009.2,203.43L1011.1,203.49L1013.1,203.55L1015.0,203.62L1017.0,203.68L1018.9,203.74L1020.9,203.81L1022.8,203.87L1024.8,203.94L1026.7,204.00L1028.7,204.06L1030.6,204.13L1032.6,204.19L1034.5,204.26L1036.5,204.32L1038.4,204.39L1040.4,204.45L1042.3,204.52L1044.3,204.58L1046.2,204.65L1048.2,204.71L1050.1,204.78L1052.1,204.84L1054.0,204.91L1056.0,204.98L1057.9,205.04L1059.9,205.11L1061.8,205.17L1063.7,205.24L1065.7,205.31L1067.6,205.37L1069.6,205.44L1071.5,205.50L1073.5,205.57L1075.4,205.64L1077.4,205.70L1079.3,205.77L1081.3,205.84L1083.2,205.90L1085.2,205.97L1087.1,206.04L1089.1,206.10L1091.0,206.17L1093.0,206.24L1094.9,206.30L1096.9,206.37L1098.8,206.44L1100.8,206.50L1102.7,206.57L1104.7,206.64L1106.6,206.70L1108.6,206.77L1110.5,206.84L1112.5,206.90L1114.4,206.97L1116.4,207.04L1118.3,207.10L1120.3,207.17L1122.2,207.24L1124.2,207.30L1126.1,207.37L1128.1,207.43L1130.0,207.50L1132.0,207.57L1133.9,207.63L1135.9,207.70L1137.8,207.77L1139.8,207.83L1141.7,207.90L1143.7,207.96L1145.6,208.03L1147.6,208.10L1149.5,208.16L1151.5,208.23L1153.4,208.29L1155.3,208.36L1157.3,208.42L1159.2,208.49L1161.2,208.55L1163.1,208.62L1165.1,208.68L1167.0,208.75L1169.0,208.81L1170.9,208.88L1172.9,208.94L1174.8,209.01L1176.8,209.07L1178.7,209.13L1180.7,209.20L1182.6,209.26L1184.6,209.33L1186.5,209.39L1188.5,209.45L1190.4,209.52L1192.4,209.58L1194.3,209.64L1196.3,209.71L1198.2,209.77L1200.2,209.83L1202.1,209.89L1204.1,209.96L1206.0,210.02L1208.0,210.08L1209.9,210.14L1211.9,210.20L1213.8,210.26L1215.8,210.32L1217.7,210.38L1219.7,210.45L1221.6,210.51L1223.6,210.57L1225.5,210.63L1227.5,210.69L1229.4,210.74L1231.4,210.80L1233.3,210.86L1235.3,210.92L1237.2,210.98L1239.2,211.04L1241.1,211.10L1243.0,211.15L1245.0,211.21L1246.9,211.27L1248.9,211.33L1250.8,211.38L1252.8,211.44L1254.7,211.50L1256.7,211.55L1258.6,211.61L1260.6,211.66L1262.5,211.72L1264.5,211.77L1266.4,211.83L1268.4,211.88L1270.3,211.93L1272.3,211.99L1274.2,212.04L1276.2,212.09L1278.1,212.15L1280.1,212.20L1282.0,212.25L1284.0,212.30L1285.9,212.35L1287.9,212.40L1289.8,212.45L1291.8,212.50L1293.7,212.55L1295.7,212.60L1297.6,212.65L1299.6,212.70L1301.5,212.75L1303.5,212.79L1305.4,212.84L1307.4,212.89L1309.3,212.93L1311.3,212.98L1313.2,213.03L1315.2,213.07L1317.1,213.12L1319.1,213.16L1321.0,213.20L1323.0,213.25L1324.9,213.29L1326.9,213.33L1328.8,213.37L1330.7,213.42L1332.7,213.46L1334.6,213.50L1336.6,213.54L1338.5,213.58L1340.5,213.62L1342.4,213.66L1344.4,213.69L1346.3,213.73L1348.3,213.77L1350.2,213.80L1352.2,213.84L1354.1,213.88L1356.1,213.91L1358.0,213.95L1360.0,213.98L1361.9,214.01L1363.9,214.05L1365.8,214.08L1367.8,214.11L1369.7,214.14L1371.7,214.17L1373.6,214.20L1375.6,214.23L1377.5,214.26L1379.5,214.29L1381.4,214.32L1383.4,214.35L1385.3,214.37L1387.3,214.40L1389.2,214.42L1391.2,214.45L1393.1,214.47L1395.1,214.50L1397.0,214.52L1399.0,214.54L1400.9,214.57L1402.9,214.59L1404.8,214.61L1406.8,214.63L1408.7,214.65L1410.7,214.67L1412.6,214.68L1414.6,214.70L1416.5,214.72L1418.5,214.74L1420.4,214.75L1422.3,214.77L1424.3,214.78L1426.2,214.79L1428.2,214.81L1430.1,214.82L1432.1,214.83L1434.0,214.84L1436.0,214.85L1437.9,214.86L1439.9,214.87L1441.8,214.88L1443.8,214.89L1445.7,214.90L1447.7,214.90L1449.6,214.91L1451.6,214.91L1453.5,214.92L1455.5,214.92L1457.4,214.93L1459.4,214.93L1461.3,214.93L1463.3,214.93L1465.2,214.93L1467.2,214.93L1469.1,214.93L1471.1,214.93L1473.0,214.93L1475.0,214.93L1476.9,214.92L1478.9,214.92L1480.8,214.91L1482.8,214.91L1484.7,214.90L1486.7,214.90L1488.6,214.89L1490.6,214.88L1492.5,214.87L1494.5,214.86L1496.4,214.85L1498.4,214.84L1500.3,214.83L1502.3,214.82L1504.2,214.81L1506.2,214.79L1508.1,214.78L1510.0,214.77L1512.0,214.75" stroke="#00ec00" stroke-width="1.6"/>
<path d="M85.4,227.8C115.6,227.8,115.6,227.8,145.8,227.8C203.3,227.8,203.3,223.4,260.8,223.4C318.3,223.4,318.3,222.0,375.8,222.0C435.2,222.0,435.2,224.2,494.7,224.2C554.1,224.2,554.1,228.8,613.6,228.8C673.0,228.8,673.0,239.3,732.4,239.3C791.9,239.3,791.9,252.6,851.3,252.6C911.7,252.6,911.7,249.4,972.2,249.4C1031.6,249.4,1031.6,253.2,1091.0,253.2C1150.5,253.2,1150.5,249.1,1209.9,249.1C1269.4,249.1,1269.4,238.5,1328.8,238.5C1388.2,238.5,1388.2,231.0,1447.7,231.0C1477.9,231.0,1477.9,231.0,1508.1,231.0" stroke="#e8e83a" stroke-width="1.8"/>
<path d="M85.4,203.3C115.6,203.3,115.6,203.3,145.8,203.3C203.3,203.3,203.3,198.4,260.8,198.4C318.3,198.4,318.3,188.8,375.8,188.8C435.2,188.8,435.2,184.3,494.7,184.3C554.1,184.3,554.1,184.6,613.6,184.6C673.0,184.6,673.0,188.8,732.4,188.8C791.9,188.8,791.9,191.1,851.3,191.1C911.7,191.1,911.7,191.8,972.2,191.8C1031.6,191.8,1031.6,195.3,1091.0,195.3C1150.5,195.3,1150.5,198.6,1209.9,198.6C1269.4,198.6,1269.4,199.1,1328.8,199.1C1388.2,199.1,1388.2,203.1,1447.7,203.1C1477.9,203.1,1477.9,203.1,1508.1,203.1" stroke="#ff78ff" stroke-width="1.6"/>
<path d="M85.4,353.6C115.6,353.6,115.6,353.6,145.8,353.6C203.3,353.6,203.3,356.6,260.8,356.6C318.3,356.6,318.3,355.4,375.8,355.4C435.2,355.4,435.2,371.3,494.7,371.3C554.1,371.3,554.1,398.4,613.6,398.4C673.0,398.4,673.0,390.9,732.4,390.9C791.9,390.9,791.9,396.4,851.3,396.4C911.7,396.4,911.7,389.9,972.2,389.9C1031.6,389.9,1031.6,427.5,1091.0,427.5C1150.5,427.5,1150.5,439.1,1209.9,439.1C1269.4,439.1,1269.4,387.9,1328.8,387.9C1388.2,387.9,1388.2,352.4,1447.7,352.4C1477.9,352.4,1477.9,352.4,1508.1,352.4" stroke="#0a84e4"/>
</g>
<path d="M85.4 74.8V608.0M1508.1 74.8V608.0M80 74.8H1513.5M80 341.40000000000003H1513.5M80 608.0H1513.5M80 554.7H85.4M80 501.4H85.4M80 448.0H85.4M80 394.7H85.4M80 288.1H85.4M80 234.8H85.4M80 181.4H85.4M80 128.1H85.4M1508.1 330.3H1510.9M1508.1 319.2H1510.9M1508.1 308.1H1510.9M1508.1 297.0H1510.9M1508.1 285.9H1510.9M1508.1 274.8H1513.5M1508.1 263.6H1510.9M1508.1 252.5H1510.9M1508.1 241.4H1510.9M1508.1 230.3H1510.9M1508.1 219.2H1510.9M1508.1 208.1H1513.5M1508.1 197.0H1510.9M1508.1 185.9H1510.9M1508.1 174.8H1510.9M1508.1 163.7H1510.9M1508.1 152.6H1510.9M1508.1 141.5H1513.5M1508.1 130.3H1510.9M1508.1 119.2H1510.9M1508.1 108.1H1510.9M1508.1 97.0H1510.9M1508.1 85.9H1510.9M1508.1 408.1H1513.5M1508.1 474.7H1513.5M1508.1 541.4H1513.5M85.4 608.0V613.3M1508.1 608.0V613.3" stroke="#d2d2d2" stroke-width="1.5" fill="none"/>
<g font-size="16.4" fill="#cfcfcf"><text transform="matrix(1 0 0 1.04 0 -24.55)" x="73.0" y="613.8" text-anchor="end">-50</text><text transform="matrix(1 0 0 1.04 0 -22.42)" x="73.0" y="560.5" text-anchor="end">-40</text><text transform="matrix(1 0 0 1.04 0 -20.29)" x="73.0" y="507.2" text-anchor="end">-30</text><text transform="matrix(1 0 0 1.04 0 -18.15)" x="73.0" y="453.8" text-anchor="end">-20</text><text transform="matrix(1 0 0 1.04 0 -16.02)" x="73.0" y="400.5" text-anchor="end">-10</text><text transform="matrix(1 0 0 1.04 0 -13.89)" x="73.0" y="347.2" text-anchor="end">0</text><text transform="matrix(1 0 0 1.04 0 -11.76)" x="73.0" y="293.9" text-anchor="end">10</text><text transform="matrix(1 0 0 1.04 0 -9.62)" x="73.0" y="240.6" text-anchor="end">20</text><text transform="matrix(1 0 0 1.04 0 -7.49)" x="73.0" y="187.2" text-anchor="end">30</text><text transform="matrix(1 0 0 1.04 0 -5.36)" x="73.0" y="133.9" text-anchor="end">40</text><text transform="matrix(1 0 0 1.04 0 -3.22)" x="73.0" y="80.6" text-anchor="end">50</text><text transform="matrix(1 0 0 1.04 0 -13.89)" x="1541.4" y="347.2" text-anchor="end">0</text><text transform="matrix(1 0 0 1.04 0 -11.22)" x="1541.4" y="280.6" text-anchor="end">6</text><text transform="matrix(1 0 0 1.04 0 -8.56)" x="1541.4" y="213.9" text-anchor="end">12</text><text transform="matrix(1 0 0 1.04 0 -5.89)" x="1541.4" y="147.3" text-anchor="end">18</text><text transform="matrix(1 0 0 1.04 0 -3.22)" x="1541.4" y="80.6" text-anchor="end">24</text><text transform="matrix(1 0 0 1.04 0 -16.56)" x="1541.4" y="413.9" text-anchor="end">10</text><text transform="matrix(1 0 0 1.04 0 -19.22)" x="1541.4" y="480.5" text-anchor="end">20</text><text transform="matrix(1 0 0 1.04 0 -21.88)" x="1541.4" y="547.1" text-anchor="end">30</text><text transform="matrix(1 0 0 1.04 0 -24.55)" x="1541.4" y="613.8" text-anchor="end">40</text><text transform="matrix(1 0 0 1.04 0 -25.28)" x="145.8" y="632" text-anchor="middle">Jan</text><text transform="matrix(1 0 0 1.04 0 -25.28)" x="260.8" y="632" text-anchor="middle">Feb</text><text transform="matrix(1 0 0 1.04 0 -25.28)" x="375.8" y="632" text-anchor="middle">Mar</text><text transform="matrix(1 0 0 1.04 0 -25.28)" x="494.7" y="632" text-anchor="middle">Apr</text><text transform="matrix(1 0 0 1.04 0 -25.28)" x="613.6" y="632" text-anchor="middle">May</text><text transform="matrix(1 0 0 1.04 0 -25.28)" x="732.4" y="632" text-anchor="middle">Jun</text><text transform="matrix(1 0 0 1.04 0 -25.28)" x="851.3" y="632" text-anchor="middle">Jul</text><text transform="matrix(1 0 0 1.04 0 -25.28)" x="972.2" y="632" text-anchor="middle">Aug</text><text transform="matrix(1 0 0 1.04 0 -25.28)" x="1091.0" y="632" text-anchor="middle">Sep</text><text transform="matrix(1 0 0 1.04 0 -25.28)" x="1209.9" y="632" text-anchor="middle">Oct</text><text transform="matrix(1 0 0 1.04 0 -25.28)" x="1328.8" y="632" text-anchor="middle">Nov</text><text transform="matrix(1 0 0 1.04 0 -25.28)" x="1447.7" y="632" text-anchor="middle">Dec</text></g>
<text transform="matrix(1 0 0 1.04 0 -1.22)" x="796.5" y="30.4" font-size="23.4" fill="#f2f2f2" text-anchor="middle">Compare Climate</text>
<text transform="matrix(1 0 0 1.04 0 -2.72)" x="85.6" y="68" font-size="23.4" fill="#f2f2f2">Hua Hin</text>
<text transform="matrix(1 0 0 1.04 0 -2.72)" x="1507" y="68" font-size="23.4" fill="#f2f2f2" text-anchor="end">Hua Hin</text>
<text transform="translate(44.2 341.4) rotate(-90) scale(1 1.04)" font-size="20.9" fill="#cfcfcf" text-anchor="middle">Temperature °C</text>
<text transform="translate(1555.2 208.1) rotate(90) scale(1 1.04)" font-size="20.9" fill="#cfcfcf" text-anchor="middle">Day / Sunshine (h)</text>
<text transform="translate(1555.2 474.7) rotate(90) scale(1 1.04)" font-size="20.9" fill="#cfcfcf" text-anchor="middle">Rain / Snow (mm)</text>
<g font-size="20.9" fill="#cfcfcf"><text transform="matrix(1 0 0 1.04 0 -27.31)" x="86.2" y="682.7">Temperature °C</text><rect x="85.1" y="699.2" width="16" height="30.6" fill="url(#gRange)"/><text transform="matrix(1 0 0 1.04 0 -28.86)" x="108.8" y="721.5">Range min / max per day</text><rect x="85.1" y="753.6" width="16" height="2" fill="#f070f0"/><text transform="matrix(1 0 0 1.04 0 -30.42)" x="108.8" y="760.4">Monthly average</text><text transform="matrix(1 0 0 1.04 0 -27.31)" x="553.6" y="682.7">Day / Sunshine (h)</text><rect x="553" y="714.6" width="16" height="2" fill="#10e010"/><text transform="matrix(1 0 0 1.04 0 -28.86)" x="576.8" y="721.5">Daylight per day</text><rect x="553" y="738.2" width="16" height="30.9" fill="url(#gSun)"/><text transform="matrix(1 0 0 1.04 0 -30.42)" x="576.8" y="760.4">Sunshine per day</text><rect x="553" y="792.6" width="16" height="2" fill="#f0f03c"/><text transform="matrix(1 0 0 1.04 0 -31.97)" x="576.8" y="799.2">Monthly average sunshine</text><text transform="matrix(1 0 0 1.04 0 -27.31)" x="942.8" y="682.7">Rain (mm)</text><rect x="943" y="699.2" width="15.6" height="30.6" fill="url(#gRain)"/><text transform="matrix(1 0 0 1.04 0 -28.86)" x="966.3" y="721.5">Rain per day</text><rect x="943" y="753.6" width="15.6" height="2" fill="#0a84e4"/><text transform="matrix(1 0 0 1.04 0 -30.42)" x="966.3" y="760.4">Monthly average</text><text transform="matrix(1 0 0 1.04 0 -27.31)" x="1255.3" y="682.7">Snow (mm)</text><rect x="1255" y="699.2" width="15.6" height="30.6" fill="url(#gSnow)"/><text transform="matrix(1 0 0 1.04 0 -28.86)" x="1278.6" y="721.5">Snow per day</text><rect x="1255" y="753.6" width="15.6" height="2" fill="#e6e6e6"/><text transform="matrix(1 0 0 1.04 0 -30.42)" x="1278.6" y="760.4">Monthly average</text></g>
<text transform="matrix(1 0 0 1.04 0 -32.06)" x="1569.5" y="801.5" font-size="15.7" fill="#cfcfcf" text-anchor="end">© ClimeChart.com</text>
</svg>
</body></html>
